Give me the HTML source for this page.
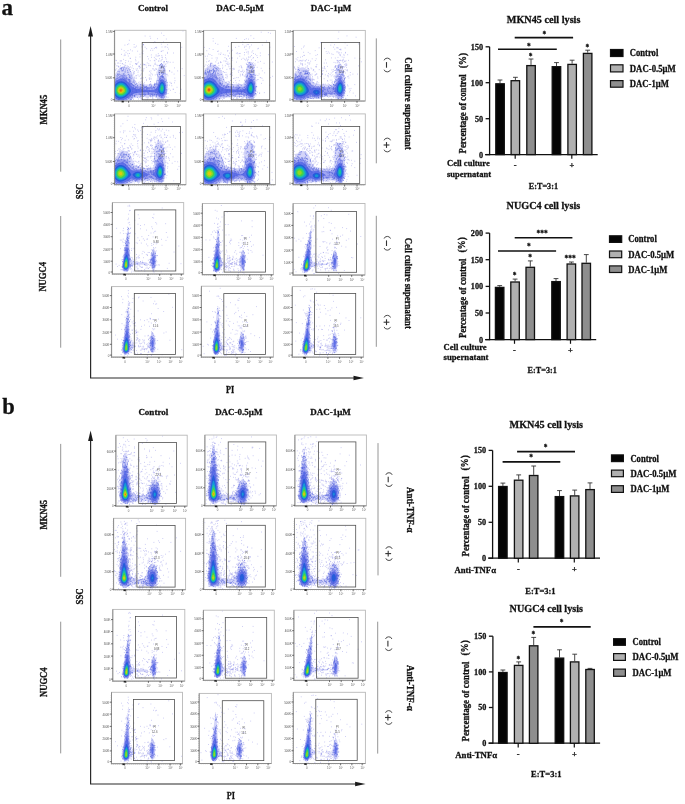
<!DOCTYPE html>
<html><head><meta charset="utf-8"><style>
html,body{margin:0;padding:0;background:#fff;width:685px;height:804px;overflow:hidden}
svg{display:block;font-family:"Liberation Serif",serif;font-weight:bold;will-change:transform;filter:blur(.35px)}
</style></head><body>
<svg width="685" height="804" viewBox="0 0 685 804" fill="#111">
<defs><filter id="bl" x="-5%" y="-5%" width="110%" height="110%"><feGaussianBlur stdDeviation=".55"/></filter><g id="a0" filter="url(#bl)"><path fill="#d4d5f9" d="M47.2 -37.3L46.2 -37.1L45.2 -36.2L43.9 -33.2L43 -29.2L42.1 -21.2L41.2 -18.3L40.2 -17.2L38.2 -16.6L33.8 -16.5L27.8 -16.7L24.3 -17.2L22.2 -18L21.1 -18.8L20.2 -19.8L17.4 -28.2L15.9 -30.8L14.2 -32.7L12.2 -34.1L9.8 -34.8L7.8 -34.5L5.4 -33.2L3.2 -30.9L.2 -26.3L-.2 -14.2L.1 -.2L.8 -0L6.2 .1L15.1 -.2L17.8 -2.1L20.2 -3.1L23.8 -3.6L28.8 -3.9L40.2 -3.9L42.5 -3.2L45.2 -1.6L46.8 -.9L48.2 -1L49.2 -1.6L51 -3.8L52.4 -7.2L53 -11.2L53.1 -15.8L51.5 -27.8L50.6 -32.2L49.2 -35.6L48.2 -36.8L47.2 -37.3Z"/><path fill="#a0a5f2" d="M47.8 -25.8L46.8 -25.7L45.2 -23.8L42.8 -17.3L41.8 -15.5L40.2 -14.5L37.2 -14.1L26.2 -14.4L22.8 -14.7L20.6 -15.2L18.8 -16.1L17.4 -17.2L13.4 -23.2L11.2 -25.3L9.8 -26L8.2 -26.1L6.8 -25.9L4.8 -25L2.2 -23.3L.2 -21.5L-.1 -10.8L.2 -1.1L1.8 -.2L11.5 -.2L16.2 -3.7L18.2 -4.7L21.2 -5.5L25.8 -5.9L40.2 -6L42.2 -5.5L46.2 -3.1L47.2 -2.9L48.2 -3.1L49.8 -4.3L51.1 -6.8L51.9 -10.2L52.1 -13.8L51.7 -17.8L50.8 -21.1L49.2 -24.3L47.8 -25.8Z"/><path fill="#5f70e8" d="M8.2 -22.3L6.2 -22.3L4.2 -21.8L2.2 -20.7L.2 -18.9L-0 -10.8L.2 -3.1L1.8 -1.9L3.8 -.9L6.2 -.5L9.2 -1L11.8 -2.3L17.8 -6.6L19.8 -7.5L22.2 -8.1L30.8 -8.9L39.2 -8.8L41.8 -8L45.2 -5.3L47.2 -4.5L48.2 -4.8L49.2 -5.6L50.6 -8.2L51.3 -12.2L50.9 -16.8L49.6 -20.2L48.8 -21.3L47.8 -21.8L46.2 -21.4L45.3 -20.2L42.8 -14.3L41.2 -12.2L39.2 -11.3L35.2 -11.1L25.2 -11.7L22.2 -12.1L19.8 -12.9L16.8 -14.9L11.8 -20.5L10.2 -21.6L8.2 -22.3Z"/><path fill="#265cda" d="M6.8 -19.8L4.8 -19.5L2.8 -18.6L.8 -16.7L.2 -16L.2 -15.2L.2 -5.7L1.2 -4.5L2.8 -3.3L4.2 -2.6L5.8 -2.3L8.8 -2.8L11.8 -4.4L15.3 -7.8L16.3 -9.2L16.5 -10.2L16.3 -11.2L15.5 -12.8L11.8 -17.4L9.2 -19.2L6.8 -19.8ZM48.2 -19L47.8 -19.2L46.8 -19L45.6 -17.8L44.3 -14.8L43.6 -11.2L43.7 -9.8L44.4 -8.2L45.8 -6.9L47.2 -6.4L48.2 -6.7L49.2 -7.8L50 -9.8L50.3 -11.8L50.3 -14.2L49.9 -16.2L49.2 -17.8L48.2 -19Z"/><path fill="#1496d7" d="M8.2 -17.9L5.8 -18.2L3.2 -17.2L1.3 -15.2L.2 -13L.2 -8.5L.7 -7.2L2.2 -5.2L4.8 -3.8L7.2 -3.8L10.2 -5L12.9 -7.2L13.9 -8.8L14.3 -9.8L14.1 -11.8L12.6 -14.2L10.8 -16.3L8.2 -17.9ZM47.8 -17.4L46.8 -17.2L45.8 -15.9L45 -13.8L44.7 -11.8L45.3 -9.2L46.2 -8.2L47.2 -7.9L48.2 -8.3L48.8 -8.9L49.3 -10.2L49.6 -12.2L49.2 -15.4L48.8 -16.5L47.8 -17.4Z"/><path fill="#1ec3a0" d="M6.8 -16.8L4.8 -16.6L2.8 -15.3L1.5 -13.2L1 -11.2L1.3 -8.8L2.2 -6.9L3.8 -5.5L5.8 -4.9L8.2 -5.3L10.7 -6.8L12.1 -8.2L12.8 -10.2L12.4 -12.2L10.8 -14.6L8.8 -16.2L6.8 -16.8ZM47.8 -15.7L47.2 -15.7L46.6 -15.2L45.7 -12.8L45.7 -11.2L46.1 -10.2L46.8 -9.5L47.2 -9.4L48.2 -10.1L48.9 -12.2L48.7 -14.2L47.8 -15.7Z"/><path fill="#46d246" d="M6.8 -15.8L5.2 -15.7L3.6 -14.8L2.4 -13.2L1.9 -11.2L2 -9.2L2.8 -7.7L4.2 -6.3L5.8 -5.9L7.8 -6.1L9.8 -7.2L11.1 -8.8L11.6 -10.2L11.2 -12.2L10.2 -13.8L8.3 -15.2L6.8 -15.8ZM47.8 -13.4L47.2 -13.7L46.8 -12.8L46.8 -12.2L47.2 -11.3L47.8 -11.8L47.8 -13.4Z"/><path fill="#96d723" d="M7.8 -14.3L6.2 -14.7L4.8 -14.3L3.8 -13.5L3 -12.2L2.7 -10.8L3 -9.2L4 -7.8L5.2 -7L6.8 -6.9L8.2 -7.5L9.7 -8.8L10.3 -9.8L10.4 -10.8L9.9 -12.2L9.2 -13.2L7.8 -14.3Z"/><path fill="#e1c80f" d="M7.2 -13.3L6.2 -13.6L5.2 -13.4L4.4 -12.8L3.8 -11.8L3.8 -9.8L4.4 -8.8L5.2 -8.2L6.2 -8L7.2 -8.2L8.1 -8.8L8.9 -9.8L9.1 -10.8L8.8 -11.8L8.1 -12.8L7.2 -13.3Z"/><path fill="#f0870f" d="M6.8 -12.4L5.4 -12.2L4.7 -11.2L4.8 -10L5.8 -9.1L7 -9.2L7.8 -10.2L7.8 -11.4L6.8 -12.4Z"/><path fill="#e63c14" d="M6.2 -11.3L5.7 -10.8L6.2 -10.2L6.7 -10.8L6.2 -11.3Z"/><g stroke-width="1" stroke-linecap="round"><path stroke="#7070e0" stroke-opacity=".42" d="M38.2 -50.7h0M48.4 -50.4h0M41 -36.7h0M56.5 -17.9h0M48.5 -1h0M22.9 -32.2h0M24.5 -34.4h0M40.1 -59.2h0M40.8 -53.5h0M22.1 -30.6h0M10.3 -55.9h0M36.4 -22.3h0M4.4 -34h0M25.9 -25.9h0M44 -45.2h0M21.5 -22.6h0M20.1 -20.3h0M24.1 -38.9h0M23.1 -37.9h0M18.9 -32.3h0M29.4 -36.1h0M23.4 -28.7h0M14.1 -34.3h0M65.6 -7.6h0M10.3 -35.5h0M53.6 -7.5h0M49.2 -39h0M49.5 -39.3h0M39.7 -40.6h0M63.1 -30.1h0M54.3 -12h0M42 -26.9h0M33.9 -35.4h0M41.7 -53.7h0M15.6 -42.8h0M19 -1.5h0M36.1 -28.1h0M10.7 -45.8h0M30.3 -36.6h0M20.8 -41.7h0M19.1 -27.6h0M7.6 -37.3h0M15.5 -36.8h0M39.9 -17.3h0M26.6 -30.7h0M52.1 -39.6h0M11.1 -35.7h0M31 -23.5h0M47 -67.9h0M29.4 -32.5h0M24.6 -24.8h0M20.9 -37.5h0M40.3 -30.9h0M41.7 -19.7h0M19.5 -56.5h0M47.2 -45.5h0M19.6 -22h0M36.2 -3.8h0M34.9 -21.5h0M4.1 -34.2h0M27.4 -54.1h0M32.6 -38.1h0M15.8 -31.5h0M40.7 -37.9h0M14.2 -57.1h0M23.4 -26.1h0M19.5 -29.4h0M35.7 -17.1h0M53 -48.6h0M36.1 -62.7h0M67.5 -32.3h0M12.8 -56.4h0M50.5 -31.9h0M39.7 -43.6h0M49.4 -38h0M69.6 -25.4h0M43.2 -35.3h0M52.3 -26.5h0M43.1 -1.5h0M27.3 -19.8h0M53.3 -25.2h0M49.7 -39.4h0M26.3 -3.5h0M19.5 -53.9h0M26.6 -22.6h0M16 -51.2h0M38.2 -2.3h0M37.2 -52.5h0M7.1 -51.7h0M25.2 -34.8h0M18.7 -28.5h0M11 -38.3h0M11.4 -48.7h0M21.7 -25.3h0M37.2 -27.2h0M55.4 -18.7h0M42.2 -28.8h0M35.9 -16.7h0M51.6 -3.9h0M29.9 -18.2h0M8.8 -41.6h0M22.3 -36.8h0M30.5 -53.8h0M21.5 -32h0M11.2 -40.5h0M53.4 -3.7h0M25.3 -46.8h0M60.4 -20.3h0M49.9 -35.5h0M12.6 -34.1h0M9.6 -45.4h0M33.8 -3.3h0M67.2 -53.7h0M9.6 -50.3h0M41.2 -32.3h0M33 -3.3h0M19.6 -24h0M26.1 -18.8h0M21.8 -54.9h0M3.8 -38h0M38.3 -2.9h0M35.4 -16.6h0M56.7 -17.4h0M13.4 -50.4h0M19.6 -27.3h0M31.6 -3.4h0M14.7 -60.7h0M43 -2.3h0M58.7 -11.7h0M38.8 -35h0M9.3 -36.6h0M41.6 -31.8h0M7.9 -37.3h0M40.6 -26.1h0M13.5 -33.9h0M33.1 -44.5h0M26.2 -22.3h0M44.2 -2h0M21.8 -37.4h0M40 -36.9h0M35.3 -35.6h0M36.7 -46.1h0M27.3 -23.2h0M47.4 -54h0M21.2 -37h0M57.2 -15.3h0M28.5 -49.9h0M31.4 -35.8h0M41 -58.7h0M36.6 -16.8h0M35.7 -25.9h0M43 -62.3h0M39.9 -17.8h0M44.6 -35.6h0M17.7 -50.1h0M42.1 -53h0M46.7 -56.8h0M34.6 -25.9h0M51 -2h0M35.4 -64.7h0M39.6 -30.7h0M2 -40.4h0M51.5 -34.8h0M59.5 -26.9h0M21.3 -40.2h0M25.3 -17.3h0M36.3 -24.1h0M36.4 -30.1h0M45 -45.4h0M55.6 -38.7h0M13.7 -45h0M6.9 -46.6h0M1.2 -30.8h0M29 -17.1h0M20.7 -53.8h0M18.2 -30.4h0M53.1 -53.6h0M24.9 -32.9h0M55.2 -29.9h0M36.1 -35.3h0M38 -26.1h0M12.6 -35.2h0M51.6 -41.9h0M47.2 -43.8h0M21.2 -43.8h0M40.7 -42.2h0M59.9 -18.2h0M32.1 -33.7h0M46.8 -41.1h0M13.2 -47.3h0M1.2 -40.7h0M50.5 -34h0M31.4 -1h0M2.2 -32.2h0M42.2 -31.7h0M62.4 -13.7h0M20 -29.1h0M48 -41.8h0M44.2 -40.1h0M24.6 -19h0M60.2 -22.9h0M35.8 -19.4h0M23.7 -18.3h0M23.1 -49.8h0M51.2 -54.2h0M30.5 -65h0M25.9 -36.6h0M58.9 -48h0M50.9 -43.4h0M23.6 -30.2h0M54.8 -30.1h0M24.5 -34.3h0M32 -21.6h0M51.8 -4.1h0M25.4 -44.1h0M38.8 -32.1h0M50.6 -36.4h0M34.2 -37.2h0M21.5 -23.1h0M21.2 -19.4h0M35.6 -40.3h0M28.4 -47.3h0M29.1 -31h0M15.8 -34.1h0M20 -23.1h0M44.2 -39.8h0M48.9 -59h0M1 -37h0M15.7 -42.5h0M66.5 -11.7h0M51.7 -62h0M28.1 -16.9h0M23.9 -2h0M14.9 -33.3h0M36.1 -50.7h0M26.7 -27.1h0M54.7 -15.8h0M48 -43.7h0M52.1 -39.3h0M50.8 -45.8h0M52.8 -47.6h0M36.5 -21.9h0M58.5 -38.7h0M60.6 -8.5h0M51.4 -37.2h0M21.3 -25.2h0M34.6 -22.8h0M68.4 -70h0M33.9 -42.1h0M39 -58.4h0M55.8 -10.7h0M35.8 -19.3h0M53.1 -38.1h0M29.8 -36.4h0M14.9 -47.5h0M59.9 -33.1h0M32.1 -52.3h0M34.8 -23h0M41.8 -41.6h0M27.5 -48h0M20.7 -19.9h0M.7 -31.2h0M47.1 -49.7h0M24.4 -35.1h0M25.8 -33.3h0M28.5 -29.8h0M13.9 -39.8h0M53.5 -39.2h0M49.3 -65.5h0M53.8 -51.9h0M54.8 -30.3h0M26.9 -2h0M33 -1.7h0M27.5 -2.2h0M6.5 -40.1h0M4 -34.7h0M25 -3.7h0M40.4 -40.1h0M6.5 -40.1h0M32 -20.4h0M57.3 -28.8h0M5.5 -40h0M37.8 -32.2h0M35 -29.7h0M28.8 -36.8h0M1.7 -35.2h0M28.5 -23.1h0M18.7 -26.2h0M21.8 -36.5h0M43.2 -44.9h0M29.1 -56.1h0M46.3 -40h0M58.6 -11.8h0M10.2 -46.9h0M26.1 -2.1h0M42.3 -36h0M3.2 -35.1h0M52.4 -26.8h0M5.8 -35.2h0M41.5 -46.1h0M53.1 -56.3h0M41.5 -44.9h0M28.7 -56.6h0M44.8 -42.3h0M36.9 -43.7h0M43.7 -47.3h0M16.4 -39.2h0M39.7 -52.6h0M17.9 -35.2h0M50.3 -54h0M27.7 -18.7h0M51.1 -30.2h0M17.3 -33.1h0M46.5 -49.7h0M3 -37.9h0M28.8 -56.4h0M5.5 -37.7h0"/><path stroke="#5060dc" stroke-opacity=".6" d="M12 -22h0M31.3 -6.2h0M28.3 -13.6h0M19.5 -18.9h0M7.9 -23.1h0M38.5 -14.2h0M38.7 -13.4h0M1.6 -20h0M44.1 -5.6h0M21.9 -17.7h0M20.7 -8.6h0M18 -11.7h0M6.6 -32h0M42.4 -12.1h0M14.8 -21h0M15.3 -23.4h0M31.8 -12.2h0M33.5 -6.9h0M35.4 -5.4h0M14.4 -26.3h0M2.2 -2.1h0M16.6 -3.1h0M48 -26.6h0M2.3 -25.3h0M41.6 -11.3h0M5.9 -22.3h0M10.4 -22.2h0M39.7 -6.3h0M50.1 -3.9h0M16 -20.9h0M22.6 -12.2h0M8.7 -27.2h0M46.7 -37.5h0M25.7 -9h0M48 -6.2h0M6.9 -21.3h0M17.7 -18.8h0M46.3 -24.7h0M27.8 -10.9h0M6.8 -33.3h0M51.8 -8.7h0M17.6 -3.2h0M41.9 -6.6h0M34.9 -16.2h0M39.5 -13.7h0M10.5 -29h0M43.2 -7h0M19.3 -11.9h0M13.8 -18.5h0M46.7 -4.6h0M7.4 -26.8h0M15.7 -16.6h0M50.5 -27.1h0M11.3 -19.1h0M4.5 -27h0M36.7 -14.6h0M30.8 -8.1h0M20.9 -10.8h0M32.1 -11.4h0M17.6 -3.9h0M34.7 -11.1h0M49.2 -29.2h0M30.2 -5.7h0M39.7 -16.1h0M13.2 -18.9h0M49.4 -27.6h0M10 -20.2h0M36.8 -15.7h0M51.1 -15.6h0M17.7 -5.2h0M20.5 -8.7h0M20.8 -12.8h0M33.3 -13.5h0M31 -13.7h0M48.4 -24.2h0M49 -33.3h0M47.3 -34.3h0M5.7 -32.7h0M11.8 -25.2h0M4.9 -29.2h0M18.2 -9.3h0M41.3 -5.9h0M50.5 -21.9h0M22.5 -13.2h0M8.3 -33.5h0M11.7 -22.7h0M42.3 -6.4h0M16.9 -17.7h0M23.4 -13.2h0M20.1 -5.6h0M37.3 -7.8h0M19.8 -17.2h0M52.1 -9.8h0M13.4 -17.3h0M1.5 -22.8h0M22.1 -13.8h0M51.1 -8.1h0M19 -15.7h0M48.8 -26.8h0M16.5 -16.7h0M17.8 -16.8h0M44.6 -22h0M25.7 -12.6h0M11.2 -19.6h0M38.4 -8.9h0M39.8 -13.2h0M17.8 -11.8h0M28.2 -15.6h0M11.6 -32.7h0M21.5 -16.3h0M46 -20.7h0M27.9 -6h0M18 -9.5h0M47.8 -24h0M44 -16.7h0M49.9 -34.4h0M10.7 -31h0M42.8 -25.2h0M32.1 -12.9h0M47.4 -34h0M52.2 -10.8h0M12.1 -23.3h0M45.7 -33.1h0M16.5 -25.8h0M16.3 -1.6h0M34.3 -8h0M45 -28.5h0M14.8 -24.4h0M29.7 -6.9h0M21.5 -6.6h0M8.2 -22.4h0M30.9 -6.4h0M45.1 -30.3h0M29.7 -12.1h0M44.9 -5.5h0M34.6 -7.1h0M16.9 -8.1h0M4.5 -23.2h0M49.4 -19.6h0M12.2 -1.4h0M41.8 -5.1h0M20.2 -15.6h0M49.5 -4h0M42.9 -11.3h0M24.8 -11.8h0M35 -12.8h0M19.7 -4.8h0M6.7 -32h0M3.4 -25.6h0M17 -1.6h0M25.4 -6.7h0M3.8 -1.1h0M29.1 -9.4h0M45.6 -20.4h0M38.9 -14h0M8.8 -1.2h0M15.1 -3.3h0M47.6 -4h0M25.6 -14.7h0M39.8 -5.8h0M40.7 -17h0M29.1 -14.6h0M52.7 -18.3h0M10.5 -26.1h0M37.7 -5.3h0M26.6 -5.1h0M45.4 -4.4h0M3.3 -26.9h0M47.9 -25.7h0M11.3 -1.8h0M13.4 -28.4h0M16 -29.5h0M40.1 -6.7h0M15.8 -1.2h0M8.9 -27h0M22.7 -15.2h0M50.3 -6.7h0M32.4 -12.1h0M2.5 -23.9h0M14.8 -21.6h0M46.1 -24.2h0M15.9 -20h0M45 -23.8h0M6 -26.2h0M41.4 -10.6h0M16.5 -24.8h0M15.5 -2.7h0M51.2 -8.7h0M16.6 -6.1h0M40.1 -15.7h0M48.6 -2.8h0M44.9 -26.6h0M46.6 -3.4h0M46.7 -3.8h0M47.9 -24.2h0M33.2 -11.9h0M18.9 -13h0M25.9 -5.8h0M44.7 -35.4h0M41.3 -7.1h0M32.4 -8.2h0M21.8 -10.6h0M1.3 -21.8h0M2.7 -22.5h0M51.8 -20.8h0M15 -23.4h0M19.3 -9h0M34.1 -12.4h0M39.8 -13h0M34.2 -7.2h0M14.7 -21h0M39.8 -16.3h0M13.4 -26h0M13.5 -21.5h0M14 -2.8h0M47.2 -27.7h0M33.6 -6.9h0M3.5 -19.9h0M50.8 -19.4h0M5 -26.7h0M17.4 -16.8h0M47.5 -28.4h0M22 -8.8h0M35.3 -15.1h0M45.3 -19h0M15.4 -6h0M10.5 -29.1h0M34 -8.4h0M46.8 -20.6h0M41.8 -10.9h0M28.8 -4.6h0M45.2 -20.7h0M42.9 -26.7h0M27.3 -16.9h0M32.1 -13.2h0M1.4 -20.8h0M20.3 -12.4h0M29 -12.7h0M10 -27.1h0M37.4 -12.1h0M7 -30.2h0M30.3 -9.4h0M20.3 -14.2h0M17.4 -23.1h0M16 -17.6h0M27.6 -15.5h0M24.4 -7.1h0M44.6 -4.3h0M41 -8.7h0M1.8 -2.9h0M13.2 -29h0M52.1 -19h0M42.1 -18.1h0M48.7 -29.8h0M21.2 -13.8h0M17 -22.2h0M51.3 -11.3h0M17 -17.5h0M49.5 -22.8h0M28.5 -6.6h0M29.2 -12.2h0M11.8 -18.6h0M19.3 -20.8h0M48.6 -24h0M33.8 -8h0M41.9 -4.7h0M14.8 -6.4h0M14.4 -24h0M38.3 -5.9h0M16 -23.8h0M19.3 -18.5h0M43 -9.1h0M51.4 -7h0M27.3 -6.7h0M49.9 -32.2h0M29.8 -13.6h0M23 -15.7h0M9.2 -23.9h0M37.1 -6.6h0M32.8 -12.7h0M23.9 -11.6h0M13 -30.6h0M52.2 -11.5h0M19.6 -4.6h0M40.2 -16.1h0M11.7 -20.3h0M26.4 -11.5h0M3.5 -1h0M35.6 -13h0M4.7 -1.4h0M43.2 -6.6h0M26.4 -13.8h0M45.9 -22.6h0M29.4 -15.9h0M32.8 -8.8h0M47.5 -24h0M9.8 -33.9h0M48.5 -5.8h0M46.9 -28.1h0M14.7 -18.6h0M17.4 -7.1h0M16 -4.4h0M30.4 -14h0M27.2 -11h0M17.1 -15.8h0M26.1 -4.4h0M17.7 -16.1h0M31.1 -14h0M43.5 -30.1h0M9.3 -23.1h0M14.9 -31.1h0M50.3 -17.6h0M13.8 -21.1h0M14.7 -20.7h0M17.2 -6.2h0M14.8 -25.5h0M14.4 -22h0M47.5 -28.8h0M37.1 -14.2h0M4.1 -25.8h0M48.8 -31h0M35.7 -5.8h0M30.3 -14.2h0M14.3 -2.2h0M47.5 -28h0M44.1 -24.1h0M27.8 -9.7h0M39.3 -7.1h0M33.4 -13.1h0M14 -26.6h0M43.8 -15.4h0M22.1 -9.5h0M36.1 -7.4h0M12 -3.5h0M23 -3.6h0M48.4 -3.1h0M38.1 -4h0M45.2 -22h0M30.1 -5.9h0M10.1 -22.7h0M9 -21.5h0M29.6 -8.8h0M25.8 -16.6h0M45.3 -21.9h0M18 -10.3h0M11.3 -21.3h0M18.9 -15.8h0M52.7 -15.9h0M3.2 -26.6h0M9.1 -31.5h0M14.3 -17.3h0M10.5 -22h0M52.2 -7.4h0M45.8 -36.4h0M23.3 -14.9h0M3.5 -29.5h0M35.4 -9.5h0M28.9 -15.2h0M30.2 -10.3h0M28.9 -9.5h0M38.2 -6.9h0M19 -15h0M12.4 -4.3h0M48.7 -24h0M46.9 -24.9h0M46.8 -1.9h0M36.2 -4.6h0M7.2 -22.5h0M15.1 -19.1h0M9 -32.7h0M29.3 -6.7h0M40.7 -8.2h0M26.1 -12.7h0M10.3 -25.5h0M36.5 -9.3h0M16.6 -19.9h0M5.4 -24.8h0M45.5 -36h0M32.4 -9.4h0M10.5 -21.8h0M20.3 -4.5h0M15.8 -22.2h0M46.6 -34h0M42.6 -20.5h0M26.2 -13.1h0M2.6 -24.6h0M20.9 -16.4h0M38.6 -5.5h0M8.6 -22.9h0M47 -34.9h0M51.2 -15.6h0M20.2 -5.4h0M47.7 -35.5h0M24.4 -10.4h0M8 -30.2h0M50 -8.5h0M3.3 -26.9h0M37.5 -7h0M48.2 -36.3h0M22.2 -10.8h0M21.2 -13.5h0M25.9 -16h0M36.7 -13h0M41.8 -6h0M9.5 -21.4h0M14.6 -15.6h0M47.4 -25h0M45.1 -26.8h0M14.9 -19.4h0M47.1 -37.1h0M2.9 -19.5h0M37.5 -12.2h0M44.6 -27.1h0M25.3 -12.8h0M34.7 -9.7h0M36.3 -6.2h0M15.5 -19.1h0M20.9 -12h0M40.6 -14.8h0M15.4 -4.4h0M35.8 -13.9h0M15.1 -14.5h0M43.6 -13.7h0M43.3 -13.7h0M49.8 -31h0M14.7 -16.1h0M27.5 -13.1h0M42.3 -16.7h0M17.6 -7.1h0M15.3 -17.3h0M8.8 -30.3h0M41.5 -3.9h0M17.8 -6.2h0M6.6 -32.4h0M29.6 -7.9h0M52.4 -14h0M32 -14.6h0M19.7 -5.2h0M18.7 -19.7h0M17.8 -5.1h0M8.2 -24.8h0M13.8 -3.5h0M9.1 -26.2h0M14.3 -32.3h0M26.2 -6.4h0M7.3 -25.3h0M22.3 -8.4h0M8 -30.3h0M49 -27.7h0M31.1 -10.2h0M15.1 -17.5h0M46.8 -19.6h0M13 -3.6h0M25.4 -7h0M37.6 -6.2h0M28.1 -11.7h0M15.3 -1h0M32 -14.3h0M48.4 -34h0M41.5 -16.9h0M18.8 -13.7h0M18.3 -15.1h0M50.1 -7.9h0M43.8 -20.4h0M24.3 -11.7h0M42.2 -17.1h0M43 -8.9h0M16.1 -5.5h0M44.3 -28.4h0M17.1 -3.4h0"/></g></g><g id="a1" filter="url(#bl)"><path fill="#d4d5f9" d="M46.8 -39.3L45.8 -39.1L44.8 -38.1L43.8 -36.3L43.1 -34.2L42.3 -29.8L41.7 -21.8L41.1 -18.8L39.9 -17.2L37.8 -16.6L29.2 -16.9L25.8 -17.4L23.2 -18.2L21.9 -19.2L21.2 -20.2L19.6 -26.2L18.1 -29.8L16.4 -32.2L14.5 -34.2L11.8 -36L9.2 -36.6L6.8 -36.2L4.2 -34.7L2.2 -32.6L.2 -29.5L-.2 -15.2L0 -.2L.2 -0L5.8 .1L14.6 -.2L17.2 -1.9L19.8 -2.9L23.8 -3.5L30.2 -3.9L37.8 -3.9L40.8 -3.7L42.2 -3.3L45.2 -1.4L46.8 -.9L48.2 -1.1L49.2 -1.7L50.8 -3.8L52.2 -7.2L52.9 -11.8L52.9 -16.2L51.4 -29.2L50.5 -33.8L49.8 -36.1L48.8 -38L47.8 -39L46.8 -39.3Z"/><path fill="#a0a5f2" d="M9.2 -27.8L7.2 -27.8L5.2 -27L2.8 -25.3L.2 -23.2L-.1 -16.2L-.1 -6.2L.2 -.7L.8 -.4L4.2 -.1L10.3 -.2L16.8 -4.2L19.2 -5.1L22.2 -5.5L31.2 -6L40.2 -5.9L42.2 -5.4L45.8 -3.2L47.2 -2.9L48.8 -3.5L50.2 -5.4L51.1 -7.2L51.7 -9.8L51.9 -12.8L51.7 -16.2L51.2 -19.2L50.2 -22.2L48.8 -25.3L47.8 -26.5L46.8 -26.7L45.8 -25.7L44.2 -22.5L42.2 -16.7L41.2 -15.2L40.2 -14.6L38.8 -14.3L31.8 -14.2L23.2 -14.9L20.8 -15.4L18.9 -16.2L16.8 -18.2L12.8 -25.3L11.2 -26.8L9.2 -27.8Z"/><path fill="#5f70e8" d="M8.8 -22.9L6.8 -23.2L4.8 -23L2.2 -21.9L.2 -20.4L-.1 -11.2L.2 -2.7L2.8 -1.2L5.2 -.8L8.2 -1.2L10.8 -2.4L17.2 -6.6L19.8 -7.5L22.8 -8L32.8 -8.8L39.2 -8.7L41.2 -8.1L45.2 -5.1L46.8 -4.5L47.8 -4.7L48.8 -5.3L50.3 -7.8L51.1 -11.8L50.8 -16.2L49.7 -19.8L48.8 -21.2L47.8 -22L46.8 -22L46.2 -21.7L45.2 -20.6L42.2 -13.8L40.8 -12L38.8 -11.4L34.2 -11.3L24.2 -12L21.2 -12.6L18.8 -13.4L17.2 -14.3L15.8 -15.6L11.2 -21.3L8.8 -22.9Z"/><path fill="#265cda" d="M7.2 -20.3L5.8 -20.4L3.8 -20.1L1.8 -19L.2 -17.6L0 -11.2L.2 -5L2.2 -3.4L4.2 -2.7L7.2 -2.9L10.2 -4.2L14.1 -7.2L15.4 -8.8L15.9 -9.8L16 -10.8L15.6 -11.8L12.1 -16.8L9.8 -19.1L7.2 -20.3ZM47.2 -19.3L46.2 -18.9L45.1 -17.2L44 -14.2L43.3 -11.2L43.5 -9.8L44.2 -8.2L45.2 -7.1L46.8 -6.4L47.8 -6.5L49 -7.8L49.8 -9.8L50.2 -12.2L50.1 -14.8L49.4 -17.2L48.2 -18.9L47.2 -19.3Z"/><path fill="#1496d7" d="M5.8 -18.8L3.8 -18.4L1.7 -17.2L.2 -15.5L.2 -13.8L.2 -7L2.2 -4.9L3.8 -4.2L5.2 -4L7.8 -4.5L10.8 -6.2L12.8 -8.2L13.6 -10.2L13.6 -11.2L13 -12.8L10.5 -16.2L8.2 -18.1L5.8 -18.8ZM47.8 -17.4L46.8 -17.4L45.8 -16.4L44.9 -14.2L44.5 -12.2L44.6 -10.8L45.1 -9.2L45.8 -8.4L46.8 -7.9L47.8 -8.1L48.4 -8.8L49.1 -10.2L49.4 -11.8L49.1 -15.2L48.4 -16.8L47.8 -17.4Z"/><path fill="#1ec3a0" d="M6.2 -17.3L4.2 -17.2L2.4 -16.2L1.1 -14.8L.2 -12.6L.2 -9.8L1 -7.8L2.8 -6L4.8 -5.2L6.8 -5.4L9.2 -6.7L11.1 -8.2L12 -10.2L11.7 -12.2L10.2 -14.8L8.2 -16.5L6.2 -17.3ZM47.2 -15.8L46.2 -15.1L45.5 -12.8L45.8 -10.5L46.8 -9.4L47.8 -9.7L48.2 -10.2L48.7 -12.2L48.3 -14.8L47.8 -15.6L47.2 -15.8Z"/><path fill="#46d246" d="M5.8 -16.3L3.8 -16L2.2 -14.8L1.3 -13.2L.9 -11.2L1.3 -9.2L2.1 -7.8L3.8 -6.5L5.2 -6.2L7.2 -6.6L9 -7.8L10.3 -9.2L10.7 -10.8L10.4 -12.2L9.2 -14.2L7.5 -15.8L5.8 -16.3ZM47.2 -13.8L46.8 -13.5L46.5 -12.2L46.8 -11.5L47.2 -11.3L47.8 -12.8L47.2 -13.8Z"/><path fill="#96d723" d="M6.8 -14.9L5.2 -15.2L4.2 -15L3.1 -14.2L2.1 -12.8L1.9 -10.8L2.2 -9.3L3.2 -8L4.2 -7.4L5.8 -7.2L7.2 -7.7L8.4 -8.8L9.3 -10.2L9.4 -11.2L8.9 -12.8L7.8 -14.2L6.8 -14.9Z"/><path fill="#e1c80f" d="M6.2 -14L5.2 -14.1L4.1 -13.8L3.2 -12.9L2.8 -11.8L2.8 -10.8L3.2 -9.4L4.8 -8.3L5.8 -8.3L6.8 -8.7L8 -10.2L8.1 -11.2L7.9 -12.2L7.2 -13.3L6.2 -14Z"/><path fill="#f0870f" d="M6.2 -12.9L4.8 -13L3.8 -11.9L3.8 -10.2L4.8 -9.3L5.8 -9.3L6.9 -10.2L7.1 -11.8L6.2 -12.9Z"/><path fill="#e63c14" d="M5.8 -12.1L5.2 -12.2L4.8 -11.9L4.5 -11.2L4.8 -10.4L5.2 -10.2L5.8 -10.3L6.2 -10.8L6.2 -11.3L5.8 -12.1Z"/><g stroke-width="1" stroke-linecap="round"><path stroke="#7070e0" stroke-opacity=".42" d="M7.2 -36.8h0M22.1 -26.2h0M30.8 -31.8h0M39.1 -2.9h0M35.3 -54.7h0M22.9 -42.5h0M25.3 -34.3h0M5 -47h0M3.3 -42.1h0M3.1 -39.2h0M25.2 -18.8h0M22.1 -23.4h0M6 -40.2h0M26.9 -20.5h0M39.5 -42.7h0M26.6 -26.5h0M8.4 -37.6h0M57.2 -23.3h0M45.3 -43.5h0M60.5 -37.7h0M14.3 -56.7h0M19.2 -33.8h0M30 -18.5h0M42.7 -37.6h0M27.6 -20.9h0M31.3 -22.8h0M56.7 -48h0M36.7 -25.2h0M66.4 -53.8h0M51.8 -46.7h0M28.1 -34.9h0M51.3 -37.1h0M9.6 -59.9h0M40.5 -17.9h0M23.3 -26.6h0M24.8 -44.9h0M40.8 -53.4h0M53.6 -33.7h0M29.4 -3.1h0M56 -7.8h0M54 -43.5h0M51.9 -40.5h0M37.4 -35.3h0M20.6 -2.8h0M12 -57.6h0M36.7 -26.7h0M51.7 -35.8h0M22.7 -37.3h0M21.7 -35.3h0M43.6 -56.5h0M41.2 -54.7h0M27.2 -2.3h0M44.7 -41.7h0M27.6 -24.7h0M52.2 -5h0M45.2 -44.3h0M42.8 -36.5h0M42.6 -54.9h0M13.9 -49.6h0M34.7 -30.1h0M39 -25.8h0M27.4 -27.4h0M26 -42.6h0M54.8 -52.7h0M29.2 -32.3h0M39.2 -56.4h0M28.5 -28.2h0M9.5 -51.5h0M34.7 -23.4h0M24.5 -45.3h0M16.7 -32.5h0M40.9 -41.8h0M40 -3.2h0M8.2 -37.8h0M1 -53.6h0M4 -35.4h0M23.3 -31.6h0M1.7 -44.7h0M35.6 -3.8h0M28.4 -42.8h0M38.9 -26.7h0M47.8 -56.1h0M1.5 -32.1h0M42.8 -42.8h0M5.7 -52.4h0M50.2 -62.6h0M31.8 -53.6h0M42.7 -62.3h0M38.5 -3.2h0M33.1 -2.4h0M36.4 -47.6h0M66.2 -15.8h0M48.3 -48.9h0M14.5 -37.4h0M26 -32.2h0M61.1 -28.2h0M15 -38.1h0M44.1 -38.9h0M35.7 -20.3h0M49.4 -42.8h0M44.5 -49.6h0M53.2 -20.3h0M5.2 -36.6h0M38.8 -29.8h0M34.6 -17h0M29.9 -31.8h0M53.3 -45.4h0M47.9 -45.5h0M54.6 -21.5h0M23.7 -24.3h0M42.4 -51.3h0M35.6 -34.2h0M7 -36.5h0M21.5 -46h0M24.1 -36.6h0M12.2 -39.1h0M22.4 -28.6h0M8.4 -42.8h0M28.5 -40.8h0M.7 -34.7h0M20.1 -2.9h0M56.1 -7.9h0M13.2 -41h0M50.5 -35.5h0M30.3 -32.7h0M23.3 -41.5h0M6.4 -46.5h0M28.5 -43.2h0M46.2 -54.4h0M17.5 -38.6h0M23.3 -23h0M32.7 -62.6h0M47 -44.2h0M41.4 -24.4h0M28.9 -50.8h0M22.3 -40.1h0M56.7 -45.3h0M66.9 -23.3h0M18.9 -32.4h0M56.6 -23.5h0M64.7 -68.4h0M20.5 -2.9h0M36.8 -1.3h0M38 -41.7h0M32.1 -20.4h0M52.6 -6.2h0M64.9 -46.3h0M7.1 -37.8h0M18.8 -1.3h0M37.2 -29.4h0M57.6 -32.7h0M49.1 -37.4h0M24.3 -37.4h0M41 -20.8h0M16.8 -39.3h0M57.6 -68.8h0M28.4 -30.8h0M25.1 -36.2h0M33.2 -23.4h0M17.1 -38.4h0M40 -28.6h0M40.5 -25.2h0M37.6 -2.4h0M15.3 -35.3h0M34 -42.8h0M14 -43h0M40.8 -46.2h0M25.9 -18.6h0M32.7 -47.7h0M16.8 -46.5h0M37.7 -33.8h0M15 -49.9h0M29.9 -2.4h0M35.6 -30.8h0M58.7 -55.9h0M19.9 -29.2h0M19.7 -46.6h0M33 -3.7h0M59.4 -20.7h0M36.2 -44.8h0M23.4 -25.3h0M26.3 -37.2h0M44.1 -40.4h0M49.5 -38.4h0M21.4 -43.4h0M38 -34.2h0M25 -54.7h0M22.3 -39.4h0M28.8 -25.8h0M34 -48.2h0M2.3 -36.1h0M43 -48.8h0M52.7 -7.3h0M3.2 -50.3h0M45 -56.4h0M38.1 -29.3h0M40.8 -48.5h0M50.8 -33.6h0M20.4 -40.1h0M53.6 -21.4h0M8.3 -45.5h0M28 -42.9h0M54 -8.8h0M34.4 -47.2h0M27.5 -28.9h0M38.4 -33.1h0M27.7 -34.2h0M68.7 -39h0M41.8 -26.1h0M6.9 -37.4h0M49.2 -50.2h0M49.9 -47.5h0M17.4 -48h0M34.2 -2.5h0M19.4 -29.4h0M24.3 -50.4h0M54.4 -38.8h0M24.3 -38.9h0M56.9 -39.6h0M50 -43.5h0M32.6 -18.1h0M3.9 -44.9h0M39.2 -59h0M54.3 -25.5h0M30 -22.5h0M53.2 -14.4h0M9.5 -62.5h0M20.8 -28.5h0M12.5 -43.1h0M35.1 -28.7h0M25.8 -47.8h0M33 -38.9h0M55.5 -27.1h0M58 -17.6h0M42.7 -2.6h0M45.7 -53h0M41.1 -61.5h0M4.9 -39.7h0M26.8 -26.8h0M7.6 -37.7h0M25.2 -19.4h0M52.4 -25.9h0M47.3 -65.3h0M62.8 -60h0M69.1 -24.7h0M44.9 -61.9h0M47.9 -41.2h0M58.4 -22.7h0M44.6 -47.1h0M44.6 -48.7h0M15.3 -47h0M43.5 -41.2h0M58.7 -30.2h0M40.7 -29.7h0M60.7 -8.4h0M39.2 -26.8h0M27.8 -49.9h0M23.8 -49.9h0M35.2 -17h0M36.2 -47.5h0M23.4 -19.2h0M41.2 -20.6h0M42.1 -41h0M17.6 -30.5h0M54.2 -52.2h0M27.1 -32.3h0M67 -67.7h0M66 -32.5h0M19 -35.8h0M35.9 -16.7h0M39.3 -30.9h0"/><path stroke="#5060dc" stroke-opacity=".6" d="M16.3 -12.3h0M27.6 -13.7h0M49.4 -4.4h0M25.1 -8.1h0M27.9 -12.8h0M5.2 -28.6h0M46.4 -24.6h0M18.4 -6.7h0M5.6 -29.2h0M11.2 -19.8h0M5.4 -27.8h0M12.5 -29.6h0M51.3 -17.9h0M23.2 -8.2h0M22.7 -15.5h0M4.2 -23.4h0M52.4 -14.3h0M4.9 -22h0M11.4 -30.2h0M16.5 -5.3h0M49 -4.6h0M38.1 -8.8h0M2.1 -29.7h0M2 -28.5h0M2.3 -26.2h0M6.2 -22.9h0M7.7 -30.2h0M37.7 -15.4h0M22.4 -10h0M36.6 -4.6h0M4.7 -2.4h0M2.2 -30.6h0M.8 -21.2h0M16.9 -17.8h0M51.6 -25.6h0M19.9 -8.5h0M39.7 -7.2h0M36.1 -7.7h0M47 -26.4h0M31.9 -5.2h0M7.3 -1.2h0M31.9 -4.9h0M17.4 -22.3h0M4.4 -27.1h0M46.3 -32.6h0M48.2 -26.5h0M45.6 -22.5h0M25.6 -10.4h0M48.7 -29.6h0M10.2 -24.9h0M15.5 -2.1h0M22.6 -13.7h0M23.6 -13.8h0M24.6 -5.1h0M48.7 -2.8h0M9.2 -21h0M52.9 -14.4h0M8.2 -2.9h0M19 -16.8h0M1.1 -23.5h0M50.8 -6h0M32.2 -9.4h0M43.6 -20.3h0M36.5 -13.6h0M28.1 -13.1h0M10.9 -3.3h0M29.7 -9.3h0M48.3 -24.7h0M1.5 -21.3h0M3.9 -29.3h0M27.4 -4.3h0M25.4 -11.6h0M5.3 -27.3h0M18.5 -17.8h0M11.5 -20.9h0M43 -24.5h0M22.4 -18.5h0M50.6 -26.2h0M6.1 -31h0M40.7 -8.4h0M47.6 -24.3h0M35.7 -13.5h0M10.3 -29h0M17 -9.2h0M34.7 -11.8h0M43.1 -21.1h0M47.4 -5.4h0M22.7 -11h0M43.8 -27.9h0M37.3 -16.3h0M30.6 -4.1h0M1.6 -21.6h0M8.3 -30.4h0M42.7 -10.7h0M26.3 -6.8h0M43.3 -17.8h0M8.6 -25.1h0M47.8 -30.8h0M35.6 -12.3h0M40 -11.5h0M10.3 -19.6h0M20.6 -13.8h0M26.9 -6.6h0M48.2 -29.1h0M45.6 -22.4h0M29.4 -5.5h0M18 -8.9h0M51.6 -12.1h0M9.6 -31.4h0M30.3 -10.6h0M10.1 -32.6h0M15.9 -2.4h0M47.4 -30.1h0M22.8 -13.3h0M14.5 -22.5h0M18.7 -11.3h0M50.7 -21.4h0M17.6 -16.2h0M33.4 -8.1h0M13.3 -21.9h0M37.9 -7.9h0M10.7 -35.6h0M21.9 -13.4h0M20.9 -15.7h0M11.4 -29.2h0M27.9 -12.5h0M36.4 -7.4h0M26.6 -6.8h0M.8 -20.5h0M12.4 -26h0M25.9 -11.4h0M16.4 -26.4h0M15.8 -20.5h0M41 -10.5h0M33.3 -7.2h0M29.1 -16.3h0M35.9 -4h0M20.2 -6.7h0M10.7 -27h0M44.8 -22.1h0M19.2 -11.1h0M9.1 -23.5h0M15.5 -19.7h0M9.7 -28.7h0M4.2 -28.3h0M31.4 -10h0M49.5 -26.5h0M37.9 -6.6h0M32.5 -12h0M38.8 -6.6h0M29.9 -7.6h0M16 -14.2h0M2.7 -21.2h0M34.9 -12.5h0M43.6 -19.2h0M34.5 -12.5h0M4.3 -32.1h0M1 -3.3h0M35.6 -13.1h0M25 -14.5h0M37.4 -7.7h0M33.5 -7.9h0M32.3 -13.6h0M45.7 -2.9h0M13.6 -33.1h0M12.7 -16.7h0M25.9 -10h0M12.3 -1.2h0M23 -14.7h0M50.5 -34h0M33.5 -15.8h0M12.8 -2.7h0M51.4 -23.5h0M33.6 -11.5h0M39.7 -9.7h0M36 -13.7h0M21 -5.1h0M45.5 -19.5h0M44.1 -31h0M20.2 -15.6h0M44.5 -22.4h0M12.6 -3.8h0M26.4 -14.1h0M9.4 -31.6h0M12.6 -5.1h0M19.8 -21.5h0M27.8 -10.8h0M23 -7.5h0M18.1 -5.6h0M51.1 -17.7h0M47.3 -26.5h0M10 -28.5h0M25 -14.3h0M46.4 -20.8h0M48.4 -31.4h0M4.3 -24.6h0M2.9 -27.8h0M13.2 -22.4h0M42.8 -5.5h0M15.5 -15.5h0M25.3 -16.9h0M18.2 -11.3h0M43.2 -2.7h0M8.2 -21.8h0M45.5 -33.7h0M45.6 -38.6h0M9.9 -28.8h0M52.3 -9.7h0M45.5 -35.7h0M23.6 -16.8h0M34.8 -14.9h0M49.1 -4.3h0M43.1 -31.6h0M17.9 -5h0M18.8 -24h0M46.1 -29.2h0M39.9 -5.6h0M6.8 -26.7h0M35.8 -6.3h0M40.5 -13.6h0M16.6 -17h0M1.7 -27.3h0M41.1 -5.6h0M6.8 -34.8h0M13.9 -31.2h0M48.1 -20.9h0M18.4 -13.4h0M6.9 -30.2h0M49.7 -21.5h0M27.9 -14.3h0M38 -8.6h0M49.7 -26.8h0M7 -28.1h0M9.9 -29.7h0M27.5 -12h0M18 -7.5h0M50.2 -8.6h0M40.5 -9.6h0M17.1 -17.4h0M12.7 -32.2h0M46 -27.4h0M16.1 -8.8h0M27.4 -10.7h0M37.5 -7.3h0M8.9 -25.8h0M41.6 -8.6h0M24 -11.3h0M42.1 -18.3h0M30 -14.8h0M16.9 -14.3h0M2.7 -27h0M48 -29.9h0M47.4 -4.5h0M48 -24.6h0M21.7 -8.5h0M51.4 -14.7h0M11.9 -32.7h0M2.1 -2.8h0M3.6 -28.9h0M14.8 -27.2h0M33.2 -11.6h0M19.9 -12.9h0M16.1 -22h0M31.6 -9.9h0M47.3 -20.5h0M12 -28.3h0M15.1 -4.9h0M42.1 -8.5h0M50.7 -16.9h0M42.1 -11.7h0M12.3 -25.1h0M45.4 -38.3h0M35.4 -7.3h0M15.2 -32.8h0M49.5 -20.1h0M49.9 -2.1h0M1.4 -28.3h0M45.7 -1.1h0M26.1 -4.4h0M43.3 -18.9h0M17 -5.5h0M51.7 -7.3h0M7 -35.9h0M12.2 -19.6h0M49.3 -31.9h0M50.5 -12.6h0M42 -16.6h0M34.3 -8.9h0M18 -26.5h0M16.9 -4.2h0M17.8 -15.9h0M12.9 -30.7h0M4.6 -29h0M9.8 -2.3h0M21.1 -7.7h0M43.1 -23.4h0M4.7 -21.6h0M24.3 -15.1h0M11.9 -26.7h0M8.8 -27.5h0M16.1 -23.4h0M16.1 -21.6h0M15.3 -25.4h0M27.6 -6.3h0M44.4 -33.8h0M12.5 -24.2h0M19.4 -4.7h0M46.8 -36.4h0M20 -14.6h0M33.4 -13.3h0M7.5 -30.2h0M20.4 -4.7h0M16.8 -20.1h0M33.9 -12.8h0M44.2 -26h0M29.1 -6.5h0M36.1 -6.4h0M30.9 -5.4h0M22.3 -6.8h0M38.5 -9.4h0M46.7 -19.5h0M41.6 -19.3h0M40.2 -6.2h0M44.6 -21.7h0M10 -1.9h0M4.9 -21.4h0M27.7 -16.6h0M6.1 -30.4h0M48.3 -23.1h0M44.5 -7h0M11 -29.7h0M49.3 -25.8h0M33.4 -14.4h0M37.8 -9.6h0M12 -35.8h0M48.1 -36.1h0M9.5 -27.6h0M10.1 -34.7h0M10.1 -22h0M14.9 -30.2h0M51.7 -10.6h0M41.4 -8.6h0M41.1 -6.1h0M34.5 -10h0M46.5 -37.8h0M6.1 -23.5h0M47.5 -2.5h0M37.4 -9.4h0M34.4 -11.5h0M11.2 -33.5h0M24.4 -16.7h0M33.1 -6.3h0M14.2 -23.2h0M44.7 -3.5h0M45.1 -20.5h0M42.3 -6.1h0M10.2 -30.4h0M23 -4.7h0M50.1 -33h0M4.1 -31.1h0M46.8 -36.4h0M24.5 -5.4h0M50 -30.1h0M48.6 -32.6h0M37.2 -9.5h0M27.9 -5.1h0M23.7 -5.1h0M43.6 -25.8h0M34.7 -7.6h0M19 -13h0M6 -29h0M23.8 -15.6h0M.9 -22.6h0M37.1 -11.1h0M4.9 -26.1h0M22.2 -8.2h0M17.5 -20.8h0M6.2 -28.9h0M29.9 -5.4h0M1.6 -27.2h0M46.9 -23.8h0M48.2 -33.6h0M40.5 -4.6h0M44.4 -34.8h0M41 -13.5h0M51.1 -22.4h0M46.4 -34.8h0M8.3 -26.7h0M16.9 -18.3h0M22 -14.2h0M3.1 -26.2h0M1.8 -28.3h0M40.9 -16.2h0M12 -23.2h0M48.4 -29.1h0M7.1 -24.4h0M34.6 -8.1h0M1.2 -27.1h0M44 -7h0M34.5 -15.5h0M34.1 -10.8h0M9.5 -24h0M5.9 -30h0M49.1 -7h0M42.9 -6.2h0M10.8 -25.2h0M12.8 -23.8h0M23.2 -14h0M16.1 -17.2h0M39.4 -11.8h0M41.8 -19.6h0M35.5 -4.7h0M27.1 -10.1h0M22.9 -6.9h0M47.1 -27.1h0M8.1 -24.9h0M44 -24.1h0M45.1 -27.3h0M23.1 -9.7h0M17.9 -8h0M51.5 -10.9h0M10 -31h0M23.9 -5.8h0M.9 -18.6h0M22.3 -4.3h0M41 -11.2h0M43.1 -4.9h0M43.8 -24.3h0M49.4 -24h0M33.8 -9.5h0M27.9 -12h0M44.3 -18.1h0M37.8 -4.6h0M43.7 -6.5h0M15.3 -13.9h0M27.4 -8.9h0M46.2 -26.7h0M25 -13.9h0M13.6 -4.7h0M20 -5.5h0M45.5 -27.7h0M43.1 -19.4h0M47.6 -33.9h0M39 -10h0M36.2 -9.4h0M23.3 -10.5h0M18.3 -11h0M42.8 -11.1h0M29.8 -14h0M13.6 -26h0M12.5 -23.5h0M50.4 -3.4h0M51.1 -19.1h0M16.1 -14.8h0M31.4 -6.6h0M51.6 -13.4h0M48.8 -5.5h0M37.2 -11.6h0M42.7 -20.5h0M50.1 -24h0M50.8 -30.2h0M11.1 -30.4h0M12.9 -32.2h0M48.1 -25.7h0M49.6 -5.7h0M4.4 -29.2h0M51.4 -6.9h0M14 -27.8h0M18.5 -17.6h0M43.6 -36.4h0M35 -12.7h0M48.2 -28.9h0M25.3 -5.3h0M38.7 -12.6h0M13.1 -16.3h0M35.4 -14h0M46.6 -4.4h0M24.2 -10.7h0M23.8 -10.1h0M11.9 -27.6h0M18.7 -19.3h0M22.7 -9.4h0M45.1 -34.7h0M43.1 -3.6h0M43.8 -25.6h0M48.7 -24.4h0M43.3 -15.5h0M47.5 -23.1h0M15.9 -18.2h0M31.7 -7h0M23.4 -6.6h0M49.8 -35.9h0M19.3 -5.7h0M48.4 -21h0M50 -6h0M22 -11.8h0M45.9 -22.2h0M47.6 -5.9h0M51.9 -7.5h0M11.2 -23.9h0M34.1 -4.1h0M6 -29.7h0M41.6 -14.5h0M6.6 -25.3h0M47.8 -4.5h0M50.5 -16.3h0M50.3 -28.1h0"/></g></g><g id="a2" filter="url(#bl)"><path fill="#d4d5f9" d="M47.2 -37.5L46.2 -37.7L45.2 -37.2L44.2 -35.8L43.6 -34.2L42.7 -30.2L41.8 -20.9L41 -18.2L39.8 -16.6L37.8 -16.1L34.2 -16L29.8 -16.3L23.7 -17.2L21.2 -18.1L20.2 -18.8L19.2 -20.2L16.5 -27.8L15.2 -29.9L13.7 -31.8L11.8 -33.1L9.8 -33.7L7.8 -33.4L5.8 -32.2L3.8 -30.2L.2 -25.9L-.2 -12.2L-.1 -4.8L.2 -.7L.9 -.2L3.2 -.1L13 -.2L15.9 -1.8L17.8 -2.3L24.2 -2.1L30.8 -3.9L36.2 -4.4L39.2 -4.3L41.2 -4L45.2 -1.6L46.2 -1.3L47.8 -1.3L48.8 -1.9L50.3 -3.8L51.6 -6.8L52.4 -10.8L52.5 -14.8L52.1 -19.2L50.1 -31.8L48.8 -35.7L47.2 -37.5Z"/><path fill="#a0a5f2" d="M9.2 -25.8L7.2 -25.9L4.8 -25.1L2.2 -23.6L.2 -21.9L-.1 -12.2L.2 -3.2L2.8 -1.5L5.2 -.8L8.2 -.8L10.8 -1.6L16.8 -4.4L18.2 -4.4L22.2 -3.5L24.2 -3.5L26.2 -4.1L30.8 -6L35.8 -6.7L40.8 -6.4L42.2 -5.7L45.2 -3.6L46.8 -3.2L48.4 -3.8L50 -5.8L50.9 -8.2L51.4 -10.8L51.5 -13.8L51.2 -16.8L50.5 -19.8L49.5 -22.2L48.2 -24.2L47.2 -24.9L46.2 -24.8L44.8 -23.1L42.2 -16.7L41.2 -14.8L40.2 -14L39.2 -13.7L35.8 -13.5L30.2 -13.9L20.8 -15.2L19.1 -15.8L17.2 -17.2L14.2 -21.8L12.8 -23.7L11.2 -25L9.2 -25.8Z"/><path fill="#5f70e8" d="M7.8 -22.8L5.8 -22.7L3.8 -22.1L1.8 -20.7L.2 -19.2L0 -12.2L.2 -5.5L2.8 -3.4L5.2 -2.5L8.2 -2.6L10.8 -3.4L15.8 -6L17.2 -6.4L18.2 -6.3L21.8 -4.8L24.2 -4.6L26.8 -5.8L30.5 -9.2L30.7 -10.2L30.3 -10.8L26.8 -12.6L23.8 -13.2L19.2 -13.3L17.8 -13.8L16.1 -15.2L11.8 -20.9L9.8 -22.3L7.8 -22.8ZM47.2 -21.4L45.8 -20.9L44.5 -19.2L41.1 -10.2L41.8 -8.8L44 -6.2L45.2 -5.3L46.8 -4.8L48.2 -5.4L49.3 -6.8L50.3 -9.2L50.7 -12.2L50.5 -15.2L49.8 -18.2L48.8 -20.3L47.2 -21.4Z"/><path fill="#265cda" d="M7.2 -20.3L5.2 -20.2L3.2 -19.3L1.5 -17.8L.2 -15.6L.2 -9.8L.5 -8.2L1.5 -6.8L2.8 -5.6L4.2 -4.8L5.8 -4.4L8.2 -4.6L11.8 -6L14.6 -8.2L15.4 -9.2L15.7 -10.2L15.6 -11.2L15 -12.8L11.8 -17.6L9.8 -19.4L7.2 -20.3ZM23.8 -11.3L22.2 -11.3L20.9 -10.8L20.2 -10.2L19.8 -9.2L20 -8.2L20.7 -7.2L21.8 -6.4L22.8 -6.1L24.8 -6.4L25.9 -7.2L26.4 -8.2L26.5 -9.2L26 -10.2L25.2 -10.8L23.8 -11.3ZM47.2 -18.8L46.2 -18.6L45.1 -17.2L44.1 -14.8L43.5 -11.8L43.7 -9.8L44.4 -8.2L45.8 -7L46.8 -6.7L47.8 -7.1L48.8 -8.3L49.5 -10.2L49.7 -12.2L49.6 -14.8L49 -16.8L48.2 -18.1L47.2 -18.8Z"/><path fill="#1496d7" d="M8.2 -18.3L5.8 -18.6L3.8 -17.8L2.1 -16.2L1 -13.8L.9 -11.2L1.7 -8.8L3.2 -7L5.2 -6L7.8 -6L10.8 -7.1L12.7 -8.8L13.4 -10.2L13.2 -12.2L12.1 -14.8L10.2 -17L8.2 -18.3ZM23.2 -9.3L22.5 -8.8L22.6 -8.2L23.2 -7.9L24 -8.2L24.1 -8.8L23.8 -9.2L23.2 -9.3ZM47.2 -16.9L46.2 -16.7L45.5 -15.8L44.9 -14.2L44.6 -12.2L44.7 -10.8L45.2 -9.3L45.8 -8.7L46.8 -8.3L47.7 -8.8L48.2 -9.4L48.9 -12.2L48.5 -15.2L48 -16.2L47.2 -16.9Z"/><path fill="#1ec3a0" d="M7.8 -16.9L5.8 -17.1L4.2 -16.5L3 -15.2L2.2 -13.2L2.1 -11.2L2.9 -9.2L4.2 -7.9L5.8 -7.3L7.8 -7.4L9.8 -8.2L11 -9.2L11.7 -10.8L11.6 -12.2L10.7 -14.2L9.2 -16L7.8 -16.9ZM47.2 -14.9L46.8 -15L46.2 -14.6L45.6 -12.8L45.8 -11.1L46.2 -10.3L46.8 -10.1L47.6 -10.8L48 -12.2L47.9 -13.8L47.2 -14.9Z"/><path fill="#46d246" d="M6.8 -15.8L5.2 -15.6L4.2 -14.9L3.5 -13.8L3.2 -12.2L3.4 -10.8L3.9 -9.8L5.2 -8.8L6.2 -8.5L7.8 -8.7L8.8 -9.2L9.9 -10.2L10.2 -11.2L10.1 -12.8L9.2 -14.2L8.2 -15.2L6.8 -15.8Z"/><path fill="#96d723" d="M7.2 -13.9L5.8 -14L4.8 -13L4.7 -11.2L5.8 -10.2L7.2 -10.3L8.3 -11.2L8.3 -12.8L7.2 -13.9Z"/><g stroke-width="1" stroke-linecap="round"><path stroke="#7070e0" stroke-opacity=".42" d="M23.3 -34.7h0M40.4 -3.5h0M4.3 -31.1h0M47.8 -51.1h0M29.2 -26.9h0M54 -55.7h0M50.2 -41.8h0M35.2 -24.2h0M1.3 -33h0M51.5 -29.3h0M35.2 -27.5h0M46.9 -46.5h0M26 -31.4h0M20 -30.4h0M16 -36.8h0M38 -28h0M53.5 -35.6h0M25.6 -18.1h0M15.2 -32.4h0M15.4 -40.6h0M16.6 -38h0M61.6 -16.4h0M52 -39.6h0M32.3 -16.8h0M41.5 -25.1h0M2.7 -31.8h0M40.1 -31.5h0M47.3 -45.3h0M33.2 -38h0M43.7 -53.2h0M21.8 -25.8h0M11 -55.1h0M42.4 -33.6h0M.9 -34.2h0M46.2 -38.5h0M14.4 -38.2h0M10.2 -53.9h0M2.6 -29.7h0M54.2 -24.3h0M19.4 -23h0M6 -33h0M54.4 -16.1h0M30.9 -22.3h0M20.6 -31.1h0M48.9 -44h0M35.6 -3.7h0M50.9 -45.4h0M3.4 -49.5h0M7.3 -37.9h0M65.5 -35.1h0M53.6 -36h0M36 -16.4h0M19.7 -21.9h0M50.7 -46.6h0M54.3 -5.5h0M36.1 -47.8h0M32.2 -41.2h0M47.4 -40.8h0M17.8 -33h0M45.2 -48h0M52.7 -37.6h0M39.4 -29.1h0M54.8 -15h0M5.2 -32.6h0M12.6 -33.7h0M12 -40.4h0M51.9 -53h0M30.9 -32.5h0M52.4 -28h0M52.1 -23h0M50.8 -40.3h0M55.7 -23h0M31.1 -33.7h0M54.8 -1h0M40.8 -38.6h0M42.6 -3h0M5.7 -39.9h0M49.2 -40h0M45 -53h0M23 -42.2h0M23.3 -27h0M38.7 -20.9h0M29.4 -27.2h0M43.7 -35.2h0M49.6 -41.2h0M41.5 -22.9h0M51.3 -25.4h0M4.7 -43.4h0M4 -41.1h0M34.9 -25.7h0M2.9 -42.1h0M29.5 -30h0M41 -19.4h0M10.8 -45.6h0M44.1 -38.2h0M45 -62.3h0M19.3 -20.7h0M9.8 -40.8h0M14.1 -35.2h0M34.3 -34.6h0M9.4 -44.4h0M19.5 -21.5h0M52.3 -23.4h0M24.2 -46.4h0M44.8 -43.6h0M41.7 -34.5h0M8.5 -52.2h0M12 -36.8h0M2.5 -31.9h0M60 -7.9h0M17.5 -39.8h0M29.5 -33h0M28.2 -26.1h0M42.1 -30.6h0M53.8 -65.1h0M43.8 -40.7h0M38 -2.1h0M29.8 -16.9h0M34.6 -19.8h0M15 -48.6h0M52.4 -48.6h0M20 -2.4h0M52.3 -48h0M54.2 -30.2h0M5.9 -35.1h0M8.8 -37.2h0M52.1 -9.5h0M30.9 -2.2h0M38.3 -43.1h0M15.2 -30.6h0M42.5 -34.9h0M47.6 -51.9h0M18.6 -32.1h0M31.9 -32.2h0M31.4 -52.6h0M41.6 -51.8h0M42.1 -43h0M52 -36h0M13.4 -41.3h0M22.3 -34.3h0M35 -49.1h0M4.3 -33.9h0M12 -39.9h0M65.2 -57.1h0M29.9 -30.6h0M38.7 -31.1h0M56 -12.2h0M53.5 -36.8h0M40.4 -29.8h0M41.3 -56.3h0M19 -42.2h0M9.5 -35.7h0M50.1 -3h0M1.2 -33.8h0M39.1 -19.3h0M19.7 -2.4h0M44.9 -38.7h0M39.2 -17.8h0M20.2 -31.4h0M21.8 -29.2h0M61.7 -42.9h0M22 -50.4h0M42.5 -34.6h0M38 -25.1h0M23.1 -33.9h0M51.4 -34h0M20.5 -2.4h0M51.1 -24.1h0M43.8 -1.6h0M57.1 -10.7h0M39.9 -46.5h0M50.8 -43.6h0M29.5 -26.9h0M20.3 -21.3h0M45.8 -40.4h0M68.1 -39.2h0M50.3 -34h0M38.7 -58.4h0M48.1 -48.2h0M36 -16.3h0M33.8 -16.2h0M31.6 -16.6h0M41.5 -30.5h0M33.9 -47.5h0M51.9 -58.2h0M8.6 -40.3h0M5.3 -33.5h0M45.1 -39.4h0M62.2 -5.1h0M52.5 -34.9h0M57 -26h0M53.4 -33.6h0M40.3 -53.8h0M54.5 -46.3h0M66.7 -42.4h0M42.7 -30.9h0M52.2 -2.7h0M31 -37.9h0M4.2 -31.9h0M14 -34h0M37.6 -55.9h0M50 -38.4h0M9.3 -36.3h0M38.7 -18.2h0M28.5 -18.7h0M17.3 -26.6h0M57.8 -12.6h0M49 -34.5h0M46.1 -40.4h0M51.6 -36.5h0M44.5 -40.5h0M34.2 -20.5h0M57.1 -28.5h0M51.9 -31.4h0M51.5 -5.1h0M46.2 -51.5h0M59.7 -26.9h0M21.1 -21.2h0M44.7 -1.1h0M62.9 -63.8h0M53.7 -30.5h0M64.4 -26.9h0M42.6 -38.2h0M15.7 -38.1h0M27.6 -24.5h0M23.6 -18h0M24.7 -22.8h0M35 -17.1h0M33.2 -29.8h0M37 -20.9h0M54 -31.5h0M48.9 -40.4h0M44.7 -49.1h0M19.4 -24.6h0M42.5 -35.5h0M7.6 -36.8h0M7.3 -43.8h0M45.6 -69h0M2.2 -39.3h0M52.9 -2h0M6.9 -40.6h0M38.6 -1.7h0M11 -45.6h0M24 -19.3h0M33 -49.4h0M23.7 -36.5h0M8.8 -39.9h0M27.3 -58.4h0M1.2 -54.5h0M9 -37.3h0M46.3 -48.1h0M36.9 -26.5h0M44 -53.3h0M46.7 -45.9h0M55.4 -24.8h0M22.1 -40.5h0M16.6 -28.3h0M32.1 -26.2h0M18.9 -27h0M42 -24.6h0M34.2 -25.1h0M44.1 -39.9h0M22.3 -26.3h0M10.5 -48.7h0M28.3 -30.2h0M16.8 -47.3h0M24.5 -24.1h0M15.8 -31.1h0M43.6 -49.1h0M15 -32.5h0M52.8 -40.2h0M14.6 -32.7h0M31.4 -34.4h0M50.3 -34.4h0M47.4 -51.4h0M41.1 -33.2h0M7 -40.3h0M38.6 -47.1h0M47.6 -40.4h0M56.5 -9.1h0M51.2 -39.4h0M15.6 -31h0M42.4 -34h0M48.9 -1h0M55.2 -40.6h0M23.6 -27h0M17.9 -25.9h0M25.9 -53.2h0M30.2 -16.7h0M22.7 -45.6h0M40.7 -24.3h0M23.9 -19h0M39.7 -26.1h0"/><path stroke="#5060dc" stroke-opacity=".6" d="M13.1 -3.9h0M42.8 -9.5h0M13.7 -24.3h0M51.1 -18.4h0M45.9 -5.8h0M44.8 -30.6h0M48.4 -4.3h0M42 -16.2h0M46.8 -22h0M41.4 -18.5h0M44.8 -24.3h0M22.5 -12.3h0M49.7 -28.9h0M42.2 -12.4h0M27.3 -12.8h0M31.5 -13.1h0M17.3 -20.3h0M7.8 -1.5h0M18.7 -15.7h0M25.4 -3.6h0M36.3 -8h0M2.3 -26.4h0M26.3 -12.5h0M38.6 -8.1h0M13.1 -27.5h0M15.2 -4.1h0M2.2 -20.6h0M49.7 -5.5h0M5.2 -29h0M40.2 -12.2h0M27.9 -11.6h0M1 -23.6h0M38.5 -7.2h0M29.2 -6.9h0M12.5 -23.6h0M33.7 -7.7h0M33.7 -6.1h0M8.5 -25.2h0M7.1 -2.9h0M41 -15h0M11.4 -3.5h0M31.9 -7h0M19.1 -8.3h0M39.9 -4.7h0M22.3 -12.7h0M2 -21.2h0M18.7 -8.1h0M47.1 -22.9h0M47.7 -29.1h0M1 -2.6h0M14 -28h0M37.1 -15.5h0M16.2 -27.8h0M14.2 -27.5h0M9.7 -22.4h0M41.1 -7.3h0M9.5 -21.4h0M34.2 -4.7h0M5.5 -20.6h0M7.2 -23h0M7.1 -1.3h0M32.9 -7.6h0M29.7 -16.2h0M40.3 -16h0M51.4 -16h0M18.7 -14.9h0M16.8 -14.7h0M5.4 -20.6h0M51.5 -22.5h0M3.1 -23.9h0M44.8 -31.1h0M45 -31.5h0M51.6 -10.3h0M10.2 -20.6h0M35.4 -14.4h0M50.8 -10.9h0M43 -23.7h0M40.2 -13.3h0M5.7 -25.6h0M14.6 -24.3h0M20 -4.1h0M48.3 -18.7h0M50.5 -29.4h0M19 -3.8h0M33.3 -6.5h0M12.9 -17.3h0M2 -27.8h0M51.3 -13.6h0M39.3 -7h0M39.6 -9.9h0M40.5 -11.6h0M27.7 -14.5h0M32 -8.9h0M7.7 -22.6h0M36.8 -4.6h0M13.8 -17.9h0M11.4 -27.7h0M42.8 -5.1h0M10.3 -22.9h0M4 -2.5h0M48.2 -24.3h0M46 -6.2h0M12.7 -22.5h0M48.2 -2.8h0M15.5 -17.8h0M42.3 -9.4h0M14.4 -27.8h0M14.9 -17.3h0M28.3 -11.5h0M17.4 -13.2h0M9.4 -21.5h0M45.1 -21.9h0M46.2 -5.9h0M51.6 -18.8h0M7.8 -23.6h0M29.1 -14h0M49.9 -27.1h0M42.6 -28.2h0M2.4 -23.8h0M6.1 -28h0M23.8 -13.9h0M15.8 -27.9h0M47.8 -25.5h0M3.9 -20.6h0M9.3 -23h0M48.2 -26.5h0M6.4 -26.9h0M40.7 -16.4h0M38.5 -14.5h0M6.2 -30.5h0M19.2 -5h0M1.4 -4.6h0M40.1 -16.6h0M50.1 -11.1h0M50.9 -15.7h0M50.7 -5.8h0M12.6 -30.3h0M14.9 -19h0M2.2 -23.8h0M41.6 -12h0M51.6 -7.8h0M31.2 -6.1h0M17.5 -5.3h0M50.2 -7.1h0M12.9 -17.6h0M5.5 -31.4h0M44.7 -26.1h0M13.9 -27.9h0M27.5 -14.6h0M49.2 -26.8h0M4.3 -24h0M16.3 -21.7h0M21.1 -14.3h0M48.4 -6.9h0M12.9 -5.9h0M41.5 -9.5h0M30.6 -11.4h0M41.8 -7.4h0M43.6 -24.7h0M40.9 -7.6h0M45.9 -19.6h0M15 -25.2h0M17.5 -7.4h0M42.6 -21.4h0M11.3 -1.3h0M48.8 -27.1h0M30.4 -13.7h0M20.1 -5h0M29.4 -5h0M2 -22.2h0M13.7 -16.3h0M11.7 -21.5h0M47.9 -2.5h0M3.2 -21.3h0M13.7 -27.2h0M48.4 -22.9h0M50.3 -8.8h0M44.5 -7h0M15.2 -28.8h0M18.8 -9.4h0M37.7 -13.6h0M19.8 -18.3h0M17.7 -5h0M51.8 -13.9h0M15.7 -19.3h0M7.3 -28.5h0M50 -25.8h0M28.6 -5.8h0M40.6 -16.5h0M44.8 -25.3h0M4 -1.6h0M16.4 -17.9h0M16.6 -8.7h0M46 -26.5h0M41.2 -9.7h0M38.9 -12.5h0M34.3 -10.7h0M13.9 -30.8h0M6.3 -24.7h0M14.5 -29.2h0M15.7 -12.5h0M24.9 -13.6h0M27.5 -4.7h0M35.5 -9.6h0M2.6 -25.3h0M19.8 -12.9h0M39.7 -14.4h0M10.7 -3.8h0M15 -3.4h0M10.8 -21h0M13 -18.2h0M12 -26.5h0M12 -3.3h0M17.3 -17.9h0M13.1 -20.3h0M17.6 -11.5h0M46.3 -24.2h0M32.4 -7.7h0M2.5 -22.6h0M1.2 -21.9h0M26.2 -6.6h0M27.3 -4.9h0M16.2 -8.1h0M10.9 -30h0M34.6 -13h0M16.8 -4.8h0M15.5 -3.9h0M7.5 -1.4h0M12.5 -2.5h0M44 -15.1h0M29.8 -7.3h0M45.2 -33.8h0M12.5 -27.5h0M45.6 -22.3h0M15.4 -22.2h0M7.4 -22.2h0M8.5 -3.8h0M25.7 -3h0M13 -24.7h0M49.2 -25.8h0M51.1 -15.2h0M28.6 -11.1h0M14.5 -15.6h0M32.3 -11.3h0M1.6 -6h0M37.4 -7.8h0M23.6 -17h0M31.3 -14.5h0M39 -8.5h0M33.6 -5.7h0M48.9 -23.6h0M52.3 -14.1h0M3.9 -24.6h0M8.3 -28.3h0M34.7 -9.6h0M11 -26.5h0M18.2 -2.5h0M10.9 -2.9h0M10.5 -4.9h0M50.5 -15.3h0M2.4 -21.2h0M35.5 -7.7h0M32.3 -6.6h0M25.1 -14.4h0M25.7 -11.4h0M14.8 -16.2h0M1.7 -21.5h0M17.4 -16.7h0M47.1 -24h0M8.3 -24.5h0M4.4 -24.5h0M37.9 -15.9h0M3.4 -2.5h0M19.9 -15.7h0M12.1 -28.1h0M13.5 -23.6h0M14.8 -3.6h0M45.7 -35h0M36 -12.7h0M.9 -2.5h0M48.4 -6.5h0M11.4 -5.5h0M43 -21.3h0M10.2 -29.7h0M26.3 -11.6h0M49 -29.1h0M17.6 -14.7h0M33.1 -7h0M45.3 -2.4h0M13.6 -23.4h0M12.8 -29.4h0M50.7 -12h0M17.9 -4.6h0M17.5 -11.4h0M43.7 -32.1h0M22.4 -15.7h0M41.4 -15.3h0M14.6 -22.3h0M.8 -6.3h0M29.6 -4.5h0M10.8 -30h0M25.8 -3h0M46.8 -24.6h0M48.4 -4.3h0M14.4 -27.7h0M46 -31.7h0M47 -29h0M45.1 -33.7h0M2.2 -4.8h0M26.3 -13.5h0M10.4 -2.5h0M37.4 -9.4h0M8 -3.3h0M42.9 -16.8h0M51.3 -21.2h0M19.7 -14.7h0M49 -5.4h0M47.6 -22h0M29.1 -6.7h0M47 -22.1h0M42.4 -10.4h0M27.1 -15.1h0M31.2 -6.6h0M51.4 -10.8h0M2.6 -3.1h0M37.5 -6.7h0M4.9 -20.9h0M27.2 -3h0M1.7 -2.3h0M46.7 -21.5h0M6 -1.9h0M7.1 -26.8h0M51.8 -12.6h0M44.9 -22.2h0M47.6 -26.1h0M43.4 -20.4h0M44.9 -24.4h0M1.5 -21.5h0M13 -27h0M36.6 -7.3h0M34.7 -8h0M24.9 -4.4h0M49.8 -29.1h0M2.9 -25.2h0M17.1 -2.5h0M21.6 -4.8h0M12.1 -29.6h0M46.3 -22.2h0M51 -8.7h0M14.5 -3.5h0M39.8 -11.6h0M26.5 -12.2h0M20.5 -6.1h0M16.3 -17.7h0M45.5 -2.8h0M50.6 -14h0M20.6 -18.2h0M44.2 -7.3h0M23.2 -5h0M17.5 -17.7h0M46.9 -36.4h0M41.9 -19.6h0M45.6 -35.2h0M42.3 -13.6h0M47 -5.9h0M9 -2h0M13.1 -20.3h0M15.6 -6.3h0M50.6 -20.1h0M31.2 -6.9h0M43.4 -17.5h0M31.4 -5h0M17 -21.3h0M30.3 -13h0M1.1 -3.6h0M7.4 -27.9h0M36.3 -12.7h0M49.4 -33.8h0M31.3 -8.4h0M20.7 -12.3h0M5.5 -25h0M15.4 -23.9h0M23.1 -3.2h0M30.7 -12.3h0M48.6 -5.6h0M42.7 -28.3h0M40.1 -12.6h0M19.2 -5.4h0M3.1 -1.5h0M16.5 -16h0M12.1 -27.7h0M8.1 -21.6h0M21.8 -5h0M19.9 -13.7h0M14.3 -4.3h0M15.9 -5.6h0M38.1 -6.8h0M36.4 -13.6h0M21.4 -5.9h0M15.6 -18.9h0M33.2 -8h0M32.6 -6.6h0M19.1 -11.7h0M5.2 -31.4h0M16.8 -22h0M31.4 -6.7h0M18.9 -10.7h0M6.9 -21.7h0M5 -21.8h0M40.4 -13.8h0M41.3 -12.7h0M21.7 -3.8h0M44.5 -21.1h0M12.2 -17.6h0M50.3 -13.1h0M11.5 -4.6h0M50.2 -20.1h0M11.9 -22.3h0M23.8 -3.1h0M42.2 -15.3h0M17 -4.1h0M24.8 -5.5h0M14.4 -1.8h0M10.9 -21.3h0M51.2 -22.1h0M50.2 -24.9h0M25.2 -3.4h0M49.4 -3.9h0M7.7 -26.9h0M50.9 -7.8h0M14.3 -17.6h0M40.6 -9.6h0M34.2 -11.4h0M32.6 -5.5h0M46.1 -27.2h0M8.9 -30h0M1.5 -5.3h0M51.3 -11.4h0M14.5 -6h0M20.3 -12.9h0M31.4 -11.4h0M8.9 -26.9h0M29.2 -13.5h0M35.2 -14h0M14.6 -27h0M13.7 -4.5h0M15.5 -26.5h0M17.8 -16.1h0M15.8 -3.4h0M15.5 -15.3h0M43.5 -16.1h0M41.9 -19.9h0M16.3 -14.3h0M49.9 -3.7h0M51.7 -13h0M21.1 -13.1h0M12.3 -28h0M10 -2.8h0M17 -6.4h0M40.7 -11.8h0M3.1 -26.1h0M44.2 -3.1h0M13.5 -29.6h0M21.1 -4.1h0M32.5 -5.5h0M2.7 -19.5h0M50.6 -10.5h0M17.7 -7.3h0M43.3 -32.2h0M27.8 -12.3h0M4.6 -24.1h0M46.7 -26.6h0M24.6 -12.8h0M45.8 -30.1h0M16.9 -3.3h0M29.6 -12.8h0M29.2 -6.2h0M9.9 -21h0M42.1 -15.6h0"/></g></g><g id="a3" filter="url(#bl)"><path fill="#d4d5f9" d="M45.2 -43.3L43.8 -43.2L42.8 -42.4L41.6 -40.8L40.7 -38.2L40 -35.2L39.6 -31.8L39.6 -20.2L38.8 -17.8L37.2 -16.8L34.8 -16.4L30.8 -16.7L25.1 -17.8L21.4 -18.8L20.2 -19.5L19.4 -20.8L16.6 -28.2L15 -30.8L13.2 -32.6L11.2 -33.8L8.8 -34.2L6.8 -33.6L4.8 -32.1L.2 -26.1L-.2 -13.8L.1 -.2L6.2 .1L14.3 -.2L16.6 -1.8L18.2 -2.4L24.2 -2.6L30.2 -3.8L34.2 -4.1L37.8 -4.1L39.8 -3.7L44.8 -1L46.2 -1L47.8 -1.9L49.4 -4.2L50.6 -7.8L51.2 -11.8L51.2 -17.2L50.2 -31.2L49.4 -36.2L47.8 -41L46.8 -42.4L45.2 -43.3Z"/><path fill="#a0a5f2" d="M45.8 -29.5L45.2 -29.7L44.8 -29.5L44.2 -28.8L40.2 -16.1L39.1 -14.8L37.2 -14.1L31.8 -14.2L25.2 -15.6L18.8 -16.4L16.7 -17.8L12.2 -23.8L9.8 -25.5L8.2 -25.8L6.8 -25.6L3.2 -24.1L.2 -21.7L-.1 -11.2L.2 -1.6L2.4 -.2L10 -.2L15.8 -3.7L17.2 -4.3L18.8 -4.4L22.2 -3.9L24.2 -4L30.2 -5.7L34.8 -6.2L39.2 -6L40.8 -5.4L44.2 -3.2L45.8 -3L46.8 -3.3L48.2 -4.9L49.4 -7.2L50.1 -10.2L50.2 -14.2L49.9 -17.2L49 -21.2L46.8 -27.7L45.8 -29.5Z"/><path fill="#5f70e8" d="M7.8 -22.3L5.8 -22.3L3.8 -21.7L1.8 -20.5L.2 -19.1L-0 -11.2L.2 -3.6L2.8 -1.8L5.2 -1.2L8.2 -1.4L10.8 -2.5L15.8 -5.7L17.2 -6.2L18.8 -6L22.2 -5L24.8 -5.1L26.8 -5.9L31.2 -8.5L34.5 -9.8L34.7 -10.2L25.8 -14.1L23.2 -14.5L18.8 -14.1L17.2 -14.5L15.6 -15.8L11.2 -20.7L9.8 -21.7L7.8 -22.3ZM45.8 -22.3L44.8 -22.1L43.8 -21.1L42.8 -19.3L40.2 -13L39.2 -11.7L37.5 -10.2L37.7 -9.8L39.8 -8.5L43.2 -5.4L45.2 -4.5L46.8 -5L48.1 -6.8L49 -9.2L49.4 -12.2L49.2 -15.8L48.5 -18.8L47.2 -21.2L45.8 -22.3Z"/><path fill="#265cda" d="M6.8 -19.8L4.8 -19.6L2.8 -18.7L1.1 -17.2L.2 -15.8L.2 -6.3L1.2 -5.1L2.8 -3.9L4.2 -3.3L5.8 -3L8.2 -3.4L11.2 -4.9L14.8 -7.8L16.2 -9.2L16.7 -10.2L15.5 -12.2L11.2 -17.5L9.2 -19L6.8 -19.8ZM24.8 -12.8L22.8 -13L20.8 -12.5L18.8 -11.2L18 -10.2L18 -9.8L19.6 -7.8L21.2 -6.7L23.2 -6.2L25.2 -6.6L27.2 -8.2L27.7 -9.8L27.4 -10.8L26.8 -11.7L24.8 -12.8ZM45.8 -19.4L45.2 -19.4L44.3 -18.8L43.3 -17.2L42.1 -13.8L41.7 -11.2L41.9 -9.8L42.6 -8.2L43.8 -7L45.2 -6.4L46.2 -6.6L47.3 -7.8L48.1 -9.8L48.5 -12.2L48.4 -14.8L47.8 -17.2L46.8 -18.8L45.8 -19.4Z"/><path fill="#1496d7" d="M7.8 -17.9L5.2 -18.1L3.2 -17.3L1.2 -15.3L.2 -13L.2 -9.4L.8 -7.8L2.4 -5.8L4.8 -4.5L7.2 -4.6L10.1 -5.8L12.6 -7.8L13.7 -9.8L13.6 -11.8L12.2 -14.2L9.8 -16.8L7.8 -17.9ZM24.2 -11.8L22.2 -11.8L20.8 -10.8L20.5 -9.2L21.6 -7.8L22.8 -7.3L23.8 -7.2L25.1 -7.8L25.8 -8.5L26.1 -9.2L26 -10.2L25.3 -11.2L24.2 -11.8ZM46.2 -17.3L45.2 -17.6L44.2 -16.7L43.3 -14.8L42.9 -12.8L42.8 -11.2L43.2 -9.6L44.2 -8.2L45.2 -7.8L46.2 -8.2L46.8 -8.8L47.5 -10.2L47.7 -11.8L47.5 -15.2L46.8 -16.8L46.2 -17.3Z"/><path fill="#1ec3a0" d="M6.2 -16.8L4.2 -16.4L2.8 -15.3L1.5 -13.2L1.1 -11.2L1.4 -9.2L2.6 -7.2L4.2 -6L5.8 -5.7L7.8 -6L10.2 -7.4L11.8 -9.2L12.1 -10.8L11.5 -12.8L10.1 -14.8L8.2 -16.2L6.2 -16.8ZM24.2 -10.3L23.8 -10.5L22.8 -10.5L22.2 -10L22.2 -9.2L22.8 -8.6L23.8 -8.5L24.5 -9.2L24.2 -10.3ZM45.8 -15.8L45.2 -15.8L44.6 -15.2L43.8 -12.8L43.8 -11.2L44.2 -10.2L45.2 -9.4L46.2 -9.9L46.8 -10.8L47 -12.2L46.8 -14.5L46.2 -15.5L45.8 -15.8Z"/><path fill="#46d246" d="M7.2 -15.4L5.8 -15.6L4.2 -15.2L2.8 -13.8L2.2 -12.2L2.2 -10.2L2.7 -8.8L3.8 -7.5L5.2 -6.8L6.8 -6.8L8.8 -7.7L9.9 -8.8L10.7 -10.2L10.6 -11.8L9.9 -13.2L8.8 -14.5L7.2 -15.4ZM45.8 -13.8L45.2 -13.9L44.8 -12.8L44.9 -11.8L45.2 -11.2L45.8 -11.3L46.1 -12.2L45.8 -13.8Z"/><path fill="#96d723" d="M6.8 -14.3L5.8 -14.4L4.8 -14.1L3.8 -13.2L3.2 -12.1L3.1 -10.8L3.4 -9.8L4.2 -8.6L5.2 -8.1L6.2 -8L7.3 -8.2L8.6 -9.2L9.1 -10.2L9.3 -11.2L8.7 -12.8L7.8 -13.8L6.8 -14.3Z"/><path fill="#e1c80f" d="M6.2 -12.9L5.2 -12.7L4.8 -12.2L4.4 -11.2L4.8 -10.1L5.8 -9.4L6.9 -9.8L7.6 -10.8L7.2 -12.2L6.2 -12.9Z"/><g stroke-width="1" stroke-linecap="round"><path stroke="#7070e0" stroke-opacity=".42" d="M27.3 -50.3h0M40.9 -57.8h0M64.4 -18.3h0M31.8 -36.7h0M41.1 -41.9h0M31.4 -24.5h0M37.2 -44.9h0M50.8 -22.4h0M26.7 -20.9h0M39.5 -60.5h0M20.9 -55.7h0M59 -47.7h0M24.8 -27.5h0M51.2 -31.2h0M18.9 -50.1h0M29.7 -23.5h0M18.9 -53.5h0M58.7 -49.3h0M18.2 -48h0M63.1 -22.9h0M31.8 -18h0M54.2 -54h0M48.6 -42.8h0M31.4 -18.9h0M21 -33h0M32.5 -46.4h0M53.2 -18.1h0M19.8 -57h0M19.8 -21h0M24.1 -23.1h0M5.6 -52.8h0M43.8 -44.8h0M5.8 -37.1h0M25.1 -19.4h0M34 -42.4h0M61 -46.3h0M33.1 -27.8h0M60.4 -23.3h0M36.3 -3.2h0M29.4 -31.3h0M50.1 -31.4h0M26.6 -28.5h0M21.4 -23.2h0M37.4 -28.2h0M39.7 -3.2h0M38.8 -19h0M27.6 -29.7h0M31.2 -23h0M36.2 -26.8h0M44.8 -48.9h0M3.1 -34.2h0M20.4 -33.1h0M40.1 -45h0M60.3 -37.8h0M43.8 -44.3h0M33.4 -16.5h0M14.1 -33.6h0M19.2 -22.7h0M27.8 -44h0M43 -55.8h0M35.9 -28.2h0M51.3 -35.8h0M39.4 -3.9h0M21.1 -49.9h0M26 -54.1h0M55 -24.3h0M23.2 -38.6h0M43.6 -62.1h0M22.2 -19.4h0M39.3 -33.5h0M20.7 -48.4h0M4.4 -35.3h0M17 -35.7h0M51.7 -47.4h0M17.4 -35.8h0M22.9 -43.5h0M24.5 -18h0M14.4 -34h0M6.2 -42h0M23.2 -28.4h0M34.7 -35.8h0M48 -55.5h0M37.8 -3.8h0M19 -30.3h0M43.4 -69.6h0M12 -48.6h0M23.1 -54.7h0M37.9 -39.1h0M33.9 -19.2h0M40.1 -1.5h0M4.7 -33.7h0M23.6 -44.1h0M51.3 -43h0M37.9 -37h0M32.7 -38.1h0M19.3 -45.7h0M39.2 -46.2h0M16.2 -31.1h0M8.8 -52h0M29.7 -41.9h0M53.2 -37.7h0M27.4 -18.5h0M4.1 -43.4h0M32.9 -50.2h0M47.1 -65.9h0M36.8 -24.2h0M35.5 -49.7h0M46.6 -47h0M53.1 -12.8h0M55.8 -31h0M15.2 -39h0M27.5 -47.5h0M17.4 -1.7h0M15.8 -37.9h0M31.7 -67.1h0M28.1 -20.4h0M38.6 -24.6h0M36.1 -44.3h0M29.4 -1.7h0M22.3 -18.8h0M2.9 -30.9h0M26.1 -34.8h0M40.1 -47.6h0M53.2 -43.8h0M43.6 -44.4h0M64.9 -52.1h0M36.2 -42.9h0M36.1 -39.3h0M13.5 -34.3h0M26 -34.3h0M36.3 -39.5h0M7 -45h0M20.1 -32.8h0M51.8 -47.2h0M4.4 -36.2h0M28.7 -34.4h0M67.8 -52.4h0M38.3 -31.4h0M49.7 -51.9h0M40.3 -3.3h0M1.7 -43.5h0M28.9 -61.3h0M22.5 -22.3h0M25.8 -20.7h0M33 -58.7h0M39 -35.2h0M46.5 -47.7h0M41.3 -40.3h0M20 -32.3h0M29.7 -26.8h0M23.2 -33.3h0M38.2 -23.2h0M22.3 -30.3h0M37.1 -46.2h0M22.1 -46.9h0M36.5 -52.4h0M28.6 -27.2h0M19.3 -29.8h0M14.9 -33.5h0M8 -46.3h0M5.4 -33.1h0M36.5 -31h0M36.4 -43.6h0M19.6 -1.5h0M54.2 -66.5h0M45.6 -43.6h0M31.8 -25.3h0M20 -49.8h0M38.6 -28.3h0M48.3 -45.8h0M51.3 -27.6h0M19.8 -46.2h0M38.9 -23.3h0M34.5 -45h0M31.1 -3.1h0M23.1 -41h0M10.1 -40.9h0M13.5 -36.3h0M18.8 -26h0M.8 -33.3h0M37.3 -32.8h0M18.5 -28.7h0M23.9 -1.5h0M50.2 -47.2h0M46.1 -49.7h0M34.1 -2.5h0M31 -26.3h0M17.9 -57.4h0M34.2 -16.8h0M20.3 -31.7h0M55.6 -37.3h0M32.7 -18.4h0M9 -53.7h0M58.4 -27.8h0M51.7 -54.5h0M23.6 -36.7h0M42.4 -46.4h0M55.6 -47.5h0M54.4 -26.1h0M48.2 -40.5h0M38.3 -36h0M10.2 -41.1h0M36.7 -28.7h0M24.3 -21.6h0M14.1 -44.9h0M46.3 -43.6h0M37.4 -44.7h0M27.8 -18h0M37.5 -21.6h0M43.4 -44.3h0M15.3 -31.2h0M13.4 -68.4h0M51.5 -6.9h0M32.5 -37.9h0M33.4 -24.1h0M53.9 -27.3h0M40.6 -46.9h0M41.7 -47.7h0M32.9 -32.1h0M41 -52.5h0M53.1 -43.7h0M33.6 -37.3h0M30.1 -26.2h0M38.6 -35.4h0M63.1 -15.4h0M29.5 -2.8h0M31.7 -22.6h0M37.7 -2.5h0M42.9 -48.9h0M25.5 -19.1h0M8.7 -36.1h0M36 -3.6h0M25.6 -34.3h0M6.2 -47.2h0M57.9 -62.7h0M59.2 -3.9h0M28.7 -24.3h0M31.1 -33.9h0M53.3 -21.1h0M7.5 -39.1h0M16.6 -40.8h0M32.4 -1.5h0M12.7 -37.1h0M8.5 -35.2h0M35.9 -44.7h0M49.7 -40.5h0M27.1 -57h0M21.7 -30.5h0M52.4 -22.1h0M21.4 -19.2h0M42.7 -43h0M36.5 -67h0M57.9 -35.4h0M36.4 -16.8h0M12.6 -64.3h0M6 -34.8h0M20.3 -60.2h0M15.3 -53.4h0M29.6 -1.6h0M39.5 -25.9h0M34.8 -33.4h0M30.7 -21.9h0M36.8 -36h0M67 -31.3h0M27.1 -18h0M52.3 -33.5h0M1.4 -40.9h0M50.9 -42.2h0M51.8 -28h0M49.3 -3.9h0M34.7 -33.5h0M53 -16.5h0M39.9 -33.8h0M33.7 -34.8h0M24.3 -29.7h0M57.6 -21.5h0M51.5 -28.4h0M7.3 -34.2h0M51.4 -37.4h0M28.9 -57h0M25.3 -19.1h0M49.8 -49.9h0M27.6 -21.7h0M43.9 -1.2h0M18.2 -39.2h0M18.2 -31.9h0M36.6 -44.3h0M29.5 -31.8h0M52.7 -49.1h0M27.5 -40.1h0M36.5 -39.8h0M1 -31.1h0M16.2 -37.3h0M39.4 -23.3h0M10.4 -53.8h0M30 -1.6h0M50.4 -49.8h0M24 -53.4h0M35.6 -17.6h0M24.4 -23.5h0M34.2 -27.9h0M44.8 -55.7h0M36.7 -38.5h0M46.6 -53.7h0M51.6 -26.4h0M41.3 -54.2h0M10.5 -44.4h0M40.3 -42.5h0M31.4 -27h0M48.1 -43.6h0M18.9 -23.4h0M52.3 -9.1h0M31.1 -64.9h0M7.9 -37.8h0M28.2 -52.7h0M13.9 -36.9h0M37.1 -65.7h0M20.4 -23.6h0M29.6 -29.3h0M10.2 -36.1h0M51.3 -23.8h0M34.3 -41.6h0M8.3 -61h0M6.3 -58.6h0M38.6 -32.7h0M43.9 -43.2h0M36.2 -3.3h0M44.2 -54.7h0M39.3 -47.5h0M54.6 -39.8h0M48 -63.1h0"/><path stroke="#5060dc" stroke-opacity=".6" d="M11.4 -23.7h0M22.5 -3.8h0M15 -27.2h0M35.8 -7.5h0M48.7 -35.7h0M19.1 -18.4h0M48 -7.1h0M14.4 -29.8h0M17.5 -5.9h0M14.9 -23.3h0M4.4 -23.4h0M23.9 -17.4h0M27.8 -11.4h0M3.1 -24.3h0M8.5 -28.8h0M14.9 -26.2h0M26.5 -13.9h0M10.4 -30h0M47.7 -22.2h0M50.4 -10.2h0M45.2 -30.9h0M45.2 -34.8h0M37.2 -8.1h0M41.6 -21.9h0M26.8 -7.2h0M39 -10.8h0M6.8 -2.1h0M4.3 -24.7h0M47.1 -37.7h0M14.7 -14.2h0M17.5 -17.2h0M42.3 -19.1h0M33 -15.1h0M20.6 -4.6h0M37.4 -12h0M16 -4h0M44.7 -35.6h0M26.8 -12.1h0M13.5 -24.5h0M47.5 -3.7h0M21.5 -18.3h0M13.9 -16.8h0M12.6 -25.6h0M7.7 -27.6h0M.8 -3.1h0M31.6 -11.4h0M8.2 -22.9h0M34.7 -5h0M40.4 -22.7h0M49.1 -26h0M21 -4.3h0M15.2 -6.4h0M49.4 -30.9h0M48.8 -15.9h0M9.5 -23.6h0M17.2 -18.6h0M34.6 -7.8h0M38.9 -14.2h0M26.1 -14.9h0M17.7 -20.4h0M46.6 -37.1h0M13.9 -28.3h0M48.9 -14.5h0M41.8 -23.1h0M41.3 -17.5h0M2.1 -25.2h0M48.5 -39.7h0M15.7 -26.9h0M10.1 -24.3h0M9.2 -28.2h0M37 -4.9h0M41.4 -38.5h0M41.1 -17.4h0M45.3 -34.6h0M47.1 -2.7h0M38.9 -12.5h0M33.5 -11.6h0M47.3 -38.9h0M43.4 -19h0M16.4 -18.8h0M15 -3.1h0M47 -30.6h0M20.9 -16.4h0M42.1 -28.8h0M5 -28.3h0M18.1 -20h0M34.9 -15.8h0M30.8 -14.1h0M2.8 -23h0M45.7 -29.5h0M47.8 -28h0M2.1 -1h0M43.8 -22.6h0M1.8 -1.2h0M49.4 -6.6h0M49.7 -14.6h0M14.5 -5.7h0M44.2 -33.6h0M27.2 -5.1h0M39.9 -27.6h0M30.6 -13.4h0M19.9 -5.9h0M46.3 -26.2h0M7.2 -24.7h0M45.8 -29.6h0M7.1 -31.5h0M27.6 -11.4h0M46.7 -23.3h0M47.2 -32.9h0M17.1 -4.6h0M27 -14.7h0M28.1 -11.3h0M12.3 -22.3h0M33.6 -5.8h0M49.5 -36.9h0M27.9 -14.5h0M39.6 -22.5h0M43 -36.2h0M9.8 -23.7h0M47.5 -34.9h0M43.1 -31.6h0M14.8 -15.5h0M38.5 -12.9h0M26.2 -13.5h0M47.7 -27.7h0M30 -8.6h0M33.7 -15.7h0M28.8 -12.8h0M35.7 -16.4h0M30.9 -6.7h0M18.3 -7.4h0M39.3 -12.5h0M13.3 -28.6h0M12.4 -22.2h0M2.2 -21.6h0M12.5 -32.8h0M33.3 -4.3h0M30.3 -12.4h0M49.5 -16.1h0M43.4 -33.2h0M16.6 -20h0M42.5 -20.5h0M40.5 -5.6h0M46.5 -32.6h0M9.4 -25.7h0M18.4 -16.4h0M10.7 -27.7h0M11.8 -30.4h0M35.7 -12.7h0M17.6 -16.5h0M32.3 -9h0M46.4 -24.3h0M43.6 -41.2h0M44.7 -25.3h0M8.6 -21.4h0M38.4 -12.1h0M7.4 -22.5h0M4.3 -24.1h0M28.6 -9.8h0M1.9 -21.5h0M44.4 -3.4h0M45.4 -20.8h0M44.2 -30.9h0M42.1 -5.7h0M6.2 -23.6h0M16 -17.9h0M41.4 -14.4h0M41.7 -32.8h0M11 -24.7h0M13.5 -16.2h0M30.4 -6h0M29.6 -16.3h0M40.3 -35.5h0M21.6 -4.4h0M29.3 -7.3h0M31.8 -13.2h0M36.3 -7h0M1.3 -21.2h0M40.4 -20.7h0M1 -24h0M43.2 -23.7h0M44.7 -3.6h0M34.4 -12.5h0M49 -5.9h0M45.7 -37.9h0M31.2 -6.2h0M48 -3.8h0M9.2 -29.4h0M48.5 -20.5h0M44.1 -23.2h0M40.9 -15.1h0M4.1 -31.3h0M44 -26.6h0M9.1 -22.4h0M24.5 -2.6h0M35.7 -14.1h0M14.7 -25.9h0M21.9 -15.8h0M30 -12.2h0M32.8 -6.6h0M35.3 -11.6h0M37.3 -11.5h0M15.2 -4.9h0M46 -26.7h0M12.8 -23.5h0M41.6 -2.9h0M48.1 -24h0M45.9 -5.2h0M12.4 -2.1h0M36.2 -13.3h0M49.8 -33.4h0M21.6 -14.5h0M36.9 -12.8h0M49.3 -36.3h0M2.4 -24.2h0M.9 -19h0M41.2 -15.5h0M19.2 -17.6h0M40.8 -8.6h0M5.8 -29.4h0M44.8 -5.7h0M50.6 -18.9h0M16.4 -2.1h0M31.6 -9.7h0M46.4 -34.1h0M47.4 -19.1h0M35.7 -13h0M37.3 -13.4h0M40.6 -37.9h0M45.5 -27.8h0M18.5 -7h0M18.9 -15.6h0M13.1 -21.5h0M12.5 -2.2h0M36.7 -12h0M14.6 -21.8h0M33.1 -12.6h0M42.5 -15h0M26.7 -13.7h0M3.7 -26.2h0M40.5 -24h0M7.2 -21.9h0M10.9 -30h0M28.2 -4.1h0M9.1 -30.3h0M28.3 -9.3h0M34.4 -7.8h0M41 -17.6h0M44.4 -26.9h0M46.3 -26.1h0M8.6 -30.4h0M15.5 -23.3h0M20 -4.6h0M40 -28.5h0M43.4 -33.7h0M3.6 -25.2h0M39.6 -16.6h0M14.5 -3.7h0M7.4 -28.2h0M32.6 -16h0M1.1 -18.3h0M48.2 -21.9h0M36.8 -10.3h0M28.6 -8.8h0M25.7 -15.6h0M37.7 -6.5h0M43 -25.3h0M41.2 -8.7h0M1.8 -18.6h0M27.1 -4.7h0M40.4 -5.1h0M42.7 -23.6h0M49.1 -19.3h0M32 -8.4h0M11.9 -30h0M13.7 -4.2h0M17.9 -20.1h0M13 -4.5h0M36 -8.6h0M41.5 -23.9h0M48.4 -35.5h0M38.5 -10.7h0M14.2 -30.2h0M13 -19h0M18 -4h0M47.1 -5.5h0M7.5 -29.5h0M7.4 -27.8h0M8.4 -33h0M10.1 -27.3h0M15.8 -21h0M45.7 -1.1h0M2.9 -24.6h0M40.1 -26.1h0M10 -29.9h0M11.7 -22h0M40.3 -14.6h0M33.8 -12.8h0M38.1 -6.6h0M26 -15.4h0M14.3 -19.8h0M43.2 -37.2h0M45.5 -35.1h0M38.6 -13.5h0M22.1 -4.9h0M48.7 -19.4h0M37.1 -10.8h0M48.6 -35.4h0M14.9 -4.7h0M45.3 -29.5h0M22.3 -5.1h0M50.1 -10.1h0M32.5 -4.5h0M41 -23.6h0M37.3 -14.1h0M43.7 -28.3h0M47.9 -6.2h0M39.4 -14.1h0M40.5 -37.3h0M40.9 -8.7h0M8.3 -31.8h0M4.5 -24.9h0M44.8 -28.2h0M11.1 -22.6h0M5.7 -30.4h0M43.7 -38.9h0M46.4 -3.3h0M28.6 -16.8h0M48.7 -8.6h0M6.8 -27.2h0M41.5 -19.8h0M31.8 -6.5h0M27.9 -5.7h0M13.9 -4.4h0M4.6 -27.2h0M6.4 -30.8h0M22.8 -17.6h0M44.6 -26.1h0M1.1 -2.2h0M48.7 -16.9h0M23.2 -2.7h0M6.7 -29.6h0M48 -24.7h0M44.3 -5.6h0M19.7 -15h0M9.5 -30.9h0M48.2 -31.2h0M43.6 -4.1h0M30.5 -5.5h0M47.9 -32.1h0M27.6 -3.6h0M8.8 -23.7h0M3.9 -21h0M46.4 -37.6h0M42.2 -30.3h0M32.5 -6.6h0M15.9 -28h0M44 -30.7h0M46.8 -27.3h0M42.6 -23.9h0M44.4 -29.6h0M18.6 -5.3h0M20.9 -6.2h0M12.9 -22.4h0M43.1 -4.5h0M50.5 -10.4h0M47.2 -32h0M14 -22.9h0M48.7 -30.1h0M15.2 -19.2h0M48.2 -22.3h0M48.6 -20.4h0M12.6 -3.4h0M14.8 -16.4h0M33.7 -11.3h0M24.2 -17.9h0M42.4 -6.9h0M46.2 -39.1h0M41.8 -7.5h0M49.1 -16.6h0M29.9 -10.5h0M12.5 -25.4h0M24 -17.7h0M7.4 -32.1h0M8.8 -26.9h0M14 -15.3h0M6.2 -25.4h0M39 -6.1h0M7.9 -22.1h0M18.4 -5.3h0M37.1 -7.6h0M42 -5.8h0M28 -15.4h0M11 -19.4h0M12.8 -24.6h0M13.7 -28.1h0M48 -20.8h0M21 -3.2h0M40 -25.6h0M35.2 -8.5h0M12.3 -23.7h0M4.7 -21.3h0M39.1 -5.7h0M35 -10.2h0M48.6 -3.6h0M43.3 -27.6h0M19.2 -17.5h0M49 -33.6h0M37 -7.7h0M6.9 -25.5h0M15.3 -5.8h0M35.9 -12.5h0M50.4 -11.2h0M42.9 -20.7h0M42.2 -17.5h0M4.6 -27h0M41.7 -4.4h0M47.4 -23.2h0M39.2 -13.8h0M19.1 -5.8h0M42.1 -38.3h0M2.7 -19.8h0M41.5 -5.8h0M48.2 -27h0M40 -31.2h0M46.7 -30.8h0M50 -10.2h0M48.3 -35.9h0M12 -29.5h0M18.4 -17.5h0M44.3 -20.5h0M11 -20h0M46.7 -6.4h0M46.6 -37.4h0M48.1 -19.9h0M40.9 -12.8h0M42.5 -24.2h0M26.9 -7.2h0M32.5 -8.7h0M30 -5.3h0M26.3 -17h0M1 -23.7h0M27 -5.1h0M48.3 -25.8h0M45 -33.4h0M42.2 -33.1h0M41.4 -15.8h0M29.4 -16.2h0M30.8 -6.7h0M36.2 -14.7h0M24.7 -5.3h0"/></g></g><g id="a4" filter="url(#bl)"><path fill="#d4d5f9" d="M46.2 -43.3L44.8 -43.2L43.8 -42.5L42.8 -41.2L41.7 -38.8L40.9 -35.8L40.5 -32.2L40.6 -22.2L40.4 -19.8L39.6 -17.8L38.8 -17.1L37.8 -16.7L34.8 -16.5L31.2 -16.8L25.8 -17.8L22.7 -18.8L21.4 -19.8L20.8 -20.8L19 -26.8L17.6 -29.8L15.9 -32.2L14.2 -33.9L11.8 -35.4L9.2 -35.9L6.8 -35.4L4.2 -33.8L2.2 -31.4L.2 -28.2L-.2 -14.2L.1 -.2L5.8 .1L14.7 -.2L16.8 -1.5L18.8 -2.1L24.8 -2.1L31.2 -3.6L35.8 -4L38.8 -4L40.8 -3.7L45.8 -1L47.2 -1.1L48.8 -2.1L50.5 -4.8L51.5 -7.8L52.1 -11.8L52.1 -16.8L51.1 -30.8L50.4 -35.8L49.8 -38.3L48.8 -40.8L47.8 -42.3L46.2 -43.3Z"/><path fill="#a0a5f2" d="M46.2 -29.8L45.8 -29.7L45.3 -29.2L44.8 -28L41.2 -16.3L39.8 -14.6L37.8 -14.1L32.2 -14.2L19.5 -16.2L17.2 -17.8L13.2 -24.1L10.8 -26.5L9.2 -27L7.8 -27.1L6.2 -26.7L4.2 -25.6L.2 -22.4L-.1 -11.2L.2 -1.2L1.9 -.2L10.3 -.2L15.2 -3.3L17.2 -4.1L18.8 -4.2L22.8 -3.5L24.8 -3.5L26.8 -4L31.2 -5.7L35.8 -6.2L38.8 -6.2L40.8 -5.8L44.8 -3.4L45.8 -3L46.8 -3L47.8 -3.4L49.2 -5.1L50.4 -7.8L51 -11.2L51.1 -14.8L50.5 -18.8L49.6 -22.2L47.2 -28.8L46.2 -29.8Z"/><path fill="#5f70e8" d="M7.8 -22.8L5.8 -22.8L3.8 -22.2L1.8 -21L.2 -19.7L-.1 -11.2L.2 -3.3L1.8 -2.1L3.2 -1.4L5.8 -1L8.8 -1.5L11.2 -2.7L15.2 -5.3L17.2 -6.1L18.8 -6L22.8 -4.6L25.2 -4.7L27.2 -5.5L31.8 -8.3L37.2 -10L39.8 -9L44.2 -5.3L45.8 -4.6L46.8 -4.6L47.8 -5.1L48.8 -6.3L49.5 -7.8L50.3 -11.8L50 -16.2L48.8 -20.2L47.8 -21.6L46.8 -22.2L45.8 -22.1L44.2 -20.5L41.8 -14.2L40.8 -12.4L39.2 -11L37.2 -10.3L33.8 -11L25.8 -13.8L23.8 -14L19.2 -13.9L17.8 -14.3L15.8 -15.8L11.2 -21.1L9.8 -22.1L7.8 -22.8Z"/><path fill="#265cda" d="M7.8 -19.9L5.8 -20.1L3.8 -19.6L1.8 -18.4L.2 -16.7L.2 -5.8L2.2 -3.9L4.8 -3L7.8 -3.2L10.8 -4.5L14.8 -7.8L16.1 -9.2L16.5 -10.2L15.5 -12.2L11.8 -17.2L9.8 -18.9L7.8 -19.9ZM24.8 -12.3L23.2 -12.3L21.8 -12L20.3 -11.2L19.3 -10.2L19.2 -9.2L19.7 -8.2L20.8 -7.1L22.2 -6.1L23.8 -5.8L25.2 -6L26.8 -6.9L27.8 -8.2L28 -9.8L27.5 -10.8L26.3 -11.8L24.8 -12.3ZM46.8 -19.3L45.8 -19.1L45.2 -18.8L44.3 -17.2L43.1 -13.8L42.7 -11.2L42.8 -9.8L43.6 -8.2L44.8 -7L46.2 -6.4L47.2 -6.8L48.2 -7.9L49 -9.8L49.4 -12.2L49.2 -14.8L48.8 -16.8L47.8 -18.6L46.8 -19.3Z"/><path fill="#1496d7" d="M7.2 -18.3L5.2 -18.4L3.2 -17.7L1.6 -16.2L.2 -14L.2 -8.4L.5 -7.8L2.2 -5.6L4.8 -4.4L7.2 -4.5L10.1 -5.8L12.5 -7.8L13.7 -9.8L13.6 -11.8L11.8 -14.8L9.8 -16.9L7.2 -18.3ZM24.8 -10.9L22.8 -10.8L21.6 -9.8L21.7 -8.2L22.7 -7.2L23.8 -6.9L24.8 -7.1L26.1 -8.2L26.2 -9.8L25.8 -10.3L24.8 -10.9ZM46.8 -17.5L45.8 -17.3L44.9 -16.2L44.1 -14.2L43.8 -12.2L43.8 -10.8L44.4 -9.2L45.2 -8.3L46.2 -7.9L47.2 -8.3L47.8 -9L48.3 -10.2L48.6 -12.2L48.2 -15.4L47.8 -16.6L46.8 -17.5Z"/><path fill="#1ec3a0" d="M7.2 -16.8L5.2 -17L3.4 -16.2L1.9 -14.8L1 -12.8L.9 -10.2L1.5 -8.2L2.8 -6.7L4.8 -5.7L6.8 -5.6L8.8 -6.4L10.8 -7.9L11.9 -9.8L11.9 -11.8L10.9 -13.8L9.2 -15.6L7.2 -16.8ZM46.8 -15.7L46.2 -15.7L45.6 -15.2L44.7 -12.8L44.8 -11.2L45.2 -10.2L46.2 -9.5L47.2 -10.1L47.8 -12.2L47.7 -14.2L46.8 -15.7Z"/><path fill="#46d246" d="M6.2 -15.8L4.8 -15.7L3.2 -14.8L2.2 -13.4L1.8 -11.8L1.9 -9.8L2.6 -8.2L3.8 -7.2L5.2 -6.6L6.8 -6.8L8.8 -7.8L10.3 -9.2L10.7 -10.8L10.4 -12.2L9.2 -14.1L7.8 -15.3L6.2 -15.8ZM46.8 -13.3L46.2 -13.6L45.9 -12.8L46.2 -11.5L46.8 -11.9L46.8 -13.3Z"/><path fill="#96d723" d="M7.2 -14.3L5.8 -14.7L4.8 -14.4L3.8 -13.8L3.1 -12.8L2.7 -11.2L3 -9.8L3.8 -8.6L4.8 -7.9L5.8 -7.7L7.2 -8.1L8.6 -9.2L9.1 -10.2L9.3 -11.2L9 -12.2L8.2 -13.4L7.2 -14.3Z"/><path fill="#e1c80f" d="M5.8 -13.3L4.5 -12.8L3.9 -11.2L4.4 -9.8L5.8 -9.1L7.3 -9.8L7.8 -11.2L7.1 -12.8L5.8 -13.3Z"/><g stroke-width="1" stroke-linecap="round"><path stroke="#7070e0" stroke-opacity=".42" d="M58 -36.7h0M19 -37.3h0M31.9 -20.4h0M29.5 -21.4h0M46.9 -56.6h0M23.4 -44.3h0M12.2 -39.6h0M51 -42.1h0M14.9 -41.7h0M49.8 -43.7h0M41.6 -41.5h0M40.3 -31.8h0M27.5 -23.7h0M7.1 -37.1h0M30.4 -21.7h0M12.9 -36.7h0M59.1 -15.7h0M19 -36.9h0M50.2 -48h0M18.3 -39.7h0M45.6 -51.3h0M48.6 -48.8h0M51.2 -33.1h0M39.6 -30.4h0M25.7 -30.8h0M38.8 -18.9h0M10.3 -36.6h0M52.1 -9h0M60.6 -19.1h0M6.8 -36.7h0M19.7 -27.9h0M20.7 -49.7h0M50 -64.2h0M29.7 -37.1h0M52.6 -19.5h0M45.8 -52.8h0M57.7 -28.5h0M32.2 -48.8h0M20.4 -47.4h0M41.8 -62.8h0M16.9 -38.1h0M18 -40.6h0M3 -38.9h0M19 -41h0M35.9 -48h0M55.9 -29.6h0M28.4 -40.7h0M35.6 -16.8h0M32.8 -33.2h0M66.8 -1.5h0M53.2 -11h0M28.9 -27.1h0M3.8 -43.4h0M36 -18.5h0M19.1 -49.8h0M31.5 -18.9h0M35 -31.7h0M25.5 -38h0M28.2 -41.5h0M50.8 -2.3h0M40 -23.4h0M53 -25.2h0M21 -30.2h0M28.7 -63.7h0M23.1 -33.8h0M34 -52.4h0M26.8 -2.4h0M56.6 -30.5h0M52.5 -12.5h0M51.4 -30.1h0M20.4 -23.2h0M53.8 -46.6h0M3 -33.1h0M39 -48.9h0M26.8 -18.4h0M35.5 -27.3h0M38.3 -59h0M50.8 -43.1h0M45.1 -46.9h0M26.4 -19.9h0M11.8 -35.8h0M25.6 -28.5h0M14.1 -38.2h0M35.7 -50.9h0M22.8 -18.6h0M50.5 -42.2h0M42.1 -2.8h0M51.4 -2.9h0M24 -1.2h0M61.8 -46.2h0M43.1 -51.2h0M34.7 -36.9h0M53.4 -47.9h0M25.9 -30.6h0M55.1 -13h0M18.6 -44h0M23.8 -51.2h0M35.8 -3.2h0M60.9 -24h0M34.5 -19.2h0M61.5 -36h0M39 -18.4h0M21.1 -50.6h0M53 -27h0M51 -36.9h0M13.4 -43.4h0M26.5 -53.1h0M21.5 -35.5h0M9.3 -42.6h0M54.9 -12.8h0M37.5 -37.7h0M36.9 -35.9h0M31.9 -52.4h0M58 -30h0M22.7 -1.6h0M30.9 -3.3h0M24.2 -39.4h0M41.3 -38.2h0M35 -48.4h0M37.3 -37.9h0M32.6 -48.2h0M22.9 -57.3h0M34.8 -18.1h0M42.1 -64.9h0M33 -3.7h0M19.7 -37.3h0M53 -29.8h0M32.4 -23.3h0M28.4 -26.8h0M47.4 -44.2h0M27.4 -26.5h0M18.8 -68.4h0M21.6 -44.1h0M12 -36.5h0M50.3 -3.5h0M30.1 -33.1h0M37.2 -62.2h0M41.2 -3.4h0M22.5 -25.6h0M23.5 -36.2h0M33.3 -53.9h0M17.9 -46.2h0M7.7 -44.2h0M15.6 -45.6h0M54.4 -10.3h0M57.9 -38h0M36.5 -53.3h0M35.2 -24.1h0M68.4 -12.3h0M28.6 -29.2h0M47.9 -50.4h0M35.1 -31.6h0M12 -38.2h0M65.7 -45.3h0M34.2 -39.1h0M38.9 -24.5h0M47.7 -49.1h0M14.7 -40.4h0M49.5 -38.6h0M48.7 -52.1h0M44.2 -43.5h0M35.2 -33.3h0M15.4 -67.2h0M6.6 -39.8h0M28.4 -35.4h0M29.2 -27h0M47.8 -62.5h0M11.5 -41.8h0M54.8 -9.4h0M25.9 -52.7h0M50.4 -38.5h0M38.5 -24.7h0M50.2 -3.5h0M47.6 -49.6h0M50.4 -2.9h0M27.7 -44h0M16.3 -39.6h0M52 -24.8h0M3.5 -36.7h0M57.4 -49.8h0M12.9 -38.2h0M58.4 -31.7h0M32.3 -20.7h0M35.6 -17.5h0M42.4 -47.8h0M34.8 -27.7h0M25.2 -30.9h0M66.3 -47.4h0M22 -22.2h0M31.4 -21.8h0M11.8 -37.5h0M53.9 -4.3h0M41 -43.2h0M29.9 -23.2h0M32.9 -23.2h0M68.6 -4.8h0M24.9 -30.5h0M15.3 -34.9h0M25.8 -23.2h0M8 -37.7h0M40.9 -36.6h0M52.4 -30.8h0M38.9 -59.5h0M34.1 -44.8h0M32 -70h0M24.8 -23.2h0M54.8 -28.8h0M10.3 -38.5h0M27.6 -25.1h0M44.5 -47.8h0M50.8 -37.7h0M14.3 -46.7h0M21.4 -26.5h0M36 -29.6h0M22 -26h0M34 -34.1h0M32.4 -25.7h0M21.7 -50.2h0M37 -22.2h0M24.5 -23.2h0M31.4 -3.2h0M38.2 -23.5h0M34.6 -50.3h0M37.3 -62.7h0M58.5 -38.7h0M5.7 -35.7h0M34 -41.1h0M49.5 -39.4h0M1.6 -44h0M51.7 -25.5h0M6.3 -44.6h0M17.9 -32.9h0M53.4 -64.9h0M64.4 -33.3h0M34.7 -35h0M54.8 -17.7h0M13.3 -39.8h0M34.9 -27.3h0M36.1 -4h0M21.3 -44.4h0M8.8 -36.6h0M23.2 -2h0M24.9 -34.3h0M43.5 -43.9h0M40.8 -37.5h0M51.3 -38.6h0M11.9 -48.1h0M3.9 -35.3h0M51 -58h0M39.2 -27.7h0M24.5 -25.6h0M47.5 -1.4h0M50.5 -47.6h0M10.1 -52.2h0M57.9 -22.8h0M52.1 -18.6h0M14.1 -41h0M52.4 -20.9h0M38.2 -32.5h0M33.3 -39.4h0M39.3 -53.9h0M52.9 -48.8h0M22.9 -19.3h0M48.1 -1.5h0M55.7 -21.8h0M19.1 -34.8h0M32.9 -31.8h0M6.2 -37.1h0M48 -56.5h0M25.6 -35.5h0M27.4 -35.9h0M35.9 -49.2h0M35.5 -52.4h0M13.6 -46.1h0M27.5 -2.8h0M25.3 -20.6h0M64 -17.4h0M51.9 -29.8h0M26.3 -24.3h0M10 -38.6h0M60.4 -45.5h0M23.3 -35.7h0M39.5 -35.8h0M40.2 -27.5h0M54.2 -18.2h0M20.9 -66.4h0M40.2 -22.6h0M2 -36.5h0M54.8 -5.5h0M58.8 -58.9h0"/><path stroke="#5060dc" stroke-opacity=".6" d="M14.2 -24.1h0M17.1 -14.9h0M13.2 -2.6h0M17.3 -19.2h0M20 -2.3h0M43.6 -2.3h0M44.5 -29.1h0M31.5 -12h0M12.1 -20h0M47.3 -23.3h0M47.2 -30.1h0M45.4 -2.8h0M6.6 -25.7h0M42.2 -13.6h0M11.3 -3.2h0M2.5 -31h0M34.1 -11.7h0M42.2 -21.4h0M38.1 -9.8h0M27.3 -16.2h0M37.1 -16h0M38.3 -6.3h0M46.3 -31.3h0M35 -12.1h0M47.4 -23.5h0M45.2 -23.8h0M37 -12.3h0M43.6 -3.8h0M42.9 -18.4h0M45.8 -19.7h0M8.4 -25.8h0M18.7 -12.6h0M42.6 -22.1h0M39.9 -11.4h0M45.1 -28.7h0M23.3 -4.6h0M9.7 -31.1h0M12.5 -28.6h0M1 -19.4h0M8 -32.5h0M8.3 -32.5h0M50.2 -6.1h0M6.9 -32.3h0M44.8 -39.5h0M48.5 -22.5h0M40.1 -15.5h0M1.3 -20.2h0M19.6 -20.7h0M37.8 -16.1h0M51.2 -8.2h0M31.6 -7h0M14.9 -20.5h0M46.4 -3.2h0M45.4 -5.5h0M7.1 -24.6h0M38.5 -13h0M43.9 -23.3h0M20 -4.8h0M30.6 -14.3h0M19.6 -21.9h0M24.3 -2.6h0M30.6 -9.2h0M14.1 -17.2h0M46.3 -43.4h0M50.8 -22.8h0M1.8 -22h0M41.2 -36.3h0M44.5 -19.7h0M1.4 -27.3h0M16.2 -23.7h0M4.5 -31.1h0M42.6 -31.5h0M38.4 -6.1h0M34.4 -10.8h0M38.3 -9.8h0M44.1 -2h0M50 -17.4h0M9.5 -20.6h0M7.2 -30.8h0M42.1 -35.6h0M13.9 -17.1h0M51.9 -12h0M42.1 -23.8h0M14.8 -32.9h0M43.6 -24.7h0M35.6 -15.6h0M50.8 -23.2h0M12.5 -2.5h0M13.4 -24.7h0M41.5 -22.7h0M42.6 -38.7h0M4.8 -1.1h0M9.9 -25.5h0M12.8 -27.2h0M45.2 -32.5h0M1.5 -24.7h0M42.7 -25.6h0M43.9 -23.1h0M41.5 -27.6h0M41.8 -12.8h0M36.5 -8.9h0M39.4 -14.5h0M8.6 -21.9h0M15.2 -13.9h0M37.6 -12.8h0M47.4 -40.6h0M50.7 -6.6h0M15.4 -3.1h0M41.4 -8.6h0M17.3 -23.5h0M42.6 -25h0M50.8 -22h0M18.8 -14.4h0M32.9 -9.6h0M19.6 -13h0M50.4 -8.8h0M23.8 -16.2h0M20.4 -4.1h0M30 -7.8h0M44 -2.8h0M37.1 -10.6h0M12.1 -21h0M25.3 -12.7h0M15.5 -27.9h0M48.1 -4.5h0M43.7 -40.3h0M20.4 -16.5h0M47.1 -23.7h0M16.7 -4.6h0M48 -34.2h0M3.9 -23.1h0M43.4 -19.4h0M14.6 -20.7h0M19.1 -18.5h0M13.7 -18h0M27.7 -14.1h0M41.4 -11.9h0M6.8 -25.2h0M4.8 -21.8h0M28.1 -6.9h0M28.2 -5.9h0M18.5 -18.8h0M43.1 -4.7h0M41.6 -20.3h0M1.8 -1.1h0M22.1 -3.5h0M49.8 -22.8h0M50.8 -12.5h0M34.1 -8.3h0M12.6 -20.3h0M50.3 -33.3h0M8.4 -32.5h0M32.6 -8.9h0M16.6 -16.8h0M48.1 -20.7h0M13.4 -30.8h0M26.9 -16.9h0M1.7 -21.6h0M20.5 -3.1h0M19 -23.7h0M10.1 -25.6h0M41.7 -13.3h0M37.9 -15.7h0M12.3 -23.8h0M42.5 -5.5h0M14.5 -22.5h0M17.4 -22.8h0M16.4 -5.8h0M11.6 -24h0M17.4 -17.2h0M42.5 -19.9h0M36.4 -9.3h0M5.1 -29.8h0M34.1 -8.8h0M18.8 -18.9h0M32.7 -7h0M17.6 -8.1h0M31.5 -12.8h0M26.6 -2.5h0M45.7 -2.6h0M31.6 -11.7h0M25.3 -13.6h0M10.6 -26.9h0M49.6 -10h0M10.8 -26.3h0M15.1 -26.4h0M38.2 -14.4h0M11.4 -33.2h0M6.2 -27.4h0M49.5 -29.2h0M15 -13.7h0M32.2 -15.2h0M14.5 -24.3h0M23.6 -3.3h0M28.6 -8.1h0M28.2 -13.3h0M30.9 -12.7h0M47.7 -31.1h0M17.9 -16.7h0M7.7 -26.5h0M12.7 -26.8h0M11.2 -31h0M45.7 -24.2h0M47.5 -24.2h0M15 -3.9h0M30.8 -10.9h0M21.7 -15.3h0M32 -13.1h0M23.2 -15.5h0M25.5 -14.5h0M34.3 -13.3h0M15.5 -6.8h0M17.3 -3.4h0M43.1 -17.4h0M1.5 -25h0M49.6 -32.8h0M5.2 -33.5h0M3.6 -22.9h0M51.4 -12.4h0M46 -42.7h0M43.4 -5.1h0M16.4 -29.7h0M7.5 -1.4h0M30.6 -8.5h0M42 -20.8h0M46.8 -25.2h0M49 -35.3h0M9.2 -25.6h0M5.7 -26.8h0M32.7 -8.5h0M37.8 -5.1h0M19.1 -17.7h0M29.6 -16h0M50.5 -21.6h0M41.6 -7.4h0M15.3 -4.1h0M40.4 -15.2h0M13.5 -23.4h0M44.2 -20.6h0M39.7 -10.7h0M44.2 -32.9h0M34.9 -11.6h0M16.7 -7h0M36.9 -6h0M47.3 -20h0M47.9 -35.9h0M10.3 -20h0M11.1 -22.5h0M20.4 -4.8h0M44.1 -1.8h0M11.9 -30.3h0M50 -8.9h0M47.3 -25.8h0M42.2 -26.3h0M16.4 -15.4h0M32.9 -11.1h0M11.4 -22.4h0M47.1 -6.1h0M35.9 -14.2h0M40.7 -18.7h0M13.7 -17.3h0M28.7 -12.4h0M19.2 -24.9h0M36.2 -7.3h0M9.8 -25.3h0M43.1 -24.4h0M5.8 -26.1h0M44 -32.9h0M50 -22.1h0M6.8 -21.6h0M47.1 -29.2h0M6.5 -2h0M46.2 -24.8h0M47.8 -28.2h0M51 -22.7h0M23.6 -2.3h0M12.7 -5h0M12.8 -30.9h0M29.3 -6.8h0M40.1 -11.2h0M12.3 -35h0M16.3 -5.4h0M42.3 -22.9h0M44 -41.4h0M25.1 -17.5h0M.9 -22.2h0M50.5 -19.6h0M1.7 -3.9h0M42.8 -16.9h0M30.3 -6.4h0M10.8 -20.2h0M15.2 -20.1h0M19.9 -12.7h0M15.9 -21h0M11 -30.7h0M45.5 -26.1h0M29.2 -12.9h0M45.5 -31.6h0M14.6 -22.4h0M50.8 -7.4h0M49.2 -38.7h0M36.1 -14.9h0M37.7 -15.1h0M39.7 -9h0M14.7 -19.1h0M15.3 -24h0M42.9 -19.7h0M12.8 -1.3h0M18.3 -21.9h0M23.2 -14.5h0M49.8 -21.9h0M27.2 -4.1h0M51.8 -17.3h0M10.4 -23.3h0M50.7 -17.6h0M42.7 -6.4h0M43.4 -32.9h0M45.8 -20.7h0M48.2 -30.4h0M14.1 -22.4h0M5.1 -21.3h0M4.2 -22.1h0M24.4 -16.9h0M20.7 -18.4h0M47.7 -37.9h0M41.5 -16.8h0M46.6 -25.6h0M44 -3.1h0M11.2 -25.7h0M45.1 -27.3h0M40.1 -13.2h0M17.2 -17.3h0M1.8 -3.5h0M10.1 -35h0M28.5 -12.1h0M45.2 -4.3h0M40.6 -12.3h0M48.1 -39.8h0M9.6 -1.7h0M15.5 -5.5h0M43.8 -37.4h0M31.7 -13.3h0M41.7 -16.6h0M46.8 -1.7h0M43.2 -5.2h0M12.3 -28h0M19.6 -6.4h0M44 -38.6h0M16.1 -23.3h0M17.8 -27.1h0M51.5 -9.8h0M47.7 -36.9h0M44.8 -20h0M7.3 -24h0M41.6 -5.1h0M31.2 -13.1h0M3.3 -22.4h0M10.6 -32.6h0M10.4 -22.1h0M3 -20.1h0M46.2 -1.6h0M49.6 -29.1h0M13.8 -4.8h0M10.3 -24.4h0M21.2 -3.5h0M40.5 -16.8h0M34.6 -8h0M38.6 -10.7h0M49.4 -17h0M49.3 -24.1h0M34.8 -6.4h0M22.9 -5.1h0M10.2 -33.3h0M22.1 -2.3h0M23 -15h0M20 -5.6h0M8.5 -28.2h0M31.1 -15.7h0M28.7 -11.2h0M45.2 -19.5h0M10.9 -27.4h0M14.5 -23.3h0M21.2 -16.9h0M30.1 -4.8h0M21.5 -12.6h0M30.2 -6.9h0M15.5 -20.1h0M25.6 -4.9h0M43.4 -7h0M6.3 -23.3h0M31 -15h0M44.8 -25h0M49 -27.2h0M30.9 -16.7h0M11.1 -34.1h0M20.6 -17.8h0M5.2 -22.5h0M15 -5.6h0M41.1 -13h0M4.5 -2.3h0M21.1 -2.8h0M13.9 -26.9h0M30.8 -8h0M14.9 -18h0M4.7 -26.7h0M48.5 -40.4h0M4.2 -25.1h0M40.3 -5.1h0M15.9 -2.3h0M29.3 -6.2h0M8 -2.1h0M7 -31.9h0M15.8 -23h0M41.7 -22.9h0M32.3 -11.4h0M50.9 -13.7h0M25.9 -13.8h0M43.7 -26.3h0M18.9 -24.4h0M10.7 -26.1h0M33.2 -4.7h0M28.7 -4.5h0M8.9 -31.9h0M32.8 -12h0M30.8 -6.8h0M10.3 -27h0M18.2 -17.4h0M14.6 -26.7h0M49.4 -21.7h0M38.6 -15.5h0M15.5 -15.5h0M42.9 -22.9h0M14.2 -2.1h0M19.6 -4.7h0M43.3 -36.2h0M8.5 -30.9h0M16.1 -21.6h0M1 -23.6h0M17.8 -19.9h0M49 -4.1h0M6.4 -30.1h0M3.3 -1.9h0M14.7 -24.2h0M49.4 -18.1h0M48.9 -37.6h0M18.1 -17h0M21.6 -2.6h0M35.6 -10.8h0M50 -20.5h0M47.1 -20.5h0M41.8 -22.1h0M12 -1.2h0M50.5 -32.3h0M15.9 -29h0M38.8 -5.9h0M1.8 -28h0M17.8 -16.5h0M12.1 -29h0M24.2 -4.2h0M22.5 -14.7h0M17.7 -26.2h0M50.7 -11.5h0M6.6 -28.4h0M49.9 -32.5h0M44.9 -30.3h0M34.4 -5.9h0M31.6 -4h0M20.7 -16h0M9.9 -26.3h0M1.1 -19.9h0M40.9 -6.8h0"/></g></g><g id="a5" filter="url(#bl)"><path fill="#d4d5f9" d="M47.2 -41.8L45.8 -42.2L44.8 -41.8L43.4 -40.2L42.5 -38.2L41.7 -35.2L41.3 -32.2L41.2 -22.8L40.9 -19.8L40.2 -17.7L39.2 -16.8L38.2 -16.4L35.2 -16.1L31.2 -16.3L25 -17.2L21.3 -18.2L20.2 -19L19.4 -20.2L16.4 -28.2L14.8 -30.8L13.2 -32.4L11.2 -33.6L9.2 -34L7.2 -33.5L5.2 -32.1L.2 -26.1L-.2 -12.2L-.1 -4.8L.2 -.6L.7 -.2L4.2 -.1L13.1 -.2L15.8 -1.8L17.8 -2.4L24.2 -2.4L30.2 -3.8L35.2 -4.3L38.8 -4.3L40.8 -4L42.2 -3.4L44.8 -1.7L46.2 -1.2L47.8 -1.4L48.8 -2L50.4 -4.2L51.6 -7.2L52.2 -10.8L52.3 -15.2L50.6 -34.2L49.2 -38.9L48.2 -40.8L47.2 -41.8Z"/><path fill="#a0a5f2" d="M46.8 -27.3L46.2 -27.3L45.8 -26.9L44.8 -25L41.2 -15.4L39.8 -14.1L37.2 -13.6L31.8 -13.9L19.5 -15.8L18.2 -16.4L17.2 -17.2L13.8 -22.6L11.2 -25.1L9.8 -25.8L8.2 -26.1L6.2 -25.9L4.2 -25.1L2.2 -23.8L.2 -22.1L-.1 -12.2L.2 -3L1.8 -1.9L3.8 -1L7.2 -.6L10.8 -1.5L16.8 -4.4L18.2 -4.5L22.2 -3.7L24.2 -3.7L26.2 -4.2L30.8 -6L36.8 -6.6L40.8 -6.2L45.2 -3.5L46.8 -3.2L47.8 -3.4L49.2 -4.8L50.4 -7.2L51.1 -10.2L51.3 -14.2L50.9 -17.8L50 -21.2L48.2 -25.4L46.8 -27.3Z"/><path fill="#5f70e8" d="M8.2 -22.9L6.2 -22.9L4.2 -22.4L2.2 -21.3L.2 -19.4L-0 -12.2L.2 -5.2L2.2 -3.5L5.2 -2.4L8.2 -2.5L10.8 -3.3L15.2 -5.8L17.2 -6.4L18.2 -6.3L22.2 -4.8L24.8 -4.9L27.5 -6.2L31.5 -9.8L31.5 -10.2L30.3 -11.2L26.2 -13.2L23.8 -13.7L19.2 -13.5L17.8 -14L15.8 -15.7L11.8 -21L10.2 -22.1L8.2 -22.9ZM46.8 -21.8L45.8 -21.5L44.4 -19.8L40.5 -10.2L40.9 -9.2L43.8 -6.2L45.2 -5.1L46.8 -4.8L48.2 -5.5L49.4 -7.2L50.2 -9.8L50.5 -12.8L50.3 -15.8L49.5 -18.8L48.2 -21L46.8 -21.8Z"/><path fill="#265cda" d="M7.8 -20.3L5.2 -20.3L3.2 -19.5L1.7 -18.2L.2 -16L.2 -8.3L2.2 -5.8L3.8 -4.8L5.2 -4.4L8.2 -4.5L11.4 -5.8L14.7 -8.2L15.5 -9.2L15.8 -10.2L15.7 -11.2L15 -12.8L12.1 -17.2L10.1 -19.2L7.8 -20.3ZM24.8 -11.8L22.2 -11.9L20 -10.8L19.6 -10.2L19.4 -9.2L19.8 -8.2L20.6 -7.2L21.8 -6.5L23.2 -6.1L24.8 -6.3L26.2 -7.2L26.8 -8.2L27 -9.8L26.2 -10.9L24.8 -11.8ZM47.2 -18.9L46.2 -18.9L45.8 -18.6L44.8 -17.2L43.8 -14.8L43.2 -11.8L43.3 -10.2L43.8 -8.8L45.1 -7.2L46.2 -6.7L47.2 -6.9L48.3 -7.8L49 -9.2L49.5 -11.8L49.5 -14.2L49.1 -16.2L48.2 -18L47.2 -18.9Z"/><path fill="#1496d7" d="M6.8 -18.8L4.8 -18.5L2.7 -17.2L1.2 -15.1L.6 -12.2L1 -9.8L2.2 -7.7L4.2 -6.2L6.2 -5.7L8.8 -6.2L11.2 -7.4L12.8 -8.8L13.5 -10.8L12.9 -13.2L11 -16.2L8.8 -18.2L6.8 -18.8ZM24.2 -10.3L22.8 -10.4L21.8 -9.8L21.6 -8.8L22.2 -7.8L23.8 -7.4L25 -8.2L25.2 -9.2L24.2 -10.3ZM47.2 -17L46.2 -17L45.5 -16.2L44.8 -14.8L44.3 -12.8L44.3 -11.2L44.7 -9.8L45.2 -8.9L46.2 -8.3L47.2 -8.5L47.8 -8.9L48.4 -10.2L48.7 -11.8L48.5 -14.8L47.9 -16.2L47.2 -17Z"/><path fill="#1ec3a0" d="M6.8 -17.3L4.8 -17L3.2 -15.9L2.2 -14.2L1.8 -12.2L2.1 -10.2L3 -8.8L4.2 -7.6L6.2 -7.1L8.2 -7.4L10.2 -8.5L11.4 -9.8L11.8 -11.2L11.3 -13.2L10.1 -15.2L8.3 -16.8L6.8 -17.3ZM47.2 -14.9L46.8 -15.2L46.2 -15L45.4 -13.2L45.5 -11.2L46.2 -10.1L46.8 -10L47.2 -10.4L47.8 -11.8L47.8 -13.8L47.2 -14.9Z"/><path fill="#46d246" d="M7.2 -15.9L5.8 -16L4.2 -15.3L3.4 -14.2L2.9 -12.8L3 -11.2L3.6 -9.8L4.7 -8.8L5.8 -8.3L7.2 -8.4L8.8 -9L10 -10.2L10.4 -11.2L10.3 -12.2L9.7 -13.8L8.8 -14.9L7.2 -15.9Z"/><path fill="#96d723" d="M7.2 -14.3L6.2 -14.5L5.3 -14.2L4.2 -12.9L4.3 -11.2L4.8 -10.5L5.8 -9.8L7.2 -9.9L8.5 -11.2L8.5 -12.8L7.2 -14.3Z"/><g stroke-width="1" stroke-linecap="round"><path stroke="#7070e0" stroke-opacity=".42" d="M20.2 -23.8h0M34.3 -16.7h0M43.4 -61.8h0M42.6 -39.1h0M19.1 -58.3h0M11.8 -37.8h0M40.6 -39.1h0M23.3 -19.7h0M24.9 -22h0M37.9 -24h0M11.7 -40.9h0M53.8 -5.2h0M54.1 -25.1h0M52.7 -42.3h0M31 -23.7h0M49.3 -55.2h0M38.3 -43h0M49.6 -41.6h0M17.1 -40.8h0M18.7 -37.8h0M37 -43.3h0M42.7 -2.9h0M1.8 -30.2h0M45.7 -56.5h0M15.6 -38.6h0M42.7 -40.7h0M26.7 -27.5h0M23.7 -28.3h0M46.3 -61.7h0M43.2 -44.8h0M22.8 -27.4h0M53.2 -17.7h0M21.6 -34.7h0M16.2 -38h0M33.2 -65.6h0M20.7 -38.2h0M39.6 -2.9h0M14.8 -41.2h0M54.3 -21.4h0M61.6 -23.5h0M18.7 -52.1h0M22.9 -61.7h0M32.7 -52.5h0M54.2 -31.5h0M50.7 -51.2h0M13.9 -34h0M61.2 -54.2h0M45.6 -53h0M48.4 -67h0M9 -41.1h0M25.2 -30.9h0M13.1 -41.2h0M42.8 -42.3h0M37.6 -36.4h0M37.4 -24.4h0M35.4 -50.1h0M11.3 -35.8h0M48.9 -43.3h0M16.5 -39.2h0M32.2 -44.1h0M21.7 -33.7h0M32.2 -33.3h0M36.7 -17.1h0M52.1 -10.5h0M49.4 -45.5h0M40.8 -29h0M16.9 -34.3h0M2 -46.6h0M23.9 -30.4h0M49.9 -43.2h0M40.3 -26.8h0M51.7 -43.5h0M42.3 -48.9h0M1.3 -48.6h0M12.2 -33.2h0M2.5 -41.3h0M53.2 -11.5h0M54.5 -10.7h0M36.3 -38.8h0M52 -17.6h0M40.4 -25.3h0M36 -16.7h0M24.5 -27.8h0M36.9 -51.2h0M21.8 -32.4h0M52.2 -24.9h0M24.7 -40.1h0M18.3 -36.3h0M22.4 -26.5h0M25.5 -61.5h0M2.6 -50.1h0M21.1 -25.8h0M40.6 -32.8h0M26.8 -2.6h0M25.6 -34.5h0M33.5 -16.6h0M44 -51.3h0M53.8 -39.3h0M2.5 -29h0M30.7 -3.6h0M60.2 -49.5h0M54.2 -36.6h0M38.4 -35.5h0M38.5 -38.1h0M1.8 -39.1h0M21.1 -46.3h0M16.9 -31.6h0M38.2 -37.9h0M32.4 -46.1h0M50.9 -40.4h0M17.6 -2.4h0M8.5 -44.6h0M52.3 -34.6h0M55 -38.5h0M16.7 -34h0M61.6 -17.1h0M28.3 -24.4h0M52.3 -19h0M38.8 -34.8h0M67.9 -30.1h0M37.5 -2h0M21.4 -28.7h0M55.2 -37h0M22.1 -44.3h0M34.4 -48.2h0M21.3 -33.9h0M52.1 -38.2h0M30.7 -22.2h0M4.6 -43h0M30.7 -22.2h0M47.4 -59.2h0M57.4 -64.6h0M19.1 -29.8h0M39.3 -17.6h0M33.9 -36.1h0M14.2 -36.1h0M9.4 -35.7h0M42.2 -2.3h0M35.3 -46.5h0M53.4 -3.4h0M48.9 -41h0M26.3 -38.9h0M67.5 -26.1h0M35 -3.7h0M42.5 -40.5h0M63.3 -42.3h0M24.7 -47.6h0M35.8 -18.7h0M53.6 -22.3h0M15.2 -33.2h0M34 -3.5h0M7.8 -40.6h0M25.3 -41.8h0M44.9 -52.8h0M15.4 -40.2h0M37.2 -18.1h0M58.2 -24.4h0M20.4 -49.5h0M18.2 -2.1h0M52.2 -42.1h0M25.8 -31.4h0M35.2 -60.7h0M14.6 -49.2h0M34.1 -31.3h0M35 -29.4h0M66.9 -21.3h0M11 -35.7h0M51.8 -30.4h0M23.5 -34.9h0M13.4 -35.4h0M56.3 -69.2h0M45.7 -45.4h0M6.3 -33.7h0M52.7 -14.4h0M59.5 -33.8h0M54.6 -28.5h0M20.4 -20.2h0M16.1 -38.2h0M48.1 -46.4h0M39.7 -49.3h0M52.9 -32.9h0M42.8 -55.1h0M22.1 -24.8h0M28.2 -25.7h0M31.9 -64h0M12.2 -36.9h0M51.8 -48.3h0M3 -30.6h0M29.7 -25.7h0M4.6 -39.1h0M26.2 -45.9h0M52.3 -27.8h0M34.3 -47.9h0M14.6 -47h0M19.4 -23.7h0M63.8 -9.4h0M43.3 -42.3h0M23.3 -23.5h0M51.3 -49.3h0M26.3 -39.6h0M52.5 -64.9h0M19.4 -46.6h0M10.6 -37h0M3.9 -49.7h0M34.3 -32h0M28.5 -45.6h0M6 -40.1h0M38.4 -20.9h0M19.5 -32.3h0M40.8 -40.1h0M18.5 -32.7h0M44.1 -41.6h0M18.2 -58.6h0M42.8 -49.3h0M58.9 -21h0M50.3 -42.5h0M36.8 -22.6h0M24.5 -46h0M39.2 -27.8h0M52.9 -15.2h0M22.6 -1.7h0M55.4 -25.3h0M48.8 -41.4h0M13.7 -34.8h0M50.6 -38.1h0M19.5 -29.1h0M2.8 -30h0M58.8 -33.6h0M47.1 -46.8h0M39.7 -44.8h0M41.1 -53h0M20.2 -19.2h0M55 -8.1h0M24.4 -20.4h0M33.5 -18.1h0M55.9 -47.7h0M40.7 -51.5h0M53.1 -53.3h0M51.4 -34.6h0M51.4 -45.7h0M52.1 -27.6h0M27.1 -64.7h0M21 -38.8h0M36.3 -27.4h0M1.2 -33.3h0M42.8 -55.1h0M38 -43.6h0M32.2 -43.3h0M6.8 -42.9h0M30.9 -1.2h0M8 -38.2h0M35.9 -2.9h0M41.2 -39.9h0M16.4 -31.7h0M47.9 -47.9h0M33.5 -47.7h0M32.3 -24h0M41.5 -66.6h0M3.6 -38.1h0M31.6 -29.2h0M5.2 -46.7h0M43.3 -44.7h0M30.4 -2.8h0M40.6 -19.7h0M33.2 -36.7h0M19.7 -22.9h0M9.7 -39.6h0M6.7 -49.6h0M3.2 -44.1h0M58.3 -19h0M53.6 -35.3h0M51.5 -30.5h0M37 -23.7h0M49.8 -40.9h0M16 -35.9h0M40.9 -44.7h0M39.7 -22.9h0M55.9 -24.5h0M29.1 -28h0M39.3 -43.7h0M53.7 -27h0M17.9 -26.4h0M52.9 -37.4h0M28.3 -26h0M27.8 -21.2h0M46.9 -48.1h0M7.8 -41.1h0M36.1 -65.3h0M49.3 -45.2h0M28.8 -36.7h0M1.1 -42.2h0M40.9 -1.4h0M29.8 -44.4h0M27.5 -29.6h0M32.5 -3.3h0M20.8 -20.9h0M21.9 -23h0M35.7 -35.3h0M21.9 -21.9h0"/><path stroke="#5060dc" stroke-opacity=".6" d="M36.5 -15.4h0M14.2 -16.8h0M41 -27.5h0M13.2 -29.4h0M32.5 -14.7h0M47.8 -29.1h0M47.2 -4.8h0M7.3 -2.9h0M48.6 -34.7h0M47.3 -2.4h0M40.5 -8.3h0M8.1 -27.1h0M45.3 -4.5h0M35.8 -7.3h0M49.9 -33.1h0M45.3 -4.3h0M2.1 -20h0M38.1 -14h0M1.6 -19.4h0M13.8 -20.6h0M25 -12.9h0M23.3 -16.4h0M20.2 -14.1h0M9.4 -3.1h0M17.7 -10.8h0M43.1 -34.1h0M48.1 -19.6h0M42.3 -35.9h0M41.6 -5.7h0M41.2 -11.5h0M47.6 -3.6h0M19.3 -12.5h0M3.2 -20.8h0M11.5 -19.5h0M47.5 -23.8h0M13.9 -25.9h0M27.8 -9h0M51.1 -20.1h0M46.9 -33.8h0M7 -23.5h0M44 -40.7h0M41.9 -23.1h0M39.4 -7.5h0M50.7 -24.8h0M24.6 -14.5h0M7.8 -31.8h0M44.6 -36.1h0M4.6 -22h0M.8 -6.5h0M18.1 -12h0M43.2 -8.2h0M22.2 -3.7h0M46.8 -37h0M42 -7.6h0M15.7 -18.4h0M34.9 -7.1h0M24 -13.9h0M16.9 -4.5h0M16 -13.4h0M5 -30.4h0M48.3 -20.8h0M32.5 -7.5h0M30.3 -4.8h0M7.4 -25.1h0M33.5 -6.8h0M10.4 -24.4h0M48.4 -20.3h0M39.4 -11.6h0M44.6 -34.9h0M11.9 -2.2h0M30.2 -9h0M5 -3.9h0M9 -25.9h0M33.7 -15.6h0M47.3 -29.6h0M15.6 -8.4h0M42.3 -37h0M11.3 -20.1h0M17.1 -15.7h0M19.6 -3.6h0M49.7 -24.3h0M36.4 -9.7h0M34.8 -11.5h0M42.2 -31.7h0M8.9 -2.5h0M39 -11.9h0M28.8 -13.9h0M26.3 -5h0M41.1 -15.3h0M17.2 -23.7h0M47.5 -36.3h0M11.6 -26.4h0M39.4 -11.1h0M14.4 -23.1h0M48.3 -2.9h0M43 -23.4h0M16 -20h0M41.8 -9.6h0M34.9 -6.5h0M17.5 -5.7h0M48.6 -29h0M20.6 -6.2h0M40.9 -7.7h0M25 -13.9h0M4.6 -27.7h0M27.3 -5h0M1.1 -22.9h0M28.2 -4.7h0M46.6 -20.1h0M14.3 -3.1h0M22.5 -14.9h0M47.3 -41.2h0M11.7 -18.7h0M36.5 -5.7h0M6.7 -29.9h0M28.6 -11.5h0M45.2 -28.4h0M1.1 -4.2h0M52.4 -13.6h0M16.9 -19.8h0M15.9 -15.7h0M3.1 -21.6h0M51.9 -8.4h0M8.7 -26.6h0M48.5 -35.3h0M35.8 -8.6h0M17.4 -13.3h0M16.7 -6.4h0M46.7 -20.9h0M25.2 -16h0M17.9 -17.3h0M8.9 -23.6h0M39.9 -10h0M41 -6.1h0M45.1 -6.3h0M13.3 -19.2h0M34.7 -14.6h0M5 -24.1h0M39.9 -11.6h0M5.1 -29.9h0M7.2 -25.5h0M36.2 -11.9h0M2.8 -4.1h0M17 -8.1h0M29.8 -7h0M11.9 -21.9h0M43.2 -3h0M2.8 -26.8h0M42.6 -31.5h0M4.9 -2.7h0M14.5 -2.4h0M2.7 -23.2h0M47.4 -28.1h0M47.5 -30.9h0M42.3 -29.2h0M46.7 -41h0M51.7 -18.2h0M29.9 -6.6h0M21.6 -4.5h0M50.9 -15.9h0M8.5 -24.1h0M46.7 -37.5h0M19.5 -3h0M26.7 -7.2h0M2.7 -2.7h0M42.8 -17.8h0M12.3 -30.8h0M36.6 -12.1h0M19.4 -19.8h0M43 -4.8h0M12.4 -27.7h0M28 -14.5h0M48.8 -2.5h0M13.6 -29h0M48.6 -20.6h0M12 -21.4h0M47.9 -29.3h0M50.2 -4.2h0M22.8 -3.6h0M49.5 -4.1h0M44.8 -28h0M13.8 -23.3h0M29.9 -3.8h0M46.7 -3.8h0M3.4 -26.1h0M39.7 -5.5h0M25.2 -13.5h0M45.2 -39.1h0M44.1 -27h0M45.2 -38h0M13.3 -26.2h0M18.6 -12.8h0M8.9 -21.8h0M3.9 -2.7h0M17.5 -8.7h0M20.3 -16.6h0M5.3 -27.7h0M29.5 -13.2h0M44.9 -36.3h0M1.1 -19.3h0M42.6 -11.1h0M41.3 -10.2h0M31.6 -9.7h0M49.4 -23.7h0M7 -24.8h0M37.7 -9.6h0M.8 -21.6h0M43.4 -5.9h0M29.8 -13.2h0M48.7 -31.7h0M37.3 -12.4h0M1.3 -24.6h0M43.8 -35.4h0M2 -26.3h0M48.9 -36.4h0M11.9 -27.3h0M46.3 -35.8h0M29.6 -10.2h0M15.8 -17.6h0M33.2 -4h0M44.8 -40.6h0M44.6 -21.9h0M39.9 -7h0M14.6 -5.7h0M17.1 -14.6h0M45.7 -25h0M9.3 -26.9h0M19.9 -16h0M2.8 -1.5h0M46.2 -2.6h0M10.9 -3.7h0M1.8 -20.9h0M3.1 -1.7h0M46.7 -3h0M21.1 -17.2h0M47.2 -27.7h0M48.2 -24.1h0M45.2 -4.2h0M50.5 -16h0M10.7 -26.4h0M45.5 -2.7h0M3 -25.5h0M18.6 -4h0M43 -19h0M46.8 -4h0M41.4 -6h0M6.1 -26.4h0M12.7 -20h0M9.1 -26h0M24 -15.2h0M48.9 -32h0M50.7 -28.7h0M2.5 -20.3h0M45.4 -6.3h0M7.7 -33.1h0M16.1 -17.9h0M46.6 -34h0M47 -3.9h0M.9 -3.1h0M33.6 -7.2h0M21.6 -13.5h0M14.5 -15.6h0M12.3 -20.7h0M12.6 -24.7h0M21.5 -6.1h0M14 -25.6h0M44.8 -29.3h0M11.3 -22.4h0M29.4 -11.3h0M41.5 -7h0M13.5 -16.8h0M15.9 -20.5h0M40.1 -9.3h0M46.4 -40.4h0M1.8 -20.1h0M44 -41h0M36.4 -9.9h0M12.2 -1.6h0M3.8 -26.6h0M6.7 -32.2h0M42.2 -18h0M39.8 -14.4h0M14.9 -15.9h0M14.1 -15.9h0M44.3 -23.7h0M5.6 -24.7h0M35.9 -12.7h0M36.3 -12.1h0M12.6 -30.1h0M38.4 -11.9h0M46.2 -26.3h0M25.4 -14.6h0M5.4 -26.9h0M4.2 -2.8h0M49.5 -22.8h0M1.8 -24.2h0M46.6 -29.1h0M17.3 -25.2h0M1.7 -23.8h0M30.4 -6.5h0M47.3 -22.4h0M51.9 -17.8h0M49.9 -32.8h0M50.6 -15.9h0M6.6 -30.5h0M23.3 -14.8h0M44.1 -7.3h0M51.2 -24.1h0M41.3 -7h0M40.1 -5.5h0M38.2 -14.3h0M49.5 -16.5h0M13.6 -16.9h0M28.1 -14.9h0M4.9 -24.3h0M1.1 -18.7h0M34.6 -5.6h0M49 -5.6h0M1.7 -24.3h0M42.3 -21.7h0M50.6 -10.6h0M48.8 -35.7h0M46.4 -38.2h0M1.4 -5.7h0M23.4 -15.9h0M31.3 -9.9h0M17.6 -7.8h0M17 -24h0M45.3 -5.4h0M38.1 -11.9h0M14.5 -25.1h0M4.3 -28.4h0M4 -3.9h0M12 -24.1h0M12 -26.1h0M20.5 -3.6h0M50.4 -6.9h0M38.1 -9.3h0M14.5 -1.9h0M45.5 -36.5h0M48.2 -4.1h0M30.3 -10.5h0M11.8 -19.2h0M24.6 -13.6h0M41.6 -16h0M35.7 -14.5h0M18.4 -16.6h0M33.1 -6.6h0M47.4 -24.6h0M6.4 -1.4h0M39.4 -7.8h0M51.5 -27.1h0M25.7 -4.4h0M41.7 -8.7h0M45.1 -20.2h0M5.4 -24.5h0M8.8 -25.3h0M4 -2.4h0M1.9 -22.2h0M42.1 -34h0M47.8 -28h0M30.4 -7.3h0M19.7 -15.7h0M16.9 -19.8h0M11.8 -31.8h0M34.3 -7h0M49.1 -33.9h0M21.2 -16.1h0M1.1 -27h0M46.8 -28.5h0M6.9 -30.4h0M42.5 -22.7h0M44.8 -5.8h0M5.4 -22.8h0M47.3 -31h0M48.9 -39.6h0M20.4 -15.7h0M48.7 -5.7h0M18.9 -16.2h0M19.4 -5.4h0M49 -20.9h0M18.5 -17.5h0M6.4 -21h0M47.7 -6.8h0M44.4 -7.4h0M35.8 -11.7h0M14.6 -6h0M51.2 -26.3h0M43.2 -25.3h0M15.3 -6.1h0M4.6 -26.2h0M2.4 -24h0M44.1 -3.7h0M1.3 -22.3h0M1.2 -24.3h0M43.6 -4.5h0M45.6 -31.9h0M10.8 -2.4h0M27.7 -4.6h0M40.1 -13.9h0M17.3 -23.6h0M19.3 -4.2h0M5.1 -23.4h0M28.9 -8.3h0M35.8 -12.9h0M47 -30.6h0M16.9 -17.7h0M21.9 -12.1h0M17.8 -13.5h0M42.2 -15.2h0M14.2 -17.5h0M40.2 -6.1h0M10.6 -20.2h0M8.2 -33.1h0M30.7 -6.4h0M6.4 -3.9h0M30.8 -15.6h0M22.8 -14.6h0M15 -14.5h0M51 -6.5h0M19.2 -7.6h0M40.9 -16.1h0M50.8 -17.8h0M23.1 -3.2h0M39.4 -15.8h0M14.9 -14.3h0M14.7 -4.7h0M50.5 -7.3h0M38 -15.9h0M50 -18.4h0M48.2 -28.2h0M16.5 -4.1h0M1.3 -22.3h0M.8 -25h0M50.4 -15.1h0M19.6 -15.4h0M46.3 -34.4h0M41.2 -15.4h0M46 -25h0M45.1 -19.2h0M48.1 -18.6h0M31.8 -9.4h0M33.4 -12.8h0M11.1 -23.1h0M9.8 -24.2h0M31.9 -9.2h0M39.6 -11.1h0M47.1 -4.6h0M50.1 -12.9h0M41.9 -13.9h0M51.4 -6.3h0M29.4 -5.2h0M5 -21.5h0M34.4 -12.5h0M33.6 -7.6h0M34.8 -9h0M31.8 -13.3h0M25.2 -15.7h0M6.4 -3.6h0M43.7 -35.1h0M17.8 -7.1h0M31 -15.1h0M30.4 -8.8h0M43.5 -16h0M14.3 -3.2h0M50.4 -18.3h0M46.3 -31.4h0M21.8 -16h0M40.7 -14.5h0M48.6 -7.1h0M43.9 -39.5h0M13.6 -26.2h0M47.5 -31.2h0M6.3 -26.9h0M19.2 -18.5h0M12.9 -22.4h0M43.4 -26.1h0M19.8 -14.5h0M27.9 -15.9h0M47.9 -3h0M38.8 -5.1h0"/></g></g><g id="b0" filter="url(#bl)"><path fill="#d4d5f9" d="M15.8 -46.6L14.2 -39.2L9.5 -8.2L9.6 -6.2L10.6 -3.8L11.8 -2.5L13.2 -2L14.8 -2.5L15.8 -3.3L19.2 -7.9L20.2 -8.5L23.8 -9.2L33.2 -9.5L34.8 -10L35.2 -10.2L35.3 -10.8L34.8 -11.3L32.8 -11.7L24.8 -11.9L21.2 -12.4L19.8 -12.8L18.8 -13.9L17.8 -17.6L17.5 -19.8L16.6 -42.2L16.2 -46L15.8 -46.6ZM41.2 -25.3L40.2 -24.6L39.5 -22.8L36.9 -10.8L39.6 -4.8L40.2 -3.9L41.2 -3.5L42.2 -4.3L43.2 -6.8L43.7 -9.8L43.9 -13.8L43.7 -18.2L43.1 -21.8L42.2 -24.3L41.2 -25.3Z"/><path fill="#a0a5f2" d="M15.2 -35.2L14.8 -34.4L13.8 -29.9L10.6 -12.8L10.1 -8.2L10.2 -6.8L10.8 -4.8L11.8 -3.6L13.2 -3L14.8 -3.5L16.1 -4.8L16.9 -6.2L17.5 -8.2L17.5 -12.2L16.7 -19.8L16 -31.2L15.8 -33.7L15.2 -35.2ZM41.8 -20.9L41.2 -21.2L40.8 -21L40 -19.8L39.4 -17.2L39 -13.2L39 -10.8L39.6 -8.2L40.2 -6.7L40.8 -6.2L41.2 -6.1L41.9 -6.8L42.5 -8.2L43.1 -12.8L42.8 -17.8L42.3 -19.8L41.8 -20.9Z"/><path fill="#5f70e8" d="M14.8 -26.7L14.2 -26L13.8 -24.3L11.5 -14.8L10.6 -8.2L10.7 -6.8L11.2 -5.2L12.2 -4.1L13.2 -3.7L14.2 -4L15.7 -5.2L16.5 -6.8L16.8 -8.2L16.6 -14.2L15.2 -25.5L14.8 -26.7ZM41.2 -17.8L40.8 -17.5L40.2 -16.2L39.9 -13.2L40.2 -10.2L40.8 -9.2L41.2 -9L42 -10.2L42.3 -13.2L42 -16.2L41.8 -17.2L41.2 -17.8Z"/><path fill="#265cda" d="M14.2 -19.5L13.2 -17.9L12.2 -14.8L11.5 -11.8L11.1 -8.2L11.3 -6.8L11.7 -5.8L12.2 -5L13.2 -4.6L14.2 -4.8L15.2 -5.8L16 -7.2L16.1 -8.2L16.2 -11.8L15.8 -14.8L15 -18.2L14.8 -19.1L14.2 -19.5Z"/><path fill="#1496d7" d="M14.2 -16.8L13.8 -16.6L12.8 -14.8L12.1 -12.2L11.6 -9.2L11.8 -6.8L12.3 -5.8L13.2 -5.2L14.2 -5.5L14.8 -5.9L15.5 -7.2L15.7 -8.2L15.5 -13.8L14.8 -16.2L14.2 -16.8Z"/><path fill="#1ec3a0" d="M14.2 -15L13.8 -15L13 -13.8L12.1 -9.8L12 -7.2L12.6 -6.2L13.2 -5.8L14.2 -6.1L14.8 -6.6L15.3 -8.2L15.2 -12.2L14.8 -14.2L14.2 -15Z"/><path fill="#46d246" d="M13.8 -13.8L12.8 -11.8L12.3 -8.8L12.4 -7.2L13.2 -6.3L14.3 -6.8L14.9 -8.2L14.8 -12.5L14.2 -13.7L13.8 -13.8Z"/><path fill="#96d723" d="M13.8 -12.5L13.2 -11.8L12.7 -9.2L12.7 -7.8L13.2 -6.9L13.8 -6.9L14.2 -7.2L14.5 -8.2L14.5 -11.2L14.2 -12.1L13.8 -12.5Z"/><path fill="#e1c80f" d="M13.8 -10.9L13.2 -9.9L13.1 -8.2L13.2 -7.7L13.8 -7.6L14.1 -9.2L13.8 -10.9Z"/><g stroke-width="1" stroke-linecap="round"><path stroke="#7070e0" stroke-opacity=".42" d="M10.7 -43.3h0M10.3 -32.1h0M17.2 -40.4h0M30.9 -35.2h0M7.9 -33.9h0M10.9 -17.2h0M26.9 -16.4h0M38.6 -20.1h0M17.4 -67.7h0M19 -23.5h0M17.8 -63.6h0M3.7 -9.9h0M30.6 -22.6h0M26.5 -3.3h0M38.5 -18.6h0M17.9 -45.6h0M34.9 -18.7h0M19 -2h0M37.7 -8.8h0M41.2 -26.5h0M35.9 -13.7h0M27.6 -7.8h0M7.9 -41.1h0M34 -29.9h0M17.7 -6h0M11.3 -40.5h0M32.3 -4.5h0M44.5 -12.2h0M49.2 -34.7h0M25.8 -59.2h0M32 -21.7h0M43.3 -22.1h0M11.6 -24h0M19.4 -7.8h0M36.9 -14.6h0M35.9 -5.6h0M26.8 -55.6h0M45.9 -9.2h0M21.7 -25.9h0M22.9 -40.2h0M19.3 -25.3h0M40.7 -37.1h0M53.3 -50.3h0M34.2 -43.9h0M37.7 -8.5h0M39.4 -47.2h0M29.8 -20.3h0M6.7 -8.6h0M41.4 -41.2h0M9.4 -14.1h0M40.5 -3.5h0M13.7 -40.6h0M10.4 -17.1h0M43.8 -30.1h0M20.8 -2.8h0M29.1 -6.5h0M16.1 -55.8h0M20.2 -15.9h0M35.7 -21.5h0M43.3 -26.3h0M43.9 -18.6h0M23.7 -31.2h0M19.9 -7.5h0M28.2 -48.5h0M10.9 -34.9h0M24.7 -7h0M35.1 -35h0M41.7 -1.9h0M26.7 -18.7h0M39.4 -28.5h0M34.7 -9.6h0M19.3 -13.6h0M20.7 -13.1h0M15.9 -51.1h0M43.4 -51.5h0M24.2 -16.4h0M41.5 -59.8h0M42.3 -42.6h0M41.2 -29.6h0M17.7 -40.9h0M15.3 -46.8h0M22.1 -4.5h0M26.5 -15.9h0M45.1 -18.5h0M17.2 -51.6h0M68.6 -10.3h0M35.4 -28.2h0M40.1 -56.5h0M30.1 -12.9h0M24.2 -15h0M8.7 -4.4h0M4.3 -45.7h0M55.3 -36.8h0M61.6 -21.9h0M15.6 -54.4h0M34.5 -34.8h0M32 -33.7h0M11.1 -45.6h0M28.9 -3.6h0M40.8 -2.4h0M26.9 -8.8h0M43.5 -3.4h0M36.9 -21.5h0M48.8 -2.2h0M17.4 -49.3h0M24.1 -19.5h0M34.7 -8.6h0M10.4 -3.8h0M27 -33.7h0M22.5 -53.8h0M17.3 -38.1h0M8.8 -4.3h0M43.8 -23.2h0M12.7 -33.7h0M28.3 -12.4h0M9.4 -33.9h0M41.7 -31.4h0M17.9 -41.2h0M44.4 -8.8h0M33.6 -5.8h0M53.6 -33.6h0M32.4 -2.9h0M43.6 -9.1h0M44.3 -50.1h0M8.1 -25.3h0M54.9 -5.6h0M20.6 -14.3h0M21.6 -25.1h0M33.9 -19.6h0M47 -9h0M23.9 -12.6h0M19.3 -16.6h0M25.7 -5.3h0M36.9 -11.6h0M9.3 -7.2h0M5.2 -7.5h0M24.9 -5.1h0M16.8 -44.4h0M56.7 -10.7h0M25.5 -36.2h0M25.6 -8.9h0M38.6 -41h0M44.2 -13.6h0M66.4 -28h0M35.7 -5.5h0M49.6 -28.7h0M41.6 -25.6h0M25.2 -30.8h0M33.6 -8.7h0M17.1 -30.4h0M43.3 -42.8h0M37.3 -6.6h0M38.9 -24.2h0M16.9 -68.7h0M32 -49.3h0M44.7 -31h0M28.9 -30.9h0M25.6 -16.2h0M29.5 -37.4h0M22.5 -14.1h0M15.5 -46.2h0M27.8 -7.2h0M11.7 -31.5h0M49.8 -66h0M18.3 -46h0M30.1 -6.7h0M18.8 -5.5h0M17.2 -63.3h0M31.1 -16.3h0M39.3 -30.4h0M33.4 -9h0M28.2 -45.2h0M17.8 -4.7h0M25.8 -17.5h0M28.1 -12.4h0M25.4 -12.3h0M11.5 -28.6h0M19.6 -4.1h0M15.6 -67.9h0M53.9 -41.5h0M36.1 -9.6h0M34.7 -6.8h0M29.6 -6.9h0M36.3 -38.5h0M35 -19h0M13 -33h0M17.4 -40.4h0M23.7 -7.1h0M16.3 -59.8h0M25.6 -49.8h0M41.1 -56h0M32.5 -9.1h0M44.6 -18.2h0M40.2 -45.3h0"/><path stroke="#5060dc" stroke-opacity=".6" d="M40.5 -23.2h0M32 -9.5h0M37.6 -11.7h0M41.9 -11.9h0M30.4 -11.5h0M19.3 -10.7h0M41.7 -18.1h0M15.6 -33.3h0M40.5 -7.7h0M15.8 -4h0M43.3 -17h0M13.6 -23.5h0M16.4 -18.5h0M40.3 -10h0M17.8 -9.3h0M14.8 -36.4h0M42.8 -11h0M15.5 -18.9h0M14.9 -37.7h0M13.5 -24.4h0M39.7 -19.6h0M11.4 -18.7h0M16.9 -14h0M15 -22.2h0M38.8 -14.2h0M18 -7.9h0M18.3 -14.2h0M12.6 -26.4h0M12.1 -16.3h0M24.7 -10.4h0M38.3 -11.7h0M10.3 -7.1h0M42.9 -20.6h0M42.2 -7.3h0M16.2 -24.3h0M42.9 -20.8h0M16.7 -15.4h0M24.9 -10h0M13.3 -20.1h0M42.8 -12.5h0M40.3 -14h0M11.7 -3.5h0M12.1 -25.3h0M17 -19.2h0M15.7 -40.2h0M17.2 -13h0M40.5 -13h0M15.1 -44.5h0M13 -30.6h0M39.2 -15.1h0M12.9 -23.8h0M15.9 -33h0M10.2 -9h0M42.6 -8.3h0M13.9 -21.5h0M42.5 -12.7h0M17.4 -11.2h0M39.3 -18.8h0M12.1 -19.3h0M41.3 -21.3h0M16.6 -16h0M17.8 -15.3h0M15 -34.4h0M12.7 -26.4h0M14.4 -23.6h0M22.4 -9.1h0M41.5 -9.2h0M39.9 -6h0M41.4 -22.2h0M42.2 -17.1h0M13.7 -25.3h0M10.7 -12.4h0M42.7 -16.7h0M12.3 -23.6h0M40.6 -24h0M18.6 -8.8h0M41.1 -4h0M17.6 -15h0M16.5 -31.5h0M14.6 -29h0M40.6 -6.3h0M16.2 -45.3h0M16.2 -41h0M16.1 -19.5h0M11.6 -3.2h0M11.2 -10.8h0M41.2 -10.4h0M39.6 -20.6h0M17.3 -8.3h0M14 -26.1h0M21.3 -12.5h0M14.5 -34.7h0M12.9 -25.3h0M16.6 -22.5h0M15 -21h0M41.3 -12.6h0M37.8 -12.5h0M40.5 -6.5h0M15 -39.1h0M42.3 -6.6h0M14.2 -21.5h0M12.5 -24h0M15.1 -22.9h0M16.2 -25.2h0M17.2 -23.7h0M14.5 -35.5h0M18.4 -12.8h0M15.3 -28.5h0M14.9 -39.8h0M41.5 -8h0M15.1 -24.9h0M17.4 -21h0M17.6 -14.4h0M11.1 -10.9h0M17.5 -16.8h0M17.9 -7.1h0M15.3 -36.1h0M10.5 -14.4h0M39.3 -14h0M39.6 -10.1h0M13.3 -30.7h0M39.2 -21.2h0M15.1 -5.3h0M15.9 -31.1h0M17.4 -7.2h0M10 -12.4h0M14.9 -23.3h0M39.9 -15.8h0M13.7 -32.5h0M16.5 -35.5h0M38.1 -13.6h0M10.6 -4.5h0M43 -18.7h0M40.9 -10.6h0M16 -19.9h0M19.5 -8.8h0M15.6 -33.8h0M13.7 -28.9h0M16.8 -37.1h0M14.4 -32.3h0M16.9 -14.9h0M15.5 -24.4h0M19.8 -8.6h0M14 -28.7h0M16.4 -14.4h0M39.7 -15.1h0M14.7 -3.3h0M41.2 -19.8h0M38.5 -14.4h0M13.7 -20.2h0M14.6 -28.7h0M15.3 -36.5h0M38.8 -14.3h0M10.4 -7.5h0M13.8 -28.5h0M15.9 -35.8h0M10.1 -6.6h0M39.8 -8.2h0M15.9 -21.2h0M17.1 -9.8h0M13.7 -31.5h0M14.3 -3.1h0M12.1 -16.9h0M16 -45.6h0M39 -10.4h0M11.7 -14.7h0M15 -3.1h0M40 -18.3h0M39.7 -8.4h0M16.9 -17.8h0M18.2 -9h0M15.6 -25.7h0M40.2 -10.9h0M38.9 -11.4h0M40.1 -18.8h0M12.9 -23.9h0M16.2 -19.9h0M17.4 -14.9h0M42.6 -8.1h0M40.8 -6.2h0M41.1 -10h0M16.6 -18.4h0"/></g></g><g id="b1" filter="url(#bl)"><path fill="#d4d5f9" d="M15.8 -45.5L14.4 -38.8L10.3 -8.2L10.5 -6.2L11.6 -3.8L12.8 -2.6L14.2 -2.1L15.8 -2.7L17 -3.8L20.2 -8.9L22.2 -10.2L22.4 -10.8L20.2 -12L19.8 -12.6L18.8 -15.3L18.2 -17.6L17.8 -22.3L16.7 -40.8L16.2 -44.9L15.8 -45.5ZM40.8 -24.8L40.2 -24.9L39.8 -24.6L38.7 -22.2L36.7 -11.2L37 -9.2L38.4 -5.8L39.2 -4.4L40.2 -3.7L41.2 -4.3L42.2 -6.2L42.8 -9.8L43.1 -12.8L43 -16.8L42.4 -20.8L41.8 -23.2L40.8 -24.8Z"/><path fill="#a0a5f2" d="M15.2 -34L14.2 -29.9L11.5 -13.8L10.9 -8.2L11 -6.8L11.8 -4.8L12.8 -3.6L14.2 -3.1L15.8 -3.6L16.8 -4.8L17.9 -6.8L18.2 -8.2L18.1 -12.8L17.2 -19.2L16.2 -30.7L15.8 -33.7L15.2 -34ZM40.2 -20.8L39.7 -20.2L38.9 -18.2L38.3 -12.8L38.4 -10.2L38.9 -8.2L39.7 -6.8L40.2 -6.4L40.8 -6.6L41.2 -7.2L41.8 -8.7L42.3 -13.8L41.7 -18.8L41.1 -20.2L40.8 -20.7L40.2 -20.8Z"/><path fill="#5f70e8" d="M15.2 -25.6L14.8 -25.2L14.2 -23.6L12.5 -15.8L11.4 -8.2L11.6 -6.8L12.2 -5.2L13.2 -4.1L14.2 -3.8L15.2 -4.1L16.5 -5.2L17.2 -6.8L17.5 -8.2L17.2 -14.8L15.8 -23.9L15.2 -25.6ZM40.8 -16.9L40.2 -17.1L39.8 -16.4L39.3 -13.8L39.6 -10.8L40.2 -9.5L40.8 -9.8L41.3 -12.2L41.3 -15.2L40.8 -16.9Z"/><path fill="#265cda" d="M14.8 -18.8L13.8 -17.2L13 -14.8L12.4 -11.8L12 -8.2L12.2 -6.8L12.7 -5.8L13.2 -5.1L14.2 -4.7L15.2 -5L16 -5.8L16.5 -6.8L16.8 -8.2L16.8 -11.8L16.4 -14.8L15.8 -17.4L15.2 -18.5L14.8 -18.8Z"/><path fill="#1496d7" d="M14.8 -16.3L14.2 -16L13.2 -13.7L12.5 -8.2L13 -6.2L13.8 -5.5L14.2 -5.4L15.2 -5.8L15.7 -6.2L16.4 -8.2L16 -13.8L15.2 -16L14.8 -16.3Z"/><path fill="#1ec3a0" d="M14.8 -14.6L14.2 -14.4L13.7 -13.2L12.9 -8.8L13.2 -6.8L14.2 -6L14.8 -6.1L15.5 -6.8L15.9 -8.2L15.8 -12.4L15.2 -14.1L14.8 -14.6Z"/><path fill="#46d246" d="M14.8 -13.2L14.2 -13L13.8 -12L13.3 -9.2L13.3 -7.8L13.8 -6.8L14.2 -6.6L15.2 -7.2L15.6 -8.2L15.4 -11.8L14.8 -13.2Z"/><path fill="#96d723" d="M14.8 -11.5L14.2 -11.5L13.8 -9.6L13.7 -7.8L14.2 -7.2L14.8 -7.4L15.1 -8.2L15.1 -10.2L14.8 -11.5Z"/><g stroke-width="1" stroke-linecap="round"><path stroke="#7070e0" stroke-opacity=".42" d="M26.9 -12.6h0M24.8 -62.6h0M19.5 -16h0M28.2 -6.4h0M33.9 -10.5h0M29.8 -10.6h0M25.1 -8.6h0M19.7 -15.7h0M27.5 -10.5h0M46.1 -24.5h0M20 -44.6h0M23 -7.8h0M8.4 -14h0M10.5 -11.8h0M17 -2.1h0M27.9 -14.6h0M23.9 -14.8h0M11 -23.4h0M32.7 -9.9h0M22.2 -7.4h0M32 -12.9h0M35.6 -5.9h0M40 -28.5h0M40.3 -39.2h0M18.2 -52.8h0M45 -28.2h0M14.7 -63.5h0M21.2 -6.5h0M30.3 -12.1h0M32.3 -11.1h0M25.3 -18.8h0M34.3 -20.7h0M12.6 -27.8h0M34.6 -10.2h0M19.2 -22.8h0M24 -7h0M28.8 -10.8h0M10 -15.1h0M31.4 -4.8h0M32.3 -22.4h0M11.5 -19.8h0M24.7 -7.7h0M24.1 -8.8h0M30.6 -8.3h0M16 -55.8h0M30.3 -12.1h0M20.6 -12.2h0M18.5 -32.3h0M19.6 -57.7h0M28.7 -10.8h0M10.9 -16.5h0M13.6 -42.3h0M27 -9.2h0M34 -16.3h0M18.2 -23.6h0M12 -51.3h0M24.2 -24.5h0M33.7 -11.8h0M15.4 -47.4h0M32.1 -8.5h0M36.2 -1.9h0M12.8 -64.4h0M12.3 -24.3h0M21.1 -5.9h0M26 -8.7h0M13.7 -35.2h0M22.7 -10.7h0M8.8 -40.1h0M22.7 -8h0M19.1 -5.1h0M40.4 -2.3h0M49.7 -48h0M18.6 -29.7h0M32.8 -15.6h0M39.8 -31.6h0M38.3 -3h0M15.6 -51h0M34.5 -14.1h0M42.5 -35h0M34.7 -13.8h0M25.7 -50.2h0M7.5 -34.7h0M22 -59.5h0M34.2 -11.4h0M48.5 -24.2h0M30.4 -15.9h0M26.5 -7.6h0M20 -12.4h0M24.4 -7.6h0M23.2 -9.8h0M14.7 -44.4h0M11.3 -26.9h0M31.3 -5.6h0M27.2 -7.2h0M9.4 -9.2h0M49 -39.5h0M22.9 -20.3h0M13.1 -42.5h0M12.9 -29.4h0M26.6 -10.7h0M29.1 -8.2h0M44.8 -15.5h0M27.6 -33.5h0M23.3 -50.2h0M26.8 -18.9h0M16.7 -40.8h0M30.6 -18.4h0M14.2 -56.7h0M24.9 -16.7h0M10.2 -8.2h0M16.7 -45.3h0M38.3 -4.4h0M26.7 -4.4h0M20.2 -2.4h0M42.1 -28.3h0M36 -4.2h0M31.7 -4h0M22.8 -8.2h0M37.7 -26.7h0M29.3 -34.5h0M39.1 -53.8h0M26.6 -39.8h0M26.6 -11.3h0M49.2 -28.3h0M11.1 -3.7h0M33.3 -24h0M36.4 -29.2h0M40.3 -29.1h0M11.8 -43.9h0M23.3 -5.3h0M29.1 -11.7h0M10.1 -42.7h0M47.2 -37.3h0M11 -16.9h0M48.2 -33.1h0M26.4 -6.2h0M29.8 -15h0M41.6 -1.6h0M35.7 -9.2h0M34.2 -9.9h0M41.6 -4.2h0M49.7 -53.9h0M11.8 -20.7h0M15.2 -50.3h0M21.4 -13.4h0M25.4 -12.3h0M23.6 -39.7h0M39.3 -39.1h0M17.5 -48.3h0M36.4 -32h0M41.8 -36.8h0M30.8 -17.3h0M18.9 -69.2h0M26.8 -13.5h0M11.7 -36.6h0M20.5 -12.1h0M28.3 -11.2h0M23 -11.8h0M30.4 -15.1h0M41.7 -36.8h0M27.9 -30.9h0M38.6 -27.4h0M24.4 -22.7h0M13.1 -35.2h0M33.1 -11.4h0M27.8 -13.9h0M23.6 -4.6h0M27.4 -16.5h0M50.9 -29.8h0M43.1 -19.3h0M37.7 -22.6h0M15.7 -47h0M11.2 -37.8h0M34.5 -12.5h0M28.6 -35.6h0M37.9 -35.1h0M32.1 -10.9h0M36.5 -12.8h0M18.2 -32.2h0M25.9 -4.7h0M45.5 -25.2h0M21.8 -9h0M37.6 -22.3h0M25 -15.7h0M28 -34.1h0M27.2 -32.2h0M25.7 -11.8h0M24.1 -9.3h0M41.4 -4.3h0M25.8 -16.2h0M29.9 -15.7h0M29 -10.5h0M60.6 -19.5h0M43.4 -17.5h0M20.4 -23.8h0M45.9 -21.5h0M26.6 -13.8h0M31.8 -12.7h0M26.8 -15.9h0M42.8 -32.7h0M27.7 -17.1h0M3.6 -34.8h0M23.8 -29h0M6.5 -17.3h0M24 -11.2h0M20.2 -33.8h0M37.9 -4.4h0M29.9 -10.5h0M28.3 -10.7h0M28.2 -3.5h0M40.9 -26.3h0M40.4 -34.5h0M41.9 -31.4h0M49.7 -22.6h0M38.9 -27.2h0M37.2 -15.3h0M26.9 -17.3h0M25.4 -13.6h0M35.6 -15.3h0"/><path stroke="#5060dc" stroke-opacity=".6" d="M42.8 -12.4h0M16.7 -32.8h0M16.9 -39.6h0M18.4 -15h0M12.2 -14.4h0M16.3 -17.6h0M41.9 -8.8h0M15.1 -35h0M39.4 -21.8h0M41.9 -22.2h0M18.7 -8.9h0M17.8 -16.6h0M13.9 -22.7h0M37.6 -13.8h0M40.7 -16.7h0M13.3 -4.4h0M18.7 -14.1h0M41.5 -18.4h0M14 -30.3h0M12.8 -16.7h0M11.8 -16.6h0M15.8 -23.9h0M17.4 -5.5h0M39.8 -16.5h0M15.7 -4.5h0M11.9 -14.4h0M42.1 -17.6h0M16 -28.1h0M42.7 -12.3h0M41.3 -11.2h0M15.8 -42.4h0M14 -25.3h0M18.8 -9.9h0M18.5 -13.4h0M12.5 -17.8h0M15 -29.6h0M40.7 -22.8h0M12.4 -16.9h0M39.7 -7.8h0M14.3 -24h0M37.7 -16.4h0M41 -5.6h0M15.9 -36.4h0M17.6 -17h0M41.1 -18.8h0M13.7 -28.4h0M13 -20.8h0M42.5 -14.2h0M14.8 -28.2h0M16.1 -34.4h0M17.1 -22.5h0M15.8 -27.1h0M13.9 -26.9h0M14.3 -20.9h0M42.2 -13.9h0M14 -2.8h0M12.7 -16.3h0M14.8 -26.1h0M15.8 -28.6h0M17.2 -30.6h0M16.3 -4.6h0M41.8 -8.9h0M14.8 -24.7h0M16.9 -14h0M16.2 -35h0M41.9 -18.7h0M37.3 -12.6h0M13.7 -27.7h0M10.5 -10.8h0M38.2 -12.7h0M40.2 -18.5h0M17.1 -6.7h0M14.1 -33.4h0M12.7 -18.5h0M11.1 -11.3h0M13.3 -27.1h0M16.7 -5h0M15.7 -31.6h0M15.2 -41.7h0M41.9 -5.3h0M14.1 -19.3h0M17.4 -18.8h0M41.8 -21.4h0M15 -36.4h0M15.3 -27.5h0M15.8 -36.8h0M42.7 -13.2h0M16.5 -24.9h0M39.2 -17.4h0M40.8 -10.6h0M14.6 -30.1h0M17.9 -16.1h0M17.8 -17.5h0M14.5 -30.2h0M16 -29.8h0M17.6 -21.9h0M16.3 -37h0M37.8 -15.7h0M13.2 -22h0M12.8 -20.4h0M17.1 -16.4h0M14.4 -30.5h0M10.7 -8.7h0M13.1 -3.3h0M12.9 -24.7h0M41.6 -12.7h0M18.5 -9.2h0M15.9 -43.2h0M11 -4.5h0M16.7 -33.5h0M42 -16.6h0M37.1 -9.9h0M13.4 -3.4h0M16.4 -19.5h0M11 -7.8h0M14.2 -26.8h0M16.4 -19.6h0M11.7 -4h0M12 -14.8h0M12.1 -19.4h0M40.4 -6.4h0M11.6 -15.3h0M38.3 -17.9h0M13 -19.7h0M11.3 -8.3h0M13.6 -26.5h0M14.1 -22.4h0M38.7 -13.7h0M41.7 -13.4h0M37.9 -9.2h0M17 -16.2h0M15.4 -29.3h0M14.4 -29.8h0M16.7 -30.9h0M16.3 -27.1h0M12.5 -23.2h0M19 -9.8h0M16.3 -29.7h0M16.3 -32.8h0M17 -8.2h0M42.2 -10.6h0M15.3 -43.6h0M18.9 -12.6h0M41.3 -6.4h0M41.1 -7.7h0M10.6 -11.5h0M17.1 -29.4h0M41.5 -14.8h0M40.4 -6.7h0M16 -42.2h0M42.7 -12.5h0M17.8 -21.2h0M41.2 -5.1h0M16.7 -18.1h0M39.7 -15.5h0M42.9 -18.7h0M15.8 -28.2h0M41.3 -23.7h0M14.3 -20.4h0"/></g></g><g id="b2" filter="url(#bl)"><path fill="#d4d5f9" d="M18.2 -46.2L17.8 -46.2L16.8 -42.9L9.4 -8.8L9.3 -6.2L9.9 -4.2L10.8 -3L12.2 -2.1L13.8 -2.3L15.2 -3.4L18.8 -7.7L19.8 -8.6L23.8 -9.6L32.8 -9.9L34.3 -10.2L34.5 -10.8L32.8 -11.3L25.2 -11.5L22.2 -12L19.8 -12.8L18.8 -14.3L18.2 -16.5L18 -20.8L18.4 -39.8L18.2 -46.2ZM42.2 -25L41.8 -25.1L41.2 -24.8L40.2 -22.8L37.9 -11.2L38.1 -9.8L40.1 -5.2L40.8 -4.2L41.8 -3.5L42.8 -4.1L43.7 -6.2L44.4 -9.8L44.6 -12.8L44.5 -16.8L44 -20.8L43.2 -23.5L42.2 -25Z"/><path fill="#a0a5f2" d="M16.8 -34.9L16.2 -34.5L15.2 -31.3L10.9 -13.8L10 -8.8L9.9 -6.8L10.2 -5.2L11.1 -3.8L12.2 -3.1L13.8 -3.2L15.2 -4.4L16.6 -6.2L17.2 -8.2L17.5 -12.8L17.1 -19.8L17.1 -31.8L16.8 -34.9ZM42.2 -20.9L41.8 -21.1L41.2 -20.7L40.6 -19.2L40 -16.2L39.7 -13.2L40.2 -8.8L40.8 -7.2L41.8 -6.2L42.6 -6.8L43.2 -8.2L43.8 -12.8L43.5 -17.8L43 -19.8L42.2 -20.9Z"/><path fill="#5f70e8" d="M15.8 -26.4L15.2 -26L14.2 -23.2L11.4 -13.8L10.5 -8.8L10.4 -6.8L10.8 -5.2L11.8 -4.1L12.8 -3.8L13.8 -4L15.2 -5.2L16.2 -6.8L16.6 -8.2L16.8 -13.8L16.2 -23.8L15.8 -26.4ZM42.2 -17.3L41.8 -17.6L41.2 -16.9L40.7 -14.2L40.8 -11.2L41.2 -9.6L41.8 -9.1L42.4 -9.8L42.9 -12.2L42.9 -15.2L42.2 -17.3Z"/><path fill="#265cda" d="M14.8 -19.3L13.8 -18.1L12.6 -15.2L11.5 -11.8L11 -8.8L10.9 -7.2L11.2 -6L11.8 -5.2L12.8 -4.6L13.8 -4.8L14.8 -5.6L15.5 -6.8L15.9 -8.2L16.1 -11.8L16 -14.8L15.4 -18.2L14.8 -19.3Z"/><path fill="#1496d7" d="M14.8 -16.5L14.2 -16.7L13.2 -15.4L12.2 -12.8L11.7 -10.2L11.3 -7.8L11.5 -6.8L12 -5.8L12.8 -5.3L13.8 -5.5L14.2 -5.8L15.4 -7.8L15.6 -13.2L15.2 -15.4L14.8 -16.5Z"/><path fill="#1ec3a0" d="M14.2 -14.9L13.8 -14.7L12.9 -13.2L12 -9.8L11.8 -7.2L12.2 -6.3L12.8 -5.9L13.8 -6.1L14.2 -6.5L15 -8.2L15.1 -12.8L14.8 -14.4L14.2 -14.9Z"/><path fill="#46d246" d="M14.2 -13.6L13.8 -13.6L13.2 -12.9L12.2 -9.2L12.2 -7.2L12.8 -6.5L13.2 -6.4L14.2 -7.1L14.7 -8.2L14.8 -11.8L14.2 -13.6Z"/><path fill="#96d723" d="M13.8 -12.3L13 -10.8L12.5 -8.2L12.7 -7.2L13.2 -7L14.1 -7.8L14.3 -8.8L14.4 -11.2L14.2 -11.9L13.8 -12.3Z"/><path fill="#e1c80f" d="M13.8 -10.4L13.2 -9.8L13.1 -8.2L13.2 -7.7L13.8 -8.2L13.8 -10.4Z"/><g stroke-width="1" stroke-linecap="round"><path stroke="#7070e0" stroke-opacity=".42" d="M37.1 -32h0M20.7 -45.2h0M18.8 -46h0M32.7 -2.6h0M37.3 -15.7h0M5.8 -17.7h0M39.4 -35.8h0M55.7 -60.7h0M33.7 -32.2h0M22.2 -12.5h0M42.4 -27.4h0M25.9 -11.8h0M4.7 -63.3h0M22.7 -62.2h0M15.9 -41.3h0M37.5 -44.6h0M53.6 -46.4h0M26.7 -13.9h0M33 -22.2h0M29.4 -17.5h0M44.3 -32.6h0M43.4 -4.1h0M38.1 -6.7h0M25.5 -54.2h0M21.3 -48h0M41 -30.6h0M34.4 -12.1h0M26.5 -8.7h0M35 -21.8h0M37.7 -10.8h0M21.1 -8.4h0M3.1 -34h0M52.8 -28h0M43.3 -4.6h0M20.8 -1.4h0M30.1 -22.6h0M26.9 -28.5h0M45.6 -1.5h0M36.2 -6.6h0M19.9 -44h0M22.3 -32.7h0M30.4 -22.4h0M26.1 -20.3h0M21.3 -20.9h0M34.9 -25.3h0M38.1 -14.9h0M58.4 -17.5h0M13.7 -30.3h0M9.3 -3.8h0M18.5 -42.7h0M11.1 -18.3h0M48.6 -28.8h0M19.6 -18.9h0M9.9 -2.5h0M45.8 -9.5h0M22.9 -21.2h0M24.9 -18.8h0M20.6 -20.7h0M11.8 -28.1h0M20.7 -67h0M25.7 -17.6h0M17.2 -59h0M34.3 -6.8h0M38.2 -51.6h0M15.2 -37.6h0M23.6 -13.7h0M39 -24.4h0M8.3 -10.3h0M64.2 -31h0M28.9 -7.6h0M18.8 -17.3h0M23.8 -3.5h0M11.8 -20.9h0M23.4 -12h0M36 -9.2h0M12.7 -26.7h0M27.2 -13.8h0M27.5 -16h0M29 -43.2h0M29.8 -14.6h0M21.3 -7.3h0M35.3 -15.2h0M30.2 -13.9h0M33.7 -6.6h0M37.9 -15h0M16.4 -50.9h0M49.6 -39.9h0M22.2 -12.8h0M41.4 -27.1h0M30.6 -47.8h0M38.9 -41.2h0M33.9 -11.5h0M43.5 -32.6h0M39.4 -6.2h0M57.3 -43.9h0M30.2 -13.4h0M29.8 -33.3h0M37.1 -44.7h0M44.5 -18.3h0M31.8 -14.3h0M21.6 -49.7h0M67.7 -38.5h0M28.2 -59.2h0M22.4 -15.4h0M36.5 -31.1h0M33.3 -27h0M23.8 -15.3h0M13.2 -49.1h0M31.2 -60.5h0M18.6 -37.6h0M53.2 -34.7h0M36.5 -10.9h0M29.3 -8.1h0M9.4 -5.3h0M20.3 -58.3h0M18.1 -28.1h0M14.4 -31.9h0M31.7 -18.9h0M30.5 -33h0M20 -56.3h0M43.2 -26.5h0M36.1 -14.9h0M22.1 -8.2h0M43.6 -33.8h0M19.9 -5.1h0M12.9 -30.5h0M44.7 -11.6h0M25.4 -12.1h0M8.7 -7.4h0M31.8 -33.4h0M32.1 -16.6h0M24 -13.9h0M38.1 -64.7h0M10 -36.9h0M55.7 -36.1h0M42.9 -30.6h0M22.6 -16.3h0M23.9 -35.9h0M19.7 -13.1h0M41.7 -47.1h0M17.6 -48h0M16.3 -42.2h0M35.6 -15.7h0M35.5 -67.3h0M35.2 -11.8h0M18.6 -48h0M25.1 -6.6h0M38.7 -5.4h0M34.5 -24.8h0M24.2 -8.7h0M21.1 -1.2h0M9 -6.2h0M17.7 -53.1h0M19.1 -4.1h0M28.7 -18.3h0M33.9 -11.1h0M44.6 -39.2h0M25.5 -12.9h0M32.1 -6.4h0M37.2 -17.4h0M34.6 -11.8h0M12.7 -30.4h0M38.5 -20.4h0M30.7 -43.4h0M22.8 -2.5h0M8 -5.2h0M1.1 -5.6h0M36 -52.4h0M7.8 -33.9h0M33.8 -60.1h0M35.7 -4.2h0M29.1 -14h0M27.1 -13h0M37.7 -7.2h0M10.6 -18.8h0M39.3 -6.4h0M12.8 -30.7h0M59.7 -17.2h0M21.2 -18h0M34.2 -27.9h0M20.9 -29.1h0M47.4 -38.7h0M41.7 -27.9h0M2.9 -3.2h0M44.9 -13.3h0M5.8 -35.7h0M18.2 -26.9h0M20.4 -59.3h0M36.4 -9.1h0M18.3 -16.9h0M36.9 -12.6h0M13.4 -41.5h0M27.7 -7.6h0M38.2 -7.3h0M32.3 -4.9h0M1.3 -36.8h0M11.4 -52.9h0M27.7 -21.6h0M51.2 -4.5h0M18 -29.7h0M27.6 -5.1h0M30.7 -56.5h0M39.1 -6.8h0M22.5 -69.3h0M14.7 -34.4h0M7.8 -6.4h0M44.3 -8.2h0M18.7 -49.2h0M49.4 -47.4h0M22.5 -19.9h0M18.2 -20.8h0M32.1 -6h0M8.3 -11h0"/><path stroke="#5060dc" stroke-opacity=".6" d="M17.1 -39.6h0M38.9 -11.4h0M16.7 -22.2h0M13.7 -28.2h0M17.3 -38.7h0M11.7 -4.8h0M14.5 -29.6h0M23.5 -11.2h0M17.1 -32.4h0M14.6 -27.7h0M16.9 -20.1h0M11 -6h0M39.6 -8.5h0M10.7 -7.1h0M28.2 -10h0M41.5 -13.6h0M14.7 -23.5h0M16.8 -32.1h0M16.3 -5.3h0M40.7 -21.7h0M16.4 -31.5h0M14.4 -25.9h0M16 -9.8h0M42.1 -8.1h0M16.9 -32.1h0M15.5 -19.8h0M17.5 -22h0M16.6 -23.5h0M38.6 -12.3h0M41.9 -13.6h0M14.5 -4.1h0M15.8 -22.4h0M40.6 -20.6h0M15.6 -33.5h0M14.1 -23.3h0M43.6 -18.2h0M40.7 -12.8h0M15.7 -24.8h0M17.3 -26.9h0M16.9 -32.3h0M17.9 -12.9h0M14.1 -29.3h0M17.5 -37.2h0M42.3 -6.9h0M16.3 -36.9h0M10.8 -12.2h0M10.1 -9.6h0M16.5 -31.3h0M40.2 -8.5h0M40.7 -20.1h0M39.6 -12.8h0M40.2 -14.2h0M13.4 -18.4h0M13.9 -20.7h0M14.4 -30.3h0M16.1 -18.1h0M43.2 -17.5h0M42.6 -22.4h0M16.6 -35.4h0M16.4 -20.3h0M16.1 -7.1h0M40.6 -10.6h0M17.9 -34.3h0M42.8 -9h0M40.6 -4.4h0M41.7 -7.3h0M17.1 -20.9h0M15.4 -24.9h0M42.7 -14.8h0M10.5 -13.6h0M18.4 -14.8h0M12.7 -19.6h0M39.4 -12.1h0M16.1 -24.1h0M40.2 -7.2h0M33.4 -10.7h0M10.5 -10.8h0M10.9 -6.7h0M42.2 -21.9h0M17.9 -12.1h0M17.4 -17.6h0M22 -9.8h0M12.9 -20.6h0M41.5 -16.1h0M15.9 -33.8h0M21.6 -11.9h0M29.4 -11h0M18 -8.5h0M15.8 -25.7h0M11.5 -4.2h0M9.9 -7.6h0M40.6 -19.4h0M38.9 -12.3h0M16.5 -28.6h0M44.3 -18.2h0M17.3 -25.9h0M40.6 -18.1h0M16.8 -23.3h0M16.6 -16.3h0M16.4 -10.2h0M14.2 -26h0M41.4 -6.5h0M11.5 -2.6h0M40.8 -11h0M40.7 -11.8h0M16.1 -32.2h0M40.7 -19.1h0M15.6 -19.8h0M17.8 -43.4h0M23 -10.1h0M16.5 -24.1h0M41.1 -9.9h0M14 -29.2h0M39.9 -16.5h0M43.6 -16.6h0M40.8 -8.6h0M14.4 -20h0M17.2 -6.4h0M17.9 -34h0M13.8 -25h0M44.4 -16.2h0M40.5 -18.6h0M39.2 -8.7h0M43.2 -21.1h0M41.4 -14.6h0M41.3 -16.5h0M39.9 -16.4h0M39.6 -17.5h0M12.7 -22.8h0M41 -23.1h0M39.7 -18.2h0M43.4 -18.9h0M17 -40.3h0M17.1 -41.6h0M41.6 -8.6h0M17 -27.4h0M13.7 -23.2h0M15.7 -5.8h0M17.7 -30.9h0M44.3 -10h0M11.4 -14.5h0M21.4 -9.5h0M42.8 -20.1h0M40.4 -8.5h0M17.9 -15.1h0M10.2 -6.2h0M17.8 -42.4h0M16.9 -37.6h0M17.7 -9.6h0M40.6 -8h0M18.1 -11.4h0M19.7 -8.6h0M40.2 -19.2h0M40.2 -18.2h0M14.4 -30.7h0M17.9 -12.6h0M17.4 -10.4h0M15.5 -27.3h0M17.1 -23.4h0M44.3 -16.6h0M15.6 -34.1h0M17.4 -36.6h0M28.9 -11.3h0M40.3 -6.1h0M17.1 -30.7h0"/></g></g><g id="b3" filter="url(#bl)"><path fill="#d4d5f9" d="M16.8 -50.3L16.2 -49.2L15.2 -43.2L10.5 -8.2L10.7 -6.2L11.4 -4.2L12.8 -2.7L14.2 -2.1L15.8 -2.5L16.7 -3.2L20.8 -8.4L23.9 -10.2L24.1 -10.8L20.2 -13L19.2 -15.1L18.8 -17.2L18.2 -22.1L17.3 -46.2L16.8 -50.3ZM41.2 -24.9L40.8 -24.9L40.2 -24.5L39.2 -22.2L37.3 -11.2L37.4 -9.8L39 -5.8L39.8 -4.5L40.8 -3.7L41.8 -4.1L42.8 -6.2L43.4 -9.2L43.7 -12.8L43.6 -16.8L43.1 -20.8L42.2 -23.5L41.2 -24.9Z"/><path fill="#a0a5f2" d="M16.2 -37.5L15.8 -37.1L14.8 -32.3L11.6 -12.8L11.1 -8.2L11.3 -6.2L11.9 -4.8L13.2 -3.4L14.2 -3.1L15.8 -3.5L17 -4.8L17.9 -6.2L18.5 -8.2L18.5 -12.2L17.5 -20.2L16.8 -34.4L16.2 -37.5ZM41.2 -20.8L40.8 -20.8L40.2 -20.3L39.8 -19.1L39.1 -16.2L38.9 -13.2L38.9 -10.8L39.3 -8.8L39.9 -7.2L40.8 -6.4L41.2 -6.5L41.8 -7L42.2 -8.2L42.9 -12.8L42.5 -17.8L42 -19.8L41.2 -20.8Z"/><path fill="#5f70e8" d="M15.8 -28.1L15.2 -27.6L14.8 -25.9L12.1 -12.8L11.6 -8.2L11.7 -6.8L12.3 -5.2L13.2 -4.2L14.2 -3.8L15.2 -4L16.7 -5.2L17.5 -6.8L17.7 -8.2L17.6 -13.8L16.2 -25.9L15.8 -28.1ZM41.2 -17.1L40.8 -17.2L40.2 -16.2L39.9 -13.8L40.1 -10.8L40.8 -9.5L41.2 -9.6L41.5 -10.2L41.9 -12.2L41.9 -15.2L41.2 -17.1Z"/><path fill="#265cda" d="M15.2 -19.8L14.8 -19.4L14.2 -18.3L13.1 -14.8L12.5 -11.8L12.2 -8.2L12.4 -6.8L12.8 -5.8L13.2 -5.2L14.2 -4.7L15.2 -4.9L16.2 -5.8L16.9 -7.2L17.1 -8.2L16.8 -14.2L15.8 -19.1L15.2 -19.8Z"/><path fill="#1496d7" d="M15.2 -16.8L14.8 -16.7L13.8 -14.8L12.7 -9.8L12.6 -7.8L12.9 -6.8L13.5 -5.8L14.2 -5.4L15.2 -5.6L15.8 -6L16.4 -7.2L16.6 -8.2L16.4 -13.2L15.8 -15.8L15.2 -16.8Z"/><path fill="#1ec3a0" d="M15.2 -14.8L14.8 -14.9L14.2 -14.3L13.7 -12.8L13.2 -10.2L13.2 -7.2L13.7 -6.2L14.2 -6L15.2 -6.2L15.7 -6.8L16.2 -8.2L16.1 -12.2L15.8 -13.9L15.2 -14.8Z"/><path fill="#46d246" d="M15.2 -13.3L14.8 -13.6L14.2 -13L13.6 -10.8L13.4 -7.8L13.8 -6.9L14.2 -6.5L15.2 -6.8L15.8 -7.8L15.8 -11.2L15.2 -13.3Z"/><path fill="#96d723" d="M14.8 -12.1L14.2 -11.2L13.8 -8.2L14.2 -7.2L14.8 -7.1L15.3 -7.8L15.4 -9.8L15.2 -11.5L14.8 -12.1Z"/><g stroke-width="1" stroke-linecap="round"><path stroke="#7070e0" stroke-opacity=".42" d="M11.1 -54.4h0M18.8 -37.5h0M33.2 -8h0M29.3 -27.7h0M46.9 -38h0M17.8 -54.1h0M13.9 -37.2h0M33 -13.4h0M4 -22h0M22.7 -31.5h0M16.2 -49.8h0M22.4 -7.9h0M24.1 -31.2h0M14.5 -45.6h0M13.5 -39.9h0M37.1 -12.1h0M11.3 -57.8h0M35.2 -12.7h0M22.8 -11.9h0M21.9 -13.3h0M28.4 -10.7h0M33 -7.9h0M26.9 -10.7h0M23.4 -14.7h0M21.6 -33.4h0M36.2 -13.3h0M31.3 -7.6h0M28.4 -17.1h0M26.4 -25h0M20.5 -6.8h0M30.5 -10.2h0M17 -63.8h0M27.8 -17.3h0M37.8 -30.8h0M46.1 -16.6h0M36.2 -11.5h0M36.5 -4.6h0M22.2 -36.2h0M10.2 -42.5h0M20.8 -13.2h0M10.9 -11.9h0M31.2 -17.4h0M12.9 -27.2h0M6 -17.9h0M25.2 -19.4h0M43.9 -8.4h0M18.7 -4.9h0M24.8 -24.7h0M30.1 -13.7h0M43.3 -5.9h0M39.7 -34h0M28.9 -3.6h0M28.7 -10.9h0M20.4 -16.3h0M23.8 -34.4h0M39.8 -1.6h0M50.6 -2.4h0M27.5 -10h0M32.9 -16.9h0M21.5 -14.8h0M41.4 -37.6h0M44.2 -16.3h0M20.5 -35.1h0M36.8 -10.7h0M31.4 -8.7h0M32.1 -10.1h0M16.9 -55.7h0M27 -11.7h0M25.2 -17.5h0M18.2 -23.6h0M26.9 -59.3h0M45.1 -53.3h0M27.6 -15.5h0M26.9 -16.3h0M10.4 -6.6h0M42 -37.5h0M18.2 -43.2h0M13.3 -30h0M18.1 -39.7h0M27.5 -60.1h0M20.6 -54.6h0M33.6 -8.5h0M17.8 -52h0M11.5 -19.6h0M52.1 -45.6h0M22.4 -40.7h0M39.6 -2.7h0M12.7 -2.1h0M10.4 -33.5h0M35.6 -8.6h0M22.1 -6.8h0M37.2 -14.3h0M28.8 -6.9h0M41.7 -27.4h0M9.5 -2.6h0M17.5 -39.6h0M33 -14.8h0M19.6 -18.2h0M43.2 -55.9h0M37.8 -18.5h0M38.4 -38.8h0M23 -5.1h0M22.7 -6.4h0M21.4 -58.7h0M20.3 -27h0M9.9 -60.5h0M36.7 -9.8h0M43.3 -20.8h0M36.4 -10.7h0M20.8 -26.9h0M19.8 -16.4h0M21.2 -14.2h0M16.6 -52h0M18.9 -22.5h0M10.4 -7.1h0M23.4 -13.5h0M23 -33.6h0M32.1 -16.2h0M16.2 -61.2h0M23.2 -33.9h0M25.5 -21.9h0M35.1 -7.5h0M36.1 -10h0M10.7 -13.4h0M17.6 -45.1h0M34.7 -8.5h0M28.9 -37.3h0M38.6 -20.5h0M46.2 -7.8h0M19.1 -20.2h0M32.9 -6h0M32.5 -7.6h0M10.2 -7.7h0M16.7 -53.9h0M17.3 -51.7h0M20.2 -15.1h0M40 -43.4h0M17.5 -49.1h0M25.3 -14.2h0M18.8 -31.2h0M18.2 -54h0M43.7 -13.2h0M70.2 -7.4h0M26 -19.2h0M42 -53.4h0M25.3 -25.2h0M57.3 -62.9h0M12.6 -31.9h0M40 -25.4h0M20 -4.6h0M24.3 -23.6h0M10.7 -11.7h0M26 -3.9h0M29.8 -7.2h0M31.5 -56.1h0M24.8 -16.8h0M30.4 -8.4h0M43.9 -34.4h0M10.2 -17.5h0M58.3 -16.9h0M16.7 -66.5h0M23 -5.1h0M42 -31.4h0M15.8 -1.2h0M43.1 -28.2h0M26.3 -18.5h0M37.3 -5h0M22.4 -28.1h0M36.8 -17.4h0M32.8 -36.5h0M54.5 -25.1h0M15.1 -46h0M36.4 -21.2h0M32.8 -32h0M30 -3.5h0M46.5 -48.6h0M36.9 -5.8h0M24.5 -24.9h0M31.4 -14.9h0M39.4 -59.7h0M41.2 -28.5h0M35.5 -37.4h0M21 -23.8h0M17.3 -2.7h0M26.2 -18h0M14.5 -44.7h0M33.4 -21.1h0M31.6 -10.9h0M24 -3.5h0M17.2 -52.8h0M37 -17.9h0M16.8 -60.1h0M28.7 -13.3h0M10.1 -27.7h0M26.5 -46.2h0M38.7 -37.9h0M19.2 -47.8h0M24.8 -27h0M37.2 -35.3h0M35.7 -1.9h0M52.3 -24.1h0M28.1 -13.9h0M38.8 -38.5h0M10.9 -4.5h0M44.1 -52.9h0M61 -49.8h0M15.5 -47.6h0M36.7 -21.7h0M25 -24.7h0M22.6 -33.5h0M25 -6.5h0M30 -30.7h0M24 -26.2h0"/><path stroke="#5060dc" stroke-opacity=".6" d="M10.6 -9.9h0M40.8 -19.2h0M39.1 -7.2h0M17.1 -16.2h0M16.4 -37.4h0M42.6 -7.4h0M17.9 -10.4h0M13.5 -19.6h0M40.5 -23.3h0M17.4 -27.4h0M41.6 -7.9h0M16.8 -41.3h0M15.3 -23.5h0M18.5 -11.3h0M40.2 -7.5h0M15.1 -26h0M15.3 -38.1h0M11.8 -16.7h0M41.7 -21.6h0M39.1 -14.4h0M16.6 -32.7h0M15.9 -35.8h0M15 -38.7h0M16.8 -34.6h0M15.1 -22.4h0M16 -40.6h0M11.6 -16.4h0M16.7 -37.7h0M38.9 -13.4h0M17.6 -19.7h0M40.3 -20.8h0M18.9 -9h0M13.1 -27.9h0M39.4 -19.9h0M39.5 -12.7h0M21.3 -12h0M14.2 -25.9h0M17.2 -11.7h0M39.3 -8.8h0M43.4 -18.2h0M14.5 -29.1h0M40.5 -24.4h0M17.5 -20.2h0M41 -14.6h0M16 -44.5h0M19.8 -7.5h0M18 -35.7h0M38.2 -13.5h0M41.1 -10.8h0M12.5 -4.3h0M16.2 -20.5h0M38.9 -14.3h0M42 -14h0M14.5 -31.1h0M17.4 -16.6h0M42.5 -16.3h0M14.7 -34.4h0M18.9 -11.6h0M43.2 -18h0M17.3 -41.1h0M40.3 -14.5h0M40.1 -6h0M39.9 -17.8h0M38.7 -11.4h0M20.7 -9.2h0M43.2 -9.3h0M15.9 -45.6h0M16.6 -38.6h0M39.1 -7.3h0M13.7 -22.5h0M19 -15h0M18.6 -12h0M19 -15.9h0M17.5 -14.1h0M41.1 -18.8h0M18.1 -17.5h0M18 -12.6h0M16.7 -26.9h0M18.9 -14.1h0M40.7 -6.1h0M17 -7.8h0M39.8 -20.4h0M40.1 -13.6h0M39.7 -6.1h0M20.2 -9.6h0M15 -35.9h0M14 -29.3h0M17.1 -12.2h0M43.5 -14.2h0M39.2 -18.1h0M12.7 -18.3h0M13.6 -19.6h0M40.8 -8.3h0M40.7 -8.7h0M14.8 -24.8h0M15.5 -28.1h0M39.8 -19.2h0M20.2 -11.2h0M13.6 -3h0M12.3 -13.1h0M11.3 -5.2h0M23.4 -11.1h0M41.4 -6h0M14.8 -31.9h0M17.6 -10.6h0M13.2 -23.9h0M17.3 -42.6h0M41.6 -18h0M16.2 -22.9h0M16.8 -30.6h0M17.1 -5.6h0M17.6 -10.2h0M14.8 -29.8h0M15.6 -38.2h0M11.5 -14.1h0M13.7 -25.5h0M39.3 -15.5h0M12.6 -16.6h0M42.4 -16.7h0M39.1 -16.4h0M11 -8.3h0M16.3 -20.5h0M11.7 -5.7h0M18.5 -8h0M13.2 -20.7h0M41 -18.6h0M16.4 -29h0M15.4 -38.8h0M16.9 -48.6h0M14.4 -27.2h0M16.3 -27.6h0M13.8 -21.9h0M16.9 -19.4h0M16.8 -25.1h0M18.3 -12.7h0M40.9 -18.6h0M38.5 -19.4h0M39 -11.5h0M15.4 -23.8h0M16.8 -3.5h0M16 -31h0M17.7 -20.8h0M13 -16.4h0M42 -8.8h0M18.5 -14.5h0M16.5 -34.2h0M11 -14.5h0M13.2 -3.6h0M17.5 -21.5h0M42.5 -15.8h0M15.3 -34h0M40.7 -5.5h0M15.7 -21.8h0M17.8 -36h0M40.4 -15.9h0M43.2 -9.7h0M42 -18h0M14 -21.5h0M37.7 -9.7h0M17.5 -22h0M23.1 -10.4h0M16.4 -37.2h0M16.2 -23.1h0M40 -7.7h0M16.9 -24.5h0M38.6 -16.5h0"/></g></g><g id="b4" filter="url(#bl)"><path fill="#d4d5f9" d="M16.8 -50L16.2 -49L15.2 -42.6L10.9 -8.2L11.1 -6.2L11.9 -4.2L13.2 -2.7L14.8 -2.1L16.2 -2.6L17.2 -3.4L20.8 -8.2L23.3 -10.2L23.4 -10.8L20.8 -12.6L20.2 -13.3L19.2 -16.2L18.9 -18.2L17.4 -45.2L16.8 -50ZM40.8 -24.8L40.2 -24.7L39.8 -24.2L38.8 -21.8L36.9 -11.2L37.1 -9.8L38.4 -6.2L39.2 -4.7L40.2 -3.8L41.2 -4.1L42.2 -6L43 -9.2L43.2 -12.8L43.1 -17.2L42.6 -20.8L41.8 -23.6L40.8 -24.8Z"/><path fill="#a0a5f2" d="M16.2 -37.3L15.8 -36.5L15.2 -34.2L12 -13.2L11.5 -8.2L11.6 -6.8L12.4 -4.8L13.2 -3.7L14.8 -3.1L16.2 -3.6L17.5 -4.8L18.5 -6.8L18.9 -8.8L18.8 -11.8L17.8 -20.7L16.9 -33.8L16.2 -37.3ZM41.2 -20.3L40.8 -20.7L40.2 -20.6L39.8 -20L39 -17.8L38.5 -14.2L38.5 -11.8L38.8 -9.2L39.6 -7.2L40.2 -6.5L40.8 -6.5L41.6 -7.8L42.4 -11.8L42.2 -16.8L41.2 -20.3Z"/><path fill="#5f70e8" d="M15.8 -27.8L14.8 -24.5L12.6 -13.8L12 -8.2L12.2 -6.8L12.8 -5.2L13.8 -4.2L14.8 -3.9L15.8 -4.1L17.1 -5.2L17.9 -6.8L18.1 -8.2L17.9 -13.8L16.2 -26.8L15.8 -27.8ZM40.8 -17L40.2 -16.9L39.8 -15.8L39.5 -13.2L39.8 -10.8L40.2 -9.7L40.8 -9.7L41.3 -10.8L41.5 -13.2L41.3 -15.8L40.8 -17Z"/><path fill="#265cda" d="M15.8 -19.4L15.2 -19.5L14.8 -18.6L13.9 -16.2L13.1 -12.8L12.7 -9.2L12.6 -7.8L13 -6.2L13.8 -5.2L14.8 -4.7L15.8 -5L16.6 -5.8L17.1 -6.8L17.5 -8.2L17.1 -14.2L16.2 -18.2L15.8 -19.4Z"/><path fill="#1496d7" d="M15.8 -16.4L15.2 -16.7L14.2 -15.2L13.2 -10.2L13.2 -6.9L13.8 -6L14.8 -5.4L15.8 -5.7L16.2 -6.2L17 -8.2L16.8 -13.2L15.8 -16.4Z"/><path fill="#1ec3a0" d="M15.2 -14.8L14.8 -14.4L14.2 -13.4L13.5 -9.2L13.6 -7.2L14.2 -6.2L14.8 -6L15.2 -6.1L16.1 -6.8L16.6 -8.2L16.3 -12.8L15.8 -14.5L15.2 -14.8Z"/><path fill="#46d246" d="M15.2 -13.4L14.8 -13.1L14.2 -11.8L13.9 -9.2L13.9 -7.8L14.2 -6.9L14.8 -6.6L15.8 -7L16.2 -8.2L16 -11.8L15.8 -12.9L15.2 -13.4Z"/><path fill="#96d723" d="M15.2 -11.8L14.8 -11.5L14.4 -9.8L14.3 -8.2L14.8 -7.2L15.2 -7.3L15.7 -8.2L15.8 -10.3L15.2 -11.8Z"/><g stroke-width="1" stroke-linecap="round"><path stroke="#7070e0" stroke-opacity=".42" d="M22.5 -7.1h0M43.6 -18.7h0M22.6 -23h0M32.9 -7.8h0M18.1 -48.9h0M25.4 -7.4h0M33.9 -52.3h0M21.3 -24.3h0M41.4 -26.1h0M34.7 -26.8h0M58.1 -19.5h0M24.9 -36.1h0M43.8 -20.8h0M16.8 -61.3h0M43.8 -9.3h0M33.7 -22.8h0M45.4 -40.7h0M22.7 -7.1h0M30.2 -17.8h0M42.2 -5.1h0M31.7 -7.8h0M12.8 -27h0M34.4 -44.7h0M25.3 -3h0M11.3 -45.6h0M40.5 -28.3h0M23.8 -2.2h0M21.7 -8.2h0M18.8 -68.8h0M43.3 -17.3h0M25.2 -4.1h0M31.8 -3h0M26.7 -38.6h0M6.2 -12.8h0M30.7 -12.7h0M25.1 -5.7h0M29.5 -2.8h0M26.4 -17.8h0M44.5 -30.8h0M28.1 -9.1h0M42.9 -2.8h0M41.4 -35.2h0M38.3 -5.7h0M34.1 -2.1h0M28.7 -18.9h0M12 -39.9h0M25.9 -12.8h0M17.4 -60.5h0M55 -50.5h0M23.6 -12.9h0M40.7 -31.4h0M31.1 -4.5h0M45 -15.3h0M18.7 -38.6h0M36.4 -26.2h0M37 -7.7h0M21.6 -7.7h0M14.3 -44.5h0M39.7 -3.3h0M29 -8.4h0M22.5 -7.7h0M43.3 -13.9h0M18.5 -41.5h0M11.1 -25.2h0M22 -8.4h0M30.3 -5.5h0M31.9 -10h0M24.7 -7h0M18.5 -21.5h0M43.5 -12.6h0M39.5 -25h0M36.3 -13.6h0M27.9 -7.5h0M26 -12.9h0M24.7 -15.2h0M37 -46.4h0M26.2 -7h0M53.3 -21.4h0M21.3 -55.6h0M27.5 -4.6h0M13.8 -35.8h0M22.3 -7.8h0M20 -17.6h0M35.9 -35.1h0M19.7 -32.3h0M33.4 -11.4h0M18.7 -34.4h0M31.8 -10.9h0M37 -11.6h0M49.5 -23.4h0M35.6 -23.2h0M1.8 -10.8h0M29.5 -24h0M43.3 -13.7h0M44.7 -34.9h0M12.3 -27.1h0M24.1 -19.7h0M15.6 -60.8h0M49.1 -5.6h0M43.2 -12.8h0M44.5 -20.9h0M47.1 -7.5h0M5.5 -35.2h0M32.2 -33.7h0M43 -44.5h0M9.9 -32.4h0M27.1 -12.2h0M42.6 -25.5h0M40 -41.9h0M9.5 -28.1h0M20.8 -31.2h0M20.9 -33.7h0M38.6 -29h0M18.3 -35.1h0M51.5 -42.4h0M25.5 -41.8h0M31.9 -5.8h0M36.5 -17.1h0M40.4 -39.3h0M12.9 -24.3h0M44.8 -18.9h0M37.7 -7h0M44.5 -19.4h0M38.6 -40.1h0M44.7 -8h0M24.7 -1.6h0M31.9 -4.7h0M43.1 -17.3h0M37.7 -58.7h0M30.3 -3.6h0M8 -65.9h0M46.6 -15.6h0M39.6 -29.2h0M38.2 -40.5h0M28 -30.9h0M20.1 -57.6h0M33.6 -5h0M20.4 -14.5h0M43.6 -4.7h0M19 -4.4h0M44.7 -30.8h0M34.6 -3.6h0M22.3 -17.2h0M17.8 -42h0M17.8 -46.7h0M28 -14.2h0M36.6 -49h0M38.3 -31.3h0M29 -14.2h0M43.3 -26.3h0M21.3 -46.8h0M31.2 -6.9h0M13.6 -45.3h0M18 -41.2h0M36.4 -57h0M12.9 -27h0M43.6 -14.5h0M7.1 -12.1h0M21.3 -29.7h0M43.9 -12.7h0M37.4 -56.6h0M36.6 -8.1h0M9.3 -19h0M21.6 -8.2h0M24.8 -50.2h0M26.2 -13.5h0M37.2 -15.1h0M20.1 -3.3h0M28 -19.6h0M18.4 -46.4h0M16.4 -50.4h0M13.1 -35.1h0M31.7 -15.4h0M45.9 -34.6h0M25.4 -10.9h0M27.4 -17.7h0M25 -14.3h0M28.8 -8h0M23.1 -1.8h0M38.9 -23h0M20.6 -20h0M19.4 -40.6h0M33.6 -2.2h0M2.7 -3.4h0M30.4 -5h0M20.3 -7h0M29.4 -14.3h0M31 -12.5h0M29.1 -54.4h0M33.2 -9.9h0M33 -43.4h0M36.8 -31.3h0M22.4 -51.2h0M15.7 -47.3h0M20.9 -7.3h0M15.6 -2.5h0M34.8 -9.1h0M32.4 -15.9h0M31.3 -27.5h0M25.6 -16.6h0M26.9 -32.1h0M23.2 -27.5h0M30.7 -10.7h0M39.6 -29.9h0M18.1 -37.1h0M10.8 -11.6h0M27.8 -10.9h0M28.5 -35.6h0M18.5 -58.7h0M28.7 -9.8h0M12.5 -22.7h0M44.1 -12.3h0M22.7 -15h0M32.4 -6.4h0M44.1 -14.6h0M34.9 -2.9h0"/><path stroke="#5060dc" stroke-opacity=".6" d="M13.8 -3.2h0M40.7 -4.5h0M38.1 -14h0M42.6 -19.4h0M11.9 -11.8h0M42.4 -7.3h0M16.4 -34.5h0M16.7 -21.3h0M39.7 -18.3h0M38.3 -13.7h0M38.9 -10h0M17 -35.2h0M19 -11.8h0M16.9 -44.1h0M40.5 -16h0M40.4 -9.1h0M37.6 -9.7h0M38.8 -9.5h0M19.6 -13.6h0M38.4 -17.8h0M40.6 -13.2h0M13.8 -28.3h0M16.4 -22.7h0M11.6 -8.5h0M17.2 -38.1h0M19.3 -7.3h0M14 -4.7h0M15.9 -23.5h0M16.8 -44h0M17.7 -9.3h0M12 -12.3h0M16.8 -30h0M38.1 -9.7h0M12.5 -11.3h0M42.1 -13.1h0M18.1 -16.7h0M15.1 -3.7h0M23.5 -10.7h0M15.3 -31.3h0M39.2 -20.7h0M14.9 -28.1h0M16.2 -33.8h0M16.3 -48.6h0M39.7 -16.6h0M14.2 -34.3h0M17.2 -32.4h0M12.4 -14.4h0M21.9 -10.6h0M12.9 -4.8h0M41.6 -18.6h0M18.3 -24h0M13.6 -3.7h0M13.1 -25.3h0M17.6 -5.6h0M16.8 -45.7h0M14.8 -28.5h0M15 -27.5h0M13.3 -4.4h0M16.4 -35.1h0M16.6 -29.6h0M41.9 -7.3h0M12.4 -15.3h0M41.8 -18.7h0M16.2 -30.6h0M42.1 -11.7h0M39.2 -15.7h0M16.2 -21.3h0M11.4 -11.2h0M13.6 -3.4h0M13.4 -25.3h0M41.9 -13h0M16 -31.7h0M38.5 -14.7h0M41.4 -7.9h0M40.6 -21.4h0M12.7 -17.1h0M16.7 -22h0M16.3 -4.9h0M18 -21.2h0M16 -36.3h0M39.9 -19h0M41.4 -6.4h0M40.8 -14.3h0M16.3 -24.3h0M38.5 -16.3h0M41.6 -7.2h0M37.7 -15.7h0M16 -20.4h0M42.1 -20.2h0M38.5 -6.9h0M18.1 -9.8h0M17 -20.9h0M39.1 -11.8h0M42.1 -10.8h0M16.3 -32.9h0M18.2 -16.7h0M12.1 -15.9h0M20.2 -8.4h0M38.9 -19.5h0M40.5 -9.5h0M39.7 -14.5h0M16.8 -23.8h0M14 -3.4h0M16.1 -43.3h0M17.3 -15.6h0M42 -7.7h0M14.3 -22.1h0M17.9 -5.7h0M17.1 -35.7h0M12.7 -17.3h0M41.4 -22.6h0M37.7 -8.6h0M14.4 -28.2h0M14.5 -19.4h0M16.6 -17.1h0M13.3 -18.9h0M39.7 -8.3h0M41.9 -22.9h0M19.2 -7.2h0M13.1 -15.1h0M41.9 -22.1h0M17.2 -44.6h0M17.6 -18.2h0M42.3 -19.9h0M38.5 -15.3h0M17.2 -3.9h0M14.1 -3.4h0M15.7 -29.6h0M18.1 -16.5h0M16.7 -26.3h0M40 -15.5h0M14.1 -34.2h0M15.7 -23h0M20.2 -10.1h0M12.3 -14.6h0M38.2 -13.2h0M14.4 -21.5h0M16.8 -43.1h0M39.5 -8.8h0M17.8 -22.3h0M38.1 -14.8h0M41.9 -14.8h0M15.4 -4.3h0M17.1 -21.1h0M40.2 -24.2h0M15.4 -31.6h0M40.4 -13.6h0M14.3 -26.1h0M38.6 -16.9h0M17 -36.7h0M13 -20h0M41.3 -4.8h0M12.8 -4.3h0M14.1 -28h0M12 -16h0M18.6 -12.1h0M16.3 -3.1h0M14.4 -2.9h0M41.2 -6.5h0M40.5 -12.4h0M12.1 -10.4h0"/></g></g><g id="b5" filter="url(#bl)"><path fill="#d4d5f9" d="M17.2 -50.2L15.8 -43.7L9.5 -8.2L9.6 -6.2L10.3 -4.2L11.2 -2.9L12.8 -2.1L14.2 -2.4L15.2 -3.1L19.8 -8.4L22.9 -10.2L23.1 -10.8L20.2 -12.5L19.2 -13.4L18.2 -16.5L17.8 -22.2L17.8 -46.8L17.8 -48.9L17.2 -50.2ZM42.8 -24.8L42.2 -24.9L41.8 -24.6L40.7 -22.2L38.6 -11.2L39 -9.2L40.4 -5.8L41.2 -4.3L42.2 -3.7L43.2 -4.3L44.2 -6.2L44.8 -9.8L45.1 -12.8L45 -16.8L44.4 -20.8L43.8 -23.2L42.8 -24.8Z"/><path fill="#a0a5f2" d="M16.2 -37.6L15.8 -36.7L14.8 -32.5L10.9 -13.8L10.1 -8.2L10.1 -6.8L10.8 -4.8L11.8 -3.6L12.8 -3.1L14.2 -3.3L15.4 -4.2L16.8 -6.2L17.5 -8.2L17.6 -12.2L17 -20.2L16.8 -34.2L16.2 -37.6ZM42.2 -20.8L41.7 -20.2L40.9 -18.2L40.3 -12.8L40.4 -10.2L40.9 -8.2L41.7 -6.8L42.2 -6.4L42.8 -6.5L43.2 -7.2L43.8 -8.6L44.3 -13.8L43.7 -18.8L43.1 -20.2L42.8 -20.7L42.2 -20.8Z"/><path fill="#5f70e8" d="M15.2 -28L14.2 -25L11.5 -13.8L10.6 -8.2L10.7 -6.8L11.2 -5.2L12.2 -4.1L13.2 -3.8L14.2 -4.1L15.5 -5.2L16.4 -6.8L16.7 -8.2L16.9 -12.8L16 -25.2L15.8 -27.5L15.2 -28ZM42.8 -17L42.2 -17.2L41.8 -16.5L41.3 -13.8L41.5 -10.8L42.2 -9.5L42.8 -9.8L43.3 -12.2L43.3 -15.2L42.8 -17Z"/><path fill="#265cda" d="M14.8 -19.8L14.2 -19.5L13.8 -18.5L12.6 -15.2L11.7 -11.8L11.2 -8.2L11.3 -6.8L11.7 -5.8L12.2 -5.1L13.2 -4.7L14.2 -5L15.1 -5.8L15.7 -6.8L16.1 -8.2L16 -14.8L15.2 -18.9L14.8 -19.8Z"/><path fill="#1496d7" d="M14.2 -16.8L13.2 -15.4L12.6 -13.8L11.6 -8.2L12 -6.2L12.8 -5.5L13.2 -5.4L14.2 -5.7L14.8 -6.1L15.6 -8.2L15.7 -11.8L15.5 -14.2L14.8 -16.6L14.2 -16.8Z"/><path fill="#1ec3a0" d="M14.2 -15L13.8 -14.7L13 -13.2L12.1 -9.2L12.1 -7.2L12.7 -6.2L13.2 -6L13.8 -6L14.6 -6.8L15.2 -8.2L15.2 -12.8L14.8 -14.5L14.2 -15Z"/><path fill="#46d246" d="M14.2 -13.5L13.8 -13.4L13.2 -12.6L12.5 -9.8L12.4 -7.8L12.8 -6.8L13.2 -6.5L14.2 -6.9L14.8 -8.2L14.9 -11.8L14.2 -13.5Z"/><path fill="#96d723" d="M14.2 -11.8L13.8 -12L13.2 -10.8L12.8 -8.2L13.2 -7.2L13.8 -7.2L14.3 -7.8L14.5 -10.2L14.2 -11.8Z"/><g stroke-width="1" stroke-linecap="round"><path stroke="#7070e0" stroke-opacity=".42" d="M26.2 -51.9h0M39.6 -26.4h0M47.1 -43.8h0M33.6 -6.4h0M33.6 -10.6h0M28.6 -16.6h0M35.3 -17h0M33.3 -48.5h0M35.8 -10.7h0M36.1 -8.9h0M39.9 -26.3h0M23.3 -52h0M15 -42.1h0M44.3 -49.7h0M21.6 -15h0M28.3 -9.7h0M40.3 -26h0M27.4 -9.4h0M29 -7.3h0M6.6 -2.9h0M16.7 -51.8h0M30.7 -7.5h0M11 -15.7h0M20.1 -12.9h0M35 -8.1h0M18.5 -33.1h0M35.7 -46.4h0M40.6 -29.6h0M21.8 -28.6h0M34.7 -9.7h0M32 -51.6h0M17.3 -51.5h0M24.2 -30.9h0M27.9 -52h0M37.7 -5.1h0M10 -18.7h0M26.2 -27.4h0M7.2 -24h0M26.1 -11.9h0M11 -47.1h0M19.2 -6.4h0M37.7 -41.7h0M21.3 -55.1h0M35.6 -10.3h0M33.6 -43.1h0M20.9 -28h0M30.8 -4.5h0M38.2 -8.7h0M20 -5.1h0M36.1 -27.2h0M29.4 -12.2h0M37.8 -5h0M14.6 -41.3h0M30.2 -27.6h0M41.9 -33.4h0M11.3 -23h0M35.3 -6.8h0M39.5 -6.1h0M41.9 -27.8h0M14.3 -43.3h0M8.8 -17h0M20.4 -34.3h0M26.6 -39.9h0M48.3 -32.7h0M30.3 -11.6h0M27.6 -7.7h0M21.6 -1h0M27.6 -31.1h0M28.3 -44.8h0M34.1 -4.3h0M41.1 -29.4h0M19.3 -27.8h0M43.8 -31.4h0M36.1 -3.4h0M39.6 -49.2h0M23.6 -5.8h0M27.5 -4.1h0M12.9 -1.6h0M38 -47.2h0M29.1 -27.7h0M14.7 -1.1h0M56.7 -36.6h0M18.6 -39.3h0M18.3 -18.6h0M23.8 -5.4h0M48.6 -33.9h0M35.5 -9.9h0M27.6 -7.6h0M25.7 -15.4h0M34.6 -11.4h0M20 -68.3h0M8 -6h0M33.6 -11.7h0M3.5 -16h0M38 -12.3h0M20.9 -3.9h0M25.7 -10.5h0M18 -21.6h0M22 -13.4h0M10.3 -3.8h0M42.1 -25.1h0M28.4 -9.8h0M36.5 -11.9h0M21.9 -11.7h0M37.1 -63.4h0M21.8 -17.9h0M12.6 -61.3h0M34.1 -4.4h0M28.4 -9h0M27.3 -1.1h0M28.3 -9.5h0M37.9 -22.8h0M32.5 -10.9h0M25.5 -52.9h0M37.5 -6.7h0M40.2 -25.5h0M7.9 -66.7h0M38.7 -8.7h0M18.4 -32h0M21.6 -9.4h0M37.4 -10.7h0M18 -50.1h0M23 -17.5h0M12.5 -44.2h0M18.6 -68h0M20.9 -27h0M19.7 -44.6h0M43.2 -34.7h0M8.5 -7.4h0M42 -26.6h0M40.1 -3.1h0M35.6 -12h0M18.2 -42.3h0M16 -44.5h0M33.5 -13.2h0M34.2 -17h0M38.4 -18.2h0M37.7 -9.9h0M14 -40.9h0M18 -5.1h0M26.9 -15.9h0M35.1 -1.8h0M37 -8.5h0M22 -20.2h0M17.4 -4.3h0M35.9 -7.2h0M24.1 -56.7h0M30.8 -7.2h0M44.6 -26.8h0M40.6 -4.7h0M13.4 -42.2h0M52.3 -27h0M31.6 -17.6h0M4 -34.5h0M27.7 -10.5h0M40.8 -61.8h0M37.2 -15.2h0M16.1 -49.5h0M42 -29.4h0M14.4 -35.2h0M13.5 -37.5h0M22.5 -68h0M38.3 -36.7h0M40 -3.9h0M24.4 -64.9h0M44.4 -5.4h0M41.2 -29.5h0M26.5 -14.6h0M39.9 -23.6h0M13.1 -29.1h0M25.8 -20.2h0M15.3 -43.3h0M13.5 -43.6h0M18.3 -45.8h0M36.3 -3.7h0M31.4 -21.5h0M45.4 -7.2h0M18 -56.8h0M32.1 -31.3h0M14.8 -45.2h0M21.4 -12.6h0M46.5 -21.7h0M24.5 -47.7h0M18.6 -49.5h0M21.2 -15.1h0M11.1 -60.3h0M45.6 -11.7h0M28.2 -13.3h0M19.4 -42.5h0M8.5 -7.3h0M10 -33.5h0M34.1 -4.3h0M18.5 -36h0M43.8 -29.5h0M9.9 -14.9h0M32.6 -6.4h0M24.8 -12.2h0M36.1 -18.5h0M41.3 -55.7h0M28.4 -4.1h0M45.9 -23.5h0M37.8 -7.1h0M18.6 -55.9h0M28.8 -11.1h0M22.9 -6.3h0M27.5 -48h0M3 -51.9h0M37.2 -31.3h0M18.1 -6.3h0M29.1 -13.9h0M53.7 -39.2h0M33.2 -12h0M36.5 -6.4h0M68.5 -39.3h0M36.5 -22h0M34.1 -6.8h0M25.1 -18.3h0M16.8 -49.3h0M37.1 -19.1h0"/><path stroke="#5060dc" stroke-opacity=".6" d="M18.8 -11h0M39.9 -8.6h0M17.2 -8.8h0M40.5 -13.3h0M10.6 -10h0M17.3 -6.6h0M17.2 -39.5h0M16.9 -20.2h0M44.1 -15.1h0M17 -47.7h0M15.5 -4.6h0M16.6 -25.1h0M15.8 -41.3h0M16.4 -34.3h0M16.2 -33.2h0M16.1 -32.3h0M17.2 -22.9h0M17.2 -23h0M43.2 -19.7h0M41.6 -20.6h0M18 -45.4h0M43.6 -11.3h0M12.6 -17.8h0M17.9 -34.8h0M17.4 -44.4h0M12.2 -16.9h0M17.6 -16.5h0M16 -36.4h0M12 -15.2h0M15.7 -32.4h0M44.1 -9.2h0M15 -27.5h0M41.9 -17h0M43.8 -8.6h0M17 -7.8h0M41.4 -19.5h0M42.7 -19.9h0M39.2 -8.8h0M42.4 -4.6h0M15 -33.1h0M44.9 -18.5h0M44.5 -17.7h0M42.9 -10.1h0M43.5 -8.6h0M17.9 -9.4h0M41.5 -6.5h0M12.1 -15.3h0M43.2 -17.7h0M10.9 -5.3h0M41 -10.7h0M16.7 -34.3h0M39.7 -17.4h0M16.8 -42h0M16 -16.4h0M14.6 -32.9h0M17.2 -15.4h0M17.1 -42.7h0M41.9 -20.3h0M15.2 -21.1h0M10 -6h0M14.8 -27.5h0M11.5 -15.6h0M14.2 -3.9h0M43.4 -14.9h0M15.6 -38.4h0M14.4 -27.5h0M17.7 -8.9h0M16.9 -21.3h0M44 -14h0M17.8 -7.1h0M41.9 -10h0M16.5 -23.1h0M13.4 -18.3h0M14.8 -21.9h0M43.2 -14h0M16.5 -37.9h0M16.5 -35.3h0M39.9 -12.9h0M16.3 -16.5h0M16.5 -41.1h0M16.5 -39.5h0M14.2 -3h0M17.2 -44.4h0M17.2 -42.6h0M13.8 -25.2h0M40.6 -13.4h0M45 -11.4h0M16.4 -35.4h0M15.6 -23.6h0M16.8 -32.6h0M43.4 -6.9h0M17.3 -33.5h0M15.2 -33.5h0M15.3 -30.7h0M17.4 -46.5h0M21.4 -11.4h0M17.7 -6.4h0M16.1 -36.8h0M41.7 -20.6h0M15.2 -31h0M17 -36.6h0M11.4 -11.5h0M43.3 -17.9h0M13.9 -31.5h0M13.9 -27.2h0M14.4 -34h0M16.7 -37.1h0M16.8 -32.3h0M15.1 -28.6h0M44.4 -18.3h0M10.4 -12.4h0M12.8 -20h0M17.6 -8.4h0M41 -22.1h0M16.8 -10.8h0M17.1 -19.3h0M44.2 -15.5h0M45 -14.8h0M14.2 -3.4h0M40.7 -17.3h0M14.8 -26.2h0M18.8 -13.8h0M12 -3.2h0M42.7 -15.2h0M41.6 -23h0M16.9 -44.5h0M16.8 -6.4h0M15.2 -39.1h0M16.2 -38.3h0M14.3 -21.3h0M17.3 -12.4h0M17.2 -14.9h0M40.3 -11.4h0M16.7 -19h0M41.9 -19.3h0M41.4 -17.3h0M17.2 -41.5h0M17.2 -9.7h0M16.4 -40.3h0M10.9 -13.7h0M43.2 -17.8h0M17.1 -48.4h0M38.8 -10.8h0M17.9 -29.7h0M15.2 -25.3h0M16.3 -33.4h0M15.3 -32.5h0M17 -14.8h0M16.9 -9.7h0M16.8 -22.4h0M40.8 -10.9h0M16.5 -34.5h0M19.3 -11h0M41.1 -8.8h0M16 -24.8h0M14.1 -32.9h0"/></g></g><g id="c0" filter="url(#bl)"><path fill="#d4d5f9" d="M9.8 -53.3L9.2 -53.6L8.8 -53.1L7.7 -49.2L6.5 -41.8L5 -28.8L3.4 -11.8L3.8 -7.8L4.9 -5.2L6.8 -3.2L7.8 -2.6L9.2 -2.2L11.2 -2.4L15.2 -4L19.2 -5.1L22.2 -5.6L25.2 -5.7L28.8 -5.4L31.2 -4.8L37.2 -1.5L39.2 -1.4L40.8 -2L42.4 -3.8L43.8 -6.8L44.6 -10.2L44.7 -13.8L44.1 -18.2L43 -21.8L41.2 -25L39.8 -26.4L38.8 -26.6L37.8 -26.4L36.1 -24.8L34.4 -21.2L32.2 -14.2L31.2 -12.5L29.8 -11.4L28.2 -10.9L25.8 -10.6L21.2 -10.9L18.2 -12.1L17.2 -12.8L16.2 -14.1L15.2 -17.3L11.6 -46.2L10.8 -50.4L9.8 -53.3Z"/><path fill="#a0a5f2" d="M9.8 -42.8L9.2 -43.1L8.8 -42.6L7.2 -36.6L5.9 -27.2L4.3 -11.8L4.6 -8.8L5.5 -6.2L7.2 -4.2L9.2 -3.4L11.2 -3.8L13.5 -5.2L15.1 -7.2L15.4 -8.8L14.2 -15.8L11.6 -35.8L10.8 -40L9.8 -42.8ZM38.8 -21.3L37.2 -20.7L35.5 -18.2L34.1 -14.2L33.4 -9.8L33.8 -7.2L35.1 -5.2L36.8 -3.8L38.8 -3.3L39.8 -3.5L40.8 -4.2L42 -5.8L43.1 -8.8L43.5 -12.2L43.1 -15.8L42 -18.8L40.2 -20.8L38.8 -21.3Z"/><path fill="#5f70e8" d="M9.2 -35.4L8.8 -34.9L8.2 -33.6L7.2 -29.1L5 -11.8L5.4 -8.8L6.2 -6.8L7.8 -5L9.2 -4.5L11.2 -5L12.8 -6.3L13.6 -7.8L14 -10.8L11.2 -30L10.2 -34.1L9.8 -35.1L9.2 -35.4ZM38.8 -18.8L37.2 -18L36.1 -16.2L35.1 -13.2L34.9 -10.8L35.1 -8.8L35.9 -6.8L37.2 -5.5L38.8 -5L40.2 -5.6L41.2 -6.8L42.1 -8.8L42.5 -11.8L42.1 -14.8L41.4 -16.8L40.2 -18.2L38.8 -18.8Z"/><path fill="#265cda" d="M9.2 -27.9L8.5 -26.8L7.7 -24.2L5.8 -11.8L6 -9.8L6.8 -7.7L7.8 -6.4L9.2 -5.8L10.8 -6.1L11.9 -7.2L12.6 -8.8L13 -11.2L10.9 -24.2L10.2 -26.6L9.8 -27.6L9.2 -27.9ZM39.8 -15.8L38.8 -16.1L37.8 -15.6L36.9 -14.2L36.4 -12.2L36.4 -10.2L36.9 -8.8L37.8 -7.6L38.8 -7.3L39.8 -7.7L40.2 -8.2L41.2 -10.8L41 -13.8L40.3 -15.2L39.8 -15.8Z"/><path fill="#1496d7" d="M9.2 -23.3L8.5 -22.2L7.8 -19.9L6.4 -11.8L6.6 -9.8L7.2 -8.2L8.2 -7.1L9.2 -6.7L10.8 -7.2L11.6 -8.2L12.2 -9.8L12.4 -11.8L10.8 -20.5L9.8 -23L9.2 -23.3ZM39.2 -13.5L38.8 -13.7L38.2 -13.3L37.8 -12.1L37.8 -10.8L38.2 -9.9L38.8 -9.6L39.6 -10.2L39.9 -11.2L39.8 -12.8L39.2 -13.5Z"/><path fill="#1ec3a0" d="M9.2 -19.8L8.8 -19.4L8.2 -18.2L6.9 -11.8L7.1 -10.2L7.7 -8.8L8.2 -8L9.2 -7.6L10.2 -7.8L11.1 -8.8L11.7 -10.2L11.9 -11.8L10.5 -17.8L9.8 -19.6L9.2 -19.8Z"/><path fill="#46d246" d="M9.2 -17.4L8.8 -17L8.2 -15.9L7.3 -11.8L7.8 -9.6L8.2 -8.9L9.2 -8.3L10.2 -8.6L10.8 -9.2L11.2 -10.2L11.4 -11.8L10.2 -16.3L9.8 -17.2L9.2 -17.4Z"/><path fill="#96d723" d="M9.2 -15.4L8.8 -15L8.2 -13.9L7.7 -11.8L8.2 -9.8L9.2 -9.1L9.8 -9.1L10.4 -9.8L11 -11.8L10.2 -14.3L9.8 -15.2L9.2 -15.4Z"/><path fill="#e1c80f" d="M9.2 -13.8L8.8 -13.4L8.2 -11.8L8.7 -10.2L9.2 -9.9L9.8 -10L10.2 -10.6L10.5 -11.8L9.8 -13.6L9.2 -13.8Z"/><path fill="#f0870f" d="M9.2 -12.8L8.8 -12.4L8.6 -11.8L8.8 -11.1L9.2 -10.6L9.8 -10.8L10.1 -11.8L9.8 -12.6L9.2 -12.8Z"/><path fill="#e63c14" d="M9.2 -12.1L9.1 -11.8L9.2 -11.4L9.6 -11.8L9.2 -12.1Z"/><g stroke-width="1" stroke-linecap="round"><path stroke="#7070e0" stroke-opacity=".42" d="M34 -44h0M5.1 -43.4h0M18 -39.1h0M33.7 -54.5h0M12.9 -64.6h0M43.7 -4.3h0M17.9 -39.8h0M2.3 -17h0M29.9 -36.7h0M26.4 -62.7h0M30 -67.6h0M5.8 -2.5h0M14.5 -26.4h0M4.5 -59.7h0M13.5 -33.1h0M15.3 -23.7h0M42.4 -3h0M24.4 -34h0M22.3 -4.4h0M28.6 -57.1h0M38.7 -33.6h0M4 -26.7h0M26 -34.8h0M13.6 -51.6h0M12.8 -54.7h0M38.8 -44.7h0M53.9 -22.5h0M27 -29.4h0M6.8 -58.9h0M14.9 -51.7h0M23.2 -48.5h0M20.5 -26.4h0M37.3 -37.9h0M50.4 -29.8h0M33.3 -18h0M31.4 -14.8h0M15.1 -40.6h0M16.8 -23.6h0M31.2 -65.9h0M7.7 -50.2h0M33.8 -41.5h0M27.6 -11.7h0M40.4 -35.8h0M33.8 -20.5h0M26.2 -22.7h0M46.2 -19.1h0M46.6 -7.2h0M30.8 -63.9h0M42.8 -28.7h0M26.7 -22.5h0M27.4 -11h0M42.6 -32.3h0M18.5 -57.9h0M38.1 -32h0M34.9 -36.4h0M27.1 -12.7h0M2.2 -47.3h0M14.7 -22.7h0M21.2 -28.2h0M22 -13.7h0M33.6 -55.9h0M33.8 -25.5h0M3.5 -62.6h0M31.9 -3.8h0M35.4 -48.8h0M13.6 -36.9h0M46.3 -17h0M12.8 -51.6h0M7 -47.8h0M25.8 -4.6h0M10.7 -52.9h0M38.3 -28h0M43 -31.4h0M15 -52.4h0M46.6 -70h0M31.2 -28.2h0M44.1 -5.3h0M23.2 -12.6h0M42 -27.7h0M32.2 -15h0M2.6 -43.2h0M1.7 -26.4h0M26.9 -14.8h0M12.4 -55.4h0M17.5 -13.5h0M15.5 -30.6h0M25.8 -34.4h0M29.9 -39.7h0M44.5 -12.6h0M43 -26.8h0M38.1 -39.5h0M10.4 -54.6h0M5.1 -47.6h0M18.4 -13h0M35.5 -25.8h0M7.4 -68.4h0M27.1 -3.3h0M50.6 -28.1h0M3.3 -21.2h0M3 -23.3h0M32.7 -20.8h0M29.2 -32.2h0M4 -22.4h0M16.9 -34.3h0M4.2 -43.9h0M6.2 -2.2h0M22.3 -4.7h0M18.2 -53.5h0M22.6 -21h0M46.4 -29.8h0M27.5 -16h0M5.8 -36h0M14.5 -32.9h0M2.3 -58.7h0M28.4 -39.8h0M24.6 -18.2h0M15.4 -18.1h0M27.1 -5.1h0M25.4 -4.6h0M4.2 -21.5h0M46.9 -8.4h0M20 -14.6h0M45.3 -22.2h0M20.5 -39.9h0M6.3 -44.3h0M35.9 -24.2h0M28.5 -27.9h0M25.2 -25.6h0M14.9 -23.5h0M13.5 -1.4h0M3.3 -19.7h0M16.1 -28.4h0M33.3 -31.4h0M21.4 -22.8h0M2.6 -17.9h0M3.1 -5.1h0M8.4 -51.9h0M20.4 -29.8h0M23.7 -45.1h0M11.3 -48.4h0M12.3 -45.2h0M44 -40.1h0M39.5 -55.7h0M37.4 -58.5h0M11.7 -54.4h0M26.8 -11.3h0M43.1 -39.1h0M28.6 -43.7h0M6.9 -57h0M36.9 -37.3h0M37.3 -33.7h0M42.1 -2.8h0M14.9 -4h0M17.7 -19.7h0M17.2 -2.9h0M9.8 -64.7h0M45.9 -20.5h0M45.9 -22.5h0M14.6 -28.1h0M7.5 -50.1h0M26.8 -2.1h0M14 -47.3h0M1.7 -19.8h0M23.8 -31.8h0M18.8 -53.7h0M5.5 -35.7h0M41.3 -36.5h0M18.4 -12.6h0M35.7 -27.4h0M9.4 -61h0M43.3 -37.7h0M19.5 -4.5h0M9.3 -54.7h0M22.3 -11.3h0M23.4 -19.6h0M18.7 -59.2h0M23.6 -13h0M30.7 -48.4h0M7.6 -50h0M30.1 -20.2h0M45.8 -17.3h0M31.9 -41.5h0M12.7 -46.1h0M16.2 -30.5h0M17.9 -25.2h0M47.2 -43.8h0M20.7 -13.1h0M23.8 -30.3h0M2.1 -3.1h0M8.1 -61.9h0M5.8 -45h0M24.1 -4h0M26.7 -36.8h0M40 -26.7h0M17.2 -24.5h0M60.6 -7.4h0M.8 -33.3h0M42.2 -24.4h0M15.5 -25.5h0M54.9 -24.9h0M14.6 -27.7h0M27.4 -11h0M3.4 -11.5h0M27.1 -17.9h0M51.1 -16.5h0M37.5 -35.1h0M38.7 -27.3h0M38 -33.5h0M46 -40.6h0M2.8 -24.4h0M23.2 -27.1h0M35.8 -31h0M21.7 -24h0M53.6 -47.9h0M29.3 -1.7h0M3.1 -14.6h0M32.5 -24.9h0M19.9 -4.7h0M2.8 -35.9h0M31.2 -48.8h0M47.9 -14.5h0M25.3 -23.3h0M42.2 -28.3h0M7.9 -54.6h0M2.7 -13.8h0M2.4 -27.9h0M14.1 -28h0M31.9 -20.6h0M16.4 -31.1h0M15.3 -3.9h0M6.4 -43.2h0M23.3 -22.7h0M14.7 -42h0M18.3 -4.8h0M64.7 -42.8h0M37.4 -27.6h0M26.1 -11.5h0M56.1 -39.3h0M43.1 -24.9h0M50 -2h0M24.6 -4.4h0M30.2 -27.1h0M14.1 -38h0M47.4 -40h0M41.7 -28.9h0M53.6 -42.3h0M16.5 -30.1h0M21.9 -40h0M12.4 -44.5h0M41.4 -27.1h0M59.9 -13.7h0M32 -16.1h0M42.5 -31.6h0M13.5 -35.5h0M26.1 -2.9h0M16.5 -3.4h0M22.1 -46.9h0M21.2 -37.4h0M3.1 -5.2h0M21.9 -32.7h0M50.5 -19.8h0M23.3 -46.4h0M44.2 -20.9h0M45.7 -9.8h0M12.5 -44.8h0M4.9 -52.5h0M6.4 -55.8h0M16.5 -17.1h0M45.1 -29.6h0M11.3 -51.2h0M17.6 -17.3h0M20.5 -23h0M58.6 -31.1h0M4.5 -32.7h0M30.8 -22h0M24.9 -42.5h0M7.9 -61.2h0M45.4 -30.6h0M30.7 -50.5h0M16 -21.8h0M17.3 -21.7h0M44.6 -32.9h0M49.7 -12.9h0M28.3 -4.8h0M5.8 -52.4h0M30.9 -33.4h0M3.6 -30.3h0M21 -12.4h0M3.5 -29.4h0M20 -29.2h0M44.2 -24.8h0M32.4 -3.8h0M10.2 -55h0M51.8 -30.2h0M3.6 -25.6h0M13.2 -60.6h0M24.1 -26.9h0M24.3 -12.8h0M16.5 -25.1h0M16.6 -19.9h0M40.7 -32.8h0M18.3 -67.1h0M18.5 -50.3h0M36.6 -25.8h0M14.3 -30.1h0M13.8 -2.2h0M28.2 -22.8h0M16 -45.8h0M33.4 -24.4h0M30.8 -17.4h0M26.5 -1.9h0M2.3 -19.2h0M36.6 -29.1h0M.8 -35.3h0M1.5 -49.9h0M4.2 -26.5h0M17.2 -50.3h0M40 -35.2h0M17.6 -13.1h0M39.4 -30.5h0M17.1 -16.4h0M4.7 -2.7h0M4.6 -33.2h0M30.1 -3h0M23.4 -28h0M4.8 -32.5h0M6.1 -46.3h0M15.7 -53.3h0M22 -21.9h0M17 -2.8h0M31.6 -29.5h0M20.5 -21.3h0M19.8 -26.7h0M37.2 -28.8h0M42.3 -34.3h0M45.1 -50.5h0M10 -59.1h0M45.3 -9.8h0M11.5 -66.2h0M57.9 -55.1h0M22.3 -24.8h0M32.3 -4.2h0M19 -11.5h0M22.9 -16h0M33.2 -18.6h0M54.2 -21.8h0M32.2 -25.6h0M23.5 -5.1h0M4.2 -25.4h0M31.2 -13.7h0M38.9 -29h0M41.9 -29.7h0M3.5 -17.7h0M15.2 -40.9h0"/><path stroke="#5060dc" stroke-opacity=".6" d="M33.3 -10.1h0M35 -4.5h0M5.4 -27.1h0M9.3 -49.2h0M33.9 -11.3h0M6.8 -39.9h0M36.5 -18.5h0M40.1 -21.9h0M4.8 -5.8h0M7.2 -39.6h0M42.8 -20.7h0M33.2 -9.5h0M42.4 -22.9h0M11.4 -34.1h0M5.9 -5.8h0M42.1 -8.9h0M5.8 -23.9h0M41.9 -23.1h0M34.9 -12.7h0M8.3 -29.5h0M12.4 -19.3h0M5.7 -20.2h0M25.4 -5.6h0M10.2 -35h0M12.9 -23.9h0M34 -15.2h0M15.4 -10.8h0M34.2 -6.9h0M5.7 -24h0M38.4 -18.5h0M43.2 -17.3h0M14.5 -16.7h0M9 -3.9h0M20.6 -7.8h0M35.6 -6.7h0M34.6 -13h0M37 -19.2h0M14.3 -12.2h0M37 -2.8h0M6.9 -40.8h0M40 -4h0M43.3 -14.4h0M13.2 -16.6h0M10 -39.4h0M40 -21h0M40.5 -21.1h0M44.1 -15.4h0M11.8 -37.3h0M11.6 -33.6h0M11.5 -34.1h0M12.3 -19.1h0M6.1 -31.2h0M43.8 -15h0M11.3 -35.3h0M33.8 -16.4h0M9.9 -37.7h0M14.2 -16.5h0M11.1 -25.2h0M4.3 -12.7h0M14.3 -14.7h0M12.8 -20.4h0M5.2 -19.8h0M32.9 -7.5h0M28.5 -10.3h0M34.1 -18.1h0M40.8 -25.4h0M33.2 -17.1h0M11.6 -3.2h0M9.3 -34.6h0M44 -10.2h0M41.3 -7.2h0M8.3 -35.2h0M30.8 -11.3h0M40.2 -20.5h0M7.9 -5.7h0M22.8 -10.1h0M10.2 -2.6h0M13.9 -11.5h0M5.1 -22.6h0M33 -10.6h0M40 -5.4h0M39.4 -2.9h0M36 -5.1h0M11.9 -35h0M37.4 -4.6h0M11.6 -29.1h0M37.3 -22.3h0M43.2 -18h0M7.1 -44.7h0M5.1 -17.9h0M11.4 -26.8h0M42.7 -7.9h0M12.4 -27.2h0M41.7 -20h0M11 -39.7h0M20.4 -6.8h0M23.8 -10.3h0M14 -17.9h0M37.5 -6.5h0M7.8 -40h0M13.8 -22.6h0M12.6 -34.2h0M13 -25.4h0M21.9 -10.8h0M12.9 -5.8h0M43.2 -11.5h0M8.7 -38.6h0M8.6 -34.9h0M11 -5.8h0M9.7 -40.9h0M41.3 -22.8h0M24 -9.6h0M35.9 -10.4h0M4.9 -16.4h0M37.7 -20.4h0M26.6 -6.6h0M41.8 -18.4h0M15 -4.6h0M5.7 -16.4h0M5.5 -24.7h0M6.1 -22h0M42.9 -7h0M31.4 -8.9h0M4.1 -10.9h0M13.6 -21.4h0M23.2 -8.3h0M35.9 -18h0M22.5 -8.2h0M30.1 -8.9h0M13.7 -9.8h0M10.1 -34.5h0M9.7 -44.2h0M14.1 -13.7h0M42.5 -21.6h0M5.8 -33.8h0M12.2 -24.1h0M10.9 -31.8h0M40 -5.6h0M37 -21.6h0M35 -16.5h0M42 -18.7h0M11.8 -36.4h0M37 -3.4h0M41 -20.3h0M13.8 -17.2h0M13.4 -6.7h0M8.9 -47.1h0M36.8 -6h0M17 -12.1h0M8.9 -38.9h0M17.9 -7.3h0M35.6 -10h0M12.9 -16.1h0M6.8 -41.7h0M11.9 -5.8h0M34 -20.7h0M33.5 -16.2h0M17.2 -6.5h0M43.2 -11.2h0M11.6 -5.5h0M9.3 -45.8h0M26.7 -10.2h0M12.5 -36.7h0M38 -5.9h0M4.4 -8.5h0M9 -31.6h0M36.1 -2.5h0M42.4 -15.9h0M7 -20h0M5 -17.6h0M13.4 -5.1h0M11.9 -31.6h0M14 -10.5h0M39 -19.3h0M4.6 -11.1h0M40.8 -4.2h0M35.8 -7.1h0M35.8 -13.8h0M5.7 -32.4h0M32.6 -9.3h0M43.7 -10.2h0M34.8 -9.8h0M8.3 -36.6h0M20.2 -5.6h0M41.5 -18.6h0M43.1 -11.7h0M42.4 -7.2h0M13.3 -28h0M41.7 -18h0M17.9 -10.3h0M11.8 -5.5h0M43.7 -10.7h0M38.8 -20.3h0M37.9 -16.3h0M19.9 -10h0M38.7 -20.5h0M12.3 -28h0M37 -4.5h0M6.3 -6.5h0M43.2 -11.7h0M39 -3.8h0M8.8 -29.4h0M38.8 -16.7h0M25.8 -9.9h0M10 -28.7h0M22.6 -8.9h0M33.9 -7.7h0M31.3 -7.7h0M41.4 -8.9h0M19.4 -8.6h0M13.7 -22.3h0M5.7 -16.5h0M34.4 -7.5h0M23.9 -9.8h0M11.4 -3.9h0M16.6 -5.3h0M36.1 -18h0M40.9 -23h0M8.2 -43.4h0M35.2 -20.2h0M6.8 -30h0M4.7 -13.9h0M18.7 -6.2h0M42.1 -19.1h0M11.1 -33.8h0M10.6 -29.6h0M41.7 -4.9h0M10.5 -48.9h0M10.9 -48.8h0M36.6 -2.7h0M6.4 -28.5h0M11.3 -28.5h0M35.8 -16.4h0M36.6 -3.5h0M10.4 -34.1h0M13.3 -15.3h0M9.4 -2.6h0M7.2 -38.6h0M36 -20.4h0M14.3 -16.2h0M13.5 -7.6h0M11.5 -2.5h0M10.1 -38.4h0M14.4 -10.2h0M6 -35.3h0M23.6 -9.9h0M40.8 -18h0M4.8 -16h0M34 -8.1h0M12.2 -4.5h0M12.1 -22.2h0M6.1 -29.5h0M35.2 -23.5h0M14 -18.4h0M36.8 -21.9h0M32.9 -11.1h0M11.5 -42.3h0M35.3 -13.7h0M5.5 -5.1h0M8.9 -43.5h0M36.7 -5h0M41 -2.3h0M32 -12.5h0M19 -6.8h0M35.8 -8.6h0M6.5 -22.9h0M41.8 -16.1h0M32.6 -5.2h0M38.4 -23.9h0M44.2 -12.2h0M19.4 -11.2h0M15.7 -10.1h0M11 -36h0M15.3 -12.8h0M38.1 -2.4h0M37.7 -19.1h0M7.6 -43.9h0M14.6 -17.5h0M5.6 -6.7h0M14.5 -7.9h0M36 -5.8h0M43.1 -13.3h0M7.4 -33.9h0M7.3 -45.4h0M21.4 -8.7h0M43.4 -10.6h0M34 -10.4h0M11.2 -36.7h0M12.2 -5.8h0M12.8 -29.6h0M9.1 -34.2h0M12.9 -4.1h0M37.8 -6h0M16.2 -8.2h0M11.4 -41.5h0M41.8 -12.6h0M10.9 -37.1h0M22.3 -6.4h0M40.4 -4h0M30.3 -8.9h0M7.7 -3.8h0M43.5 -14h0M11.1 -46.7h0M6.4 -28.4h0M32.2 -7.3h0M25.8 -6.2h0M40.3 -19.7h0M10.9 -38.6h0M33.2 -13.1h0M15.6 -6.9h0M31.7 -8.2h0M14.5 -9.5h0M41.1 -14h0M13.3 -26.7h0M17.3 -7.2h0M13.9 -29.4h0M42.2 -18.5h0M8.4 -38.1h0M12.9 -33.3h0M38.3 -3.7h0M43.1 -10.6h0M11.9 -35.8h0M12.3 -28.3h0M33.9 -6.4h0M34.3 -13.5h0M33.5 -9.8h0M42.3 -17h0M10.7 -34.6h0M5.4 -22.8h0M11.8 -37.3h0M39.2 -1.8h0M11.3 -43.3h0M38.4 -25.3h0M11 -30.9h0M38.6 -16.6h0M5.8 -28.3h0M37.2 -23.3h0M5.3 -23.8h0M4.6 -20.7h0M34.3 -14h0M34.8 -6.5h0M4.5 -10.1h0M7.2 -30.5h0M5.3 -20.1h0M17.8 -5.1h0M10.5 -39.5h0M13.4 -30.9h0M33.2 -7.2h0M5.5 -16.6h0M4.6 -12.7h0M5.1 -23.3h0M41.5 -21.9h0M4.1 -10h0M41.6 -20.7h0M43 -16.2h0M13.3 -15.7h0M30.9 -10.8h0M38.6 -20.9h0M34.9 -19.9h0M5.6 -28h0M40.6 -18.6h0M42.4 -22h0M6.9 -34.7h0M13.9 -10.9h0M39 -21.3h0M9.1 -5.3h0M12.7 -15.9h0M8 -38.6h0M25.2 -7.5h0M40.9 -23.5h0M34.8 -13.6h0M8.2 -4.9h0M22 -10.4h0M32.3 -13.1h0M36.6 -7h0M42.4 -9.8h0M39 -6.1h0M10.7 -39.5h0M10.4 -35.1h0M9.1 -4.6h0M3.9 -10.3h0M8.1 -47h0M34.5 -7.5h0M35.9 -17h0M33 -13.2h0M15.6 -10.2h0M6.9 -32.8h0M5.2 -13.4h0M10.5 -33.4h0M29.6 -5.6h0M6.8 -33.9h0M28.5 -7.8h0M36.6 -20.7h0M16.2 -11.5h0M37.2 -21.7h0M32.8 -12.9h0M19.6 -5.5h0M14.3 -14.8h0M10.5 -31.1h0M35.2 -17.8h0M39.2 -2.1h0M7 -42.9h0M35.9 -18.8h0M36.1 -16.6h0M9 -39.1h0M9.7 -46.1h0M34.5 -3.2h0M41.4 -3.7h0M36.2 -4.6h0M35.8 -18.6h0M31.4 -8.2h0M11.6 -25h0M34.4 -9.3h0M43.6 -14.6h0M22.3 -8.8h0M4.7 -7h0M6.4 -18.9h0M9.9 -38.6h0M35.2 -17.6h0M13.2 -20.2h0M16.7 -10.1h0M15.5 -7.3h0M9.8 -31.7h0M17.3 -5.2h0M5.1 -21h0M6.8 -5.7h0M8.4 -43.3h0M30.3 -8.3h0"/></g></g><g id="c1" filter="url(#bl)"><path fill="#d4d5f9" d="M8.8 -60.6L8.2 -60.4L7.8 -59L6.8 -53.4L4 -27.2L2.8 -11.8L3.1 -8.2L3.9 -5.8L5.8 -3.4L7.2 -2.5L8.2 -2.3L10.2 -2.4L15.2 -4.3L19.2 -5.4L24.2 -5.9L27.8 -5.6L30.2 -5L36.2 -1.6L37.8 -1.4L39.2 -1.8L41 -3.2L42.4 -5.8L43.4 -9.2L43.6 -13.2L43.1 -17.8L42.1 -21.2L40.7 -24.2L39.8 -25.4L38.8 -26.2L37.8 -26.4L36.8 -26.2L34.9 -24.2L33.5 -21.2L31.2 -14L30.2 -12.3L29.2 -11.5L27.8 -10.8L25.8 -10.5L21.2 -10.6L17.8 -11.8L16.8 -12.4L15.7 -13.8L14.8 -16.2L14.2 -19.5L12 -41.2L10.5 -53.8L9.8 -57.9L9.2 -59.8L8.8 -60.6Z"/><path fill="#a0a5f2" d="M8.8 -48.5L8.2 -48.2L7.8 -47L6.5 -40.2L5 -27.2L3.7 -11.8L4.1 -8.2L5.1 -5.8L6.8 -4.1L8.8 -3.5L10.8 -4L12.7 -5.2L14 -6.8L14.6 -8.8L13.2 -17.6L10.6 -41.2L9.8 -46L9.2 -47.7L8.8 -48.5ZM38.8 -21L37.8 -21.2L36.8 -20.9L35.8 -20.1L34.8 -18.8L33.4 -15.2L32.5 -10.2L32.6 -8.2L33.8 -5.8L35.2 -4.2L37.2 -3.4L38.2 -3.5L39.2 -3.9L40.6 -5.2L41.8 -7.8L42.4 -10.8L42.3 -13.8L41.6 -17.2L40.2 -19.7L38.8 -21Z"/><path fill="#5f70e8" d="M8.8 -39.4L8.2 -39.2L7.8 -38L6.8 -33.1L4.4 -11.8L4.6 -9.2L5.5 -6.8L6.8 -5.2L8.8 -4.6L10.8 -5.2L12.3 -6.8L13 -8.2L13.3 -10.8L10.6 -32.8L9.8 -37.1L9.2 -38.7L8.8 -39.4ZM38.8 -18.4L37.2 -18.5L35.8 -17.3L34.7 -15.2L34 -12.2L34 -9.8L34.5 -7.8L35.8 -5.9L37.2 -5.2L38.8 -5.4L39.8 -6.2L40.8 -8.2L41.4 -10.8L41.3 -13.2L40.9 -15.2L40 -17.2L38.8 -18.4Z"/><path fill="#265cda" d="M8.8 -30.6L8.2 -30.3L7.8 -29.2L7.1 -26.8L5.1 -11.8L5.5 -9.2L6.2 -7.4L7.2 -6.3L8.8 -5.8L10.2 -6.3L11.5 -7.8L12.1 -9.8L12.3 -11.8L10.2 -26L9.5 -29.2L8.8 -30.6ZM38.2 -15.9L37.2 -15.8L36.2 -14.8L35.7 -13.2L35.4 -11.8L35.5 -10.2L36 -8.8L36.8 -7.8L37.8 -7.4L38.7 -7.8L39.2 -8.4L39.9 -9.8L40.1 -11.2L39.7 -14.2L39.1 -15.2L38.2 -15.9Z"/><path fill="#1496d7" d="M8.8 -25.1L8.2 -24.9L7.2 -21.9L5.7 -11.8L6 -9.8L6.6 -8.2L7.8 -7L8.8 -6.8L9.8 -7.1L10.8 -8.2L11.4 -9.8L11.6 -11.8L10.1 -21.2L9.2 -24.4L8.8 -25.1ZM37.8 -13.3L37.2 -12.9L36.9 -11.8L37.2 -10.2L37.8 -9.9L38.3 -10.2L38.8 -11.8L38.2 -13.2L37.8 -13.3Z"/><path fill="#1ec3a0" d="M8.8 -20.9L8.2 -20.7L7.5 -18.8L6.2 -11.8L6.4 -10.2L7.1 -8.8L7.8 -8L8.8 -7.7L9.8 -8.1L10.3 -8.8L10.9 -10.2L11.1 -11.8L9.8 -18.8L8.8 -20.9Z"/><path fill="#46d246" d="M8.8 -18.1L8.2 -17.9L7.8 -16.9L6.6 -11.8L7.2 -9.4L7.8 -8.8L8.8 -8.4L9.8 -9L10.2 -9.8L10.7 -11.8L9.8 -16.1L8.8 -18.1Z"/><path fill="#96d723" d="M8.8 -15.7L8.2 -15.5L7.8 -14.5L7.1 -11.8L7.7 -9.8L8.8 -9.2L9.8 -10L10.2 -11.8L9.8 -13.7L8.8 -15.7Z"/><path fill="#e1c80f" d="M8.8 -13.7L8.2 -13.5L7.6 -11.8L7.8 -10.8L8.2 -10.2L8.8 -10.1L9.2 -10.4L9.7 -11.8L9.2 -13.2L8.8 -13.7Z"/><path fill="#f0870f" d="M8.8 -12.5L8.2 -12.3L8.1 -11.8L8.2 -11.2L8.8 -11L9.2 -11.8L8.8 -12.5Z"/><g stroke-width="1" stroke-linecap="round"><path stroke="#7070e0" stroke-opacity=".42" d="M4.7 -43.8h0M36.8 -33.7h0M14.9 -35h0M29.7 -20.3h0M33.2 -25.7h0M28.9 -36.9h0M43 -3.9h0M36.8 -30.4h0M14.1 -22h0M10.6 -62.4h0M1.1 -20h0M14.6 -49.2h0M14.5 -18.1h0M13.5 -31.9h0M15.2 -53.8h0M18.9 -37.2h0M15.5 -63.5h0M19.2 -37.8h0M12.8 -53.5h0M2 -14.6h0M50.5 -37.4h0M33.1 -42.7h0M32.7 -36h0M4.7 -42.8h0M3.9 -31.7h0M1.6 -11.8h0M35.2 -30.6h0M28.3 -32.7h0M12 -69.6h0M35.6 -40.4h0M54.8 -57.3h0M46 -13h0M14.8 -20h0M32.9 -26.1h0M42.7 -49.7h0M43.6 -6.3h0M43.4 -31.7h0M11.8 -54.3h0M7.4 -63.4h0M34.4 -25.2h0M32 -25.8h0M3.8 -38.7h0M17.4 -2.3h0M37.4 -39.9h0M28.9 -14.6h0M23.8 -11.9h0M3.5 -30h0M16.5 -67.2h0M2.8 -17.1h0M43.8 -25.4h0M19.5 -32.6h0M21.3 -57.2h0M20.9 -1.7h0M43.8 -13.8h0M28.8 -4.4h0M44.8 -22.3h0M4.9 -38.9h0M31.1 -26.2h0M44.3 -25.2h0M51.1 -27.8h0M16.3 -17.3h0M8.9 -69.8h0M15.9 -52.6h0M39.9 -1h0M17.4 -14.7h0M12.7 -40h0M26.1 -39.5h0M9 -67.8h0M1 -29.5h0M46.1 -7.9h0M28.3 -37.6h0M12.1 -56.6h0M13.4 -35.4h0M54.2 -10.9h0M13.2 -41.6h0M22.1 -43.3h0M4.8 -66.4h0M42.6 -28.8h0M12.5 -40h0M44 -9.6h0M42.9 -48h0M23.3 -34.5h0M5.4 -1.8h0M33.1 -42.1h0M17.8 -32h0M11 -53.7h0M17 -15.9h0M27 -18h0M56.6 -39.6h0M45.8 -18.9h0M12.2 -51.6h0M19.1 -2.1h0M22.3 -23.3h0M43.1 -31.7h0M19.7 -20.3h0M33.4 -27.5h0M33.4 -21.1h0M58 -44.7h0M44.2 -24.6h0M25.8 -4.2h0M40.9 -29.8h0M5.1 -50.8h0M32.1 -17.5h0M44.2 -46.6h0M14.3 -40.6h0M14.2 -38.9h0M43.4 -2.3h0M20.7 -1.5h0M16.9 -44.9h0M43.9 -24.9h0M44.1 -19.6h0M15.5 -34.2h0M18.8 -39.9h0M23.1 -11.9h0M13.3 -46.3h0M1.3 -10.3h0M8.5 -63.6h0M4.3 -46.8h0M5.8 -57.2h0M14.5 -31.6h0M37.4 -28.1h0M34.3 -23.9h0M15.7 -37.5h0M36.6 -30.8h0M5.4 -54.5h0M13.4 -35.8h0M32.4 -44.9h0M33.8 -27h0M30.9 -15.3h0M15.5 -55.5h0M35.5 -31.5h0M15.2 -30.3h0M43 -20.9h0M9.6 -62.8h0M4.5 -31.1h0M2.1 -9.8h0M31.6 -39.9h0M34.4 -40.2h0M21 -13.6h0M41.2 -32.7h0M27.2 -55.4h0M55.7 -12.1h0M24 -4.5h0M29.7 -2.5h0M29 -20.4h0M47.5 -10.1h0M41.3 -3.3h0M13.9 -28.4h0M45.3 -14.6h0M2 -14.4h0M22.8 -10.9h0M4.7 -43.1h0M18.5 -27.9h0M4.8 -50.5h0M2 -27.5h0M18.8 -12.1h0M1.8 -10.2h0M16 -15.7h0M10 -1.5h0M11.3 -48.3h0M29 -61.3h0M2.9 -23.6h0M27.7 -37.9h0M41.6 -22.3h0M20.4 -36h0M35.1 -51.4h0M2.4 -43.5h0M45.6 -18.1h0M30.6 -28h0M41.6 -38.7h0M2.8 -10.5h0M48.8 -20.8h0M44.4 -5.9h0M3.5 -54.3h0M42.9 -24.6h0M32.8 -34h0M20.9 -26.2h0M18.8 -39.7h0M44.4 -13.6h0M43.6 -13.8h0M28.7 -28.5h0M47.2 -37.9h0M29.1 -14.1h0M18.3 -32.6h0M23.7 -4.8h0M3 -13.3h0M25 -43.9h0M35.5 -36.7h0M48.2 -50.1h0M4.3 -30h0M9.3 -60.3h0M43.9 -29.1h0M48 -58.5h0M44.9 -9.6h0M44.3 -9.2h0M27.3 -42h0M1.2 -2.2h0M40.6 -2.6h0M28.8 -20.5h0M31.6 -33.5h0M6 -49.7h0M27.6 -36.8h0M2.5 -15.6h0M40.3 -47.5h0M39.1 -30.5h0M43.5 -32.1h0M50.2 -14.6h0M27.7 -11.8h0M3.1 -46h0M20.8 -10.8h0M30.4 -31.4h0M1.4 -5.9h0M6.2 -60h0M20.5 -18.1h0M37.5 -58.1h0M41.8 -40.5h0M11.5 -53.7h0M34.5 -40h0M9.7 -58.9h0M33.9 -24.6h0M29.3 -31.4h0M24.4 -49.6h0M12.8 -35.1h0M27.2 -50.7h0M5.9 -51.9h0M33.8 -26h0M37.4 -31.5h0M7.1 -66.8h0M18.6 -2.9h0M39.5 -1.1h0M32.9 -59.6h0M24.6 -26.3h0M20.9 -57.4h0M34.1 -23.6h0M2.9 -43h0M20.4 -38.8h0M43.6 -25.8h0M30.1 -13.3h0M32.6 -55.8h0M51.8 -33.3h0M7.5 -61.4h0M43.6 -10.4h0M7.5 -59.8h0M36.4 -36.8h0M27.4 -4.6h0M50.7 -12.7h0M27.6 -12.9h0M7.3 -57.3h0M43.9 -7.7h0M47.7 -14.1h0M17.6 -19.7h0M34.5 -49h0M42.8 -42.8h0M32.8 -23.7h0M22.6 -11.4h0M29.6 -40.9h0M6.3 -52.3h0M23.8 -38.5h0M38.5 -29.8h0M35.6 -30.6h0M31.4 -14.7h0M5.5 -48.2h0M34.9 -46.6h0M36.6 -35.2h0M24 -45.9h0M14.9 -18.2h0M16.3 -2.8h0M3.4 -25.2h0M11.3 -68.3h0M47.3 -57.7h0M18.3 -4.2h0M25.5 -29.5h0M53.5 -45.7h0M2.6 -53.9h0M2.9 -45h0M13.8 -60.9h0M36.8 -36.7h0M47.3 -58.6h0M2.9 -50.7h0M24.5 -38.7h0M1.9 -12.2h0M31 -3.1h0M15.9 -45.2h0M26.6 -4h0M13.3 -51h0M21.6 -12.3h0M40.6 -29.7h0M30.3 -50.6h0M11.7 -48h0M16 -13.7h0M26.3 -1.2h0M13.9 -31.5h0M12.9 -45.4h0M4.7 -55.2h0M2.5 -34.2h0M28 -11.9h0M41.3 -23.4h0M19 -51.2h0M4.9 -48.8h0M27.5 -13.8h0M26.3 -10.8h0M2.2 -59h0M18.8 -14.9h0M46.5 -68.9h0M3.7 -27h0M17.1 -3.2h0M3.5 -30.5h0M21.8 -3.9h0M14.1 -28.6h0M16.6 -45.5h0M9.5 -62.4h0M19.8 -5.4h0M13.8 -31.2h0M43.7 -12.7h0M15.1 -15.3h0M28.4 -18.9h0M41.4 -28.9h0M3.1 -39.3h0M43.7 -47.7h0"/><path stroke="#5060dc" stroke-opacity=".6" d="M34 -15.2h0M7.1 -46.2h0M4.9 -30.1h0M40 -24.3h0M5.7 -38.3h0M8.8 -36h0M13.1 -17.3h0M33.8 -9.4h0M6.6 -30.8h0M31.3 -12h0M6.3 -25h0M11.2 -2.9h0M29.7 -6.6h0M8.6 -47h0M39.4 -6.7h0M7.4 -2.6h0M15.4 -7.1h0M4.6 -8.1h0M27.9 -7.7h0M27.2 -7.3h0M5.5 -33.1h0M9.2 -44.9h0M3.9 -18.7h0M36 -3.1h0M33.6 -9.2h0M35.5 -4.2h0M10 -39.6h0M32.9 -9h0M6.7 -49.8h0M42.1 -8.3h0M9.9 -41.1h0M23.1 -6.6h0M10.5 -3.9h0M13.1 -6.8h0M5.7 -33.7h0M12.9 -19.6h0M8.3 -4.3h0M42 -9.5h0M3.6 -13.5h0M11.6 -21.8h0M38.9 -17h0M9.2 -35.4h0M10.1 -41.5h0M40.1 -19.7h0M36.2 -16.7h0M42.7 -15h0M13 -7.2h0M36.5 -22h0M33.8 -3.3h0M34.4 -9.5h0M38.1 -4.4h0M28.7 -6.8h0M3.8 -10.9h0M35.7 -4.3h0M5.4 -29.8h0M16.8 -5.7h0M12.7 -23.2h0M15.3 -8.2h0M33.6 -17.6h0M11.6 -5.2h0M8.4 -58.5h0M11.8 -21.7h0M38.6 -4.1h0M6.9 -32.9h0M8 -44.1h0M33.6 -19.3h0M36.9 -4.5h0M9.2 -37.5h0M7.9 -39h0M13 -10.1h0M8.9 -51.4h0M40.7 -6.7h0M39.1 -5h0M36.1 -22.7h0M43.3 -15.5h0M9.7 -52.3h0M32.6 -9.8h0M7 -29h0M39.7 -2.2h0M37.2 -3.1h0M22.8 -6.6h0M11.7 -19.5h0M4.4 -15.7h0M30.9 -12.4h0M7.6 -46.6h0M15.1 -14.3h0M7 -47.1h0M16.4 -8.4h0M26.6 -8.7h0M40.9 -22.4h0M12.7 -6.1h0M32.2 -14.4h0M5.9 -42.3h0M7.6 -44h0M4.2 -13.1h0M10.1 -31.5h0M7.4 -38.2h0M36.5 -17h0M9.6 -5.7h0M6.1 -36h0M13.3 -25.4h0M13.8 -9.3h0M11.1 -46.8h0M38.7 -20.2h0M10.8 -39.9h0M37.8 -19.9h0M6.8 -4.9h0M13.1 -29.4h0M33.1 -13.8h0M30.5 -6.2h0M16.2 -10h0M3.5 -13.1h0M38.7 -1.7h0M21.7 -7.5h0M30.2 -10.8h0M39.1 -5.2h0M8.8 -39.8h0M39.7 -17.9h0M5.3 -32.7h0M10.7 -5h0M6.4 -30.4h0M7.2 -41.5h0M4.8 -25.8h0M35.4 -4.6h0M5.2 -26.6h0M28.7 -7.7h0M39.8 -3.2h0M27 -10.1h0M12.1 -36.2h0M33.9 -10.3h0M8.6 -35.7h0M6.6 -43h0M5.8 -5.7h0M10.3 -37.9h0M10.2 -37.4h0M32.1 -8h0M41.4 -19.1h0M11 -38.6h0M14.9 -9.2h0M42.9 -15.7h0M3.5 -16h0M5.4 -25.3h0M11.7 -29.5h0M12.8 -21.1h0M11.7 -23h0M29.1 -5.7h0M38.3 -24.8h0M5.2 -25.9h0M40.9 -19.4h0M17.2 -10.2h0M41.4 -22.2h0M40.8 -17.8h0M41.8 -10.2h0M11.9 -29.9h0M6.5 -33.7h0M24.4 -7.7h0M9.6 -52.4h0M10.1 -34.9h0M14 -8.7h0M40.2 -4h0M28.1 -6.7h0M36.1 -3.6h0M9 -35.1h0M5.3 -32.5h0M11.4 -31h0M5 -19.6h0M6.3 -35.9h0M42.1 -15.4h0M11.1 -35.8h0M13.6 -7.7h0M12.7 -23.2h0M33 -14.7h0M21.8 -7.3h0M4.8 -5.6h0M12.1 -23.1h0M4.9 -17.4h0M11.2 -32.2h0M4.4 -17.4h0M6.7 -29.2h0M8.9 -48.2h0M8.6 -52.6h0M35.6 -16.8h0M4.8 -28.1h0M15.8 -6.2h0M13 -8.4h0M29.2 -7.7h0M13.6 -6.5h0M13.8 -6.4h0M40.1 -17.3h0M13.4 -26h0M10.3 -43.6h0M34.1 -19.8h0M13.3 -25.8h0M13.7 -12.9h0M10.4 -54.3h0M5.8 -40h0M13.8 -9.6h0M35.7 -24h0M6 -23.4h0M5.9 -22.7h0M10.7 -25.5h0M25.3 -8.7h0M38.1 -19.9h0M9.5 -43.3h0M22.5 -6.9h0M41.2 -20.7h0M33.7 -15h0M39.5 -16.4h0M33.9 -17.5h0M11.3 -29.8h0M15.2 -12.6h0M39.4 -21.2h0M8.5 -4.7h0M6.9 -43.1h0M35.5 -13.2h0M31.1 -13.2h0M3.8 -15h0M6.4 -38.1h0M11 -47.4h0M38.6 -23.1h0M11.2 -37.6h0M15 -8.8h0M18.1 -6.2h0M5.1 -18.7h0M36.4 -2.1h0M33 -6h0M13 -29.1h0M36.4 -16.7h0M39.2 -22.3h0M13 -24.9h0M9 -54.7h0M14.5 -9.9h0M37.9 -18.7h0M4.5 -34.2h0M29.6 -7.8h0M41 -11.1h0M4.6 -21.8h0M38.2 -16.6h0M9.1 -56h0M33.4 -11.1h0M11.7 -25.7h0M37.9 -16.9h0M15.1 -8h0M33.2 -4.2h0M4.3 -7.7h0M5.8 -37.4h0M38.9 -18.1h0M32 -7.6h0M6.6 -50h0M40.9 -16.5h0M13.5 -7.5h0M37.4 -18.3h0M5.6 -6.5h0M37.4 -20.8h0M7.2 -32h0M15.3 -7.4h0M8.5 -33.7h0M19.8 -6.5h0M10.2 -46.1h0M12.1 -7.3h0M40.6 -21.2h0M31.3 -8.7h0M15.7 -12.3h0M25.1 -8h0M8.8 -2.7h0M39 -16.7h0M40.1 -8.4h0M6.6 -44h0M38.3 -26.4h0M35.5 -4.1h0M9.5 -34.4h0M31.8 -10h0M4 -7h0M8.7 -51.4h0M12.3 -13.9h0M7.7 -37.9h0M31.1 -4.6h0M4.2 -13.5h0M7.7 -37.8h0M13.7 -8.8h0M36.5 -2.9h0M11.5 -30.4h0M9.2 -47.4h0M35 -6.7h0M13.6 -11.5h0M10.7 -41h0M5.6 -21.4h0M12.1 -18.8h0M7.2 -44.9h0M10.5 -33h0M13.7 -14.9h0M9.7 -34.9h0M38.4 -3.1h0M9.3 -51.5h0M6.3 -36.8h0M11.3 -35.3h0M31.8 -10.9h0M10.4 -5.9h0M4.2 -10.7h0M5.6 -35.2h0M5.7 -36.6h0M43.1 -16.4h0M8.3 -43.7h0M9.3 -48.1h0M42.2 -16.2h0M6.6 -44.2h0M33.7 -4.1h0M4.4 -7.9h0M7.5 -38h0M42.1 -16.6h0M13.3 -15.2h0M38.4 -22h0M37 -22.9h0M33.2 -3.6h0M34.8 -15.6h0M8 -36.6h0M41.6 -15.8h0M10.7 -36.1h0M5 -9.3h0M9.5 -48.3h0M32 -11.6h0M11.8 -27.8h0M35.9 -3.2h0M40.5 -17.9h0M13.7 -12.9h0M9.2 -36.5h0M14.3 -7.6h0M39.8 -20.5h0M7.9 -56.1h0M7 -33.4h0M36.7 -19h0M8.6 -5.2h0M32.9 -12.6h0M40.2 -5.3h0M17 -7.9h0M8 -54.1h0M6.4 -33.8h0M4.7 -23.1h0M40.8 -16.9h0M28.6 -8.4h0M5.8 -25.1h0M4.2 -19.1h0M4.5 -8.3h0M8.5 -46.2h0M30 -10.3h0M34.7 -2.3h0M5 -22.1h0M39.8 -4.7h0M9.9 -37.7h0M8.5 -46.6h0M43.2 -11.1h0M12 -36.1h0M14 -11.1h0M41.3 -13.3h0M36.5 -6.5h0M33.8 -18.8h0M35.1 -5.5h0M9.2 -39.8h0M7.5 -36.2h0M7.7 -53.1h0M33.5 -5.7h0M14.9 -7.1h0M12.7 -30.5h0M4.9 -16h0M10 -47.1h0M9.6 -40.4h0M12.8 -26.1h0M5.8 -35h0M9.9 -49.8h0M8.6 -35.6h0M16.2 -9.7h0M39.6 -21.4h0M6.8 -50.8h0M7.4 -30.7h0M34.3 -22.8h0M12.7 -32.3h0M3.7 -22.3h0M10.1 -32.7h0M34.8 -20.8h0M8.7 -40.3h0M8.9 -46.9h0M9.1 -46h0M10.7 -49.3h0M6.2 -44.6h0M9.9 -52.9h0M38.9 -22.2h0M29 -7.9h0M10.1 -28.2h0M15 -6.4h0M33.1 -11.1h0M12.6 -5.9h0M4.6 -14.9h0M8.3 -49.9h0M13 -16.3h0M9.7 -46.3h0M41.9 -11h0M41.9 -14.8h0M10.4 -30.4h0M11.1 -38h0M39.5 -19.2h0M39.3 -18.8h0M10.8 -34.4h0M35.6 -4.6h0M9.1 -40.3h0M5.4 -29.2h0M8.9 -43.6h0M12.9 -22.2h0M34.7 -21.3h0M4.4 -19.5h0M32.7 -17.6h0M12.6 -18.7h0M34.8 -13.6h0M11.3 -38.2h0M38.3 -16.6h0M12.2 -4h0M39 -16.1h0M4.6 -6.4h0M5.8 -33.8h0M7 -37.2h0M8.2 -47.9h0M34.1 -13.3h0M40 -6.5h0M19.4 -10.7h0M6.9 -43.9h0M7.4 -33.7h0M9.1 -31.6h0M36.7 -19.9h0M39.1 -16.7h0M12.4 -6h0M41 -5.6h0M14.6 -14.9h0M7.5 -54.1h0M36.9 -2h0M37.1 -22.2h0M9.4 -38.7h0M35.3 -15h0M8.7 -53.3h0M31.6 -11.5h0M33 -14h0M36.6 -2h0M12.7 -27.5h0M5.6 -6.8h0M25.6 -8.1h0M36.8 -3.6h0M11.2 -26.6h0M9.9 -44.3h0M8.9 -48h0M15 -11.5h0M41.1 -17.1h0M18.5 -6h0M33.8 -13.9h0M31.8 -11.2h0M13.9 -7.5h0M12.4 -6.9h0M7.4 -50.1h0M41.5 -5h0M6.4 -34.6h0M11.4 -40.4h0M34.4 -10.6h0M13.8 -7.6h0M14.8 -11.6h0M8.4 -2.6h0M11 -41.1h0M34.3 -19.7h0M19.7 -6.1h0"/></g></g><g id="c2" filter="url(#bl)"><path fill="#d4d5f9" d="M9.2 -53.1L8.8 -52.7L8.2 -51.5L7 -45.2L5.5 -33.8L4 -19.2L3.4 -10.8L3.9 -7.2L4.8 -5.2L6 -3.8L7.2 -2.8L8.2 -2.4L9.8 -2.3L20.2 -5.5L23.2 -5.9L27.2 -5.9L29.8 -5.5L31.8 -4.9L37.2 -1.6L39.2 -1.4L40.8 -2L42.5 -3.8L43.9 -6.8L44.6 -10.2L44.7 -13.8L44.1 -18.2L42.9 -21.8L41.2 -24.8L39.8 -26L38.8 -26.2L37.8 -25.9L36.1 -24.2L34.5 -20.8L32.2 -13.6L31.2 -12.1L30.2 -11.3L28.8 -10.7L26.8 -10.4L21.8 -10.5L18.2 -11.8L17.2 -12.5L16.2 -13.7L15.3 -16.2L14.9 -18.8L13 -34.8L11.4 -46.2L10.2 -51.4L9.8 -52.6L9.2 -53.1Z"/><path fill="#a0a5f2" d="M9.2 -42.5L8.8 -42.2L8.2 -41L7 -35.2L5.6 -24.2L4.3 -11.8L4.6 -8.8L5.5 -6.2L7.2 -4.2L9.2 -3.5L11.2 -3.9L13.8 -5.8L14.9 -7.2L15.2 -9.2L13.8 -17.7L11.2 -36.5L10.2 -40.9L9.8 -42.1L9.2 -42.5ZM39.8 -20.9L38.8 -21.1L37.8 -20.7L36 -18.8L34.6 -15.2L33.6 -10.2L33.8 -8.2L34.6 -6.2L36.2 -4.4L38.2 -3.5L39.2 -3.5L40.2 -3.9L41.7 -5.2L42.9 -7.8L43.4 -10.8L43.4 -14.2L42.6 -17.2L41.2 -19.8L39.8 -20.9Z"/><path fill="#5f70e8" d="M9.2 -34.8L8.8 -34.5L8.2 -33.4L7.2 -29.1L5 -11.8L5.4 -8.8L6.1 -6.8L7.8 -5L9.2 -4.6L11.2 -5.2L12.9 -6.8L13.5 -8.2L13.8 -10.8L11.2 -28.9L10.2 -33.2L9.8 -34.4L9.2 -34.8ZM39.8 -18.4L38.2 -18.4L36.8 -17.1L35.7 -14.8L35.1 -11.8L35.2 -9.2L35.9 -7.2L37.2 -5.7L38.8 -5.2L40.2 -5.7L41.2 -6.8L42.1 -8.8L42.4 -10.8L42.4 -13.2L41.8 -15.8L40.8 -17.7L39.8 -18.4Z"/><path fill="#265cda" d="M9.2 -27.3L8.8 -27L8.2 -26L7.6 -23.8L5.8 -11.8L6 -9.8L6.8 -7.6L7.8 -6.4L9.2 -5.9L10.8 -6.3L12 -7.8L12.7 -9.8L12.9 -11.8L10.8 -24L9.8 -26.8L9.2 -27.3ZM39.2 -15.9L38.2 -15.7L37.4 -14.8L36.8 -13.2L36.6 -11.8L36.6 -10.2L37.1 -8.8L37.8 -7.9L38.8 -7.5L39.6 -7.8L40.2 -8.3L40.9 -9.8L41.2 -11.2L40.8 -14.3L40.2 -15.2L39.2 -15.9Z"/><path fill="#1496d7" d="M9.8 -22.3L9.2 -22.7L8.8 -22.4L8.2 -21.4L7.2 -17.5L6.3 -11.8L6.6 -9.8L7.2 -8.2L8.2 -7.1L9.2 -6.8L10.2 -7.1L11.2 -8L12 -9.8L12.2 -11.2L10.9 -18.8L9.8 -22.3ZM39.2 -13L38.8 -13.1L38.2 -12.2L38.2 -10.8L38.8 -10.1L39.2 -10.2L39.7 -11.2L39.7 -12.2L39.2 -13Z"/><path fill="#1ec3a0" d="M9.2 -19.3L8.8 -19L8.2 -18L6.9 -11.8L7.1 -10.2L7.7 -8.8L8.2 -8.1L9.2 -7.7L10.2 -8.1L10.9 -8.8L11.5 -10.2L11.7 -11.8L10.2 -17.8L9.8 -18.9L9.2 -19.3Z"/><path fill="#46d246" d="M9.2 -16.9L8.8 -16.6L8.2 -15.7L7.3 -11.8L7.8 -9.7L8.2 -9L9.2 -8.5L10.2 -8.9L10.8 -9.7L11.2 -11.8L10.2 -15.5L9.8 -16.5L9.2 -16.9Z"/><path fill="#96d723" d="M9.2 -14.9L8.8 -14.6L8.2 -13.7L7.7 -11.8L8.2 -10L9.2 -9.3L10.2 -10L10.7 -11.8L10.2 -13.5L9.8 -14.5L9.2 -14.9Z"/><path fill="#e1c80f" d="M9.2 -13.3L8.8 -13L8.2 -11.8L8.5 -10.8L9.2 -10.2L10 -10.8L10.2 -11.8L9.8 -12.9L9.2 -13.3Z"/><path fill="#f0870f" d="M9.2 -12.2L8.9 -11.8L9.2 -11.2L9.6 -11.8L9.2 -12.2Z"/><g stroke-width="1" stroke-linecap="round"><path stroke="#7070e0" stroke-opacity=".42" d="M34.9 -39.3h0M23.3 -3.3h0M17.4 -32.6h0M3.5 -19.3h0M11.1 -61.9h0M39.7 -36.7h0M14.4 -53.6h0M34.4 -1.9h0M22.3 -54.5h0M31.4 -13.3h0M44.5 -19.1h0M17.9 -59.3h0M21.2 -14.7h0M43.3 -25.1h0M5.7 -3.3h0M2.6 -19.7h0M2.6 -47.6h0M21.4 -4.8h0M41.4 -27.3h0M33 -2.2h0M23.4 -36.2h0M47.8 -17.4h0M15.8 -61.5h0M44.1 -36.2h0M6.7 -44.1h0M21.6 -24.2h0M17.6 -13.6h0M13.1 -44.1h0M13.3 -49.4h0M16.2 -15.7h0M16.6 -4.2h0M13.6 -31.4h0M17.8 -3.6h0M24.5 -16.6h0M20.4 -12.4h0M21.8 -11.1h0M17.9 -28.4h0M35.5 -42.7h0M20.7 -2.3h0M4.2 -27.1h0M44.1 -29.2h0M15.9 -69.1h0M39.3 -40.4h0M27.6 -25.4h0M12.3 -40.6h0M35.1 -23.9h0M28.8 -20.8h0M37.7 -34.3h0M14.4 -43.7h0M38.7 -34.4h0M26.3 -25.7h0M17.2 -27.4h0M6.6 -50.3h0M4.7 -27.5h0M31.4 -24.4h0M22.6 -1.6h0M40 -29.5h0M35.1 -28.1h0M13.2 -68.1h0M36.5 -36.6h0M15.2 -20.7h0M33.6 -24.1h0M28.6 -2.2h0M9.4 -53.4h0M14.4 -56.7h0M17 -47.7h0M23.1 -30.6h0M2.4 -55h0M27.1 -39.2h0M4.1 -39.2h0M29.3 -41.1h0M41 -33.4h0M32.4 -15.2h0M19 -51.5h0M17 -57.9h0M45.3 -12.6h0M36 -23.9h0M17.3 -43h0M3.6 -65.9h0M13.2 -57.5h0M45.5 -19.5h0M26.6 -37h0M20.7 -45h0M3.3 -21.2h0M8.1 -61.1h0M39.3 -26.2h0M38.4 -27.5h0M48 -22.4h0M27.8 -13.1h0M7.8 -55.6h0M3.3 -45.4h0M19.7 -54.6h0M46.6 -27.2h0M11.8 -51.8h0M27.1 -21.8h0M37.3 -27.2h0M35.7 -23.9h0M28.6 -40h0M40.2 -31.8h0M30.4 -43.4h0M6.5 -61.7h0M28.9 -20h0M29.2 -34.9h0M6.4 -66.5h0M31.9 -15.6h0M15.6 -53.8h0M5.9 -38.1h0M50 -40h0M40.1 -1.1h0M24.4 -26h0M20.7 -27.5h0M36.8 -33.9h0M23.3 -31.4h0M42.6 -26.6h0M16.7 -16.7h0M8.7 -56.3h0M29.8 -2.3h0M24.2 -53.4h0M46.9 -15.9h0M23.9 -11.8h0M22 -64.3h0M7 -49.6h0M34.9 -27.5h0M16.4 -1.4h0M13.6 -54h0M2.9 -10.3h0M42.6 -25.8h0M45.2 -51.9h0M31.2 -41.2h0M43.8 -26.8h0M12 -1.8h0M15.8 -22.9h0M9.7 -53h0M25.8 -5.1h0M26.6 -5.6h0M25.8 -12.6h0M23.1 -16.4h0M36.9 -26.6h0M10.4 -58.5h0M45.1 -10.2h0M42.2 -1.5h0M12.1 -47.2h0M15 -40.7h0M46.2 -25.7h0M32.1 -18.4h0M20.3 -2.9h0M36.5 -27.7h0M28.5 -16h0M45.4 -10.9h0M45.3 -8.7h0M41.6 -2.6h0M46.9 -27.4h0M26.4 -44h0M3.9 -24.8h0M16.2 -26.6h0M38.2 -26.6h0M30.4 -24.3h0M14.5 -28.5h0M15.5 -32.8h0M4.7 -35.1h0M11.4 -56h0M32.9 -16.9h0M4.8 -52.7h0M23.2 -36.8h0M14.5 -19.9h0M9.9 -69.6h0M25.4 -17.6h0M30.5 -25.6h0M23 -17.4h0M43.9 -5.5h0M41.8 -27.6h0M20.4 -26.5h0M35.3 -34.6h0M41.1 -25.6h0M47.2 -19.8h0M28.8 -13.9h0M43.8 -31.1h0M43.1 -25.4h0M28 -39.2h0M45.7 -17.6h0M28.5 -25h0M31.7 -32.7h0M45.3 -36.3h0M9.2 -56.6h0M19.9 -38.7h0M17.1 -18.9h0M5.4 -3.8h0M36.6 -26.3h0M4.8 -40.5h0M20.6 -59.8h0M40.4 -44.9h0M6.8 -48.7h0M44.9 -5.4h0M3.6 -7.3h0M17.1 -43.1h0M29.8 -4.1h0M19 -20h0M46.2 -58.2h0M17.5 -30.2h0M3.1 -3.3h0M13.4 -37.1h0M45 -20.8h0M14 -47.9h0M17.7 -40.5h0M36.7 -34.7h0M13.1 -38h0M38.9 -36h0M44.2 -23.5h0M36.1 -27.7h0M54.4 -50.6h0M11.3 -50.3h0M42.7 -26.1h0M22.5 -14.5h0M15.7 -25.9h0M3.9 -34.9h0M31 -47.8h0M16.2 -23.5h0M10.7 -58.1h0M21.3 -3.6h0M26.2 -11.1h0M18 -62.1h0M24.5 -47.6h0M51.8 -44.2h0M27.7 -11.1h0M30.4 -19.2h0M24.8 -19.7h0M26.7 -17.3h0M19.9 -18.3h0M26.4 -25.5h0M41.6 -31.5h0M29.8 -31.1h0M45.4 -33.6h0M17.1 -17.4h0M40.3 -36.6h0M25.4 -13.5h0M4.5 -34.9h0M50.7 -11.3h0M21.2 -68.7h0M18.8 -17.2h0M42.2 -30.5h0M29.2 -48h0M11.3 -53.2h0M32.4 -51.2h0M16 -14h0M15.9 -47.4h0M43.3 -21.1h0M20.1 -39.2h0M13.1 -3.5h0M27.4 -20.7h0M9.2 -67.9h0M26.5 -44.8h0M19.8 -17.1h0M3.4 -11.3h0M36.9 -1.1h0M9.6 -54.8h0M17.6 -13.8h0M23.1 -4.8h0M18 -3.8h0M10.3 -56.7h0M1.6 -24.9h0M39.7 -34h0M36.6 -28.5h0M14 -42.4h0M14.6 -19.7h0M32.9 -31.5h0M25.5 -3.3h0M25.1 -36.1h0M21.3 -26.6h0M31.2 -22.6h0M24.8 -13h0M15 -30.8h0M18.4 -61.9h0M7 -62.9h0M65.5 -40.8h0M15.6 -20.5h0M40.9 -30.3h0M28.7 -2.8h0M21 -25.3h0M39 -30.2h0M33.7 -20.2h0M16.3 -30.9h0M24.8 -11.4h0M8.2 -53.9h0M31 -2h0M31.9 -36.3h0M42.8 -34.1h0M40.4 -45.4h0M23 -19.6h0M39.3 -29.8h0M5.2 -3.4h0M42.9 -28.9h0M46.9 -32.7h0M14.7 -36.2h0M25.3 -23.6h0M21.2 -1.7h0M17.3 -61.2h0M27.9 -50.4h0M20.1 -4.6h0M14.3 -51.6h0M19.9 -5.4h0M3.6 -50.2h0M39.1 -38.9h0M17.6 -12.2h0M18.9 -3h0M25.4 -4.1h0M7.4 -54.2h0M37.9 -26.3h0M37.7 -1.2h0M27 -1.9h0M24.3 -23.7h0M20.6 -28.3h0M34.5 -30.7h0M20.7 -46.4h0M37 -29.7h0M31.8 -23.8h0M26.3 -32.3h0M42.6 -28.5h0M9.5 -55.9h0M38.7 -26.1h0M27 -53.5h0M33 -17.9h0M13.6 -33.6h0M7.1 -67.2h0M34.8 -22.7h0M51.8 -22.6h0M3.9 -25.5h0M46.2 -3.5h0M19.1 -32.4h0M22 -3.5h0M22.9 -25.4h0M43.8 -24.2h0M16.3 -48.8h0M15.9 -16.9h0M36.8 -34.8h0M11 -48.8h0M8.3 -55.7h0"/><path stroke="#5060dc" stroke-opacity=".6" d="M12.6 -31.5h0M41.7 -13.8h0M5.2 -24.8h0M39.1 -6.3h0M43.6 -13.7h0M9.9 -41.8h0M13.4 -23.5h0M11 -46.2h0M4.5 -16.4h0M23.6 -9.3h0M6.5 -22.6h0M9.2 -48.9h0M11.8 -35.6h0M7.1 -37.2h0M32.5 -9.8h0M11.9 -38.4h0M23.2 -10.4h0M7.8 -30.1h0M33.1 -4.3h0M28.3 -10h0M4.8 -14.6h0M21.8 -7.1h0M29.3 -10.4h0M19.1 -8.1h0M34 -13.8h0M35.8 -17.4h0M13.8 -14.1h0M9.4 -42.6h0M13.5 -17.4h0M35.5 -14.2h0M11.1 -33.1h0M11.2 -39h0M4.8 -19.3h0M16.8 -8.4h0M22.4 -10.4h0M39.9 -19.3h0M43.8 -8.2h0M41.8 -16.8h0M31.6 -10.3h0M20.1 -8.3h0M30.6 -10.2h0M4 -19.1h0M40 -19.1h0M37.7 -19.6h0M29.4 -8.3h0M9.2 -52.7h0M8.7 -30.3h0M10.6 -43.5h0M39.8 -20.8h0M18.8 -11.2h0M42.1 -8.3h0M8.8 -30.1h0M6.7 -33.9h0M42.1 -10.2h0M41.1 -6.7h0M6.7 -25.5h0M13.3 -19.4h0M10.5 -33h0M37.6 -1.5h0M43.6 -8.1h0M7.1 -30h0M6.5 -37.9h0M43.6 -12.9h0M32 -11.4h0M6.8 -27.5h0M8.2 -45.2h0M38.9 -21.6h0M14.1 -13.8h0M17 -12h0M7.9 -38.5h0M14.1 -18.8h0M34.7 -7.4h0M14.3 -8.4h0M43 -15.3h0M30.9 -7.3h0M39.5 -18.1h0M6.7 -32.4h0M37.3 -6.9h0M12.7 -24.8h0M38.1 -4.8h0M4.3 -10.3h0M40.7 -17.6h0M36.2 -21.7h0M38.9 -20.9h0M41.4 -18.8h0M33.6 -15.2h0M38.7 -22.7h0M33.6 -11.3h0M4.5 -9.6h0M11.8 -23.1h0M42.9 -6.3h0M35.6 -13.2h0M42.9 -7h0M8.4 -28h0M9.1 -4.3h0M36.5 -18.5h0M14 -23.4h0M37.6 -22.1h0M37.2 -23.6h0M41.3 -16.2h0M33.7 -8h0M14 -12.9h0M35 -18.6h0M34.9 -10h0M15.4 -9.4h0M7 -22.8h0M39.9 -22.1h0M13.2 -22.2h0M7.7 -37.7h0M14.3 -15.1h0M9.3 -30.1h0M6.1 -27.4h0M22.5 -8.7h0M36.5 -17.6h0M6.9 -25.8h0M11.6 -39.2h0M12.5 -19h0M7.8 -41.5h0M8.6 -48.9h0M17.3 -6.5h0M6.5 -42.6h0M6.4 -17.8h0M7.2 -44.1h0M10 -38.8h0M11.8 -30.3h0M6.5 -8.1h0M43 -14.4h0M6 -14h0M41.4 -7.5h0M7.9 -46.1h0M40.5 -20.2h0M13.8 -22.6h0M37.1 -3.9h0M35.9 -14.5h0M38.5 -19h0M8 -38h0M18.4 -5.6h0M14 -12.5h0M5.7 -6.2h0M12.9 -25.5h0M36.4 -17.7h0M11.3 -30.6h0M7.4 -33h0M43.6 -12.7h0M18 -7.9h0M14.3 -15.3h0M5.3 -18.1h0M13.7 -19h0M15 -12.5h0M14.2 -17.2h0M7.6 -34.6h0M15 -13.9h0M41.3 -9.5h0M10.9 -27.7h0M35.7 -9.8h0M27.8 -6.6h0M17.5 -11.4h0M7.9 -27.7h0M14.2 -17.7h0M36.8 -15.1h0M7.3 -29h0M37.8 -6.3h0M13.9 -11.7h0M11.2 -32.8h0M6.8 -34.7h0M35.3 -5.1h0M9.5 -35.9h0M4.4 -20.8h0M32.2 -7.4h0M9.2 -52.3h0M42.3 -18.6h0M11.4 -26h0M13 -14.3h0M9.9 -37.9h0M15.3 -10.6h0M38.5 -25.1h0M6.9 -23.6h0M15.1 -6.8h0M6.5 -38.1h0M13.2 -20.9h0M43.5 -8.3h0M36.8 -6.9h0M43.4 -7.8h0M36.8 -16.8h0M42.4 -7.3h0M6.3 -35.7h0M42.9 -7.5h0M38.6 -4.8h0M6.7 -31.9h0M13.3 -24.9h0M34.6 -8.4h0M43.3 -6.6h0M34.9 -17.5h0M5.5 -6.8h0M11.6 -28.3h0M10.5 -28.3h0M41.8 -19.5h0M41.4 -23.5h0M4.6 -7.2h0M8.8 -44.2h0M12.8 -24.3h0M7.7 -3.8h0M10.9 -27.1h0M32.1 -10.2h0M15 -5h0M10.9 -40.1h0M11.4 -5.1h0M6.3 -33h0M13.3 -5.6h0M8.9 -3.6h0M15.4 -10.4h0M8.2 -30.4h0M5.6 -25.4h0M16.7 -8.6h0M8.2 -37.5h0M8.7 -47h0M43.1 -19.2h0M5.9 -21.6h0M38.6 -24.4h0M6 -16.1h0M9.2 -3.5h0M16.3 -5.1h0M27 -10.2h0M36.2 -9.5h0M14.8 -13.4h0M10.7 -48.3h0M15.7 -10.8h0M38.8 -2.3h0M12.6 -20.8h0M11.8 -33.6h0M40.1 -23.9h0M10.2 -4.4h0M43.6 -8.1h0M4.1 -14.2h0M10 -49.3h0M34.4 -14.8h0M14.5 -10.3h0M5.6 -22.8h0M34.3 -5h0M12 -6.4h0M43.2 -14.4h0M23 -7.5h0M6.3 -5.2h0M11.6 -30.6h0M10.9 -45.2h0M8 -35.5h0M37.9 -19.9h0M18.4 -7.8h0M6.5 -26.9h0M41.6 -6.5h0M7.9 -48.7h0M6.8 -32.3h0M37 -2.4h0M21 -7.1h0M35.4 -17.3h0M4.6 -6.7h0M13.1 -30.1h0M38.9 -5.8h0M6 -28.2h0M35.8 -16.9h0M5 -22.6h0M6 -28.9h0M36 -11.7h0M13.3 -6.2h0M9.6 -31.8h0M23.3 -7.8h0M11.4 -29.1h0M6.1 -28.7h0M36.2 -18h0M24.3 -9.5h0M7.8 -28.5h0M3.8 -10.3h0M6.8 -30.1h0M7.6 -37.8h0M5.7 -34.9h0M10.7 -40.6h0M17.8 -9h0M39.9 -5.1h0M34.9 -20.1h0M6.9 -4.4h0M3.8 -9.2h0M9.3 -41.1h0M9.1 -47.2h0M11.5 -46h0M27.8 -8.9h0M18.2 -7h0M34.8 -16.8h0M5.5 -15.4h0M9.4 -30h0M9.2 -38.3h0M35.1 -3.4h0M34.1 -18.6h0M33.4 -12.8h0M38.2 -3.2h0M38 -2.9h0M16.8 -5.3h0M13.7 -9.8h0M5.7 -22.5h0M17.3 -12.4h0M8.5 -36.7h0M35.6 -2.9h0M37.6 -22.7h0M41.2 -23.7h0M10.4 -27.1h0M39.1 -22.1h0M33.4 -5h0M16.5 -4.8h0M32.6 -6.9h0M25.6 -7.4h0M5.4 -8.9h0M35.8 -10.4h0M39.1 -21h0M44.4 -15.4h0M33 -14h0M9.3 -43.8h0M15 -10h0M34.8 -6.9h0M36.4 -9.9h0M11.4 -4.5h0M7.9 -38.4h0M13.5 -26.4h0M13.8 -5.3h0M7.1 -4.9h0M15 -16.2h0M10.2 -33.9h0M12.8 -31.7h0M8.4 -4.4h0M18.8 -8.6h0M12 -25h0M12.5 -9h0M38.7 -21h0M38.3 -17h0M42.9 -18.1h0M42.5 -17.2h0M7.7 -37.4h0M7 -28.3h0M34.6 -12.3h0M39.5 -23.9h0M12.5 -17.4h0M7.4 -34.4h0M7.6 -28h0M14.5 -6.2h0M6.4 -6.1h0M7.2 -34.3h0M15.2 -10.9h0M9.5 -37.8h0M13.4 -15h0M37.2 -5.1h0M8.9 -45.6h0M41.6 -20.6h0M32.4 -5.9h0M35.3 -19.1h0M33.8 -8.9h0M10.3 -5.7h0M16.5 -8.6h0M11 -45.6h0M36.6 -18.2h0M19.5 -9.3h0M6.7 -34.5h0M7.7 -41.9h0M39.4 -5.4h0M15.5 -13.2h0M3.6 -9.6h0M8.1 -41.4h0M8.1 -38.5h0M20.2 -8.7h0M33.7 -10.3h0M33.3 -10.7h0M9.8 -32.8h0M7 -5.6h0M15.7 -10.7h0M12.2 -20.2h0M42.6 -16.1h0M43.1 -16.9h0M33.7 -5.7h0M30.8 -10.5h0M9.3 -49.2h0M35.9 -14.5h0M38.3 -18.9h0M11.5 -26h0M3.9 -8.5h0M12.5 -27.7h0M10.3 -41.7h0M20.6 -6.5h0M4.3 -14.6h0M7.1 -41h0M8.9 -33.6h0M40.9 -19.1h0M40.1 -5.6h0M11.9 -31.2h0M7.5 -29.7h0M35.5 -16.8h0M12.7 -7.8h0M6 -29.4h0M11.5 -31.4h0M6.8 -4.7h0M7.8 -48.1h0M23.4 -7.4h0M38.3 -5.9h0M7.5 -37.3h0M32.2 -10.3h0M13 -32.7h0M9.9 -3.9h0M32.1 -6.2h0M42 -9.8h0M12.2 -33.7h0M43.7 -17h0M7.3 -32.1h0M39.5 -4.4h0M33.1 -7.3h0M15.2 -7.9h0M34.9 -16h0M6.8 -4.8h0M16.2 -9.8h0M4.4 -9.9h0M31.5 -11.7h0M24.8 -6.4h0M12.8 -19.9h0M42.6 -18.8h0M36.4 -20.7h0M42 -7.8h0M14.6 -7h0M6.4 -27.9h0M9.7 -45.2h0M35.8 -20.7h0M15.7 -7.1h0M4.8 -8.2h0M42.1 -20.4h0M40.9 -4.9h0M12.3 -28.3h0M35.5 -14.7h0M12.8 -34.2h0M7.3 -3.5h0M10.3 -32h0M8.8 -49.3h0M8.3 -28.5h0M6.6 -24.7h0M36.9 -18.8h0M32.7 -11.1h0M25.5 -8.4h0M5.9 -24.3h0M35.1 -14.8h0M40.8 -19.5h0M10.8 -5.5h0M10.5 -32.2h0M13.9 -6.5h0M9 -39.9h0M28.3 -8.8h0M8.4 -3.3h0M21.4 -9.5h0M7.6 -39.8h0"/></g></g><g id="c3" filter="url(#bl)"><path fill="#d4d5f9" d="M10.8 -52.8L10.2 -52.7L9.8 -51.8L8.7 -47.2L6.1 -26.8L4.7 -11.8L5 -8.2L5.9 -5.8L7.8 -3.4L9.2 -2.5L10.2 -2.3L12.2 -2.5L16.8 -4.3L20.8 -5.5L25.8 -6.1L28.8 -5.8L31.2 -5.2L35.8 -2.3L37.2 -1.7L38.8 -1.5L40.2 -1.9L42.2 -3.7L43.6 -6.2L44.4 -9.8L44.6 -13.2L44 -17.8L43 -21.2L41.2 -24.5L39.8 -25.8L38.8 -26L37.8 -25.8L36.8 -25L35.8 -23.8L34.4 -20.8L32.2 -13.7L31.2 -12.1L30.2 -11.2L27.2 -10.3L23.2 -10.4L19.8 -11.6L17.8 -13.3L16.8 -15.5L16.2 -17.9L14 -36.8L12.5 -46.8L11.8 -50.5L10.8 -52.8Z"/><path fill="#a0a5f2" d="M10.8 -42.2L10.2 -42.2L9.8 -41.4L8.4 -35.8L7 -25.2L5.6 -11.8L6 -8.2L7.1 -5.8L8.8 -4.1L10.8 -3.5L12.8 -4.1L15 -5.8L16.1 -7.2L16.4 -9.2L15.2 -16.1L12.6 -35.8L11.8 -40L10.8 -42.2ZM39.8 -20.8L38.8 -21L37.8 -20.7L36.8 -19.9L35.9 -18.8L34.5 -15.2L33.6 -10.8L33.7 -8.2L34.5 -6.2L36.2 -4.4L38.2 -3.5L39.2 -3.6L40.2 -4L41.5 -5.2L42.7 -7.8L43.3 -10.8L43.2 -14.2L42.5 -17.2L41.2 -19.6L39.8 -20.8Z"/><path fill="#5f70e8" d="M10.8 -34.5L10.2 -34.5L9.8 -33.7L8.8 -30L7.5 -22.2L6.3 -11.8L6.6 -9.2L7.5 -6.8L8.8 -5.2L10.8 -4.6L12.6 -5.2L14.1 -6.8L14.9 -8.8L15.1 -10.8L12.5 -28.8L11.8 -32.4L10.8 -34.5ZM39.8 -18.3L38.2 -18.4L36.8 -17.1L35.6 -14.8L35.1 -12.2L35.1 -9.8L35.6 -7.8L36.8 -6.1L38.2 -5.3L39.8 -5.5L40.8 -6.4L41.8 -8.2L42.3 -10.8L42.3 -13.2L41.9 -15.2L40.9 -17.2L39.8 -18.3Z"/><path fill="#265cda" d="M10.8 -27L10.2 -27L9.8 -26.2L9 -23.8L7.1 -11.8L7.4 -9.2L8.2 -7.4L9.2 -6.3L10.8 -5.9L12.2 -6.5L13.3 -7.8L14 -9.8L14.1 -11.8L12.2 -22.9L11.5 -25.8L10.8 -27ZM38.8 -15.8L37.8 -15.2L37.2 -14.5L36.8 -13.2L36.5 -11.2L36.7 -9.8L37.2 -8.5L37.8 -8L38.8 -7.6L39.8 -8L40.3 -8.8L40.9 -10.2L41 -11.8L40.9 -13.2L40.3 -14.8L39.8 -15.5L38.8 -15.8Z"/><path fill="#1496d7" d="M10.8 -22.4L10.2 -22.4L9.2 -20.3L7.7 -11.8L8 -9.8L8.6 -8.2L9.8 -7.1L10.8 -6.9L11.8 -7.3L12.8 -8.5L13.4 -10.2L13.5 -11.8L12.1 -19.2L11.2 -21.7L10.8 -22.4ZM38.8 -12.8L38.2 -11.8L38.2 -11L38.8 -10.5L39.2 -10.7L39.4 -11.8L39.2 -12.5L38.8 -12.8Z"/><path fill="#1ec3a0" d="M10.8 -18.9L10.2 -18.9L9.2 -16.8L8.2 -11.8L8.4 -10.2L9.1 -8.8L9.8 -8L10.8 -7.8L11.7 -8.2L12.2 -9L12.7 -10.2L12.9 -11.8L11.8 -17L10.8 -18.9Z"/><path fill="#46d246" d="M10.8 -16.6L10.2 -16.6L9.8 -15.9L8.6 -11.8L9.2 -9.5L9.8 -8.9L10.8 -8.6L11.2 -8.8L12 -9.8L12.5 -11.8L11.8 -14.7L10.8 -16.6Z"/><path fill="#96d723" d="M10.8 -14.6L10.2 -14.5L9.8 -13.9L9.1 -11.8L9.8 -9.8L10.8 -9.4L11.6 -10.2L12 -11.8L11.2 -14L10.8 -14.6Z"/><path fill="#e1c80f" d="M10.8 -13L10.2 -12.9L9.7 -12.2L9.7 -11.2L10.2 -10.5L10.8 -10.4L11.3 -11.2L11.3 -12.2L10.8 -13Z"/><g stroke-width="1" stroke-linecap="round"><path stroke="#7070e0" stroke-opacity=".42" d="M43.7 -24h0M42.2 -27.4h0M10.8 -2.1h0M26.1 -3h0M67.1 -38.4h0M5.6 -31.7h0M15.6 -31h0M16.5 -57h0M13.5 -64.5h0M2.7 -16.5h0M21.1 -11h0M11 -56.6h0M21.6 -25.1h0M16.6 -30.5h0M40.8 -38.4h0M22.9 -61.5h0M3.4 -44h0M5.1 -48.2h0M9 -58.5h0M40.7 -27.1h0M29.4 -3.9h0M47.9 -27.8h0M39.1 -28.9h0M10.1 -54.9h0M18.7 -16.1h0M17.9 -4h0M23.2 -66.1h0M42.6 -33.9h0M17.5 -22h0M23.4 -35.6h0M3.7 -38.8h0M35.2 -29.7h0M49.9 -14.4h0M54.6 -12.6h0M30.9 -21.5h0M11.6 -56.9h0M27.4 -4.8h0M17.2 -35.2h0M24.2 -18.2h0M8.9 -51.4h0M42 -30.2h0M22.9 -12.2h0M7.3 -67.7h0M27 -14.3h0M15.5 -27.9h0M26.2 -3.9h0M33 -38.6h0M3.4 -42.6h0M39 -29.7h0M8.2 -65.6h0M34.7 -21.9h0M21.8 -14.1h0M31.4 -12.2h0M24.1 -11.4h0M41.2 -27.1h0M46.3 -19.6h0M17 -27.5h0M11.9 -65.5h0M35.7 -26.1h0M14.5 -39.8h0M28.5 -13.4h0M18.8 -15h0M45.6 -21.8h0M4.3 -52.6h0M30.5 -3.5h0M4.1 -28h0M.8 -19.1h0M48.5 -32.2h0M9.4 -53.7h0M29.3 -2.2h0M12.2 -66.3h0M38.6 -33.3h0M10.4 -56h0M34.6 -21.7h0M24.6 -69.9h0M2.1 -14.6h0M5.8 -32.3h0M16.4 -24h0M35.8 -28.2h0M25.7 -4.3h0M22.7 -10.9h0M31.7 -45.3h0M15.8 -30.6h0M44.6 -6.3h0M52.7 -26.5h0M22.5 -21.9h0M34.9 -37.8h0M46.4 -19.9h0M28.2 -16.8h0M10.9 -54.5h0M9.5 -2.4h0M42.9 -4.4h0M49.4 -33.7h0M5.1 -5.5h0M15.3 -45.3h0M22 -15.7h0M45.2 -11.4h0M44.6 -28.5h0M31.6 -5h0M34.4 -28.8h0M45.2 -13.9h0M16.9 -19.3h0M33.2 -4h0M19 -26.4h0M43.4 -2.6h0M45.3 -12.9h0M48.2 -8.8h0M27.5 -4.7h0M7 -39.5h0M33.3 -19.2h0M4.8 -1.2h0M22.2 -2.8h0M45.8 -21.6h0M19.9 -37.9h0M45 -48.9h0M23.4 -55.3h0M34 -50.9h0M49.6 -29.4h0M14.1 -59.6h0M.9 -40.2h0M10.8 -55.6h0M18.2 -42h0M24.4 -16.1h0M27.7 -14h0M57.3 -47.3h0M17.8 -51.7h0M38.2 -28h0M34.1 -26.5h0M7.5 -62h0M38.1 -31.2h0M4.8 -64.2h0M43.8 -2.8h0M16.9 -18.4h0M20.4 -44.5h0M33.1 -18.6h0M14.6 -35.5h0M18.5 -23.7h0M28.6 -26.7h0M29.8 -39.3h0M32.6 -22.8h0M4.6 -8.6h0M28.7 -4.2h0M3.5 -53.4h0M17.6 -34h0M8.2 -51.7h0M5 -31.3h0M40.9 -31.7h0M40.3 -47.3h0M26.5 -2.1h0M11.5 -57h0M16.3 -23.7h0M16.4 -25.5h0M32.7 -35.5h0M19.3 -34.2h0M41.3 -37.6h0M54 -20.9h0M9.8 -55.1h0M38.1 -28.1h0M4.6 -23.7h0M27.3 -38.6h0M5.1 -23.8h0M46.6 -11.2h0M43.4 -5.2h0M4.1 -62.5h0M46.3 -23.7h0M2.2 -18.2h0M24.8 -16h0M37.7 -35.7h0M27.5 -2.8h0M15.2 -34.5h0M25.1 -31.7h0M27.1 -41.3h0M37.8 -28h0M13.5 -48.4h0M20.5 -5.2h0M9.2 -61h0M30.8 -38.4h0M1.6 -59.3h0M21.4 -51.7h0M33.1 -1.9h0M22.5 -12.5h0M16.4 -39.6h0M25.9 -12.4h0M32.9 -23.3h0M22.5 -53.8h0M11.1 -65.2h0M43.3 -37.4h0M46.9 -27.5h0M4.5 -47h0M18 -48.7h0M29 -17h0M22.8 -36.3h0M38.5 -1.2h0M47.4 -19.2h0M10.7 -68.3h0M16.1 -19.3h0M38.2 -40.9h0M39.2 -26.4h0M4 -31h0M35.3 -31.6h0M46.6 -3.7h0M12.3 -2.4h0M21.5 -24.4h0M25.3 -2.1h0M14.7 -33.8h0M13.6 -55.8h0M52 -35.5h0M39.6 -31.1h0M2.8 -6.8h0M8.8 -63.4h0M50.4 -6.5h0M28.9 -1.5h0M18.5 -19.7h0M12.7 -55h0M17.9 -68.9h0M11.9 -61.5h0M43.8 -40.8h0M9.3 -51.1h0M31.6 -34.1h0M44.1 -29.1h0M42.5 -24.5h0M20 -53.3h0M41.5 -37.4h0M18.7 -15.9h0M18.1 -3.9h0M37.4 -37.2h0M52.4 -25.5h0M19.6 -52.8h0M36.7 -1.8h0M41.6 -1.7h0M23.5 -42h0M5.1 -47.2h0M40.8 -30.8h0M47.6 -34.2h0M37.3 -29.5h0M2.6 -59.3h0M31.5 -12.8h0M16.9 -38.9h0M14 -42.2h0M4.6 -17.8h0M17.7 -19.2h0M18.8 -2.9h0M1.5 -46.1h0M2.3 -38.3h0M16.7 -34.1h0M23.2 -40.6h0M26.7 -10.1h0M5 -53.1h0M5 -45.2h0M30.2 -3.9h0M30.5 -5.3h0M31.4 -35.7h0M40.9 -29.7h0M12 -2.1h0M3.4 -25.3h0M14.6 -53.6h0M16 -18.7h0M42.4 -38.1h0M9 -52.1h0M11.6 -66.3h0M18.6 -4.7h0M4.1 -57.2h0M45.8 -8.5h0M22.5 -11.9h0M26.8 -32.5h0M23.4 -23.3h0M48.4 -25.4h0M6.2 -34.3h0M22 -3.9h0M20.4 -2.5h0M45.8 -12.7h0M28.9 -3.4h0M4.9 -29.5h0M37.4 -27.9h0M2.5 -14.1h0M55.1 -17.7h0M26.3 -1.4h0M49.2 -51.2h0M23.8 -33.1h0M3.8 -15.9h0M15.5 -2.1h0M20.8 -20.9h0M48.7 -23.9h0M21.2 -12.8h0M46.4 -8.8h0M43.5 -58.3h0M19.7 -20.5h0M13.5 -43.7h0M15.7 -51h0M5.8 -37.6h0M29.5 -31.9h0M26.1 -25.3h0M16.2 -23.4h0M15.6 -50.2h0M33.3 -4h0M15.4 -51.1h0M6 -36.7h0M18.1 -12.6h0M9 -57h0M45.8 -47.3h0M10.6 -56h0M35.7 -28.4h0M42.8 -64.5h0M16.7 -20.7h0M1.2 -18.3h0M42.8 -23.2h0M16.6 -37.8h0M32.3 -39.1h0M32.1 -3.8h0M19.2 -18h0M7.4 -41.9h0M28.8 -4.9h0M26.3 -10.5h0M5.7 -34.2h0M13.4 -66.8h0M16.5 -29.6h0M40.3 -31.8h0M22 -10.9h0M55.6 -38h0M3.5 -12h0M28.9 -10.8h0M21.9 -48.4h0M31.8 -12.7h0M5.7 -5.6h0M31.2 -24.6h0M17.3 -39.7h0M30 -27.6h0M13.8 -53.2h0M10 -58.4h0M17.2 -35.4h0M7.4 -55.2h0M16.9 -41.7h0M29.9 -30h0M9.4 -52.4h0M4 -41.7h0M34.7 -27.4h0M21.6 -13.5h0M25.6 -67.9h0M23.1 -39.4h0M12.7 -46h0M28.3 -13.4h0M18.9 -30.7h0M25.4 -41.3h0M31.8 -41.2h0M10.3 -58.4h0M14 -56.3h0M43.6 -5.2h0M30.1 -4.5h0M12.9 -45.8h0M17.5 -40.5h0M36.1 -30.7h0M13.2 -57.7h0M25.7 -41.6h0M42.5 -36h0M42.5 -41.8h0M24.1 -58.6h0M3.7 -37h0M1.8 -51.9h0M18 -39.6h0M14.7 -36.4h0M27 -12.1h0M62.8 -51.9h0M38.9 -31.2h0M43 -39h0M22.9 -13.8h0M18 -19.8h0M6 -28.6h0"/><path stroke="#5060dc" stroke-opacity=".6" d="M6.6 -18.3h0M40.3 -4.6h0M34.7 -14.3h0M11.5 -44.8h0M10.7 -42.9h0M24.7 -7.7h0M30.4 -6.8h0M12.3 -29.9h0M6.7 -7.1h0M16.4 -12.3h0M13.5 -24.3h0M5.8 -17.2h0M29.3 -6h0M7.3 -16.4h0M11.3 -36.1h0M36.9 -17.2h0M8 -30.9h0M37.6 -4.2h0M8.6 -33.6h0M14.5 -6.9h0M43.3 -15.2h0M12.4 -31.9h0M6.6 -30.1h0M40.4 -6.4h0M29.6 -8.2h0M17.7 -8.4h0M37.5 -19.2h0M6.9 -27.5h0M12.4 -36.4h0M42 -7h0M6.5 -15h0M11.5 -29.3h0M37 -4.3h0M34 -6.2h0M9.7 -45.3h0M32.5 -5.6h0M31.8 -9.4h0M6.9 -4.5h0M42.4 -22.8h0M40.8 -24.6h0M12.2 -4.6h0M13.6 -32.6h0M6.3 -25.7h0M5.4 -13.2h0M41.5 -22.8h0M6.1 -9.2h0M10.8 -38.1h0M11 -34.7h0M42.1 -12.5h0M36.5 -18.2h0M32.3 -13.3h0M14.5 -29.7h0M41.6 -19.7h0M37.7 -16.7h0M8.2 -31.7h0M33.8 -13.4h0M12.6 -42h0M16 -15h0M36.4 -13.3h0M35 -18.3h0M38.9 -20.8h0M42.2 -3.9h0M14.1 -4h0M36.4 -18h0M7.3 -29.4h0M33.6 -11.2h0M10.5 -49.7h0M12.5 -33.5h0M42.3 -19h0M28 -7h0M30.6 -6.9h0M35 -15.1h0M7.5 -7.8h0M27.9 -6.5h0M19.8 -11.1h0M33.4 -7.4h0M35.1 -18.6h0M6.3 -11.1h0M10.6 -39.8h0M13.4 -39.8h0M15.1 -21.3h0M11.4 -44.9h0M41.3 -10.4h0M16.1 -9.8h0M38.6 -6.1h0M15.5 -4.7h0M30 -7.9h0M13 -23.8h0M33.7 -6.3h0M40.6 -16.9h0M32.8 -5.4h0M36.7 -4.5h0M15.5 -21.2h0M22.8 -8.2h0M7.3 -27.1h0M24.4 -9.2h0M42 -7.7h0M12.9 -5.1h0M25.1 -6h0M8.4 -4.3h0M34.4 -4.4h0M40.4 -18h0M38.2 -3.5h0M41.8 -20.8h0M27.4 -10h0M35.9 -5.9h0M31 -10.4h0M9.4 -47.3h0M42.9 -21.1h0M13.7 -26.6h0M43.1 -9.7h0M41.3 -10.3h0M31.1 -7.9h0M5.7 -15h0M14.5 -20.1h0M37.9 -19.2h0M8.2 -43.7h0M44 -17.7h0M35.6 -7.8h0M13.7 -23.2h0M39.5 -3.8h0M15.4 -4.8h0M42.2 -12.4h0M43.2 -12.1h0M30.1 -5.9h0M39.8 -22.6h0M6.9 -22.8h0M34.2 -16.5h0M14.3 -21.8h0M34.4 -13h0M36.1 -20.3h0M41 -17.4h0M8.7 -24.5h0M13 -30.9h0M40.3 -16.6h0M14.4 -22.2h0M34.7 -13.9h0M9 -39.2h0M14.7 -28h0M13.5 -30h0M16.7 -11.2h0M35 -16.7h0M10.3 -39.1h0M12.8 -31.2h0M9.4 -42.7h0M9.3 -46.9h0M7.9 -24.4h0M9.5 -43.7h0M9 -40.3h0M14.1 -20.3h0M12.1 -41.8h0M11.4 -3.6h0M5.8 -11.4h0M41 -17.1h0M35.1 -21.5h0M11.2 -51.8h0M14.2 -10.1h0M13.3 -33.7h0M29.7 -8.7h0M8 -5.6h0M9.8 -35.6h0M12.9 -37.7h0M33.4 -5.6h0M10.5 -29.9h0M31.9 -7.4h0M28.2 -8.1h0M10.7 -38.6h0M8.9 -37.1h0M20.3 -10.1h0M5.6 -10.8h0M11.4 -43.4h0M10.3 -42.2h0M36.5 -23.2h0M9 -40.8h0M30.3 -8h0M43.3 -17.9h0M43.4 -8.5h0M12.7 -2.6h0M43 -10.2h0M6.6 -28.5h0M41.7 -6.7h0M11.3 -32.9h0M41.9 -14.7h0M7.5 -20.3h0M42.8 -19.1h0M16.8 -9.8h0M37.5 -22.2h0M11.6 -39.3h0M32.3 -6.1h0M16.9 -8.3h0M37.5 -2.8h0M10.3 -45.8h0M10.5 -32.7h0M10.3 -41.4h0M13.5 -41.2h0M8.2 -26.5h0M12.6 -30.1h0M9.5 -41.3h0M21.6 -5.6h0M15.8 -5.6h0M16.8 -6h0M7.4 -26.9h0M10.7 -40.3h0M41.8 -6.2h0M11.7 -44.7h0M22.1 -7.2h0M6.5 -17.2h0M12.2 -40.2h0M34 -14.7h0M6.9 -20.3h0M30.7 -10.5h0M24.6 -7.2h0M10.6 -48.6h0M9.4 -46.9h0M40.7 -18.7h0M41.6 -6.6h0M12.4 -30.6h0M10.4 -37.4h0M27.4 -10h0M7.1 -30.1h0M43.3 -17.5h0M9.3 -39.8h0M8.6 -33.4h0M33.7 -4.3h0M13.3 -40.9h0M36 -18.4h0M10.3 -5.3h0M10.1 -36.3h0M43.5 -11.3h0M39 -18.8h0M41.5 -14.4h0M13.8 -31.9h0M38 -6.4h0M43.2 -11.1h0M41.3 -5.8h0M14.4 -9.9h0M34.4 -17h0M16.8 -5.4h0M10.7 -31.8h0M35.8 -23.1h0M15 -14.7h0M13.4 -22.1h0M9.6 -35.4h0M8.6 -38.5h0M39 -5h0M7.1 -24h0M37.3 -24.3h0M9.6 -29.2h0M6.8 -21h0M34.9 -16.8h0M8 -27.6h0M42.8 -21.7h0M34.8 -18.5h0M35.6 -19.8h0M35.3 -11.8h0M4.5 -10.7h0M7 -5h0M9.7 -48.1h0M32.8 -9.3h0M14.6 -11.5h0M12.7 -27.6h0M37.5 -25.3h0M7.8 -25.6h0M8.3 -21.8h0M10.7 -36.2h0M5.4 -9.4h0M14.7 -10.1h0M39.7 -17h0M13.3 -21.8h0M19.5 -9.1h0M37.9 -3.7h0M43.9 -11.1h0M28.3 -10.3h0M7.1 -21.8h0M34.9 -11.2h0M37.5 -17.2h0M12.8 -29.4h0M39 -22h0M12.8 -22.9h0M18.1 -11.8h0M10.1 -28.8h0M41.7 -20.5h0M9.1 -41.9h0M13.1 -4.9h0M9.4 -39.1h0M21.2 -8.9h0M12.8 -31.4h0M9.5 -30.2h0M25.6 -9.2h0M35.6 -4.2h0M38.4 -19.7h0M42.7 -11.4h0M13.2 -27.7h0M10.7 -32.9h0M37.3 -6.8h0M16.9 -10.4h0M42.5 -16.7h0M6.4 -13.2h0M32.8 -6.8h0M42.3 -7.4h0M32.1 -8.8h0M42.8 -14.1h0M34.4 -11.7h0M34.7 -12.4h0M8 -30.6h0M38.3 -17.6h0M8.9 -34.1h0M41 -15.6h0M35.5 -19.3h0M32.2 -6.1h0M39.2 -17.3h0M10.5 -47.9h0M12.9 -6.4h0M7.4 -25h0M40.4 -22.4h0M15 -6.9h0M15.7 -16.6h0M8.4 -26.4h0M38.6 -22.3h0M13.4 -28.3h0M21.5 -7h0M22.6 -6.4h0M42 -16.4h0M14.9 -14.8h0M10.1 -39.9h0M36.9 -2.1h0M40.4 -23.6h0M9.7 -29.9h0M41.2 -8.4h0M13.6 -3.7h0M40.2 -23.6h0M13.2 -36.3h0M10.1 -33.3h0M14.2 -8.6h0M24.8 -6.1h0M43.8 -17.1h0M14 -7.4h0M33.1 -7.1h0M15.8 -17.6h0M34.9 -16.9h0M35 -5.9h0M6.8 -22.7h0M13.2 -27.9h0M41.1 -15.6h0M17.5 -11.5h0M9.7 -47.9h0M12.8 -26.8h0M10 -2.6h0M12.2 -33.7h0M13.6 -37h0M14.4 -30.7h0M10.7 -52.6h0M14.8 -11.2h0M39.4 -16.9h0M37.2 -20.7h0M9.2 -3.9h0M36.4 -16.3h0M8.5 -4.4h0M14.7 -21.4h0M8.2 -30.6h0M10.2 -38.8h0M33.7 -8.8h0M12.9 -5.1h0M15 -4.4h0M15 -27.3h0M15.8 -11.3h0M39.3 -19.8h0M18.4 -12.4h0M10.7 -47.1h0M6.4 -22.2h0M11.7 -42.6h0M35.8 -14.6h0M7.8 -31.7h0M36.2 -6.1h0M42.2 -18.7h0M9.9 -38.6h0M36.9 -4.6h0M10.9 -46.6h0M14.4 -3.4h0M39.4 -3.5h0M7.9 -24.4h0M8.1 -37.4h0M41.8 -18.8h0M9.1 -47.4h0M7.1 -30.6h0M38.9 -3.7h0M6 -7h0M35.6 -21.6h0M37.1 -19.1h0M13.3 -40.4h0M14.5 -4.5h0M12 -26.9h0M31.9 -8.2h0M14.9 -19.6h0M35.8 -5.9h0M29.3 -10.7h0M8.4 -29.1h0M42.6 -11.1h0M9 -6.5h0M13.7 -22.7h0M25.4 -9.7h0M8.9 -35.7h0M14.1 -25.6h0M6.3 -21.3h0M9.6 -33.6h0M35.2 -5.8h0M11.9 -41.1h0M14.1 -24.4h0M21.2 -6.2h0M35.2 -18.3h0M35.3 -15.8h0M14.6 -29.2h0M13.5 -21h0M12.7 -5.9h0M8.7 -28.1h0M7.7 -7.4h0M42.3 -9.4h0M15.1 -4.2h0M8.8 -32.6h0M39.5 -21.7h0M8.1 -37.3h0M38.9 -6.8h0M18.9 -7h0M17.3 -8.6h0"/></g></g><g id="c4" filter="url(#bl)"><path fill="#d4d5f9" d="M9.8 -59.7L9.2 -59.6L8.8 -58.5L7.8 -53.3L5 -27.8L3.7 -11.8L4 -8.2L4.9 -5.8L6.8 -3.5L8.2 -2.6L9.2 -2.3L11.2 -2.5L15.8 -4.3L19.8 -5.6L22.2 -6.1L24.8 -6.3L27.8 -6.1L30.2 -5.4L31.8 -4.7L35.2 -2.3L36.8 -1.7L38.2 -1.5L39.8 -2L41.7 -3.8L42.9 -6.2L43.7 -9.2L44 -13.2L43.5 -17.2L42.5 -20.8L41 -23.8L39.2 -25.6L38.2 -25.8L37.2 -25.6L36.2 -24.9L35.4 -23.8L33.9 -20.8L31.7 -13.8L30.8 -12L29.2 -10.8L25.8 -10L23.2 -10L21.2 -10.4L18.2 -11.7L17.2 -12.5L16.2 -14L15.2 -17.9L11.5 -52.2L10.8 -56.6L9.8 -59.7Z"/><path fill="#a0a5f2" d="M9.8 -47.5L9.2 -47.5L8.8 -46.4L7.5 -40.2L6 -27.2L4.6 -11.8L5.1 -8.2L6.1 -5.8L7.8 -4.1L9.8 -3.6L11.8 -4.1L13.9 -5.8L15 -7.2L15.3 -9.2L14.2 -16.2L11.5 -40.2L10.8 -44.7L9.8 -47.5ZM38.8 -20.8L37.8 -20.8L36.8 -20.3L35.1 -18.2L33.8 -14.8L33 -10.2L33.3 -7.8L34.4 -5.8L35.9 -4.2L37.8 -3.6L38.8 -3.6L39.8 -4.1L41.2 -5.8L42.2 -8.2L42.7 -11.2L42.5 -14.8L41.6 -17.8L40.2 -19.9L38.8 -20.8Z"/><path fill="#5f70e8" d="M9.8 -38.5L9.2 -38.4L8.8 -37.5L7.8 -32.9L5.3 -11.8L5.6 -9.2L6.5 -6.8L7.9 -5.2L9.8 -4.7L11.5 -5.2L13 -6.8L13.7 -8.2L14.1 -10.8L11.5 -31.8L10.8 -35.8L9.8 -38.5ZM38.8 -18.3L37.2 -18.1L36 -16.8L35.1 -14.8L34.5 -11.8L34.6 -9.2L35.2 -7.4L36.2 -6.1L37.8 -5.4L39.2 -5.7L40.2 -6.6L41.1 -8.2L41.7 -10.8L41.6 -13.2L41 -15.8L40.2 -17.2L38.8 -18.3Z"/><path fill="#265cda" d="M9.8 -29.6L9.2 -29.6L8.8 -28.6L8.1 -26.2L6.1 -11.8L6.5 -9.2L7.2 -7.5L8.2 -6.4L9.8 -6L11.2 -6.6L12.2 -7.8L12.9 -9.8L13.1 -11.8L11.2 -24.6L10.4 -28.2L9.8 -29.6ZM38.8 -15.6L37.8 -15.5L36.9 -14.8L36.2 -13.3L36 -11.8L36.1 -10.2L36.6 -8.8L37.2 -8L38.2 -7.7L39.2 -8.2L39.8 -8.9L40.4 -11.2L40.1 -13.8L39.6 -14.8L38.8 -15.6Z"/><path fill="#1496d7" d="M9.8 -24.1L9.2 -24.1L8.2 -21.5L6.7 -11.8L7 -9.8L7.6 -8.2L8.8 -7.2L9.8 -7L10.8 -7.4L11.8 -8.6L12.3 -10.2L12.4 -11.8L10.8 -21.2L10.2 -23.3L9.8 -24.1ZM38.2 -12.3L38 -11.8L38.2 -11L38.5 -11.8L38.2 -12.3Z"/><path fill="#1ec3a0" d="M9.8 -20L9.2 -19.9L8.5 -18.2L7.2 -11.8L7.5 -10.2L8.1 -8.8L8.8 -8.1L9.8 -7.9L10.8 -8.4L11.2 -9.1L11.9 -11.8L10.8 -17.6L9.8 -20Z"/><path fill="#46d246" d="M9.8 -17.1L9.2 -17.1L8.8 -16.3L7.7 -11.8L8.2 -9.6L8.8 -9L9.8 -8.7L10.9 -9.8L11.4 -11.8L10.8 -14.9L9.8 -17.1Z"/><path fill="#96d723" d="M9.8 -14.7L9.2 -14.7L8.8 -13.9L8.2 -11.8L8.8 -10L9.8 -9.6L10.5 -10.2L10.9 -11.8L10.2 -14L9.8 -14.7Z"/><path fill="#e1c80f" d="M9.8 -12.8L9.2 -12.8L8.8 -11.8L9.2 -10.7L9.8 -10.7L10.2 -11.6L9.8 -12.8Z"/><g stroke-width="1" stroke-linecap="round"><path stroke="#7070e0" stroke-opacity=".42" d="M19.7 -44h0M17.7 -15.5h0M44.2 -16.3h0M38.6 -35.9h0M17.1 -1.7h0M19.2 -4.9h0M43.1 -2.6h0M40.7 -25.2h0M39.3 -27.6h0M19.7 -41.7h0M16.5 -17.2h0M20.8 -15.4h0M37.9 -45.9h0M27.3 -14.9h0M37.8 -67.9h0M34.7 -25h0M44.8 -30.5h0M44 -22.2h0M1.7 -12h0M18.7 -20.7h0M44.2 -24h0M33.2 -1.7h0M40.3 -28.1h0M43.1 -24.1h0M16.1 -21.1h0M20 -14.6h0M33.9 -24.2h0M15.4 -2.2h0M18.6 -4.6h0M26.1 -10h0M21 -29.5h0M29.3 -22.6h0M43.9 -19.4h0M41.5 -26.8h0M54.2 -33.2h0M4.1 -35.9h0M50 -18.7h0M33.3 -1.1h0M24.3 -12.2h0M28.9 -15.2h0M26.2 -1.4h0M23.7 -10.7h0M5.2 -46.1h0M38.6 -29h0M6.1 -50.8h0M43.8 -7h0M36.9 -34.4h0M6.1 -55.5h0M13.5 -39.3h0M11.9 -53.3h0M4.6 -32.5h0M17 -22.8h0M24.1 -22.8h0M3.3 -11.3h0M31.8 -17.1h0M19 -1h0M29.9 -3.5h0M5.5 -47.6h0M26.5 -16.8h0M3.4 -46.9h0M14.3 -43.1h0M36.4 -25.5h0M22.2 -57.8h0M35.3 -29.8h0M37.4 -39.7h0M27.7 -15.5h0M38.3 -26.4h0M26.3 -28.8h0M23.2 -23.8h0M21.8 -10.8h0M14.3 -59.1h0M5.5 -48.1h0M40.1 -44.4h0M34.7 -31.9h0M20.2 -54.4h0M41 -27.1h0M1.3 -9.5h0M30.7 -3.1h0M31.6 -17.7h0M16.6 -28.8h0M45.3 -13.5h0M2.9 -36.1h0M15.2 -49.8h0M14.9 -69h0M20.4 -4.5h0M17.7 -19h0M8.5 -63h0M8.3 -60.6h0M51.6 -13.7h0M8.8 -60.5h0M18.6 -27.8h0M57.6 -39.9h0M34.6 -24h0M50 -22.1h0M19.4 -42.7h0M34.5 -2.2h0M27.9 -11.5h0M17.5 -38.5h0M35.7 -26.2h0M3.2 -16.1h0M17.9 -16.9h0M45.4 -8.5h0M14.6 -32.6h0M15.5 -23.1h0M32.2 -22.6h0M26.3 -16h0M20.9 -11.2h0M2.9 -18.8h0M21.3 -16.6h0M32.7 -25.3h0M11.9 -55.4h0M38.1 -31.7h0M25.9 -18.4h0M20 -55.4h0M13.5 -38.8h0M17.6 -13.8h0M45.6 -32.8h0M32.1 -15.7h0M40.8 -26.7h0M38.5 -29.4h0M24.8 -37.2h0M39.9 -37.1h0M45.2 -13.7h0M10.5 -58h0M50.6 -20.1h0M24.1 -42.3h0M6.4 -46.7h0M46.3 -28.6h0M33.4 -1.3h0M34.9 -22.7h0M1.1 -66.9h0M40.3 -30.9h0M4.6 -53.5h0M41 -29.1h0M16.6 -16.1h0M16.2 -31.8h0M21.8 -47.2h0M34.4 -26.1h0M16 -40.2h0M29.7 -12.7h0M25 -13.4h0M39.5 -27.3h0M22.3 -10.9h0M38 -49h0M4.6 -3.3h0M34.6 -33.4h0M38 -32.8h0M4.7 -25.7h0M24.1 -4.6h0M32.3 -18.7h0M14.5 -35.1h0M42.8 -5.9h0M27.5 -15.4h0M42.3 -26.4h0M42.4 -38.1h0M34.8 -25.2h0M38.9 -29.4h0M35.6 -28.8h0M28.6 -14.4h0M7.3 -54.9h0M29.7 -11.8h0M26.5 -3.1h0M5.1 -35.1h0M43.3 -6.2h0M28.3 -5.8h0M44.1 -28.5h0M42.2 -24.1h0M12.4 -61.2h0M8.3 -61.7h0M39.5 -26.6h0M57.9 -57.5h0M8 -62.6h0M50.3 -11.4h0M4.7 -28.6h0M31.6 -22.1h0M21.1 -69.2h0M12.3 -50.3h0M47.7 -24.8h0M7.1 -57h0M6.3 -3.1h0M3.5 -8.3h0M13.7 -66h0M6.3 -55.3h0M19.1 -20.6h0M17.2 -30.2h0M19 -22.5h0M34.6 -29h0M25.6 -19.3h0M15.4 -18.5h0M33.7 -30.4h0M2.8 -23.1h0M8 -58.9h0M3.8 -13.9h0M14.7 -33.5h0M24.1 -21.4h0M6.2 -49.6h0M2.8 -25.4h0M31.9 -16.5h0M21 -18.9h0M46.5 -32.2h0M53.9 -18.2h0M4.8 -34.5h0M17.1 -3.9h0M32.7 -3.4h0M10.3 -64.9h0M16.1 -57.2h0M20.3 -18.1h0M15.5 -32.9h0M6.2 -58.6h0M22.6 -66.1h0M11.5 -2.1h0M44.8 -21h0M28.5 -12.4h0M23.5 -13.7h0M5.2 -63.1h0M3.5 -60.9h0M3.1 -25.9h0M16.1 -29.7h0M17.1 -3.6h0M28.5 -12.6h0M45.2 -6.2h0M7 -60.6h0M38.1 -26.7h0M14.1 -63.8h0M5.1 -35h0M38.7 -38.2h0M39.9 -53.7h0M52.7 -14.4h0M19.6 -11.1h0M8.1 -67.6h0M42.2 -38.8h0M25.5 -14.6h0M36.7 -28.5h0M7.9 -57.8h0M20.6 -4.3h0M41.7 -33.3h0M33.8 -60.6h0M21.5 -5.9h0M33.3 -39.6h0M3.2 -39.4h0M3.4 -56.2h0M21.2 -53.9h0M48.7 -7.4h0M21.5 -28.9h0M29.2 -4h0M42.4 -23h0M1 -15.5h0M16.1 -16.5h0M50.8 -10.2h0M30.1 -3.9h0M41.2 -37.6h0M15.1 -41.5h0M14.4 -2.8h0M34.3 -32.7h0M30 -13.2h0M11.9 -65.7h0M33.7 -32.9h0M40.7 -29h0M27.5 -45.9h0M15.2 -28.2h0M20.1 -48h0M33.5 -25.1h0M25.5 -27.9h0M24.7 -11.5h0M36 -26.5h0M39.5 -52.1h0M26.8 -10.3h0M21.8 -40.6h0M27.4 -15.7h0M30.7 -13.9h0M47.2 -12.7h0M12.2 -55.9h0M8.4 -66.4h0M32.4 -47.6h0M26.5 -32.8h0M17.4 -39.8h0M16.7 -23.4h0M37 -31.4h0M46.4 -14.9h0M19.8 -14.4h0M21.6 -30h0M25.3 -10.8h0M32.1 -41.4h0M.7 -26.6h0M29.5 -53.9h0M28.9 -47.8h0M3.4 -18h0M12.4 -68.2h0M13.1 -62.9h0M43.7 -38.7h0M13.8 -34h0M20.6 -30.7h0M13.3 -43.3h0M35.3 -26.6h0M17.1 -2.6h0M30.3 -13.8h0M16.5 -14.5h0M37.3 -39.5h0M32.8 -3.1h0M28.8 -5h0M46.6 -32.9h0M48.2 -41.5h0M16.5 -41.5h0M44.6 -22.5h0M26.2 -44.1h0M32.1 -37.6h0M40.7 -29h0M17.6 -52.7h0M36.9 -52h0M3.7 -15.2h0M16.2 -44.4h0M14.7 -25.8h0M5.8 -3.1h0M24.7 -28.4h0M30.9 -16.8h0M29 -16.5h0M38.4 -26.3h0M20.1 -25.6h0M25.7 -13.7h0M8.2 -67h0M13.3 -68.5h0M4.9 -4.8h0M14.1 -30.7h0M45.8 -21.4h0M25.2 -27.8h0M28.1 -4.1h0M57.3 -22.7h0M43.9 -42h0M13.6 -48.8h0M21.2 -13.1h0M22.2 -4.6h0M3.8 -27.2h0M13.8 -68.7h0M30.5 -12.8h0M20.3 -16.5h0M45.9 -1.6h0M7.1 -66.4h0M44 -42.8h0M31.3 -31.4h0"/><path stroke="#5060dc" stroke-opacity=".6" d="M14.5 -7.4h0M36.7 -24.8h0M42.5 -8.6h0M39.1 -18.5h0M5.3 -28.2h0M43.4 -10.1h0M7.5 -27.8h0M11.9 -43.3h0M20.4 -7.8h0M24 -7.1h0M39.7 -19.9h0M39.1 -25.4h0M42.5 -19.5h0M9 -52.8h0M4.7 -8.9h0M29.3 -9.6h0M6.9 -31.3h0M12 -29.2h0M10.1 -30.5h0M34.8 -5.5h0M9.4 -51.4h0M41.1 -12.7h0M40.2 -7.3h0M43 -14.3h0M6.8 -34.7h0M7.6 -44.2h0M41.4 -22h0M42.4 -9.1h0M15.4 -12.3h0M42.3 -15.7h0M13.9 -30.5h0M11.5 -44.4h0M35.8 -17.9h0M5.5 -9.8h0M34 -8.1h0M10.8 -40.3h0M11.7 -28.7h0M14.4 -10.2h0M41 -22.1h0M11.9 -25h0M36.7 -24.1h0M37 -4.6h0M27.9 -10.4h0M8 -50.6h0M37.7 -18.8h0M13.7 -19.8h0M12.4 -24.4h0M41.1 -17.7h0M10.9 -31.1h0M9.4 -47.3h0M40.5 -6.6h0M41.4 -20.1h0M5.9 -24.5h0M10.8 -41.5h0M26 -6.4h0M34.7 -17.6h0M8.6 -42h0M13.5 -7.2h0M8.2 -33.6h0M6.2 -4.6h0M37.1 -19.1h0M13.4 -19.4h0M4.8 -15.8h0M11.6 -37.8h0M41.6 -14.3h0M9.3 -45.6h0M9.9 -33.7h0M7.4 -37.1h0M42.8 -7.2h0M41.3 -17.4h0M5.8 -20.5h0M42.2 -16h0M32 -5.3h0M9.1 -46.4h0M8.4 -29.5h0M38.8 -21.2h0M8.3 -33.1h0M4.6 -15.7h0M41.9 -19.3h0M30.2 -9h0M34.1 -13h0M8.7 -4.2h0M8.6 -49.2h0M6.1 -27.3h0M36.1 -7.4h0M39.4 -16.1h0M40.5 -22.5h0M13.3 -25.9h0M7.5 -5.2h0M19 -6.3h0M11.3 -33.1h0M6.1 -32.2h0M22.5 -7h0M15.5 -9.2h0M37.8 -3.2h0M8.5 -51.2h0M34.8 -10.6h0M6.3 -26.8h0M10.7 -40.6h0M42.1 -16.4h0M10.2 -47.1h0M5.3 -11.5h0M41.3 -17.6h0M15.2 -4.4h0M38.2 -25.8h0M8.1 -38.1h0M8.2 -4.9h0M5.5 -7.4h0M9.8 -56.8h0M10.1 -34.4h0M35.1 -8.1h0M10.6 -29h0M9 -44.5h0M11.1 -6.2h0M33.8 -15.5h0M20.4 -7.9h0M6.5 -17.2h0M9.9 -3h0M14.4 -7.8h0M4.8 -11.3h0M36.1 -7.4h0M11.4 -3.3h0M15 -10.4h0M10.3 -32.5h0M4.7 -17.7h0M39.3 -5.1h0M12.3 -22.6h0M15.1 -11.2h0M39 -2h0M15 -6.1h0M40.9 -6.2h0M32.8 -12.9h0M10.2 -46.1h0M8.1 -52.7h0M41.1 -3.2h0M6.6 -38.5h0M39.4 -16.6h0M23.6 -9.4h0M7.8 -31.7h0M7.1 -31.8h0M33.2 -12.7h0M40.9 -18.3h0M9.3 -59.2h0M38.2 -18.7h0M14.2 -6.5h0M10.5 -33.9h0M22.9 -6.8h0M11.9 -42.4h0M13.5 -3.9h0M12.4 -31.6h0M41.2 -8.3h0M31.5 -6h0M44 -11.8h0M38.4 -21.8h0M19.8 -7.2h0M43.3 -12.6h0M5.8 -15.9h0M6.9 -41.7h0M43.6 -11.8h0M42.8 -11.3h0M43 -13.6h0M19.3 -9.3h0M12.9 -34.9h0M32.8 -11.2h0M13.6 -16.5h0M11 -56.2h0M11.8 -39.8h0M6.3 -7.6h0M42.2 -16h0M5.6 -18.3h0M9.9 -48.5h0M13.1 -13.9h0M34.2 -5.5h0M9.1 -55.3h0M5.9 -16h0M14.6 -15.2h0M41.1 -17.2h0M7.4 -34.4h0M7.6 -26.8h0M9.4 -36.3h0M34 -4.5h0M35.2 -5.8h0M41.8 -12h0M40.5 -12.7h0M33.3 -11.3h0M19.2 -9.6h0M42.1 -14.1h0M33.7 -16.7h0M13.1 -16.3h0M42.3 -10.7h0M37.8 -25.7h0M12.2 -41.2h0M43 -17.2h0M36 -19.2h0M42.8 -10.8h0M9.5 -37.6h0M9.2 -32.7h0M7.8 -28.9h0M11.9 -24.7h0M39.2 -4h0M10.6 -29.8h0M12.8 -22.7h0M12.6 -36.4h0M14.3 -5h0M16.5 -6.1h0M33.2 -7.6h0M9.5 -50h0M37.6 -16.5h0M5.1 -5.8h0M9.4 -51h0M37.7 -2.4h0M5.3 -21.4h0M9.2 -54.5h0M33.1 -9.7h0M5.2 -20.8h0M15.8 -10.1h0M13.3 -5.5h0M10.3 -57.5h0M27 -6.1h0M15.1 -4.3h0M5.1 -16.1h0M7.1 -44h0M37.1 -25.1h0M11.8 -26.4h0M27.8 -6.9h0M8.2 -40.3h0M6.1 -27h0M6.6 -36.9h0M6.6 -3.8h0M18.7 -9.4h0M10.1 -47.2h0M10.8 -53.6h0M34.6 -22.1h0M7.7 -4.1h0M13.8 -25.3h0M37.1 -21.5h0M17.6 -9.7h0M34.9 -22h0M7.4 -46h0M35.5 -3.9h0M9.5 -48.6h0M14.3 -19.9h0M32.5 -16.6h0M19.5 -8.8h0M8.8 -45.7h0M37.6 -6.8h0M5.7 -9.4h0M42.8 -10.9h0M11.5 -5h0M13.3 -3.8h0M10.9 -39.6h0M9.3 -53.2h0M8.6 -34h0M8 -45.5h0M40.2 -5.1h0M33.7 -9.4h0M36.8 -19h0M35.8 -16.7h0M7 -34.2h0M40.7 -17.1h0M34.9 -5.9h0M6.6 -40.7h0M28.6 -7.9h0M10.7 -55.3h0M41.9 -16.5h0M26.7 -6.2h0M14.3 -25.8h0M35.6 -22.1h0M8.2 -39.2h0M36.8 -20.6h0M24.1 -9.5h0M13.2 -29.4h0M11.8 -39.4h0M8.1 -39.6h0M9.7 -42h0M6.1 -15.7h0M9.7 -41.6h0M10.4 -40.5h0M10.3 -37.7h0M5.8 -12.6h0M11.7 -25.6h0M11.5 -28.2h0M9 -46.1h0M36.2 -20h0M4.8 -12.2h0M12.2 -20.5h0M34.7 -5.3h0M8.2 -32.2h0M5.6 -10.3h0M9 -5.9h0M18.1 -7.6h0M38.9 -16.6h0M8.6 -51.5h0M10.1 -32.7h0M12.9 -17.1h0M13 -5.7h0M26.8 -6.8h0M40.5 -23.3h0M18.2 -9.4h0M17.7 -7.5h0M8 -5.9h0M34.7 -7.8h0M35.5 -3.3h0M37.8 -18h0M42.2 -14.7h0M9.6 -44.2h0M15.9 -7.1h0M34.7 -16h0M8.5 -42.9h0M7.4 -5.4h0M39.4 -17.6h0M6.8 -41.4h0M14.1 -12.3h0M33.9 -8.8h0M33.2 -13.5h0M21 -7.2h0M23.6 -9.4h0M9.2 -3.8h0M6.3 -25.6h0M37.2 -7.3h0M20.6 -6.2h0M7.6 -26.5h0M42.3 -8.3h0M41.5 -7.4h0M4.1 -11.2h0M8.7 -43.2h0M42 -7.8h0M10.5 -46.2h0M42.2 -12.8h0M10.3 -44h0M8.8 -41.4h0M36.8 -22.3h0M12.2 -30.9h0M23.1 -7.5h0M10.3 -45.9h0M35.6 -17.9h0M5.4 -20.9h0M35.1 -14.5h0M34.5 -19.8h0M6.6 -29.8h0M39.5 -19.7h0M35.6 -13.4h0M6.5 -5.4h0M34.8 -3h0M14.2 -15.3h0M17.5 -8h0M13.6 -21.5h0M6.2 -15h0M34.7 -13.7h0M7.6 -48.6h0M5.5 -17.9h0M6.1 -33.3h0M24.2 -7.3h0M27.6 -6.7h0M42.6 -18.6h0M7.5 -22.9h0M7.3 -36.8h0M13.4 -4.7h0M15.7 -10.9h0M5 -26.6h0M10.1 -41.6h0M6 -30.5h0M33.2 -8.1h0M39.2 -19.9h0M22.9 -7.5h0M13.6 -31.8h0M14.7 -6.2h0M7 -34.3h0M38.4 -18.7h0M31 -11.3h0M41.8 -4.1h0M7.2 -47.7h0M4.6 -12.9h0M10.9 -43h0M10.2 -34.4h0M41.5 -10.6h0M9.4 -4.9h0M5 -21.4h0M8.7 -42.3h0M34.4 -13.8h0M39.5 -22.1h0M12 -34.2h0M34.8 -15h0M37.8 -3.6h0M8.7 -41.8h0M15.1 -9.9h0M12.4 -37.2h0M40.9 -6h0M14 -8.6h0M7.4 -44.5h0M36.9 -5.5h0M8.5 -52.8h0M17.1 -9h0M4.4 -14h0M6.4 -7.5h0M11.5 -32.9h0M10.8 -5.5h0M9.7 -40h0M12.4 -26.7h0M10 -42.5h0M7.5 -43.8h0M8.3 -4.4h0M11.8 -39.6h0M37.3 -21.8h0M8.5 -36.6h0M5.5 -17.3h0M8.5 -45.2h0M40.6 -5.9h0M5.4 -14.5h0M4.9 -13.4h0M42.2 -5.1h0M11.7 -6.3h0M5.9 -11.7h0M38.1 -5.4h0M9.6 -33h0M12.6 -33.3h0M37.3 -25.2h0M7.6 -4.7h0M15 -11.4h0M37.9 -19.4h0M31.9 -11.5h0M7.2 -34h0M11.6 -39.6h0M5.6 -29.4h0M33.9 -12.1h0M9.1 -50.1h0M25.3 -6.7h0M42.3 -8.2h0M33.6 -11.1h0M11.4 -33.7h0M10.2 -38.1h0M11.2 -41.6h0M7.2 -27.3h0M14.3 -22h0M11.3 -36.7h0M34.7 -9.3h0M41.6 -5.2h0M5.6 -28h0M26.3 -8.5h0M30.7 -11.8h0M13.4 -35.2h0M30 -7.1h0M40.4 -7.4h0M8.6 -47.2h0M12.8 -21.2h0M6.5 -20.4h0M12 -31.7h0"/></g></g><g id="c5" filter="url(#bl)"><path fill="#d4d5f9" d="M9.8 -52.4L9.2 -51.9L8.8 -50.5L7.4 -43.8L6 -32.2L4.5 -17.2L4.1 -10.2L4.6 -7.2L5.5 -5.2L7.8 -3L8.8 -2.5L10.2 -2.3L11.8 -2.6L16.2 -4.4L21.2 -5.9L24.2 -6.3L27.2 -6.3L29.8 -5.9L31.8 -5.3L36.2 -2.4L37.8 -1.7L39.8 -1.6L41.2 -2.2L43.1 -4.2L44.2 -6.8L44.9 -10.2L45 -13.8L44.5 -17.8L43.4 -21.2L41.8 -24.2L40.2 -25.5L39.2 -25.7L38.2 -25.5L36.8 -24.1L35 -20.8L32.8 -13.5L31.8 -11.9L30.2 -10.7L26.8 -9.9L22.2 -10.2L18.8 -11.5L17.8 -12.3L16.8 -13.6L15.9 -15.8L15.5 -18.2L13.5 -35.2L11.8 -46.2L10.8 -51.1L10.2 -52.1L9.8 -52.4Z"/><path fill="#a0a5f2" d="M9.8 -41.9L9.2 -41.4L8.8 -40.1L7.6 -34.2L4.9 -11.8L5.4 -8.2L6.4 -5.8L8.2 -4L10.2 -3.6L12.2 -4.2L14.2 -5.8L15.3 -7.2L15.6 -9.2L11.9 -35.8L10.8 -40.6L10.2 -41.6L9.8 -41.9ZM39.8 -20.8L38.8 -20.8L37.8 -20.2L36.2 -18.3L34.9 -14.8L34.2 -10.2L34.4 -7.8L35.5 -5.8L37.1 -4.2L38.8 -3.6L39.8 -3.6L40.8 -4.1L42.2 -5.7L43.3 -8.2L43.8 -11.2L43.6 -14.8L42.8 -17.7L41.2 -20L39.8 -20.8Z"/><path fill="#5f70e8" d="M10.2 -33.9L9.8 -34.2L9.2 -33.7L8.2 -30.5L7 -23.2L5.6 -11.8L6 -8.8L6.8 -6.8L8.2 -5.2L9.8 -4.7L11.8 -5.2L13.2 -6.6L14 -8.2L14.4 -10.8L12 -27.8L11.2 -31.2L10.2 -33.9ZM39.8 -18.3L38.2 -18L37.1 -16.8L36.1 -14.2L35.6 -11.2L35.7 -9.2L36.4 -7.2L37.8 -5.8L39.2 -5.4L40.8 -6L41.7 -7.2L42.5 -9.2L42.8 -11.2L42.6 -13.8L42.1 -15.8L41.2 -17.3L39.8 -18.3Z"/><path fill="#265cda" d="M10.2 -26.4L9.8 -26.7L9.2 -26.2L8.2 -23.2L6.4 -11.8L6.7 -9.8L7.4 -7.8L8.2 -6.7L9.8 -6L11.2 -6.4L12.2 -7.3L13.1 -9.2L13.4 -11.2L11.8 -21.6L11 -24.8L10.2 -26.4ZM40.2 -15.3L39.2 -15.6L38.2 -15L37.5 -13.8L37.2 -12.2L37.1 -10.8L37.5 -9.2L38.2 -8.1L39.2 -7.7L40.2 -8.2L40.7 -8.8L41.4 -10.8L41.2 -13.4L40.2 -15.3Z"/><path fill="#1496d7" d="M10.2 -21.8L9.8 -22.1L9.2 -21.7L8.8 -20.5L7.8 -16.4L7 -11.8L7.8 -8.6L8.8 -7.4L9.8 -7L10.8 -7.2L11.8 -8.1L12.5 -9.8L12.7 -11.2L11.5 -18.2L10.2 -21.8ZM39.2 -12L39.2 -11.2L39.2 -12Z"/><path fill="#1ec3a0" d="M10.2 -18.4L9.8 -18.6L9.2 -18.2L8.8 -17.1L7.6 -11.8L8.2 -9.1L8.8 -8.4L9.8 -7.9L10.8 -8.2L11.3 -8.8L12 -10.2L12.2 -11.8L11.2 -16L10.2 -18.4Z"/><path fill="#46d246" d="M9.8 -16.3L9.2 -15.8L8.8 -14.8L8 -11.8L8.5 -9.8L9.2 -8.9L9.8 -8.7L10.8 -9.1L11.2 -9.8L11.7 -11.8L10.8 -15.2L10.2 -16L9.8 -16.3Z"/><path fill="#96d723" d="M9.8 -14.3L9.2 -13.8L8.5 -11.8L8.9 -10.2L9.8 -9.6L10.8 -10.2L11.2 -11.8L10.8 -13.2L10.2 -14L9.8 -14.3Z"/><path fill="#e1c80f" d="M10.2 -12.5L9.8 -12.7L9.2 -12.2L9.2 -11.2L9.8 -10.7L10.4 -11.2L10.2 -12.5Z"/><g stroke-width="1" stroke-linecap="round"><path stroke="#7070e0" stroke-opacity=".42" d="M40.5 -32.1h0M16.1 -59.6h0M20.7 -28.1h0M28.5 -5.9h0M45.6 -12.4h0M27 -45.6h0M19.6 -54.7h0M34.9 -2h0M25.2 -29.8h0M18.1 -27.1h0M43.2 -27.9h0M31.9 -27.1h0M18.2 -23h0M35 -26.2h0M45.4 -44.9h0M20.5 -13.1h0M25.2 -27.4h0M34.8 -41.6h0M29.4 -1.8h0M18 -16.4h0M38.3 -31.3h0M3.3 -9.3h0M14.1 -2h0M17.5 -13.9h0M6.6 -53.7h0M51.2 -53.1h0M46.6 -52h0M47.3 -24.3h0M34.6 -22.1h0M45 -33.2h0M38.1 -26.8h0M43.4 -32.8h0M5 -32.4h0M16.6 -29.7h0M41.9 -25.1h0M22.5 -29.4h0M47.5 -50h0M25.8 -4.2h0M23.1 -21.2h0M32.2 -13.4h0M41.6 -1.9h0M5.2 -63.6h0M16.7 -42.9h0M33.4 -20.6h0M15 -65.1h0M44.3 -5.8h0M38 -34.8h0M3.4 -14h0M2.5 -21.6h0M17.8 -46.3h0M31.5 -4.9h0M11.9 -63.4h0M5.2 -42.3h0M14.2 -37.4h0M21.5 -37.1h0M29.1 -10.7h0M21 -3.8h0M45.6 -4h0M17.2 -66.3h0M15.3 -22.2h0M11.4 -64.5h0M19 -48.4h0M34.5 -29.3h0M29.1 -24.5h0M29.5 -3.3h0M17.4 -68.9h0M37.1 -1h0M45.9 -12.9h0M12.2 -2.9h0M48.3 -54.5h0M4.9 -21.3h0M41.2 -29.8h0M21.6 -44.1h0M10.4 -69h0M3.8 -46.2h0M27.1 -5.5h0M33.9 -21.2h0M45.9 -6.9h0M4.8 -21.3h0M7.4 -68.1h0M40.4 -25.7h0M40.1 -30.4h0M51.5 -59.6h0M7.3 -64.2h0M17.6 -45.3h0M25.9 -23h0M28 -4.9h0M16.8 -52.4h0M23.1 -58.3h0M20.7 -25.4h0M51.5 -3.4h0M1.7 -47.1h0M2.3 -30.9h0M14.5 -29.6h0M9.4 -60.8h0M16.4 -20.1h0M44.8 -37.2h0M13.4 -54.1h0M5.2 -35.2h0M47 -15.2h0M11.9 -63.1h0M51 -63.3h0M16.4 -1.8h0M12.6 -52.7h0M16.3 -30.5h0M21.5 -41h0M27.9 -44.6h0M3 -23.3h0M3.6 -22.4h0M25.9 -53.9h0M18.5 -33h0M54.9 -41.3h0M3.9 -15.1h0M44.3 -21.1h0M14.1 -36h0M35.9 -28.1h0M6 -67.8h0M25.5 -6.1h0M58.5 -14.8h0M1.3 -39.1h0M48.7 -34.5h0M42.1 -33.6h0M5 -35.4h0M42.8 -23.5h0M45.3 -17h0M25.2 -34.3h0M21.2 -14.4h0M37.4 -25.5h0M37.9 -32.3h0M1.1 -14.3h0M17.6 -4.4h0M24.7 -4.9h0M19.8 -12.7h0M13.5 -42.4h0M46.9 -3h0M10.1 -61.1h0M16.7 -16.4h0M20.8 -23.1h0M21.8 -34.2h0M38.1 -31.4h0M5.1 -61.6h0M15.6 -67.2h0M39.9 -37h0M5 -32.3h0M34.8 -23h0M31.7 -27.8h0M32 -54.6h0M16.5 -30.4h0M18.8 -19.9h0M1.2 -14.3h0M35.4 -49h0M29 -16.1h0M19.3 -46.4h0M28.7 -5.1h0M10.6 -59.4h0M17.8 -28.1h0M30.4 -5.9h0M43.9 -4.7h0M42.7 -26.7h0M15 -52.2h0M23.8 -11.8h0M44.4 -5.8h0M3.6 -44.9h0M2.3 -14.9h0M15.4 -25.5h0M28.2 -23h0M5 -5h0M17 -27.9h0M5.4 -26h0M18.3 -30.8h0M30.8 -23.1h0M44.5 -26.6h0M33.3 -24.7h0M19 -14h0M25.3 -59.1h0M24.4 -17.9h0M20.5 -63.7h0M37.6 -25.2h0M19.1 -4.1h0M31.2 -31.2h0M8.6 -67.2h0M12.5 -46.7h0M11.9 -51.8h0M16.9 -3.5h0M40 -27.3h0M49 -5.8h0M51.6 -36.3h0M15.2 -24.9h0M12.7 -43.2h0M28.8 -45.2h0M31.4 -4.7h0M37.5 -33.2h0M41.4 -37.2h0M37 -36.9h0M6.2 -36h0M35.4 -24.2h0M2.7 -56.9h0M59.5 -27h0M12.2 -46.8h0M3.4 -9.2h0M3.8 -16.8h0M17.7 -37.6h0M21 -28.4h0M36 -23.7h0M29.9 -3.1h0M10.4 -66.7h0M33.9 -39.2h0M7.6 -47.8h0M21.2 -50.7h0M15.8 -39.6h0M39.7 -32.2h0M21.6 -10.9h0M35.3 -33.1h0M39.1 -25.7h0M22.3 -11.4h0M47.4 -36h0M5.1 -25.5h0M19.2 -33.4h0M20.6 -20.7h0M23.7 -1.8h0M30.2 -3.9h0M26 -25.4h0M5.4 -41.6h0M45.9 -38h0M41 -37.3h0M21.5 -31.4h0M12.8 -42.5h0M2 -60h0M3.1 -29.6h0M16.6 -14.5h0M25 -48.5h0M26.2 -36.1h0M27.5 -4.8h0M5.5 -36.9h0M45.5 -15.4h0M24.9 -37.4h0M13.4 -37.3h0M26 -43.7h0M12.9 -44.7h0M15.8 -24.8h0M3.6 -26.9h0M48.9 -26.6h0M5.6 -43.9h0M45 -19.1h0M28.5 -12.9h0M33.8 -31.5h0M5.2 -31.6h0M18.5 -32.1h0M19.1 -37.4h0M52.6 -26h0M12.6 -62.3h0M14.4 -49.2h0M24.4 -5h0M29.8 -17.4h0M36.5 -32.3h0M34.9 -29.9h0M2.3 -12h0M2.2 -52.1h0M2 -65h0M20.4 -4.3h0M20.6 -47.3h0M27.7 -11h0M9.1 -65.2h0M14.3 -49.8h0M27.4 -28.8h0M12.9 -2.7h0M3.1 -28.7h0M56.4 -26.6h0M38.6 -34.6h0M10.6 -55.4h0M15.3 -42.1h0M23.9 -12h0M13.9 -40.1h0M16.6 -46.4h0M24.4 -68.6h0M44.5 -23.6h0M63.7 -39.5h0M5 -43.7h0M4 -8.6h0M33.2 -35.3h0M64.5 -39.6h0M27.3 -27h0M40.7 -31.4h0M8.9 -57.6h0M8.4 -55.6h0M2.6 -41.4h0M32.3 -24.1h0M12.2 -53.4h0M1.3 -27.2h0M6.3 -57.2h0M7.5 -56.2h0M44.2 -22.4h0M15.2 -21.3h0M42.7 -3.7h0M45.1 -28h0M22.7 -10.6h0M7.2 -48.4h0M5.1 -35.3h0M17.2 -17.9h0M28.3 -34.3h0M45.1 -33.5h0M35.3 -25.7h0M34.1 -3.7h0M18.7 -59.4h0M62 -14.1h0M4.4 -20.3h0M46.5 -25.9h0M5.8 -55.4h0M36.6 -50.9h0M9.2 -53.4h0M35 -1.4h0M36.3 -27.7h0M34.9 -25.2h0M40.2 -27.1h0M14.6 -34.9h0M2.2 -8.1h0M6.1 -68h0M17.2 -24.4h0M31.8 -13.4h0M42.4 -24.4h0M19.8 -18h0M43.8 -25h0M39.6 -28.4h0M26.8 -5.6h0M18.3 -27.8h0M19.8 -21h0M25.6 -4h0M48 -25.1h0M49.5 -27.6h0M30.1 -4.2h0M25.3 -19.4h0M6.6 -65.8h0M32.3 -22.1h0M44.1 -1.7h0M43.4 -30h0M14.1 -29.3h0"/><path stroke="#5060dc" stroke-opacity=".6" d="M39 -16.3h0M16.3 -11.3h0M11.1 -4.6h0M41.2 -23.9h0M11.5 -24.9h0M14.8 -20h0M8.6 -34h0M11.3 -48.1h0M12.5 -33.8h0M37.6 -5.8h0M6.6 -37.1h0M9.5 -50.2h0M5.4 -6.4h0M35.4 -15.4h0M13.5 -23.2h0M38.3 -16h0M33.6 -16.1h0M11.1 -44.2h0M20 -5.5h0M25.6 -7.4h0M8.4 -33.3h0M36.3 -6h0M35.2 -8h0M6.6 -31.5h0M18 -9h0M9.8 -3.6h0M16.2 -6.5h0M9.4 -34.9h0M4.4 -14.4h0M42.3 -13.9h0M15.5 -9.8h0M8.2 -32.9h0M11.8 -28.5h0M36.4 -16.9h0M12.4 -31.4h0M10.7 -35h0M14.8 -20.3h0M12.2 -35h0M28.8 -6.6h0M5.1 -10.4h0M6.6 -30.6h0M12.9 -30h0M40.3 -3.1h0M8.1 -3.4h0M34.1 -10.2h0M11.2 -4.9h0M13.2 -33h0M5.7 -28.5h0M44.3 -13.5h0M12.3 -24.8h0M7.5 -29.8h0M43.7 -8.5h0M13.7 -9.6h0M10.6 -38.2h0M33.5 -12.9h0M16.3 -5h0M13.5 -29h0M34 -15.3h0M18.1 -12h0M13 -22.9h0M8 -28.8h0M6.5 -17h0M29.8 -8.5h0M10.2 -40.9h0M10 -3.5h0M39.8 -21.9h0M12.6 -29.6h0M43.5 -6.4h0M12.6 -3h0M36.4 -16.7h0M6.3 -28.6h0M20.1 -9.5h0M13 -6.5h0M36.7 -12.9h0M7 -5.7h0M20.6 -6.9h0M18 -9.7h0M37.4 -7.2h0M38.4 -21h0M13.5 -18.8h0M40.5 -18.5h0M11.7 -6.5h0M43.2 -11.1h0M39.6 -18.9h0M40.1 -22.1h0M30.3 -9.8h0M5 -12.7h0M14 -11h0M6.1 -22.1h0M11.1 -35h0M22.9 -6.8h0M7.7 -42h0M37.7 -18.9h0M17.5 -8h0M6 -24.9h0M35.5 -13.9h0M40.3 -3.7h0M9.2 -38.2h0M38.1 -17.1h0M6.6 -7.2h0M33.2 -11.8h0M7 -25h0M36.6 -8.4h0M44.1 -14.4h0M10.2 -32.8h0M37.9 -24.1h0M10.1 -48.7h0M7.9 -32.1h0M10.2 -41.5h0M44 -8.3h0M16.6 -12.8h0M23 -9.7h0M13.6 -27.5h0M14.2 -24.4h0M40.7 -5.3h0M34.9 -12.7h0M8 -41.6h0M13.3 -33.6h0M43.1 -15.6h0M22.1 -9h0M8.3 -4.4h0M11.6 -28.2h0M13.1 -5h0M14.9 -7h0M34.8 -6.7h0M10.4 -51.7h0M6.1 -13.1h0M34.5 -10.3h0M43.7 -19.4h0M31.9 -8.6h0M42.5 -8.3h0M12.7 -20.2h0M10.4 -34.4h0M6.3 -17.9h0M31.4 -8.2h0M12.3 -29.5h0M44.3 -17.4h0M7.3 -34.6h0M38.9 -6.3h0M36.3 -21.1h0M13.9 -13.7h0M4.7 -9.1h0M39.5 -24.8h0M39.3 -20.9h0M39.4 -20.2h0M11.5 -36.6h0M7.7 -6.9h0M32.8 -11.9h0M38.9 -6.6h0M30.2 -8.9h0M38.5 -6.7h0M7.8 -25.1h0M8.4 -44.6h0M8.2 -41.6h0M35.2 -8h0M6.4 -5.6h0M10.2 -37.3h0M7.2 -27.7h0M26 -6.7h0M13.8 -28h0M41 -21.6h0M16.3 -7.2h0M36.1 -4.4h0M16.1 -8.3h0M7.7 -34.6h0M43.7 -7.6h0M41.9 -21.8h0M44.9 -14.7h0M14.2 -20h0M39.9 -23.4h0M36.1 -6.2h0M8.6 -39.1h0M36 -15.1h0M33.4 -10.2h0M13.8 -20h0M15.1 -7.6h0M12.9 -33.1h0M7.5 -33.8h0M35.5 -20.4h0M12.9 -26.9h0M41.5 -12.6h0M5.8 -10.2h0M5.4 -9.4h0M5.1 -12.5h0M11.6 -40.7h0M11.9 -41.3h0M20 -5.7h0M18.1 -9.2h0M42.1 -10.7h0M41.7 -13.5h0M39.3 -25.3h0M42.6 -21.2h0M36.3 -15h0M36.1 -3.1h0M42.6 -11.2h0M41.5 -22.4h0M12.5 -41.9h0M5 -13.8h0M11.5 -33.7h0M10.4 -3.3h0M13.7 -7.3h0M31.8 -7h0M7.4 -30.6h0M8.8 -32.1h0M9.7 -35.7h0M34.4 -8.3h0M32.6 -12h0M38.8 -24.1h0M45 -9.9h0M12.8 -18.4h0M7.4 -19.5h0M14.4 -28.5h0M9.6 -45.6h0M39 -4.4h0M13.8 -32.1h0M24.9 -6.7h0M13.8 -24.7h0M44 -13.6h0M7.4 -29.8h0M16.2 -8.3h0M9.2 -36.3h0M5.1 -5.5h0M9 -33.8h0M10.1 -31.2h0M39.6 -22.7h0M36.7 -4.6h0M14.4 -4.6h0M28.1 -8.1h0M6.9 -8.9h0M12.5 -4.5h0M11.6 -29.6h0M37.4 -14.9h0M40.2 -1.5h0M13.8 -23.3h0M8.2 -35.4h0M15.8 -7h0M16.3 -12.9h0M12.3 -30.1h0M13.1 -20.6h0M10 -40.3h0M14.1 -8.4h0M9.9 -32.4h0M9.4 -5.8h0M18.1 -9.4h0M12.5 -35.3h0M35.4 -17.6h0M40.3 -17.2h0M35.9 -16.8h0M43.1 -20.8h0M13.6 -9.6h0M12.5 -32.7h0M41.5 -14h0M19.1 -7.3h0M5.9 -20.7h0M34.9 -8.7h0M5 -24.2h0M42.5 -6.2h0M25.3 -8.9h0M10.9 -28.3h0M6.1 -8.1h0M6.9 -30.6h0M17.3 -6.7h0M13.8 -5.5h0M8.2 -46.7h0M17.2 -11.4h0M43 -11.4h0M12.5 -35.7h0M34.8 -10.9h0M7.2 -41h0M42.7 -7.5h0M21.4 -8.2h0M43.8 -16.9h0M5.9 -16.3h0M41.4 -4.6h0M36.3 -9.1h0M7.1 -4.8h0M11.3 -5.4h0M35.8 -9.8h0M40.9 -24.3h0M43.4 -20.3h0M10.4 -47.3h0M33.1 -9.6h0M5.5 -15.9h0M8 -33.7h0M7.6 -25h0M14.5 -11h0M43.3 -14.4h0M39.5 -23.6h0M40.8 -3.5h0M8.2 -30.8h0M26.8 -7.4h0M38.1 -5.4h0M32.2 -7.4h0M32.8 -10.3h0M35.2 -9.4h0M38.7 -6.4h0M42.6 -10.6h0M9.7 -28.1h0M42.4 -9.3h0M31.8 -6.4h0M9.1 -40.1h0M10.7 -46.1h0M5.2 -24h0M10 -40.7h0M7.3 -34h0M4.4 -9.4h0M41.4 -4.8h0M15.1 -11.4h0M11.2 -47.9h0M42.6 -15h0M13.6 -5.5h0M6 -7.6h0M7 -30.5h0M37.9 -5.1h0M11.8 -29.2h0M10.7 -32.7h0M6.5 -31.8h0M44.2 -14h0M5.6 -14.3h0M9.4 -42h0M43.1 -6.5h0M10.4 -41.7h0M38.5 -17h0M34.8 -10.6h0M11.4 -42.8h0M30.6 -8h0M41.5 -4.6h0M37.9 -19.8h0M18.7 -8.9h0M26.6 -8.8h0M36.9 -5.5h0M11.8 -29.6h0M39.2 -6.7h0M40.5 -3.1h0M42 -11.4h0M6.1 -33.1h0M6.3 -31h0M17.5 -12.9h0M4.4 -12.9h0M13.9 -18.8h0M35.9 -4.1h0M39.7 -4.5h0M7.9 -4.1h0M40.5 -1.8h0M16.6 -7.4h0M35.4 -13.5h0M22.9 -9.8h0M38 -23.6h0M9.9 -45.2h0M33.8 -16.1h0M12.8 -5.3h0M6.7 -5.7h0M6.1 -13.4h0M11 -29.6h0M41.3 -19.1h0M37.4 -8.6h0M10.4 -42h0M11.2 -38.4h0M9.8 -51.1h0M9.5 -47.4h0M7.2 -37.9h0M42.3 -6.1h0M39.6 -18.5h0M15.3 -4.3h0M12.3 -37.3h0M15.1 -15.4h0M9.3 -42h0M9.4 -40h0M35.7 -15.8h0M10.1 -39.7h0M32.1 -10.7h0M9.1 -41.1h0M34.6 -3.8h0M15.2 -14.2h0M10.5 -30.3h0M42.5 -3.3h0M11.3 -38.4h0M35.5 -15h0M38.9 -4.2h0M13.6 -19.9h0M13.8 -19.9h0M7.7 -36.1h0M13.6 -15.9h0M6.1 -16.3h0M9.8 -31.9h0M41.8 -20.3h0M25.5 -8.9h0M10.7 -30.1h0M22.7 -6.3h0M10.7 -48.2h0M18.4 -8.5h0M42.5 -6.1h0M13.5 -30.8h0M8.8 -31.6h0M37 -20.8h0M31 -7.8h0M6.9 -16.4h0M6.3 -29.7h0M43.5 -13.2h0M6.5 -24h0M39.4 -1.8h0M35.8 -16h0M32.7 -10.8h0M10.3 -40.5h0M9.1 -43.5h0M13.2 -36.1h0M17.6 -11.1h0M8.4 -36.4h0M36.7 -4.9h0M13.4 -25h0M6.7 -23.4h0M36.9 -6.5h0M5.5 -11.8h0M43.1 -18.9h0M10.9 -38.5h0M9.1 -39.4h0M40.6 -15.5h0M38.8 -5.8h0M42.2 -15.3h0M42.3 -20.4h0M11.1 -44.5h0M35.1 -15.2h0M8.5 -26.4h0M6.6 -4.5h0M14.9 -17.5h0M27.1 -9.1h0M14.9 -22.9h0M13.5 -10.4h0M40.6 -22.3h0M13.1 -26.9h0M6.1 -10.9h0M43 -16.9h0M7 -16.7h0M10.4 -4.8h0M7.8 -33h0M36.1 -17.9h0M10.3 -42h0M37.7 -20.8h0M39.6 -7.3h0M33.8 -13.5h0M41.4 -2.8h0M34 -8.2h0M39.4 -3.8h0M43.1 -13.9h0M11 -28.6h0M44.2 -13.4h0M12.5 -21.8h0M6.6 -4.8h0M42.7 -13.9h0M36.4 -16.4h0M13.4 -33.1h0M7.6 -4.7h0"/></g></g></defs>
<text x="1.6" y="14.6" font-size="23" stroke="#111" stroke-width=".28">a</text><text x="153" y="10.5" font-size="9" text-anchor="middle" stroke="#111" stroke-width=".28">Control</text><text x="240" y="10.5" font-size="9" text-anchor="middle" stroke="#111" stroke-width=".28">DAC-0.5μM</text><text x="331" y="10.5" font-size="9" text-anchor="middle" stroke="#111" stroke-width=".28">DAC-1μM</text><text x="153.3" y="415" font-size="9" text-anchor="middle" stroke="#111" stroke-width=".28">Control</text><text x="238.8" y="415" font-size="9" text-anchor="middle" stroke="#111" stroke-width=".28">DAC-0.5μM</text><text x="330.5" y="415" font-size="9" text-anchor="middle" stroke="#111" stroke-width=".28">DAC-1μM</text><text x="2.2" y="414.3" font-size="22.5" stroke="#111" stroke-width=".28">b</text><path d="M90.6 378L90.6 35" stroke="#2a2a2a" stroke-width="1.2"/><path d="M88.1 36.6L93 36.6L90.6 26Z" fill="#1a1a1a"/><path d="M90 378L355 378" stroke="#2a2a2a" stroke-width="1.2"/><path d="M353.5 375.8L353.5 380.2L364 378Z" fill="#1a1a1a"/><path d="M90.6 784L90.6 439.4" stroke="#2a2a2a" stroke-width="1.2"/><path d="M88.1 441L93 441L90.6 430.4Z" fill="#1a1a1a"/><path d="M90 784L356.6 784" stroke="#2a2a2a" stroke-width="1.2"/><path d="M355.1 781.8L355.1 786.2L365.6 784Z" fill="#1a1a1a"/><text x="230.2" y="393" font-size="9.6" text-anchor="middle" textLength="8.2" lengthAdjust="spacingAndGlyphs" stroke="#111" stroke-width=".28">PI</text><text x="230.8" y="799" font-size="9.6" text-anchor="middle" textLength="8.2" lengthAdjust="spacingAndGlyphs" stroke="#111" stroke-width=".28">PI</text><text transform="translate(83 191.5) rotate(-90)" font-size="10" text-anchor="middle" textLength="15.6" lengthAdjust="spacingAndGlyphs" stroke="#111" stroke-width=".32">SSC</text><text transform="translate(82.6 596.4) rotate(-90)" font-size="10" text-anchor="middle" textLength="16" lengthAdjust="spacingAndGlyphs" stroke="#111" stroke-width=".32">SSC</text><path d="M60.7 39.5L60.7 171.7" stroke="#8a8a8a" stroke-width=".9"/><text transform="translate(46.5 109.6) rotate(-90)" font-size="10" text-anchor="middle" textLength="29.6" lengthAdjust="spacingAndGlyphs" stroke="#111" stroke-width=".32">MKN45</text><path d="M60.7 216L60.7 347.7" stroke="#8a8a8a" stroke-width=".9"/><text transform="translate(46.1 276.8) rotate(-90)" font-size="10" text-anchor="middle" textLength="29.6" lengthAdjust="spacingAndGlyphs" stroke="#111" stroke-width=".32">NUGC4</text><path d="M60.7 443.9L60.7 576.8" stroke="#8a8a8a" stroke-width=".9"/><text transform="translate(46.5 514.8) rotate(-90)" font-size="10" text-anchor="middle" textLength="29.6" lengthAdjust="spacingAndGlyphs" stroke="#111" stroke-width=".32">MKN45</text><path d="M60.7 621.7L60.7 753.4" stroke="#8a8a8a" stroke-width=".9"/><text transform="translate(46.5 682.2) rotate(-90)" font-size="10" text-anchor="middle" textLength="29.6" lengthAdjust="spacingAndGlyphs" stroke="#111" stroke-width=".32">NUGC4</text><path d="M376.3 38.4L376.3 163.3" stroke="#8a8a8a" stroke-width=".9"/><path d="M384.1 60.3A3.3 2.9 0 0 1 390.5 60.3M384.1 69.7A3.3 2.9 0 0 0 390.5 69.7" stroke="#444" stroke-width=".95" fill="none"/><path d="M386.5 62.1L386.5 67.7" stroke="#333" stroke-width="1.1"/><path d="M384.1 140.3A3.3 2.9 0 0 1 390.5 140.3M384.1 149.7A3.3 2.9 0 0 0 390.5 149.7" stroke="#444" stroke-width=".95" fill="none"/><path d="M386.5 142.1L386.5 147.9" stroke="#333" stroke-width="1.1"/><path d="M383.6 145L389.4 145" stroke="#333" stroke-width="1.1"/><text transform="translate(405.2 103.5) rotate(90)" font-size="10" text-anchor="middle" textLength="92.5" lengthAdjust="spacingAndGlyphs" stroke="#111" stroke-width=".32">Cell culture supernatant</text><path d="M376.3 215.8L376.3 346.8" stroke="#8a8a8a" stroke-width=".9"/><path d="M384.1 238.6A3.3 2.9 0 0 1 390.5 238.6M384.1 248A3.3 2.9 0 0 0 390.5 248" stroke="#444" stroke-width=".95" fill="none"/><path d="M386.5 240.4L386.5 246" stroke="#333" stroke-width="1.1"/><path d="M384.1 317.5A3.3 2.9 0 0 1 390.5 317.5M384.1 326.9A3.3 2.9 0 0 0 390.5 326.9" stroke="#444" stroke-width=".95" fill="none"/><path d="M386.5 319.3L386.5 325.1" stroke="#333" stroke-width="1.1"/><path d="M383.6 322.2L389.4 322.2" stroke="#333" stroke-width="1.1"/><text transform="translate(404.8 283.3) rotate(90)" font-size="10" text-anchor="middle" textLength="91" lengthAdjust="spacingAndGlyphs" stroke="#111" stroke-width=".32">Cell culture supernatant</text><path d="M378 443.1L378 575.4" stroke="#8a8a8a" stroke-width=".9"/><path d="M385.8 474.9A3.3 2.9 0 0 1 392.2 474.9M385.8 484.3A3.3 2.9 0 0 0 392.2 484.3" stroke="#444" stroke-width=".95" fill="none"/><path d="M388.2 476.7L388.2 482.3" stroke="#333" stroke-width="1.1"/><path d="M385.8 548.9A3.3 2.9 0 0 1 392.2 548.9M385.8 558.3A3.3 2.9 0 0 0 392.2 558.3" stroke="#444" stroke-width=".95" fill="none"/><path d="M388.2 550.7L388.2 556.5" stroke="#333" stroke-width="1.1"/><path d="M385.3 553.6L391.1 553.6" stroke="#333" stroke-width="1.1"/><text transform="translate(406.6 509.8) rotate(90)" font-size="10" text-anchor="middle" textLength="45.5" lengthAdjust="spacingAndGlyphs" stroke="#111" stroke-width=".32">Anti-TNF-α</text><path d="M377.7 621.7L377.7 753.6" stroke="#8a8a8a" stroke-width=".9"/><path d="M385.5 639A3.3 2.9 0 0 1 391.9 639M385.5 648.4A3.3 2.9 0 0 0 391.9 648.4" stroke="#444" stroke-width=".95" fill="none"/><path d="M387.9 640.8L387.9 646.4" stroke="#333" stroke-width="1.1"/><path d="M385.5 712.8A3.3 2.9 0 0 1 391.9 712.8M385.5 722.2A3.3 2.9 0 0 0 391.9 722.2" stroke="#444" stroke-width=".95" fill="none"/><path d="M387.9 714.6L387.9 720.4" stroke="#333" stroke-width="1.1"/><path d="M385 717.5L390.8 717.5" stroke="#333" stroke-width="1.1"/><text transform="translate(406.6 687.8) rotate(90)" font-size="10" text-anchor="middle" textLength="45.8" lengthAdjust="spacingAndGlyphs" stroke="#111" stroke-width=".32">Anti-TNF-α</text><use href="#a0" x="114.6" y="101"/><rect x="114.6" y="30.3" width="71.4" height="70.7" fill="none" stroke="#b8b8b8" stroke-width=".9"/><path d="M114.6 30.3L114.6 101.5" stroke="#808080" stroke-width=".8"/><path d="M114.2 101L186 101" stroke="#808080" stroke-width=".8"/><path d="M114.6 101h-.9M114.6 99h-.9M114.6 97h-.9M114.6 95h-.9M114.6 93h-.9M114.6 91h-.9M114.6 89h-.9M114.6 87h-.9M114.6 85h-.9M114.6 83h-.9M114.6 81h-.9M114.6 79h-.9M114.6 77h-.9M114.6 75h-.9M114.6 73h-.9M114.6 71h-.9M114.6 69h-.9M114.6 67h-.9M114.6 65h-.9M114.6 63h-.9M114.6 61h-.9M114.6 59h-.9M114.6 57h-.9M114.6 55h-.9M114.6 53h-.9M114.6 51h-.9M114.6 49h-.9M114.6 47h-.9M114.6 45h-.9M114.6 43h-.9M114.6 41h-.9M114.6 39h-.9M114.6 37h-.9M114.6 35h-.9M114.6 33h-.9M116.6 101v.9M118.6 101v.9M120.6 101v.9M122.6 101v.9M124.6 101v.9M126.6 101v.9M128.6 101v.9M130.6 101v.9M132.6 101v.9M134.6 101v.9M136.6 101v.9M138.6 101v.9M140.6 101v.9M142.6 101v.9M144.6 101v.9M146.6 101v.9M148.6 101v.9M150.6 101v.9M152.6 101v.9M154.6 101v.9M156.6 101v.9M158.6 101v.9M160.6 101v.9M162.6 101v.9M164.6 101v.9M166.6 101v.9M168.6 101v.9M170.6 101v.9M172.6 101v.9M174.6 101v.9M176.6 101v.9M178.6 101v.9M180.6 101v.9M182.6 101v.9M184.6 101v.9" stroke="#999" stroke-width=".45"/><text x="112.3" y="101.2" font-size="2.9" font-weight="normal" text-anchor="end" fill="#555" font-family="Liberation Sans">0</text><text x="112.3" y="79.3" font-size="2.9" font-weight="normal" text-anchor="end" fill="#555" font-family="Liberation Sans">500K</text><text x="112.3" y="55.5" font-size="2.9" font-weight="normal" text-anchor="end" fill="#555" font-family="Liberation Sans">1.0M</text><text x="112.3" y="32.9" font-size="2.9" font-weight="normal" text-anchor="end" fill="#555" font-family="Liberation Sans">1.5M</text><text x="129" y="106.6" font-size="2.9" font-weight="normal" text-anchor="middle" fill="#666" font-family="Liberation Sans">0</text><text x="153.5" y="106.6" font-size="2.9" font-weight="normal" text-anchor="middle" fill="#666" font-family="Liberation Sans">10⁴</text><text x="166.4" y="106.6" font-size="2.9" font-weight="normal" text-anchor="middle" fill="#666" font-family="Liberation Sans">10⁵</text><text x="178.8" y="106.6" font-size="2.9" font-weight="normal" text-anchor="middle" fill="#666" font-family="Liberation Sans">10⁶</text><path d="M114.6 99.7h-1.8M114.6 77.8h-1.8M114.6 54h-1.8M114.6 31.4h-1.8M128.6 101v1.8M153.1 101v1.8M166 101v1.8M178.4 101v1.8" stroke="#333" stroke-width=".7"/><rect x="121.6" y="100.8" width="2.2" height="1.6" fill="#222" stroke="none" stroke-width="1"/><rect x="142.2" y="42.4" width="38.2" height="57.4" fill="none" stroke="#505050" stroke-width=".8"/><text x="162.1" y="68.8" font-size="2.8" font-weight="normal" text-anchor="middle" fill="#555" font-family="Liberation Sans">PI</text><text x="162.1" y="73.4" font-size="2.8" font-weight="normal" text-anchor="middle" fill="#555" font-family="Liberation Sans">20.2</text><use href="#a1" x="203.6" y="101"/><rect x="203.6" y="30.4" width="71.9" height="70.6" fill="none" stroke="#b8b8b8" stroke-width=".9"/><path d="M203.6 30.4L203.6 101.5" stroke="#808080" stroke-width=".8"/><path d="M203.2 101L275.5 101" stroke="#808080" stroke-width=".8"/><path d="M203.6 101h-.9M203.6 99h-.9M203.6 97h-.9M203.6 95h-.9M203.6 93h-.9M203.6 91h-.9M203.6 89h-.9M203.6 87h-.9M203.6 85h-.9M203.6 83h-.9M203.6 81h-.9M203.6 79h-.9M203.6 77h-.9M203.6 75h-.9M203.6 73h-.9M203.6 71h-.9M203.6 69h-.9M203.6 67h-.9M203.6 65h-.9M203.6 63h-.9M203.6 61h-.9M203.6 59h-.9M203.6 57h-.9M203.6 55h-.9M203.6 53h-.9M203.6 51h-.9M203.6 49h-.9M203.6 47h-.9M203.6 45h-.9M203.6 43h-.9M203.6 41h-.9M203.6 39h-.9M203.6 37h-.9M203.6 35h-.9M203.6 33h-.9M205.6 101v.9M207.6 101v.9M209.6 101v.9M211.6 101v.9M213.6 101v.9M215.6 101v.9M217.6 101v.9M219.6 101v.9M221.6 101v.9M223.6 101v.9M225.6 101v.9M227.6 101v.9M229.6 101v.9M231.6 101v.9M233.6 101v.9M235.6 101v.9M237.6 101v.9M239.6 101v.9M241.6 101v.9M243.6 101v.9M245.6 101v.9M247.6 101v.9M249.6 101v.9M251.6 101v.9M253.6 101v.9M255.6 101v.9M257.6 101v.9M259.6 101v.9M261.6 101v.9M263.6 101v.9M265.6 101v.9M267.6 101v.9M269.6 101v.9M271.6 101v.9M273.6 101v.9" stroke="#999" stroke-width=".45"/><text x="201.3" y="101.2" font-size="2.9" font-weight="normal" text-anchor="end" fill="#555" font-family="Liberation Sans">0</text><text x="201.3" y="79.3" font-size="2.9" font-weight="normal" text-anchor="end" fill="#555" font-family="Liberation Sans">500K</text><text x="201.3" y="55.5" font-size="2.9" font-weight="normal" text-anchor="end" fill="#555" font-family="Liberation Sans">1.0M</text><text x="201.3" y="32.9" font-size="2.9" font-weight="normal" text-anchor="end" fill="#555" font-family="Liberation Sans">1.5M</text><text x="218" y="106.6" font-size="2.9" font-weight="normal" text-anchor="middle" fill="#666" font-family="Liberation Sans">0</text><text x="242.5" y="106.6" font-size="2.9" font-weight="normal" text-anchor="middle" fill="#666" font-family="Liberation Sans">10⁴</text><text x="255.4" y="106.6" font-size="2.9" font-weight="normal" text-anchor="middle" fill="#666" font-family="Liberation Sans">10⁵</text><text x="267.8" y="106.6" font-size="2.9" font-weight="normal" text-anchor="middle" fill="#666" font-family="Liberation Sans">10⁶</text><path d="M203.6 99.7h-1.8M203.6 77.8h-1.8M203.6 54h-1.8M203.6 31.4h-1.8M217.6 101v1.8M242.1 101v1.8M255 101v1.8M267.4 101v1.8" stroke="#333" stroke-width=".7"/><rect x="210.6" y="100.8" width="2.2" height="1.6" fill="#222" stroke="none" stroke-width="1"/><rect x="231.3" y="42.4" width="38.4" height="57.4" fill="none" stroke="#505050" stroke-width=".8"/><text x="251.3" y="68.8" font-size="2.8" font-weight="normal" text-anchor="middle" fill="#555" font-family="Liberation Sans">PI</text><text x="251.3" y="73.4" font-size="2.8" font-weight="normal" text-anchor="middle" fill="#555" font-family="Liberation Sans">24.8</text><use href="#a2" x="293.2" y="101"/><rect x="293.2" y="30.4" width="72.1" height="70.6" fill="none" stroke="#b8b8b8" stroke-width=".9"/><path d="M293.2 30.4L293.2 101.5" stroke="#808080" stroke-width=".8"/><path d="M292.8 101L365.3 101" stroke="#808080" stroke-width=".8"/><path d="M293.2 101h-.9M293.2 99h-.9M293.2 97h-.9M293.2 95h-.9M293.2 93h-.9M293.2 91h-.9M293.2 89h-.9M293.2 87h-.9M293.2 85h-.9M293.2 83h-.9M293.2 81h-.9M293.2 79h-.9M293.2 77h-.9M293.2 75h-.9M293.2 73h-.9M293.2 71h-.9M293.2 69h-.9M293.2 67h-.9M293.2 65h-.9M293.2 63h-.9M293.2 61h-.9M293.2 59h-.9M293.2 57h-.9M293.2 55h-.9M293.2 53h-.9M293.2 51h-.9M293.2 49h-.9M293.2 47h-.9M293.2 45h-.9M293.2 43h-.9M293.2 41h-.9M293.2 39h-.9M293.2 37h-.9M293.2 35h-.9M293.2 33h-.9M295.2 101v.9M297.2 101v.9M299.2 101v.9M301.2 101v.9M303.2 101v.9M305.2 101v.9M307.2 101v.9M309.2 101v.9M311.2 101v.9M313.2 101v.9M315.2 101v.9M317.2 101v.9M319.2 101v.9M321.2 101v.9M323.2 101v.9M325.2 101v.9M327.2 101v.9M329.2 101v.9M331.2 101v.9M333.2 101v.9M335.2 101v.9M337.2 101v.9M339.2 101v.9M341.2 101v.9M343.2 101v.9M345.2 101v.9M347.2 101v.9M349.2 101v.9M351.2 101v.9M353.2 101v.9M355.2 101v.9M357.2 101v.9M359.2 101v.9M361.2 101v.9M363.2 101v.9" stroke="#999" stroke-width=".45"/><text x="290.9" y="101.2" font-size="2.9" font-weight="normal" text-anchor="end" fill="#555" font-family="Liberation Sans">0</text><text x="290.9" y="79.3" font-size="2.9" font-weight="normal" text-anchor="end" fill="#555" font-family="Liberation Sans">500K</text><text x="290.9" y="55.5" font-size="2.9" font-weight="normal" text-anchor="end" fill="#555" font-family="Liberation Sans">1.0M</text><text x="290.9" y="32.9" font-size="2.9" font-weight="normal" text-anchor="end" fill="#555" font-family="Liberation Sans">1.5M</text><text x="307.6" y="106.6" font-size="2.9" font-weight="normal" text-anchor="middle" fill="#666" font-family="Liberation Sans">0</text><text x="332.1" y="106.6" font-size="2.9" font-weight="normal" text-anchor="middle" fill="#666" font-family="Liberation Sans">10⁴</text><text x="345" y="106.6" font-size="2.9" font-weight="normal" text-anchor="middle" fill="#666" font-family="Liberation Sans">10⁵</text><text x="357.4" y="106.6" font-size="2.9" font-weight="normal" text-anchor="middle" fill="#666" font-family="Liberation Sans">10⁶</text><path d="M293.2 99.7h-1.8M293.2 77.8h-1.8M293.2 54h-1.8M293.2 31.4h-1.8M307.2 101v1.8M331.7 101v1.8M344.6 101v1.8M357 101v1.8" stroke="#333" stroke-width=".7"/><rect x="300.2" y="100.8" width="2.2" height="1.6" fill="#222" stroke="none" stroke-width="1"/><rect x="321.5" y="42.4" width="38.2" height="57.4" fill="none" stroke="#505050" stroke-width=".8"/><text x="341.4" y="68.8" font-size="2.8" font-weight="normal" text-anchor="middle" fill="#555" font-family="Liberation Sans">PI</text><text x="341.4" y="73.4" font-size="2.8" font-weight="normal" text-anchor="middle" fill="#555" font-family="Liberation Sans">32.4</text><use href="#a3" x="114.6" y="184.7"/><rect x="114.6" y="113.9" width="71.4" height="70.8" fill="none" stroke="#b8b8b8" stroke-width=".9"/><path d="M114.6 113.9L114.6 185.2" stroke="#808080" stroke-width=".8"/><path d="M114.2 184.7L186 184.7" stroke="#808080" stroke-width=".8"/><path d="M114.6 184.7h-.9M114.6 182.7h-.9M114.6 180.7h-.9M114.6 178.7h-.9M114.6 176.7h-.9M114.6 174.7h-.9M114.6 172.7h-.9M114.6 170.7h-.9M114.6 168.7h-.9M114.6 166.7h-.9M114.6 164.7h-.9M114.6 162.7h-.9M114.6 160.7h-.9M114.6 158.7h-.9M114.6 156.7h-.9M114.6 154.7h-.9M114.6 152.7h-.9M114.6 150.7h-.9M114.6 148.7h-.9M114.6 146.7h-.9M114.6 144.7h-.9M114.6 142.7h-.9M114.6 140.7h-.9M114.6 138.7h-.9M114.6 136.7h-.9M114.6 134.7h-.9M114.6 132.7h-.9M114.6 130.7h-.9M114.6 128.7h-.9M114.6 126.7h-.9M114.6 124.7h-.9M114.6 122.7h-.9M114.6 120.7h-.9M114.6 118.7h-.9M114.6 116.7h-.9M116.6 184.7v.9M118.6 184.7v.9M120.6 184.7v.9M122.6 184.7v.9M124.6 184.7v.9M126.6 184.7v.9M128.6 184.7v.9M130.6 184.7v.9M132.6 184.7v.9M134.6 184.7v.9M136.6 184.7v.9M138.6 184.7v.9M140.6 184.7v.9M142.6 184.7v.9M144.6 184.7v.9M146.6 184.7v.9M148.6 184.7v.9M150.6 184.7v.9M152.6 184.7v.9M154.6 184.7v.9M156.6 184.7v.9M158.6 184.7v.9M160.6 184.7v.9M162.6 184.7v.9M164.6 184.7v.9M166.6 184.7v.9M168.6 184.7v.9M170.6 184.7v.9M172.6 184.7v.9M174.6 184.7v.9M176.6 184.7v.9M178.6 184.7v.9M180.6 184.7v.9M182.6 184.7v.9M184.6 184.7v.9" stroke="#999" stroke-width=".45"/><text x="112.3" y="184.9" font-size="2.9" font-weight="normal" text-anchor="end" fill="#555" font-family="Liberation Sans">0</text><text x="112.3" y="163" font-size="2.9" font-weight="normal" text-anchor="end" fill="#555" font-family="Liberation Sans">500K</text><text x="112.3" y="139.2" font-size="2.9" font-weight="normal" text-anchor="end" fill="#555" font-family="Liberation Sans">1.0M</text><text x="112.3" y="116.6" font-size="2.9" font-weight="normal" text-anchor="end" fill="#555" font-family="Liberation Sans">1.5M</text><text x="129" y="190.3" font-size="2.9" font-weight="normal" text-anchor="middle" fill="#666" font-family="Liberation Sans">0</text><text x="153.5" y="190.3" font-size="2.9" font-weight="normal" text-anchor="middle" fill="#666" font-family="Liberation Sans">10⁴</text><text x="166.4" y="190.3" font-size="2.9" font-weight="normal" text-anchor="middle" fill="#666" font-family="Liberation Sans">10⁵</text><text x="178.8" y="190.3" font-size="2.9" font-weight="normal" text-anchor="middle" fill="#666" font-family="Liberation Sans">10⁶</text><path d="M114.6 183.4h-1.8M114.6 161.5h-1.8M114.6 137.7h-1.8M114.6 115.1h-1.8M128.6 184.7v1.8M153.1 184.7v1.8M166 184.7v1.8M178.4 184.7v1.8" stroke="#333" stroke-width=".7"/><rect x="121.6" y="184.5" width="2.2" height="1.6" fill="#222" stroke="none" stroke-width="1"/><rect x="142.2" y="126.5" width="38.2" height="56.9" fill="none" stroke="#505050" stroke-width=".8"/><text x="162.1" y="152.7" font-size="2.8" font-weight="normal" text-anchor="middle" fill="#555" font-family="Liberation Sans">PI</text><text x="162.1" y="157.3" font-size="2.8" font-weight="normal" text-anchor="middle" fill="#555" font-family="Liberation Sans">28.7</text><use href="#a4" x="203.6" y="184.7"/><rect x="203.6" y="113.9" width="71.9" height="70.8" fill="none" stroke="#b8b8b8" stroke-width=".9"/><path d="M203.6 113.9L203.6 185.2" stroke="#808080" stroke-width=".8"/><path d="M203.2 184.7L275.5 184.7" stroke="#808080" stroke-width=".8"/><path d="M203.6 184.7h-.9M203.6 182.7h-.9M203.6 180.7h-.9M203.6 178.7h-.9M203.6 176.7h-.9M203.6 174.7h-.9M203.6 172.7h-.9M203.6 170.7h-.9M203.6 168.7h-.9M203.6 166.7h-.9M203.6 164.7h-.9M203.6 162.7h-.9M203.6 160.7h-.9M203.6 158.7h-.9M203.6 156.7h-.9M203.6 154.7h-.9M203.6 152.7h-.9M203.6 150.7h-.9M203.6 148.7h-.9M203.6 146.7h-.9M203.6 144.7h-.9M203.6 142.7h-.9M203.6 140.7h-.9M203.6 138.7h-.9M203.6 136.7h-.9M203.6 134.7h-.9M203.6 132.7h-.9M203.6 130.7h-.9M203.6 128.7h-.9M203.6 126.7h-.9M203.6 124.7h-.9M203.6 122.7h-.9M203.6 120.7h-.9M203.6 118.7h-.9M203.6 116.7h-.9M205.6 184.7v.9M207.6 184.7v.9M209.6 184.7v.9M211.6 184.7v.9M213.6 184.7v.9M215.6 184.7v.9M217.6 184.7v.9M219.6 184.7v.9M221.6 184.7v.9M223.6 184.7v.9M225.6 184.7v.9M227.6 184.7v.9M229.6 184.7v.9M231.6 184.7v.9M233.6 184.7v.9M235.6 184.7v.9M237.6 184.7v.9M239.6 184.7v.9M241.6 184.7v.9M243.6 184.7v.9M245.6 184.7v.9M247.6 184.7v.9M249.6 184.7v.9M251.6 184.7v.9M253.6 184.7v.9M255.6 184.7v.9M257.6 184.7v.9M259.6 184.7v.9M261.6 184.7v.9M263.6 184.7v.9M265.6 184.7v.9M267.6 184.7v.9M269.6 184.7v.9M271.6 184.7v.9M273.6 184.7v.9" stroke="#999" stroke-width=".45"/><text x="201.3" y="184.9" font-size="2.9" font-weight="normal" text-anchor="end" fill="#555" font-family="Liberation Sans">0</text><text x="201.3" y="163" font-size="2.9" font-weight="normal" text-anchor="end" fill="#555" font-family="Liberation Sans">500K</text><text x="201.3" y="139.2" font-size="2.9" font-weight="normal" text-anchor="end" fill="#555" font-family="Liberation Sans">1.0M</text><text x="201.3" y="116.6" font-size="2.9" font-weight="normal" text-anchor="end" fill="#555" font-family="Liberation Sans">1.5M</text><text x="218" y="190.3" font-size="2.9" font-weight="normal" text-anchor="middle" fill="#666" font-family="Liberation Sans">0</text><text x="242.5" y="190.3" font-size="2.9" font-weight="normal" text-anchor="middle" fill="#666" font-family="Liberation Sans">10⁴</text><text x="255.4" y="190.3" font-size="2.9" font-weight="normal" text-anchor="middle" fill="#666" font-family="Liberation Sans">10⁵</text><text x="267.8" y="190.3" font-size="2.9" font-weight="normal" text-anchor="middle" fill="#666" font-family="Liberation Sans">10⁶</text><path d="M203.6 183.4h-1.8M203.6 161.5h-1.8M203.6 137.7h-1.8M203.6 115.1h-1.8M217.6 184.7v1.8M242.1 184.7v1.8M255 184.7v1.8M267.4 184.7v1.8" stroke="#333" stroke-width=".7"/><rect x="210.6" y="184.5" width="2.2" height="1.6" fill="#222" stroke="none" stroke-width="1"/><rect x="231.3" y="126.5" width="38.4" height="56.9" fill="none" stroke="#505050" stroke-width=".8"/><text x="251.3" y="152.7" font-size="2.8" font-weight="normal" text-anchor="middle" fill="#555" font-family="Liberation Sans">PI</text><text x="251.3" y="157.3" font-size="2.8" font-weight="normal" text-anchor="middle" fill="#555" font-family="Liberation Sans">28.5</text><use href="#a5" x="293.2" y="184.7"/><rect x="293.2" y="113.9" width="72.1" height="70.8" fill="none" stroke="#b8b8b8" stroke-width=".9"/><path d="M293.2 113.9L293.2 185.2" stroke="#808080" stroke-width=".8"/><path d="M292.8 184.7L365.3 184.7" stroke="#808080" stroke-width=".8"/><path d="M293.2 184.7h-.9M293.2 182.7h-.9M293.2 180.7h-.9M293.2 178.7h-.9M293.2 176.7h-.9M293.2 174.7h-.9M293.2 172.7h-.9M293.2 170.7h-.9M293.2 168.7h-.9M293.2 166.7h-.9M293.2 164.7h-.9M293.2 162.7h-.9M293.2 160.7h-.9M293.2 158.7h-.9M293.2 156.7h-.9M293.2 154.7h-.9M293.2 152.7h-.9M293.2 150.7h-.9M293.2 148.7h-.9M293.2 146.7h-.9M293.2 144.7h-.9M293.2 142.7h-.9M293.2 140.7h-.9M293.2 138.7h-.9M293.2 136.7h-.9M293.2 134.7h-.9M293.2 132.7h-.9M293.2 130.7h-.9M293.2 128.7h-.9M293.2 126.7h-.9M293.2 124.7h-.9M293.2 122.7h-.9M293.2 120.7h-.9M293.2 118.7h-.9M293.2 116.7h-.9M295.2 184.7v.9M297.2 184.7v.9M299.2 184.7v.9M301.2 184.7v.9M303.2 184.7v.9M305.2 184.7v.9M307.2 184.7v.9M309.2 184.7v.9M311.2 184.7v.9M313.2 184.7v.9M315.2 184.7v.9M317.2 184.7v.9M319.2 184.7v.9M321.2 184.7v.9M323.2 184.7v.9M325.2 184.7v.9M327.2 184.7v.9M329.2 184.7v.9M331.2 184.7v.9M333.2 184.7v.9M335.2 184.7v.9M337.2 184.7v.9M339.2 184.7v.9M341.2 184.7v.9M343.2 184.7v.9M345.2 184.7v.9M347.2 184.7v.9M349.2 184.7v.9M351.2 184.7v.9M353.2 184.7v.9M355.2 184.7v.9M357.2 184.7v.9M359.2 184.7v.9M361.2 184.7v.9M363.2 184.7v.9" stroke="#999" stroke-width=".45"/><text x="290.9" y="184.9" font-size="2.9" font-weight="normal" text-anchor="end" fill="#555" font-family="Liberation Sans">0</text><text x="290.9" y="163" font-size="2.9" font-weight="normal" text-anchor="end" fill="#555" font-family="Liberation Sans">500K</text><text x="290.9" y="139.2" font-size="2.9" font-weight="normal" text-anchor="end" fill="#555" font-family="Liberation Sans">1.0M</text><text x="290.9" y="116.6" font-size="2.9" font-weight="normal" text-anchor="end" fill="#555" font-family="Liberation Sans">1.5M</text><text x="307.6" y="190.3" font-size="2.9" font-weight="normal" text-anchor="middle" fill="#666" font-family="Liberation Sans">0</text><text x="332.1" y="190.3" font-size="2.9" font-weight="normal" text-anchor="middle" fill="#666" font-family="Liberation Sans">10⁴</text><text x="345" y="190.3" font-size="2.9" font-weight="normal" text-anchor="middle" fill="#666" font-family="Liberation Sans">10⁵</text><text x="357.4" y="190.3" font-size="2.9" font-weight="normal" text-anchor="middle" fill="#666" font-family="Liberation Sans">10⁶</text><path d="M293.2 183.4h-1.8M293.2 161.5h-1.8M293.2 137.7h-1.8M293.2 115.1h-1.8M307.2 184.7v1.8M331.7 184.7v1.8M344.6 184.7v1.8M357 184.7v1.8" stroke="#333" stroke-width=".7"/><rect x="300.2" y="184.5" width="2.2" height="1.6" fill="#222" stroke="none" stroke-width="1"/><rect x="321.5" y="126.5" width="38.2" height="56.9" fill="none" stroke="#505050" stroke-width=".8"/><text x="341.4" y="152.7" font-size="2.8" font-weight="normal" text-anchor="middle" fill="#555" font-family="Liberation Sans">PI</text><text x="341.4" y="157.3" font-size="2.8" font-weight="normal" text-anchor="middle" fill="#555" font-family="Liberation Sans">32.9</text><use href="#b0" x="112.4" y="274"/><rect x="112.4" y="202.6" width="71.3" height="71.4" fill="none" stroke="#b8b8b8" stroke-width=".9"/><path d="M112.4 202.6L112.4 274.5" stroke="#808080" stroke-width=".8"/><path d="M112 274L183.7 274" stroke="#808080" stroke-width=".8"/><path d="M112.4 274h-.9M112.4 272h-.9M112.4 270h-.9M112.4 268h-.9M112.4 266h-.9M112.4 264h-.9M112.4 262h-.9M112.4 260h-.9M112.4 258h-.9M112.4 256h-.9M112.4 254h-.9M112.4 252h-.9M112.4 250h-.9M112.4 248h-.9M112.4 246h-.9M112.4 244h-.9M112.4 242h-.9M112.4 240h-.9M112.4 238h-.9M112.4 236h-.9M112.4 234h-.9M112.4 232h-.9M112.4 230h-.9M112.4 228h-.9M112.4 226h-.9M112.4 224h-.9M112.4 222h-.9M112.4 220h-.9M112.4 218h-.9M112.4 216h-.9M112.4 214h-.9M112.4 212h-.9M112.4 210h-.9M112.4 208h-.9M112.4 206h-.9M114.4 274v.9M116.4 274v.9M118.4 274v.9M120.4 274v.9M122.4 274v.9M124.4 274v.9M126.4 274v.9M128.4 274v.9M130.4 274v.9M132.4 274v.9M134.4 274v.9M136.4 274v.9M138.4 274v.9M140.4 274v.9M142.4 274v.9M144.4 274v.9M146.4 274v.9M148.4 274v.9M150.4 274v.9M152.4 274v.9M154.4 274v.9M156.4 274v.9M158.4 274v.9M160.4 274v.9M162.4 274v.9M164.4 274v.9M166.4 274v.9M168.4 274v.9M170.4 274v.9M172.4 274v.9M174.4 274v.9M176.4 274v.9M178.4 274v.9M180.4 274v.9M182.4 274v.9" stroke="#999" stroke-width=".45"/><text x="110.1" y="273.5" font-size="2.9" font-weight="normal" text-anchor="end" fill="#555" font-family="Liberation Sans">0</text><text x="110.1" y="262.7" font-size="2.9" font-weight="normal" text-anchor="end" fill="#555" font-family="Liberation Sans">100K</text><text x="110.1" y="250.5" font-size="2.9" font-weight="normal" text-anchor="end" fill="#555" font-family="Liberation Sans">200K</text><text x="110.1" y="238.2" font-size="2.9" font-weight="normal" text-anchor="end" fill="#555" font-family="Liberation Sans">300K</text><text x="110.1" y="225.9" font-size="2.9" font-weight="normal" text-anchor="end" fill="#555" font-family="Liberation Sans">400K</text><text x="110.1" y="214" font-size="2.9" font-weight="normal" text-anchor="end" fill="#555" font-family="Liberation Sans">500K</text><text x="125.9" y="279.6" font-size="2.9" font-weight="normal" text-anchor="middle" fill="#666" font-family="Liberation Sans">0</text><text x="148.4" y="279.6" font-size="2.9" font-weight="normal" text-anchor="middle" fill="#666" font-family="Liberation Sans">10⁴</text><text x="160.1" y="279.6" font-size="2.9" font-weight="normal" text-anchor="middle" fill="#666" font-family="Liberation Sans">10⁵</text><text x="171.4" y="279.6" font-size="2.9" font-weight="normal" text-anchor="middle" fill="#666" font-family="Liberation Sans">10⁶</text><text x="181.7" y="279.6" font-size="2.9" font-weight="normal" text-anchor="middle" fill="#666" font-family="Liberation Sans">10⁷</text><path d="M112.4 272h-1.8M112.4 261.2h-1.8M112.4 249h-1.8M112.4 236.7h-1.8M112.4 224.4h-1.8M112.4 212.5h-1.8M125.5 274v1.8M148 274v1.8M159.7 274v1.8M171 274v1.8M181.3 274v1.8" stroke="#333" stroke-width=".7"/><rect x="123.3" y="273.8" width="2.2" height="1.6" fill="#222" stroke="none" stroke-width="1"/><rect x="134.7" y="209.9" width="41.1" height="61.1" fill="none" stroke="#505050" stroke-width=".8"/><text x="156.1" y="238.7" font-size="2.8" font-weight="normal" text-anchor="middle" fill="#555" font-family="Liberation Sans">PI</text><text x="156.1" y="243.3" font-size="2.8" font-weight="normal" text-anchor="middle" fill="#555" font-family="Liberation Sans">9.88</text><use href="#b1" x="202.4" y="274.7"/><rect x="202.4" y="203.5" width="71" height="71.2" fill="none" stroke="#b8b8b8" stroke-width=".9"/><path d="M202.4 203.5L202.4 275.2" stroke="#808080" stroke-width=".8"/><path d="M202 274.7L273.4 274.7" stroke="#808080" stroke-width=".8"/><path d="M202.4 274.7h-.9M202.4 272.7h-.9M202.4 270.7h-.9M202.4 268.7h-.9M202.4 266.7h-.9M202.4 264.7h-.9M202.4 262.7h-.9M202.4 260.7h-.9M202.4 258.7h-.9M202.4 256.7h-.9M202.4 254.7h-.9M202.4 252.7h-.9M202.4 250.7h-.9M202.4 248.7h-.9M202.4 246.7h-.9M202.4 244.7h-.9M202.4 242.7h-.9M202.4 240.7h-.9M202.4 238.7h-.9M202.4 236.7h-.9M202.4 234.7h-.9M202.4 232.7h-.9M202.4 230.7h-.9M202.4 228.7h-.9M202.4 226.7h-.9M202.4 224.7h-.9M202.4 222.7h-.9M202.4 220.7h-.9M202.4 218.7h-.9M202.4 216.7h-.9M202.4 214.7h-.9M202.4 212.7h-.9M202.4 210.7h-.9M202.4 208.7h-.9M202.4 206.7h-.9M204.4 274.7v.9M206.4 274.7v.9M208.4 274.7v.9M210.4 274.7v.9M212.4 274.7v.9M214.4 274.7v.9M216.4 274.7v.9M218.4 274.7v.9M220.4 274.7v.9M222.4 274.7v.9M224.4 274.7v.9M226.4 274.7v.9M228.4 274.7v.9M230.4 274.7v.9M232.4 274.7v.9M234.4 274.7v.9M236.4 274.7v.9M238.4 274.7v.9M240.4 274.7v.9M242.4 274.7v.9M244.4 274.7v.9M246.4 274.7v.9M248.4 274.7v.9M250.4 274.7v.9M252.4 274.7v.9M254.4 274.7v.9M256.4 274.7v.9M258.4 274.7v.9M260.4 274.7v.9M262.4 274.7v.9M264.4 274.7v.9M266.4 274.7v.9M268.4 274.7v.9M270.4 274.7v.9M272.4 274.7v.9" stroke="#999" stroke-width=".45"/><text x="200.1" y="274.2" font-size="2.9" font-weight="normal" text-anchor="end" fill="#555" font-family="Liberation Sans">0</text><text x="200.1" y="263.4" font-size="2.9" font-weight="normal" text-anchor="end" fill="#555" font-family="Liberation Sans">100K</text><text x="200.1" y="251.2" font-size="2.9" font-weight="normal" text-anchor="end" fill="#555" font-family="Liberation Sans">200K</text><text x="200.1" y="238.9" font-size="2.9" font-weight="normal" text-anchor="end" fill="#555" font-family="Liberation Sans">300K</text><text x="200.1" y="226.6" font-size="2.9" font-weight="normal" text-anchor="end" fill="#555" font-family="Liberation Sans">400K</text><text x="200.1" y="214.7" font-size="2.9" font-weight="normal" text-anchor="end" fill="#555" font-family="Liberation Sans">500K</text><text x="215.9" y="280.3" font-size="2.9" font-weight="normal" text-anchor="middle" fill="#666" font-family="Liberation Sans">0</text><text x="238.4" y="280.3" font-size="2.9" font-weight="normal" text-anchor="middle" fill="#666" font-family="Liberation Sans">10⁴</text><text x="250.1" y="280.3" font-size="2.9" font-weight="normal" text-anchor="middle" fill="#666" font-family="Liberation Sans">10⁵</text><text x="261.4" y="280.3" font-size="2.9" font-weight="normal" text-anchor="middle" fill="#666" font-family="Liberation Sans">10⁶</text><text x="271.7" y="280.3" font-size="2.9" font-weight="normal" text-anchor="middle" fill="#666" font-family="Liberation Sans">10⁷</text><path d="M202.4 272.7h-1.8M202.4 261.9h-1.8M202.4 249.7h-1.8M202.4 237.4h-1.8M202.4 225.1h-1.8M202.4 213.2h-1.8M215.5 274.7v1.8M238 274.7v1.8M249.7 274.7v1.8M261 274.7v1.8M271.3 274.7v1.8" stroke="#333" stroke-width=".7"/><rect x="213.3" y="274.5" width="2.2" height="1.6" fill="#222" stroke="none" stroke-width="1"/><rect x="224.1" y="211.6" width="41.4" height="60.5" fill="none" stroke="#505050" stroke-width=".8"/><text x="245.6" y="240" font-size="2.8" font-weight="normal" text-anchor="middle" fill="#555" font-family="Liberation Sans">PI</text><text x="245.6" y="244.6" font-size="2.8" font-weight="normal" text-anchor="middle" fill="#555" font-family="Liberation Sans">11.2</text><use href="#b2" x="293.1" y="275"/><rect x="293.1" y="203.5" width="71.9" height="71.5" fill="none" stroke="#b8b8b8" stroke-width=".9"/><path d="M293.1 203.5L293.1 275.5" stroke="#808080" stroke-width=".8"/><path d="M292.7 275L365 275" stroke="#808080" stroke-width=".8"/><path d="M293.1 275h-.9M293.1 273h-.9M293.1 271h-.9M293.1 269h-.9M293.1 267h-.9M293.1 265h-.9M293.1 263h-.9M293.1 261h-.9M293.1 259h-.9M293.1 257h-.9M293.1 255h-.9M293.1 253h-.9M293.1 251h-.9M293.1 249h-.9M293.1 247h-.9M293.1 245h-.9M293.1 243h-.9M293.1 241h-.9M293.1 239h-.9M293.1 237h-.9M293.1 235h-.9M293.1 233h-.9M293.1 231h-.9M293.1 229h-.9M293.1 227h-.9M293.1 225h-.9M293.1 223h-.9M293.1 221h-.9M293.1 219h-.9M293.1 217h-.9M293.1 215h-.9M293.1 213h-.9M293.1 211h-.9M293.1 209h-.9M293.1 207h-.9M295.1 275v.9M297.1 275v.9M299.1 275v.9M301.1 275v.9M303.1 275v.9M305.1 275v.9M307.1 275v.9M309.1 275v.9M311.1 275v.9M313.1 275v.9M315.1 275v.9M317.1 275v.9M319.1 275v.9M321.1 275v.9M323.1 275v.9M325.1 275v.9M327.1 275v.9M329.1 275v.9M331.1 275v.9M333.1 275v.9M335.1 275v.9M337.1 275v.9M339.1 275v.9M341.1 275v.9M343.1 275v.9M345.1 275v.9M347.1 275v.9M349.1 275v.9M351.1 275v.9M353.1 275v.9M355.1 275v.9M357.1 275v.9M359.1 275v.9M361.1 275v.9M363.1 275v.9" stroke="#999" stroke-width=".45"/><text x="290.8" y="274.5" font-size="2.9" font-weight="normal" text-anchor="end" fill="#555" font-family="Liberation Sans">0</text><text x="290.8" y="263.7" font-size="2.9" font-weight="normal" text-anchor="end" fill="#555" font-family="Liberation Sans">100K</text><text x="290.8" y="251.5" font-size="2.9" font-weight="normal" text-anchor="end" fill="#555" font-family="Liberation Sans">200K</text><text x="290.8" y="239.2" font-size="2.9" font-weight="normal" text-anchor="end" fill="#555" font-family="Liberation Sans">300K</text><text x="290.8" y="226.9" font-size="2.9" font-weight="normal" text-anchor="end" fill="#555" font-family="Liberation Sans">400K</text><text x="290.8" y="215" font-size="2.9" font-weight="normal" text-anchor="end" fill="#555" font-family="Liberation Sans">500K</text><text x="306.6" y="280.6" font-size="2.9" font-weight="normal" text-anchor="middle" fill="#666" font-family="Liberation Sans">0</text><text x="329.1" y="280.6" font-size="2.9" font-weight="normal" text-anchor="middle" fill="#666" font-family="Liberation Sans">10⁴</text><text x="340.8" y="280.6" font-size="2.9" font-weight="normal" text-anchor="middle" fill="#666" font-family="Liberation Sans">10⁵</text><text x="352.1" y="280.6" font-size="2.9" font-weight="normal" text-anchor="middle" fill="#666" font-family="Liberation Sans">10⁶</text><text x="362.4" y="280.6" font-size="2.9" font-weight="normal" text-anchor="middle" fill="#666" font-family="Liberation Sans">10⁷</text><path d="M293.1 273h-1.8M293.1 262.2h-1.8M293.1 250h-1.8M293.1 237.7h-1.8M293.1 225.4h-1.8M293.1 213.5h-1.8M306.2 275v1.8M328.7 275v1.8M340.4 275v1.8M351.7 275v1.8M362 275v1.8" stroke="#333" stroke-width=".7"/><rect x="304" y="274.8" width="2.2" height="1.6" fill="#222" stroke="none" stroke-width="1"/><rect x="315.9" y="211.6" width="40.7" height="60.7" fill="none" stroke="#505050" stroke-width=".8"/><text x="337.1" y="240.1" font-size="2.8" font-weight="normal" text-anchor="middle" fill="#555" font-family="Liberation Sans">PI</text><text x="337.1" y="244.7" font-size="2.8" font-weight="normal" text-anchor="middle" fill="#555" font-family="Liberation Sans">10.7</text><use href="#b3" x="111.6" y="357.1"/><rect x="111.6" y="286.6" width="71.8" height="70.5" fill="none" stroke="#b8b8b8" stroke-width=".9"/><path d="M111.6 286.6L111.6 357.6" stroke="#808080" stroke-width=".8"/><path d="M111.2 357.1L183.4 357.1" stroke="#808080" stroke-width=".8"/><path d="M111.6 357.1h-.9M111.6 355.1h-.9M111.6 353.1h-.9M111.6 351.1h-.9M111.6 349.1h-.9M111.6 347.1h-.9M111.6 345.1h-.9M111.6 343.1h-.9M111.6 341.1h-.9M111.6 339.1h-.9M111.6 337.1h-.9M111.6 335.1h-.9M111.6 333.1h-.9M111.6 331.1h-.9M111.6 329.1h-.9M111.6 327.1h-.9M111.6 325.1h-.9M111.6 323.1h-.9M111.6 321.1h-.9M111.6 319.1h-.9M111.6 317.1h-.9M111.6 315.1h-.9M111.6 313.1h-.9M111.6 311.1h-.9M111.6 309.1h-.9M111.6 307.1h-.9M111.6 305.1h-.9M111.6 303.1h-.9M111.6 301.1h-.9M111.6 299.1h-.9M111.6 297.1h-.9M111.6 295.1h-.9M111.6 293.1h-.9M111.6 291.1h-.9M111.6 289.1h-.9M113.6 357.1v.9M115.6 357.1v.9M117.6 357.1v.9M119.6 357.1v.9M121.6 357.1v.9M123.6 357.1v.9M125.6 357.1v.9M127.6 357.1v.9M129.6 357.1v.9M131.6 357.1v.9M133.6 357.1v.9M135.6 357.1v.9M137.6 357.1v.9M139.6 357.1v.9M141.6 357.1v.9M143.6 357.1v.9M145.6 357.1v.9M147.6 357.1v.9M149.6 357.1v.9M151.6 357.1v.9M153.6 357.1v.9M155.6 357.1v.9M157.6 357.1v.9M159.6 357.1v.9M161.6 357.1v.9M163.6 357.1v.9M165.6 357.1v.9M167.6 357.1v.9M169.6 357.1v.9M171.6 357.1v.9M173.6 357.1v.9M175.6 357.1v.9M177.6 357.1v.9M179.6 357.1v.9M181.6 357.1v.9" stroke="#999" stroke-width=".45"/><text x="109.3" y="356.6" font-size="2.9" font-weight="normal" text-anchor="end" fill="#555" font-family="Liberation Sans">0</text><text x="109.3" y="345.8" font-size="2.9" font-weight="normal" text-anchor="end" fill="#555" font-family="Liberation Sans">100K</text><text x="109.3" y="333.6" font-size="2.9" font-weight="normal" text-anchor="end" fill="#555" font-family="Liberation Sans">200K</text><text x="109.3" y="321.3" font-size="2.9" font-weight="normal" text-anchor="end" fill="#555" font-family="Liberation Sans">300K</text><text x="109.3" y="309" font-size="2.9" font-weight="normal" text-anchor="end" fill="#555" font-family="Liberation Sans">400K</text><text x="109.3" y="297.1" font-size="2.9" font-weight="normal" text-anchor="end" fill="#555" font-family="Liberation Sans">500K</text><text x="125.1" y="362.7" font-size="2.9" font-weight="normal" text-anchor="middle" fill="#666" font-family="Liberation Sans">0</text><text x="147.6" y="362.7" font-size="2.9" font-weight="normal" text-anchor="middle" fill="#666" font-family="Liberation Sans">10⁴</text><text x="159.3" y="362.7" font-size="2.9" font-weight="normal" text-anchor="middle" fill="#666" font-family="Liberation Sans">10⁵</text><text x="170.6" y="362.7" font-size="2.9" font-weight="normal" text-anchor="middle" fill="#666" font-family="Liberation Sans">10⁶</text><text x="180.9" y="362.7" font-size="2.9" font-weight="normal" text-anchor="middle" fill="#666" font-family="Liberation Sans">10⁷</text><path d="M111.6 355.1h-1.8M111.6 344.3h-1.8M111.6 332.1h-1.8M111.6 319.8h-1.8M111.6 307.5h-1.8M111.6 295.6h-1.8M124.7 357.1v1.8M147.2 357.1v1.8M158.9 357.1v1.8M170.2 357.1v1.8M180.5 357.1v1.8" stroke="#333" stroke-width=".7"/><rect x="122.5" y="356.9" width="2.2" height="1.6" fill="#222" stroke="none" stroke-width="1"/><rect x="134.3" y="293.5" width="41.2" height="61" fill="none" stroke="#505050" stroke-width=".8"/><text x="155.7" y="322.1" font-size="2.8" font-weight="normal" text-anchor="middle" fill="#555" font-family="Liberation Sans">PI</text><text x="155.7" y="326.7" font-size="2.8" font-weight="normal" text-anchor="middle" fill="#555" font-family="Liberation Sans">11.6</text><use href="#b4" x="201.4" y="357.1"/><rect x="201.4" y="286.2" width="72" height="70.9" fill="none" stroke="#b8b8b8" stroke-width=".9"/><path d="M201.4 286.2L201.4 357.6" stroke="#808080" stroke-width=".8"/><path d="M201 357.1L273.4 357.1" stroke="#808080" stroke-width=".8"/><path d="M201.4 357.1h-.9M201.4 355.1h-.9M201.4 353.1h-.9M201.4 351.1h-.9M201.4 349.1h-.9M201.4 347.1h-.9M201.4 345.1h-.9M201.4 343.1h-.9M201.4 341.1h-.9M201.4 339.1h-.9M201.4 337.1h-.9M201.4 335.1h-.9M201.4 333.1h-.9M201.4 331.1h-.9M201.4 329.1h-.9M201.4 327.1h-.9M201.4 325.1h-.9M201.4 323.1h-.9M201.4 321.1h-.9M201.4 319.1h-.9M201.4 317.1h-.9M201.4 315.1h-.9M201.4 313.1h-.9M201.4 311.1h-.9M201.4 309.1h-.9M201.4 307.1h-.9M201.4 305.1h-.9M201.4 303.1h-.9M201.4 301.1h-.9M201.4 299.1h-.9M201.4 297.1h-.9M201.4 295.1h-.9M201.4 293.1h-.9M201.4 291.1h-.9M201.4 289.1h-.9M203.4 357.1v.9M205.4 357.1v.9M207.4 357.1v.9M209.4 357.1v.9M211.4 357.1v.9M213.4 357.1v.9M215.4 357.1v.9M217.4 357.1v.9M219.4 357.1v.9M221.4 357.1v.9M223.4 357.1v.9M225.4 357.1v.9M227.4 357.1v.9M229.4 357.1v.9M231.4 357.1v.9M233.4 357.1v.9M235.4 357.1v.9M237.4 357.1v.9M239.4 357.1v.9M241.4 357.1v.9M243.4 357.1v.9M245.4 357.1v.9M247.4 357.1v.9M249.4 357.1v.9M251.4 357.1v.9M253.4 357.1v.9M255.4 357.1v.9M257.4 357.1v.9M259.4 357.1v.9M261.4 357.1v.9M263.4 357.1v.9M265.4 357.1v.9M267.4 357.1v.9M269.4 357.1v.9M271.4 357.1v.9" stroke="#999" stroke-width=".45"/><text x="199.1" y="356.6" font-size="2.9" font-weight="normal" text-anchor="end" fill="#555" font-family="Liberation Sans">0</text><text x="199.1" y="345.8" font-size="2.9" font-weight="normal" text-anchor="end" fill="#555" font-family="Liberation Sans">100K</text><text x="199.1" y="333.6" font-size="2.9" font-weight="normal" text-anchor="end" fill="#555" font-family="Liberation Sans">200K</text><text x="199.1" y="321.3" font-size="2.9" font-weight="normal" text-anchor="end" fill="#555" font-family="Liberation Sans">300K</text><text x="199.1" y="309" font-size="2.9" font-weight="normal" text-anchor="end" fill="#555" font-family="Liberation Sans">400K</text><text x="199.1" y="297.1" font-size="2.9" font-weight="normal" text-anchor="end" fill="#555" font-family="Liberation Sans">500K</text><text x="214.9" y="362.7" font-size="2.9" font-weight="normal" text-anchor="middle" fill="#666" font-family="Liberation Sans">0</text><text x="237.4" y="362.7" font-size="2.9" font-weight="normal" text-anchor="middle" fill="#666" font-family="Liberation Sans">10⁴</text><text x="249.1" y="362.7" font-size="2.9" font-weight="normal" text-anchor="middle" fill="#666" font-family="Liberation Sans">10⁵</text><text x="260.4" y="362.7" font-size="2.9" font-weight="normal" text-anchor="middle" fill="#666" font-family="Liberation Sans">10⁶</text><text x="270.7" y="362.7" font-size="2.9" font-weight="normal" text-anchor="middle" fill="#666" font-family="Liberation Sans">10⁷</text><path d="M201.4 355.1h-1.8M201.4 344.3h-1.8M201.4 332.1h-1.8M201.4 319.8h-1.8M201.4 307.5h-1.8M201.4 295.6h-1.8M214.5 357.1v1.8M237 357.1v1.8M248.7 357.1v1.8M260 357.1v1.8M270.3 357.1v1.8" stroke="#333" stroke-width=".7"/><rect x="212.3" y="356.9" width="2.2" height="1.6" fill="#222" stroke="none" stroke-width="1"/><rect x="223.8" y="293.6" width="41.7" height="60.9" fill="none" stroke="#505050" stroke-width=".8"/><text x="245.5" y="322.2" font-size="2.8" font-weight="normal" text-anchor="middle" fill="#555" font-family="Liberation Sans">PI</text><text x="245.5" y="326.8" font-size="2.8" font-weight="normal" text-anchor="middle" fill="#555" font-family="Liberation Sans">12.8</text><use href="#b5" x="292.3" y="357.1"/><rect x="292.3" y="286.6" width="71.3" height="70.5" fill="none" stroke="#b8b8b8" stroke-width=".9"/><path d="M292.3 286.6L292.3 357.6" stroke="#808080" stroke-width=".8"/><path d="M291.9 357.1L363.6 357.1" stroke="#808080" stroke-width=".8"/><path d="M292.3 357.1h-.9M292.3 355.1h-.9M292.3 353.1h-.9M292.3 351.1h-.9M292.3 349.1h-.9M292.3 347.1h-.9M292.3 345.1h-.9M292.3 343.1h-.9M292.3 341.1h-.9M292.3 339.1h-.9M292.3 337.1h-.9M292.3 335.1h-.9M292.3 333.1h-.9M292.3 331.1h-.9M292.3 329.1h-.9M292.3 327.1h-.9M292.3 325.1h-.9M292.3 323.1h-.9M292.3 321.1h-.9M292.3 319.1h-.9M292.3 317.1h-.9M292.3 315.1h-.9M292.3 313.1h-.9M292.3 311.1h-.9M292.3 309.1h-.9M292.3 307.1h-.9M292.3 305.1h-.9M292.3 303.1h-.9M292.3 301.1h-.9M292.3 299.1h-.9M292.3 297.1h-.9M292.3 295.1h-.9M292.3 293.1h-.9M292.3 291.1h-.9M292.3 289.1h-.9M294.3 357.1v.9M296.3 357.1v.9M298.3 357.1v.9M300.3 357.1v.9M302.3 357.1v.9M304.3 357.1v.9M306.3 357.1v.9M308.3 357.1v.9M310.3 357.1v.9M312.3 357.1v.9M314.3 357.1v.9M316.3 357.1v.9M318.3 357.1v.9M320.3 357.1v.9M322.3 357.1v.9M324.3 357.1v.9M326.3 357.1v.9M328.3 357.1v.9M330.3 357.1v.9M332.3 357.1v.9M334.3 357.1v.9M336.3 357.1v.9M338.3 357.1v.9M340.3 357.1v.9M342.3 357.1v.9M344.3 357.1v.9M346.3 357.1v.9M348.3 357.1v.9M350.3 357.1v.9M352.3 357.1v.9M354.3 357.1v.9M356.3 357.1v.9M358.3 357.1v.9M360.3 357.1v.9M362.3 357.1v.9" stroke="#999" stroke-width=".45"/><text x="290" y="356.6" font-size="2.9" font-weight="normal" text-anchor="end" fill="#555" font-family="Liberation Sans">0</text><text x="290" y="345.8" font-size="2.9" font-weight="normal" text-anchor="end" fill="#555" font-family="Liberation Sans">100K</text><text x="290" y="333.6" font-size="2.9" font-weight="normal" text-anchor="end" fill="#555" font-family="Liberation Sans">200K</text><text x="290" y="321.3" font-size="2.9" font-weight="normal" text-anchor="end" fill="#555" font-family="Liberation Sans">300K</text><text x="290" y="309" font-size="2.9" font-weight="normal" text-anchor="end" fill="#555" font-family="Liberation Sans">400K</text><text x="290" y="297.1" font-size="2.9" font-weight="normal" text-anchor="end" fill="#555" font-family="Liberation Sans">500K</text><text x="305.8" y="362.7" font-size="2.9" font-weight="normal" text-anchor="middle" fill="#666" font-family="Liberation Sans">0</text><text x="328.3" y="362.7" font-size="2.9" font-weight="normal" text-anchor="middle" fill="#666" font-family="Liberation Sans">10⁴</text><text x="340" y="362.7" font-size="2.9" font-weight="normal" text-anchor="middle" fill="#666" font-family="Liberation Sans">10⁵</text><text x="351.3" y="362.7" font-size="2.9" font-weight="normal" text-anchor="middle" fill="#666" font-family="Liberation Sans">10⁶</text><text x="361.6" y="362.7" font-size="2.9" font-weight="normal" text-anchor="middle" fill="#666" font-family="Liberation Sans">10⁷</text><path d="M292.3 355.1h-1.8M292.3 344.3h-1.8M292.3 332.1h-1.8M292.3 319.8h-1.8M292.3 307.5h-1.8M292.3 295.6h-1.8M305.4 357.1v1.8M327.9 357.1v1.8M339.6 357.1v1.8M350.9 357.1v1.8M361.2 357.1v1.8" stroke="#333" stroke-width=".7"/><rect x="303.2" y="356.9" width="2.2" height="1.6" fill="#222" stroke="none" stroke-width="1"/><rect x="314.5" y="293.5" width="41.2" height="61" fill="none" stroke="#505050" stroke-width=".8"/><text x="335.9" y="322.1" font-size="2.8" font-weight="normal" text-anchor="middle" fill="#555" font-family="Liberation Sans">PI</text><text x="335.9" y="326.7" font-size="2.8" font-weight="normal" text-anchor="middle" fill="#555" font-family="Liberation Sans">13.5</text><use href="#c0" x="115.9" y="506.1"/><rect x="115.9" y="435.2" width="71.3" height="70.9" fill="none" stroke="#b8b8b8" stroke-width=".9"/><path d="M115.9 435.2L115.9 506.6" stroke="#808080" stroke-width=".8"/><path d="M115.5 506.1L187.2 506.1" stroke="#808080" stroke-width=".8"/><path d="M115.9 506.1h-.9M115.9 504.1h-.9M115.9 502.1h-.9M115.9 500.1h-.9M115.9 498.1h-.9M115.9 496.1h-.9M115.9 494.1h-.9M115.9 492.1h-.9M115.9 490.1h-.9M115.9 488.1h-.9M115.9 486.1h-.9M115.9 484.1h-.9M115.9 482.1h-.9M115.9 480.1h-.9M115.9 478.1h-.9M115.9 476.1h-.9M115.9 474.1h-.9M115.9 472.1h-.9M115.9 470.1h-.9M115.9 468.1h-.9M115.9 466.1h-.9M115.9 464.1h-.9M115.9 462.1h-.9M115.9 460.1h-.9M115.9 458.1h-.9M115.9 456.1h-.9M115.9 454.1h-.9M115.9 452.1h-.9M115.9 450.1h-.9M115.9 448.1h-.9M115.9 446.1h-.9M115.9 444.1h-.9M115.9 442.1h-.9M115.9 440.1h-.9M115.9 438.1h-.9M117.9 506.1v.9M119.9 506.1v.9M121.9 506.1v.9M123.9 506.1v.9M125.9 506.1v.9M127.9 506.1v.9M129.9 506.1v.9M131.9 506.1v.9M133.9 506.1v.9M135.9 506.1v.9M137.9 506.1v.9M139.9 506.1v.9M141.9 506.1v.9M143.9 506.1v.9M145.9 506.1v.9M147.9 506.1v.9M149.9 506.1v.9M151.9 506.1v.9M153.9 506.1v.9M155.9 506.1v.9M157.9 506.1v.9M159.9 506.1v.9M161.9 506.1v.9M163.9 506.1v.9M165.9 506.1v.9M167.9 506.1v.9M169.9 506.1v.9M171.9 506.1v.9M173.9 506.1v.9M175.9 506.1v.9M177.9 506.1v.9M179.9 506.1v.9M181.9 506.1v.9M183.9 506.1v.9M185.9 506.1v.9" stroke="#999" stroke-width=".45"/><text x="113.6" y="507.1" font-size="2.9" font-weight="normal" text-anchor="end" fill="#555" font-family="Liberation Sans">0</text><text x="113.6" y="489.6" font-size="2.9" font-weight="normal" text-anchor="end" fill="#555" font-family="Liberation Sans">200K</text><text x="113.6" y="471.1" font-size="2.9" font-weight="normal" text-anchor="end" fill="#555" font-family="Liberation Sans">400K</text><text x="113.6" y="452.6" font-size="2.9" font-weight="normal" text-anchor="end" fill="#555" font-family="Liberation Sans">600K</text><text x="128.6" y="511.7" font-size="2.9" font-weight="normal" text-anchor="middle" fill="#666" font-family="Liberation Sans">0</text><text x="151.9" y="511.7" font-size="2.9" font-weight="normal" text-anchor="middle" fill="#666" font-family="Liberation Sans">10⁴</text><text x="162.7" y="511.7" font-size="2.9" font-weight="normal" text-anchor="middle" fill="#666" font-family="Liberation Sans">10⁵</text><text x="175" y="511.7" font-size="2.9" font-weight="normal" text-anchor="middle" fill="#666" font-family="Liberation Sans">10⁶</text><text x="185.2" y="511.7" font-size="2.9" font-weight="normal" text-anchor="middle" fill="#666" font-family="Liberation Sans">10⁷</text><path d="M115.9 505.6h-1.8M115.9 488.1h-1.8M115.9 469.6h-1.8M115.9 451.1h-1.8M128.2 506.1v1.8M151.5 506.1v1.8M162.3 506.1v1.8M174.6 506.1v1.8M184.8 506.1v1.8" stroke="#333" stroke-width=".7"/><rect x="125.8" y="505.9" width="2.2" height="1.6" fill="#222" stroke="none" stroke-width="1"/><rect x="138.7" y="442.4" width="37.7" height="61" fill="none" stroke="#505050" stroke-width=".8"/><text x="158.3" y="471.1" font-size="2.8" font-weight="normal" text-anchor="middle" fill="#555" font-family="Liberation Sans">PI</text><text x="158.3" y="475.7" font-size="2.8" font-weight="normal" text-anchor="middle" fill="#555" font-family="Liberation Sans">22.3</text><use href="#c1" x="204.9" y="505.8"/><rect x="204.9" y="435" width="71.5" height="70.8" fill="none" stroke="#b8b8b8" stroke-width=".9"/><path d="M204.9 435L204.9 506.3" stroke="#808080" stroke-width=".8"/><path d="M204.5 505.8L276.4 505.8" stroke="#808080" stroke-width=".8"/><path d="M204.9 505.8h-.9M204.9 503.8h-.9M204.9 501.8h-.9M204.9 499.8h-.9M204.9 497.8h-.9M204.9 495.8h-.9M204.9 493.8h-.9M204.9 491.8h-.9M204.9 489.8h-.9M204.9 487.8h-.9M204.9 485.8h-.9M204.9 483.8h-.9M204.9 481.8h-.9M204.9 479.8h-.9M204.9 477.8h-.9M204.9 475.8h-.9M204.9 473.8h-.9M204.9 471.8h-.9M204.9 469.8h-.9M204.9 467.8h-.9M204.9 465.8h-.9M204.9 463.8h-.9M204.9 461.8h-.9M204.9 459.8h-.9M204.9 457.8h-.9M204.9 455.8h-.9M204.9 453.8h-.9M204.9 451.8h-.9M204.9 449.8h-.9M204.9 447.8h-.9M204.9 445.8h-.9M204.9 443.8h-.9M204.9 441.8h-.9M204.9 439.8h-.9M204.9 437.8h-.9M206.9 505.8v.9M208.9 505.8v.9M210.9 505.8v.9M212.9 505.8v.9M214.9 505.8v.9M216.9 505.8v.9M218.9 505.8v.9M220.9 505.8v.9M222.9 505.8v.9M224.9 505.8v.9M226.9 505.8v.9M228.9 505.8v.9M230.9 505.8v.9M232.9 505.8v.9M234.9 505.8v.9M236.9 505.8v.9M238.9 505.8v.9M240.9 505.8v.9M242.9 505.8v.9M244.9 505.8v.9M246.9 505.8v.9M248.9 505.8v.9M250.9 505.8v.9M252.9 505.8v.9M254.9 505.8v.9M256.9 505.8v.9M258.9 505.8v.9M260.9 505.8v.9M262.9 505.8v.9M264.9 505.8v.9M266.9 505.8v.9M268.9 505.8v.9M270.9 505.8v.9M272.9 505.8v.9M274.9 505.8v.9" stroke="#999" stroke-width=".45"/><text x="202.6" y="506.8" font-size="2.9" font-weight="normal" text-anchor="end" fill="#555" font-family="Liberation Sans">0</text><text x="202.6" y="489.3" font-size="2.9" font-weight="normal" text-anchor="end" fill="#555" font-family="Liberation Sans">200K</text><text x="202.6" y="470.8" font-size="2.9" font-weight="normal" text-anchor="end" fill="#555" font-family="Liberation Sans">400K</text><text x="202.6" y="452.3" font-size="2.9" font-weight="normal" text-anchor="end" fill="#555" font-family="Liberation Sans">600K</text><text x="217.6" y="511.4" font-size="2.9" font-weight="normal" text-anchor="middle" fill="#666" font-family="Liberation Sans">0</text><text x="240.9" y="511.4" font-size="2.9" font-weight="normal" text-anchor="middle" fill="#666" font-family="Liberation Sans">10⁴</text><text x="251.7" y="511.4" font-size="2.9" font-weight="normal" text-anchor="middle" fill="#666" font-family="Liberation Sans">10⁵</text><text x="264" y="511.4" font-size="2.9" font-weight="normal" text-anchor="middle" fill="#666" font-family="Liberation Sans">10⁶</text><text x="274.2" y="511.4" font-size="2.9" font-weight="normal" text-anchor="middle" fill="#666" font-family="Liberation Sans">10⁷</text><path d="M204.9 505.3h-1.8M204.9 487.8h-1.8M204.9 469.3h-1.8M204.9 450.8h-1.8M217.2 505.8v1.8M240.5 505.8v1.8M251.3 505.8v1.8M263.6 505.8v1.8M273.8 505.8v1.8" stroke="#333" stroke-width=".7"/><rect x="214.8" y="505.6" width="2.2" height="1.6" fill="#222" stroke="none" stroke-width="1"/><rect x="228.2" y="441.9" width="37.6" height="61.3" fill="none" stroke="#505050" stroke-width=".8"/><text x="247.8" y="470.7" font-size="2.8" font-weight="normal" text-anchor="middle" fill="#555" font-family="Liberation Sans">PI</text><text x="247.8" y="475.3" font-size="2.8" font-weight="normal" text-anchor="middle" fill="#555" font-family="Liberation Sans">23.7</text><use href="#c2" x="294.9" y="505.8"/><rect x="294.9" y="435" width="71.5" height="70.8" fill="none" stroke="#b8b8b8" stroke-width=".9"/><path d="M294.9 435L294.9 506.3" stroke="#808080" stroke-width=".8"/><path d="M294.5 505.8L366.4 505.8" stroke="#808080" stroke-width=".8"/><path d="M294.9 505.8h-.9M294.9 503.8h-.9M294.9 501.8h-.9M294.9 499.8h-.9M294.9 497.8h-.9M294.9 495.8h-.9M294.9 493.8h-.9M294.9 491.8h-.9M294.9 489.8h-.9M294.9 487.8h-.9M294.9 485.8h-.9M294.9 483.8h-.9M294.9 481.8h-.9M294.9 479.8h-.9M294.9 477.8h-.9M294.9 475.8h-.9M294.9 473.8h-.9M294.9 471.8h-.9M294.9 469.8h-.9M294.9 467.8h-.9M294.9 465.8h-.9M294.9 463.8h-.9M294.9 461.8h-.9M294.9 459.8h-.9M294.9 457.8h-.9M294.9 455.8h-.9M294.9 453.8h-.9M294.9 451.8h-.9M294.9 449.8h-.9M294.9 447.8h-.9M294.9 445.8h-.9M294.9 443.8h-.9M294.9 441.8h-.9M294.9 439.8h-.9M294.9 437.8h-.9M296.9 505.8v.9M298.9 505.8v.9M300.9 505.8v.9M302.9 505.8v.9M304.9 505.8v.9M306.9 505.8v.9M308.9 505.8v.9M310.9 505.8v.9M312.9 505.8v.9M314.9 505.8v.9M316.9 505.8v.9M318.9 505.8v.9M320.9 505.8v.9M322.9 505.8v.9M324.9 505.8v.9M326.9 505.8v.9M328.9 505.8v.9M330.9 505.8v.9M332.9 505.8v.9M334.9 505.8v.9M336.9 505.8v.9M338.9 505.8v.9M340.9 505.8v.9M342.9 505.8v.9M344.9 505.8v.9M346.9 505.8v.9M348.9 505.8v.9M350.9 505.8v.9M352.9 505.8v.9M354.9 505.8v.9M356.9 505.8v.9M358.9 505.8v.9M360.9 505.8v.9M362.9 505.8v.9M364.9 505.8v.9" stroke="#999" stroke-width=".45"/><text x="292.6" y="506.8" font-size="2.9" font-weight="normal" text-anchor="end" fill="#555" font-family="Liberation Sans">0</text><text x="292.6" y="489.3" font-size="2.9" font-weight="normal" text-anchor="end" fill="#555" font-family="Liberation Sans">200K</text><text x="292.6" y="470.8" font-size="2.9" font-weight="normal" text-anchor="end" fill="#555" font-family="Liberation Sans">400K</text><text x="292.6" y="452.3" font-size="2.9" font-weight="normal" text-anchor="end" fill="#555" font-family="Liberation Sans">600K</text><text x="307.6" y="511.4" font-size="2.9" font-weight="normal" text-anchor="middle" fill="#666" font-family="Liberation Sans">0</text><text x="330.9" y="511.4" font-size="2.9" font-weight="normal" text-anchor="middle" fill="#666" font-family="Liberation Sans">10⁴</text><text x="341.7" y="511.4" font-size="2.9" font-weight="normal" text-anchor="middle" fill="#666" font-family="Liberation Sans">10⁵</text><text x="354" y="511.4" font-size="2.9" font-weight="normal" text-anchor="middle" fill="#666" font-family="Liberation Sans">10⁶</text><text x="364.2" y="511.4" font-size="2.9" font-weight="normal" text-anchor="middle" fill="#666" font-family="Liberation Sans">10⁷</text><path d="M294.9 505.3h-1.8M294.9 487.8h-1.8M294.9 469.3h-1.8M294.9 450.8h-1.8M307.2 505.8v1.8M330.5 505.8v1.8M341.3 505.8v1.8M353.6 505.8v1.8M363.8 505.8v1.8" stroke="#333" stroke-width=".7"/><rect x="304.8" y="505.6" width="2.2" height="1.6" fill="#222" stroke="none" stroke-width="1"/><rect x="318.5" y="441.9" width="37.4" height="61.3" fill="none" stroke="#505050" stroke-width=".8"/><text x="337.9" y="470.7" font-size="2.8" font-weight="normal" text-anchor="middle" fill="#555" font-family="Liberation Sans">PI</text><text x="337.9" y="475.3" font-size="2.8" font-weight="normal" text-anchor="middle" fill="#555" font-family="Liberation Sans">20.5</text><use href="#c3" x="113.6" y="589.7"/><rect x="113.6" y="518.3" width="72" height="71.4" fill="none" stroke="#b8b8b8" stroke-width=".9"/><path d="M113.6 518.3L113.6 590.2" stroke="#808080" stroke-width=".8"/><path d="M113.2 589.7L185.6 589.7" stroke="#808080" stroke-width=".8"/><path d="M113.6 589.7h-.9M113.6 587.7h-.9M113.6 585.7h-.9M113.6 583.7h-.9M113.6 581.7h-.9M113.6 579.7h-.9M113.6 577.7h-.9M113.6 575.7h-.9M113.6 573.7h-.9M113.6 571.7h-.9M113.6 569.7h-.9M113.6 567.7h-.9M113.6 565.7h-.9M113.6 563.7h-.9M113.6 561.7h-.9M113.6 559.7h-.9M113.6 557.7h-.9M113.6 555.7h-.9M113.6 553.7h-.9M113.6 551.7h-.9M113.6 549.7h-.9M113.6 547.7h-.9M113.6 545.7h-.9M113.6 543.7h-.9M113.6 541.7h-.9M113.6 539.7h-.9M113.6 537.7h-.9M113.6 535.7h-.9M113.6 533.7h-.9M113.6 531.7h-.9M113.6 529.7h-.9M113.6 527.7h-.9M113.6 525.7h-.9M113.6 523.7h-.9M113.6 521.7h-.9M115.6 589.7v.9M117.6 589.7v.9M119.6 589.7v.9M121.6 589.7v.9M123.6 589.7v.9M125.6 589.7v.9M127.6 589.7v.9M129.6 589.7v.9M131.6 589.7v.9M133.6 589.7v.9M135.6 589.7v.9M137.6 589.7v.9M139.6 589.7v.9M141.6 589.7v.9M143.6 589.7v.9M145.6 589.7v.9M147.6 589.7v.9M149.6 589.7v.9M151.6 589.7v.9M153.6 589.7v.9M155.6 589.7v.9M157.6 589.7v.9M159.6 589.7v.9M161.6 589.7v.9M163.6 589.7v.9M165.6 589.7v.9M167.6 589.7v.9M169.6 589.7v.9M171.6 589.7v.9M173.6 589.7v.9M175.6 589.7v.9M177.6 589.7v.9M179.6 589.7v.9M181.6 589.7v.9M183.6 589.7v.9" stroke="#999" stroke-width=".45"/><text x="111.3" y="590.7" font-size="2.9" font-weight="normal" text-anchor="end" fill="#555" font-family="Liberation Sans">0</text><text x="111.3" y="573.2" font-size="2.9" font-weight="normal" text-anchor="end" fill="#555" font-family="Liberation Sans">200K</text><text x="111.3" y="554.7" font-size="2.9" font-weight="normal" text-anchor="end" fill="#555" font-family="Liberation Sans">400K</text><text x="111.3" y="536.2" font-size="2.9" font-weight="normal" text-anchor="end" fill="#555" font-family="Liberation Sans">600K</text><text x="126.3" y="595.3" font-size="2.9" font-weight="normal" text-anchor="middle" fill="#666" font-family="Liberation Sans">0</text><text x="149.6" y="595.3" font-size="2.9" font-weight="normal" text-anchor="middle" fill="#666" font-family="Liberation Sans">10⁴</text><text x="160.4" y="595.3" font-size="2.9" font-weight="normal" text-anchor="middle" fill="#666" font-family="Liberation Sans">10⁵</text><text x="172.7" y="595.3" font-size="2.9" font-weight="normal" text-anchor="middle" fill="#666" font-family="Liberation Sans">10⁶</text><text x="182.9" y="595.3" font-size="2.9" font-weight="normal" text-anchor="middle" fill="#666" font-family="Liberation Sans">10⁷</text><path d="M113.6 589.2h-1.8M113.6 571.7h-1.8M113.6 553.2h-1.8M113.6 534.7h-1.8M125.9 589.7v1.8M149.2 589.7v1.8M160 589.7v1.8M172.3 589.7v1.8M182.5 589.7v1.8" stroke="#333" stroke-width=".7"/><rect x="123.5" y="589.5" width="2.2" height="1.6" fill="#222" stroke="none" stroke-width="1"/><rect x="136.9" y="525.4" width="38.2" height="61.7" fill="none" stroke="#505050" stroke-width=".8"/><text x="156.8" y="554.3" font-size="2.8" font-weight="normal" text-anchor="middle" fill="#555" font-family="Liberation Sans">PI</text><text x="156.8" y="558.9" font-size="2.8" font-weight="normal" text-anchor="middle" fill="#555" font-family="Liberation Sans">22.3</text><use href="#c4" x="203.7" y="589.5"/><rect x="203.7" y="518.3" width="71.8" height="71.2" fill="none" stroke="#b8b8b8" stroke-width=".9"/><path d="M203.7 518.3L203.7 590" stroke="#808080" stroke-width=".8"/><path d="M203.3 589.5L275.5 589.5" stroke="#808080" stroke-width=".8"/><path d="M203.7 589.5h-.9M203.7 587.5h-.9M203.7 585.5h-.9M203.7 583.5h-.9M203.7 581.5h-.9M203.7 579.5h-.9M203.7 577.5h-.9M203.7 575.5h-.9M203.7 573.5h-.9M203.7 571.5h-.9M203.7 569.5h-.9M203.7 567.5h-.9M203.7 565.5h-.9M203.7 563.5h-.9M203.7 561.5h-.9M203.7 559.5h-.9M203.7 557.5h-.9M203.7 555.5h-.9M203.7 553.5h-.9M203.7 551.5h-.9M203.7 549.5h-.9M203.7 547.5h-.9M203.7 545.5h-.9M203.7 543.5h-.9M203.7 541.5h-.9M203.7 539.5h-.9M203.7 537.5h-.9M203.7 535.5h-.9M203.7 533.5h-.9M203.7 531.5h-.9M203.7 529.5h-.9M203.7 527.5h-.9M203.7 525.5h-.9M203.7 523.5h-.9M203.7 521.5h-.9M205.7 589.5v.9M207.7 589.5v.9M209.7 589.5v.9M211.7 589.5v.9M213.7 589.5v.9M215.7 589.5v.9M217.7 589.5v.9M219.7 589.5v.9M221.7 589.5v.9M223.7 589.5v.9M225.7 589.5v.9M227.7 589.5v.9M229.7 589.5v.9M231.7 589.5v.9M233.7 589.5v.9M235.7 589.5v.9M237.7 589.5v.9M239.7 589.5v.9M241.7 589.5v.9M243.7 589.5v.9M245.7 589.5v.9M247.7 589.5v.9M249.7 589.5v.9M251.7 589.5v.9M253.7 589.5v.9M255.7 589.5v.9M257.7 589.5v.9M259.7 589.5v.9M261.7 589.5v.9M263.7 589.5v.9M265.7 589.5v.9M267.7 589.5v.9M269.7 589.5v.9M271.7 589.5v.9M273.7 589.5v.9" stroke="#999" stroke-width=".45"/><text x="201.4" y="590.5" font-size="2.9" font-weight="normal" text-anchor="end" fill="#555" font-family="Liberation Sans">0</text><text x="201.4" y="573" font-size="2.9" font-weight="normal" text-anchor="end" fill="#555" font-family="Liberation Sans">200K</text><text x="201.4" y="554.5" font-size="2.9" font-weight="normal" text-anchor="end" fill="#555" font-family="Liberation Sans">400K</text><text x="201.4" y="536" font-size="2.9" font-weight="normal" text-anchor="end" fill="#555" font-family="Liberation Sans">600K</text><text x="216.4" y="595.1" font-size="2.9" font-weight="normal" text-anchor="middle" fill="#666" font-family="Liberation Sans">0</text><text x="239.7" y="595.1" font-size="2.9" font-weight="normal" text-anchor="middle" fill="#666" font-family="Liberation Sans">10⁴</text><text x="250.5" y="595.1" font-size="2.9" font-weight="normal" text-anchor="middle" fill="#666" font-family="Liberation Sans">10⁵</text><text x="262.8" y="595.1" font-size="2.9" font-weight="normal" text-anchor="middle" fill="#666" font-family="Liberation Sans">10⁶</text><text x="273" y="595.1" font-size="2.9" font-weight="normal" text-anchor="middle" fill="#666" font-family="Liberation Sans">10⁷</text><path d="M203.7 589h-1.8M203.7 571.5h-1.8M203.7 553h-1.8M203.7 534.5h-1.8M216 589.5v1.8M239.3 589.5v1.8M250.1 589.5v1.8M262.4 589.5v1.8M272.6 589.5v1.8" stroke="#333" stroke-width=".7"/><rect x="213.6" y="589.3" width="2.2" height="1.6" fill="#222" stroke="none" stroke-width="1"/><rect x="226.4" y="525.3" width="38.9" height="61.7" fill="none" stroke="#505050" stroke-width=".8"/><text x="246.6" y="554.2" font-size="2.8" font-weight="normal" text-anchor="middle" fill="#555" font-family="Liberation Sans">PI</text><text x="246.6" y="558.8" font-size="2.8" font-weight="normal" text-anchor="middle" fill="#555" font-family="Liberation Sans">20.6</text><use href="#c5" x="294.5" y="589.5"/><rect x="294.5" y="518.3" width="71.3" height="71.2" fill="none" stroke="#b8b8b8" stroke-width=".9"/><path d="M294.5 518.3L294.5 590" stroke="#808080" stroke-width=".8"/><path d="M294.1 589.5L365.8 589.5" stroke="#808080" stroke-width=".8"/><path d="M294.5 589.5h-.9M294.5 587.5h-.9M294.5 585.5h-.9M294.5 583.5h-.9M294.5 581.5h-.9M294.5 579.5h-.9M294.5 577.5h-.9M294.5 575.5h-.9M294.5 573.5h-.9M294.5 571.5h-.9M294.5 569.5h-.9M294.5 567.5h-.9M294.5 565.5h-.9M294.5 563.5h-.9M294.5 561.5h-.9M294.5 559.5h-.9M294.5 557.5h-.9M294.5 555.5h-.9M294.5 553.5h-.9M294.5 551.5h-.9M294.5 549.5h-.9M294.5 547.5h-.9M294.5 545.5h-.9M294.5 543.5h-.9M294.5 541.5h-.9M294.5 539.5h-.9M294.5 537.5h-.9M294.5 535.5h-.9M294.5 533.5h-.9M294.5 531.5h-.9M294.5 529.5h-.9M294.5 527.5h-.9M294.5 525.5h-.9M294.5 523.5h-.9M294.5 521.5h-.9M296.5 589.5v.9M298.5 589.5v.9M300.5 589.5v.9M302.5 589.5v.9M304.5 589.5v.9M306.5 589.5v.9M308.5 589.5v.9M310.5 589.5v.9M312.5 589.5v.9M314.5 589.5v.9M316.5 589.5v.9M318.5 589.5v.9M320.5 589.5v.9M322.5 589.5v.9M324.5 589.5v.9M326.5 589.5v.9M328.5 589.5v.9M330.5 589.5v.9M332.5 589.5v.9M334.5 589.5v.9M336.5 589.5v.9M338.5 589.5v.9M340.5 589.5v.9M342.5 589.5v.9M344.5 589.5v.9M346.5 589.5v.9M348.5 589.5v.9M350.5 589.5v.9M352.5 589.5v.9M354.5 589.5v.9M356.5 589.5v.9M358.5 589.5v.9M360.5 589.5v.9M362.5 589.5v.9M364.5 589.5v.9" stroke="#999" stroke-width=".45"/><text x="292.2" y="590.5" font-size="2.9" font-weight="normal" text-anchor="end" fill="#555" font-family="Liberation Sans">0</text><text x="292.2" y="573" font-size="2.9" font-weight="normal" text-anchor="end" fill="#555" font-family="Liberation Sans">200K</text><text x="292.2" y="554.5" font-size="2.9" font-weight="normal" text-anchor="end" fill="#555" font-family="Liberation Sans">400K</text><text x="292.2" y="536" font-size="2.9" font-weight="normal" text-anchor="end" fill="#555" font-family="Liberation Sans">600K</text><text x="307.2" y="595.1" font-size="2.9" font-weight="normal" text-anchor="middle" fill="#666" font-family="Liberation Sans">0</text><text x="330.5" y="595.1" font-size="2.9" font-weight="normal" text-anchor="middle" fill="#666" font-family="Liberation Sans">10⁴</text><text x="341.3" y="595.1" font-size="2.9" font-weight="normal" text-anchor="middle" fill="#666" font-family="Liberation Sans">10⁵</text><text x="353.6" y="595.1" font-size="2.9" font-weight="normal" text-anchor="middle" fill="#666" font-family="Liberation Sans">10⁶</text><text x="363.8" y="595.1" font-size="2.9" font-weight="normal" text-anchor="middle" fill="#666" font-family="Liberation Sans">10⁷</text><path d="M294.5 589h-1.8M294.5 571.5h-1.8M294.5 553h-1.8M294.5 534.5h-1.8M306.8 589.5v1.8M330.1 589.5v1.8M340.9 589.5v1.8M353.2 589.5v1.8M363.4 589.5v1.8" stroke="#333" stroke-width=".7"/><rect x="304.4" y="589.3" width="2.2" height="1.6" fill="#222" stroke="none" stroke-width="1"/><rect x="317.7" y="525.3" width="38" height="61.7" fill="none" stroke="#505050" stroke-width=".8"/><text x="337.5" y="554.2" font-size="2.8" font-weight="normal" text-anchor="middle" fill="#555" font-family="Liberation Sans">PI</text><text x="337.5" y="558.8" font-size="2.8" font-weight="normal" text-anchor="middle" fill="#555" font-family="Liberation Sans">20.5</text><use href="#b0" x="112.8" y="681.1"/><rect x="112.8" y="609.4" width="72" height="71.7" fill="none" stroke="#b8b8b8" stroke-width=".9"/><path d="M112.8 609.4L112.8 681.6" stroke="#808080" stroke-width=".8"/><path d="M112.4 681.1L184.8 681.1" stroke="#808080" stroke-width=".8"/><path d="M112.8 681.1h-.9M112.8 679.1h-.9M112.8 677.1h-.9M112.8 675.1h-.9M112.8 673.1h-.9M112.8 671.1h-.9M112.8 669.1h-.9M112.8 667.1h-.9M112.8 665.1h-.9M112.8 663.1h-.9M112.8 661.1h-.9M112.8 659.1h-.9M112.8 657.1h-.9M112.8 655.1h-.9M112.8 653.1h-.9M112.8 651.1h-.9M112.8 649.1h-.9M112.8 647.1h-.9M112.8 645.1h-.9M112.8 643.1h-.9M112.8 641.1h-.9M112.8 639.1h-.9M112.8 637.1h-.9M112.8 635.1h-.9M112.8 633.1h-.9M112.8 631.1h-.9M112.8 629.1h-.9M112.8 627.1h-.9M112.8 625.1h-.9M112.8 623.1h-.9M112.8 621.1h-.9M112.8 619.1h-.9M112.8 617.1h-.9M112.8 615.1h-.9M112.8 613.1h-.9M114.8 681.1v.9M116.8 681.1v.9M118.8 681.1v.9M120.8 681.1v.9M122.8 681.1v.9M124.8 681.1v.9M126.8 681.1v.9M128.8 681.1v.9M130.8 681.1v.9M132.8 681.1v.9M134.8 681.1v.9M136.8 681.1v.9M138.8 681.1v.9M140.8 681.1v.9M142.8 681.1v.9M144.8 681.1v.9M146.8 681.1v.9M148.8 681.1v.9M150.8 681.1v.9M152.8 681.1v.9M154.8 681.1v.9M156.8 681.1v.9M158.8 681.1v.9M160.8 681.1v.9M162.8 681.1v.9M164.8 681.1v.9M166.8 681.1v.9M168.8 681.1v.9M170.8 681.1v.9M172.8 681.1v.9M174.8 681.1v.9M176.8 681.1v.9M178.8 681.1v.9M180.8 681.1v.9M182.8 681.1v.9" stroke="#999" stroke-width=".45"/><text x="110.5" y="680.6" font-size="2.9" font-weight="normal" text-anchor="end" fill="#555" font-family="Liberation Sans">0</text><text x="110.5" y="669.8" font-size="2.9" font-weight="normal" text-anchor="end" fill="#555" font-family="Liberation Sans">100K</text><text x="110.5" y="657.6" font-size="2.9" font-weight="normal" text-anchor="end" fill="#555" font-family="Liberation Sans">200K</text><text x="110.5" y="645.3" font-size="2.9" font-weight="normal" text-anchor="end" fill="#555" font-family="Liberation Sans">300K</text><text x="110.5" y="633" font-size="2.9" font-weight="normal" text-anchor="end" fill="#555" font-family="Liberation Sans">400K</text><text x="110.5" y="621.1" font-size="2.9" font-weight="normal" text-anchor="end" fill="#555" font-family="Liberation Sans">500K</text><text x="126.3" y="686.7" font-size="2.9" font-weight="normal" text-anchor="middle" fill="#666" font-family="Liberation Sans">0</text><text x="148.8" y="686.7" font-size="2.9" font-weight="normal" text-anchor="middle" fill="#666" font-family="Liberation Sans">10⁴</text><text x="160.5" y="686.7" font-size="2.9" font-weight="normal" text-anchor="middle" fill="#666" font-family="Liberation Sans">10⁵</text><text x="171.8" y="686.7" font-size="2.9" font-weight="normal" text-anchor="middle" fill="#666" font-family="Liberation Sans">10⁶</text><text x="182.1" y="686.7" font-size="2.9" font-weight="normal" text-anchor="middle" fill="#666" font-family="Liberation Sans">10⁷</text><path d="M112.8 679.1h-1.8M112.8 668.3h-1.8M112.8 656.1h-1.8M112.8 643.8h-1.8M112.8 631.5h-1.8M112.8 619.6h-1.8M125.9 681.1v1.8M148.4 681.1v1.8M160.1 681.1v1.8M171.4 681.1v1.8M181.7 681.1v1.8" stroke="#333" stroke-width=".7"/><rect x="123.7" y="680.9" width="2.2" height="1.6" fill="#222" stroke="none" stroke-width="1"/><rect x="135.4" y="616.6" width="41" height="61.4" fill="none" stroke="#505050" stroke-width=".8"/><text x="156.7" y="645.6" font-size="2.8" font-weight="normal" text-anchor="middle" fill="#555" font-family="Liberation Sans">PI</text><text x="156.7" y="650.2" font-size="2.8" font-weight="normal" text-anchor="middle" fill="#555" font-family="Liberation Sans">9.88</text><use href="#b1" x="203.4" y="680.3"/><rect x="203.4" y="610.2" width="70.9" height="70.1" fill="none" stroke="#b8b8b8" stroke-width=".9"/><path d="M203.4 610.2L203.4 680.8" stroke="#808080" stroke-width=".8"/><path d="M203 680.3L274.3 680.3" stroke="#808080" stroke-width=".8"/><path d="M203.4 680.3h-.9M203.4 678.3h-.9M203.4 676.3h-.9M203.4 674.3h-.9M203.4 672.3h-.9M203.4 670.3h-.9M203.4 668.3h-.9M203.4 666.3h-.9M203.4 664.3h-.9M203.4 662.3h-.9M203.4 660.3h-.9M203.4 658.3h-.9M203.4 656.3h-.9M203.4 654.3h-.9M203.4 652.3h-.9M203.4 650.3h-.9M203.4 648.3h-.9M203.4 646.3h-.9M203.4 644.3h-.9M203.4 642.3h-.9M203.4 640.3h-.9M203.4 638.3h-.9M203.4 636.3h-.9M203.4 634.3h-.9M203.4 632.3h-.9M203.4 630.3h-.9M203.4 628.3h-.9M203.4 626.3h-.9M203.4 624.3h-.9M203.4 622.3h-.9M203.4 620.3h-.9M203.4 618.3h-.9M203.4 616.3h-.9M203.4 614.3h-.9M203.4 612.3h-.9M205.4 680.3v.9M207.4 680.3v.9M209.4 680.3v.9M211.4 680.3v.9M213.4 680.3v.9M215.4 680.3v.9M217.4 680.3v.9M219.4 680.3v.9M221.4 680.3v.9M223.4 680.3v.9M225.4 680.3v.9M227.4 680.3v.9M229.4 680.3v.9M231.4 680.3v.9M233.4 680.3v.9M235.4 680.3v.9M237.4 680.3v.9M239.4 680.3v.9M241.4 680.3v.9M243.4 680.3v.9M245.4 680.3v.9M247.4 680.3v.9M249.4 680.3v.9M251.4 680.3v.9M253.4 680.3v.9M255.4 680.3v.9M257.4 680.3v.9M259.4 680.3v.9M261.4 680.3v.9M263.4 680.3v.9M265.4 680.3v.9M267.4 680.3v.9M269.4 680.3v.9M271.4 680.3v.9" stroke="#999" stroke-width=".45"/><text x="201.1" y="679.8" font-size="2.9" font-weight="normal" text-anchor="end" fill="#555" font-family="Liberation Sans">0</text><text x="201.1" y="669" font-size="2.9" font-weight="normal" text-anchor="end" fill="#555" font-family="Liberation Sans">100K</text><text x="201.1" y="656.8" font-size="2.9" font-weight="normal" text-anchor="end" fill="#555" font-family="Liberation Sans">200K</text><text x="201.1" y="644.5" font-size="2.9" font-weight="normal" text-anchor="end" fill="#555" font-family="Liberation Sans">300K</text><text x="201.1" y="632.2" font-size="2.9" font-weight="normal" text-anchor="end" fill="#555" font-family="Liberation Sans">400K</text><text x="201.1" y="620.3" font-size="2.9" font-weight="normal" text-anchor="end" fill="#555" font-family="Liberation Sans">500K</text><text x="216.9" y="685.9" font-size="2.9" font-weight="normal" text-anchor="middle" fill="#666" font-family="Liberation Sans">0</text><text x="239.4" y="685.9" font-size="2.9" font-weight="normal" text-anchor="middle" fill="#666" font-family="Liberation Sans">10⁴</text><text x="251.1" y="685.9" font-size="2.9" font-weight="normal" text-anchor="middle" fill="#666" font-family="Liberation Sans">10⁵</text><text x="262.4" y="685.9" font-size="2.9" font-weight="normal" text-anchor="middle" fill="#666" font-family="Liberation Sans">10⁶</text><text x="272.7" y="685.9" font-size="2.9" font-weight="normal" text-anchor="middle" fill="#666" font-family="Liberation Sans">10⁷</text><path d="M203.4 678.3h-1.8M203.4 667.5h-1.8M203.4 655.3h-1.8M203.4 643h-1.8M203.4 630.7h-1.8M203.4 618.8h-1.8M216.5 680.3v1.8M239 680.3v1.8M250.7 680.3v1.8M262 680.3v1.8M272.3 680.3v1.8" stroke="#333" stroke-width=".7"/><rect x="214.3" y="680.1" width="2.2" height="1.6" fill="#222" stroke="none" stroke-width="1"/><rect x="225.3" y="617.5" width="41.4" height="60.7" fill="none" stroke="#505050" stroke-width=".8"/><text x="246.8" y="645.8" font-size="2.8" font-weight="normal" text-anchor="middle" fill="#555" font-family="Liberation Sans">PI</text><text x="246.8" y="650.4" font-size="2.8" font-weight="normal" text-anchor="middle" fill="#555" font-family="Liberation Sans">11.2</text><use href="#b2" x="293.9" y="680.3"/><rect x="293.9" y="610.2" width="71.5" height="70.1" fill="none" stroke="#b8b8b8" stroke-width=".9"/><path d="M293.9 610.2L293.9 680.8" stroke="#808080" stroke-width=".8"/><path d="M293.5 680.3L365.4 680.3" stroke="#808080" stroke-width=".8"/><path d="M293.9 680.3h-.9M293.9 678.3h-.9M293.9 676.3h-.9M293.9 674.3h-.9M293.9 672.3h-.9M293.9 670.3h-.9M293.9 668.3h-.9M293.9 666.3h-.9M293.9 664.3h-.9M293.9 662.3h-.9M293.9 660.3h-.9M293.9 658.3h-.9M293.9 656.3h-.9M293.9 654.3h-.9M293.9 652.3h-.9M293.9 650.3h-.9M293.9 648.3h-.9M293.9 646.3h-.9M293.9 644.3h-.9M293.9 642.3h-.9M293.9 640.3h-.9M293.9 638.3h-.9M293.9 636.3h-.9M293.9 634.3h-.9M293.9 632.3h-.9M293.9 630.3h-.9M293.9 628.3h-.9M293.9 626.3h-.9M293.9 624.3h-.9M293.9 622.3h-.9M293.9 620.3h-.9M293.9 618.3h-.9M293.9 616.3h-.9M293.9 614.3h-.9M293.9 612.3h-.9M295.9 680.3v.9M297.9 680.3v.9M299.9 680.3v.9M301.9 680.3v.9M303.9 680.3v.9M305.9 680.3v.9M307.9 680.3v.9M309.9 680.3v.9M311.9 680.3v.9M313.9 680.3v.9M315.9 680.3v.9M317.9 680.3v.9M319.9 680.3v.9M321.9 680.3v.9M323.9 680.3v.9M325.9 680.3v.9M327.9 680.3v.9M329.9 680.3v.9M331.9 680.3v.9M333.9 680.3v.9M335.9 680.3v.9M337.9 680.3v.9M339.9 680.3v.9M341.9 680.3v.9M343.9 680.3v.9M345.9 680.3v.9M347.9 680.3v.9M349.9 680.3v.9M351.9 680.3v.9M353.9 680.3v.9M355.9 680.3v.9M357.9 680.3v.9M359.9 680.3v.9M361.9 680.3v.9M363.9 680.3v.9" stroke="#999" stroke-width=".45"/><text x="291.6" y="679.8" font-size="2.9" font-weight="normal" text-anchor="end" fill="#555" font-family="Liberation Sans">0</text><text x="291.6" y="669" font-size="2.9" font-weight="normal" text-anchor="end" fill="#555" font-family="Liberation Sans">100K</text><text x="291.6" y="656.8" font-size="2.9" font-weight="normal" text-anchor="end" fill="#555" font-family="Liberation Sans">200K</text><text x="291.6" y="644.5" font-size="2.9" font-weight="normal" text-anchor="end" fill="#555" font-family="Liberation Sans">300K</text><text x="291.6" y="632.2" font-size="2.9" font-weight="normal" text-anchor="end" fill="#555" font-family="Liberation Sans">400K</text><text x="291.6" y="620.3" font-size="2.9" font-weight="normal" text-anchor="end" fill="#555" font-family="Liberation Sans">500K</text><text x="307.4" y="685.9" font-size="2.9" font-weight="normal" text-anchor="middle" fill="#666" font-family="Liberation Sans">0</text><text x="329.9" y="685.9" font-size="2.9" font-weight="normal" text-anchor="middle" fill="#666" font-family="Liberation Sans">10⁴</text><text x="341.6" y="685.9" font-size="2.9" font-weight="normal" text-anchor="middle" fill="#666" font-family="Liberation Sans">10⁵</text><text x="352.9" y="685.9" font-size="2.9" font-weight="normal" text-anchor="middle" fill="#666" font-family="Liberation Sans">10⁶</text><text x="363.2" y="685.9" font-size="2.9" font-weight="normal" text-anchor="middle" fill="#666" font-family="Liberation Sans">10⁷</text><path d="M293.9 678.3h-1.8M293.9 667.5h-1.8M293.9 655.3h-1.8M293.9 643h-1.8M293.9 630.7h-1.8M293.9 618.8h-1.8M307 680.3v1.8M329.5 680.3v1.8M341.2 680.3v1.8M352.5 680.3v1.8M362.8 680.3v1.8" stroke="#333" stroke-width=".7"/><rect x="304.8" y="680.1" width="2.2" height="1.6" fill="#222" stroke="none" stroke-width="1"/><rect x="316.6" y="617.5" width="41.5" height="60.7" fill="none" stroke="#505050" stroke-width=".8"/><text x="338.2" y="645.8" font-size="2.8" font-weight="normal" text-anchor="middle" fill="#555" font-family="Liberation Sans">PI</text><text x="338.2" y="650.4" font-size="2.8" font-weight="normal" text-anchor="middle" fill="#555" font-family="Liberation Sans">10.7</text><use href="#b3" x="111.5" y="763.7"/><rect x="111.5" y="692.3" width="71" height="71.4" fill="none" stroke="#b8b8b8" stroke-width=".9"/><path d="M111.5 692.3L111.5 764.2" stroke="#808080" stroke-width=".8"/><path d="M111.1 763.7L182.5 763.7" stroke="#808080" stroke-width=".8"/><path d="M111.5 763.7h-.9M111.5 761.7h-.9M111.5 759.7h-.9M111.5 757.7h-.9M111.5 755.7h-.9M111.5 753.7h-.9M111.5 751.7h-.9M111.5 749.7h-.9M111.5 747.7h-.9M111.5 745.7h-.9M111.5 743.7h-.9M111.5 741.7h-.9M111.5 739.7h-.9M111.5 737.7h-.9M111.5 735.7h-.9M111.5 733.7h-.9M111.5 731.7h-.9M111.5 729.7h-.9M111.5 727.7h-.9M111.5 725.7h-.9M111.5 723.7h-.9M111.5 721.7h-.9M111.5 719.7h-.9M111.5 717.7h-.9M111.5 715.7h-.9M111.5 713.7h-.9M111.5 711.7h-.9M111.5 709.7h-.9M111.5 707.7h-.9M111.5 705.7h-.9M111.5 703.7h-.9M111.5 701.7h-.9M111.5 699.7h-.9M111.5 697.7h-.9M111.5 695.7h-.9M113.5 763.7v.9M115.5 763.7v.9M117.5 763.7v.9M119.5 763.7v.9M121.5 763.7v.9M123.5 763.7v.9M125.5 763.7v.9M127.5 763.7v.9M129.5 763.7v.9M131.5 763.7v.9M133.5 763.7v.9M135.5 763.7v.9M137.5 763.7v.9M139.5 763.7v.9M141.5 763.7v.9M143.5 763.7v.9M145.5 763.7v.9M147.5 763.7v.9M149.5 763.7v.9M151.5 763.7v.9M153.5 763.7v.9M155.5 763.7v.9M157.5 763.7v.9M159.5 763.7v.9M161.5 763.7v.9M163.5 763.7v.9M165.5 763.7v.9M167.5 763.7v.9M169.5 763.7v.9M171.5 763.7v.9M173.5 763.7v.9M175.5 763.7v.9M177.5 763.7v.9M179.5 763.7v.9M181.5 763.7v.9" stroke="#999" stroke-width=".45"/><text x="109.2" y="763.2" font-size="2.9" font-weight="normal" text-anchor="end" fill="#555" font-family="Liberation Sans">0</text><text x="109.2" y="752.4" font-size="2.9" font-weight="normal" text-anchor="end" fill="#555" font-family="Liberation Sans">100K</text><text x="109.2" y="740.2" font-size="2.9" font-weight="normal" text-anchor="end" fill="#555" font-family="Liberation Sans">200K</text><text x="109.2" y="727.9" font-size="2.9" font-weight="normal" text-anchor="end" fill="#555" font-family="Liberation Sans">300K</text><text x="109.2" y="715.6" font-size="2.9" font-weight="normal" text-anchor="end" fill="#555" font-family="Liberation Sans">400K</text><text x="109.2" y="703.7" font-size="2.9" font-weight="normal" text-anchor="end" fill="#555" font-family="Liberation Sans">500K</text><text x="125" y="769.3" font-size="2.9" font-weight="normal" text-anchor="middle" fill="#666" font-family="Liberation Sans">0</text><text x="147.5" y="769.3" font-size="2.9" font-weight="normal" text-anchor="middle" fill="#666" font-family="Liberation Sans">10⁴</text><text x="159.2" y="769.3" font-size="2.9" font-weight="normal" text-anchor="middle" fill="#666" font-family="Liberation Sans">10⁵</text><text x="170.5" y="769.3" font-size="2.9" font-weight="normal" text-anchor="middle" fill="#666" font-family="Liberation Sans">10⁶</text><text x="180.8" y="769.3" font-size="2.9" font-weight="normal" text-anchor="middle" fill="#666" font-family="Liberation Sans">10⁷</text><path d="M111.5 761.7h-1.8M111.5 750.9h-1.8M111.5 738.7h-1.8M111.5 726.4h-1.8M111.5 714.1h-1.8M111.5 702.2h-1.8M124.6 763.7v1.8M147.1 763.7v1.8M158.8 763.7v1.8M170.1 763.7v1.8M180.4 763.7v1.8" stroke="#333" stroke-width=".7"/><rect x="122.4" y="763.5" width="2.2" height="1.6" fill="#222" stroke="none" stroke-width="1"/><rect x="133.4" y="699.4" width="41.2" height="61.2" fill="none" stroke="#505050" stroke-width=".8"/><text x="154.8" y="728.3" font-size="2.8" font-weight="normal" text-anchor="middle" fill="#555" font-family="Liberation Sans">PI</text><text x="154.8" y="732.9" font-size="2.8" font-weight="normal" text-anchor="middle" fill="#555" font-family="Liberation Sans">12.6</text><use href="#b4" x="199.2" y="763.5"/><rect x="199.2" y="693.4" width="72.2" height="70.1" fill="none" stroke="#b8b8b8" stroke-width=".9"/><path d="M199.2 693.4L199.2 764" stroke="#808080" stroke-width=".8"/><path d="M198.8 763.5L271.4 763.5" stroke="#808080" stroke-width=".8"/><path d="M199.2 763.5h-.9M199.2 761.5h-.9M199.2 759.5h-.9M199.2 757.5h-.9M199.2 755.5h-.9M199.2 753.5h-.9M199.2 751.5h-.9M199.2 749.5h-.9M199.2 747.5h-.9M199.2 745.5h-.9M199.2 743.5h-.9M199.2 741.5h-.9M199.2 739.5h-.9M199.2 737.5h-.9M199.2 735.5h-.9M199.2 733.5h-.9M199.2 731.5h-.9M199.2 729.5h-.9M199.2 727.5h-.9M199.2 725.5h-.9M199.2 723.5h-.9M199.2 721.5h-.9M199.2 719.5h-.9M199.2 717.5h-.9M199.2 715.5h-.9M199.2 713.5h-.9M199.2 711.5h-.9M199.2 709.5h-.9M199.2 707.5h-.9M199.2 705.5h-.9M199.2 703.5h-.9M199.2 701.5h-.9M199.2 699.5h-.9M199.2 697.5h-.9M199.2 695.5h-.9M201.2 763.5v.9M203.2 763.5v.9M205.2 763.5v.9M207.2 763.5v.9M209.2 763.5v.9M211.2 763.5v.9M213.2 763.5v.9M215.2 763.5v.9M217.2 763.5v.9M219.2 763.5v.9M221.2 763.5v.9M223.2 763.5v.9M225.2 763.5v.9M227.2 763.5v.9M229.2 763.5v.9M231.2 763.5v.9M233.2 763.5v.9M235.2 763.5v.9M237.2 763.5v.9M239.2 763.5v.9M241.2 763.5v.9M243.2 763.5v.9M245.2 763.5v.9M247.2 763.5v.9M249.2 763.5v.9M251.2 763.5v.9M253.2 763.5v.9M255.2 763.5v.9M257.2 763.5v.9M259.2 763.5v.9M261.2 763.5v.9M263.2 763.5v.9M265.2 763.5v.9M267.2 763.5v.9M269.2 763.5v.9" stroke="#999" stroke-width=".45"/><text x="196.9" y="763" font-size="2.9" font-weight="normal" text-anchor="end" fill="#555" font-family="Liberation Sans">0</text><text x="196.9" y="752.2" font-size="2.9" font-weight="normal" text-anchor="end" fill="#555" font-family="Liberation Sans">100K</text><text x="196.9" y="740" font-size="2.9" font-weight="normal" text-anchor="end" fill="#555" font-family="Liberation Sans">200K</text><text x="196.9" y="727.7" font-size="2.9" font-weight="normal" text-anchor="end" fill="#555" font-family="Liberation Sans">300K</text><text x="196.9" y="715.4" font-size="2.9" font-weight="normal" text-anchor="end" fill="#555" font-family="Liberation Sans">400K</text><text x="196.9" y="703.5" font-size="2.9" font-weight="normal" text-anchor="end" fill="#555" font-family="Liberation Sans">500K</text><text x="212.7" y="769.1" font-size="2.9" font-weight="normal" text-anchor="middle" fill="#666" font-family="Liberation Sans">0</text><text x="235.2" y="769.1" font-size="2.9" font-weight="normal" text-anchor="middle" fill="#666" font-family="Liberation Sans">10⁴</text><text x="246.9" y="769.1" font-size="2.9" font-weight="normal" text-anchor="middle" fill="#666" font-family="Liberation Sans">10⁵</text><text x="258.2" y="769.1" font-size="2.9" font-weight="normal" text-anchor="middle" fill="#666" font-family="Liberation Sans">10⁶</text><text x="268.5" y="769.1" font-size="2.9" font-weight="normal" text-anchor="middle" fill="#666" font-family="Liberation Sans">10⁷</text><path d="M199.2 761.5h-1.8M199.2 750.7h-1.8M199.2 738.5h-1.8M199.2 726.2h-1.8M199.2 713.9h-1.8M199.2 702h-1.8M212.3 763.5v1.8M234.8 763.5v1.8M246.5 763.5v1.8M257.8 763.5v1.8M268.1 763.5v1.8" stroke="#333" stroke-width=".7"/><rect x="210.1" y="763.3" width="2.2" height="1.6" fill="#222" stroke="none" stroke-width="1"/><rect x="222.3" y="700.7" width="41.5" height="59.9" fill="none" stroke="#505050" stroke-width=".8"/><text x="243.9" y="729" font-size="2.8" font-weight="normal" text-anchor="middle" fill="#555" font-family="Liberation Sans">PI</text><text x="243.9" y="733.6" font-size="2.8" font-weight="normal" text-anchor="middle" fill="#555" font-family="Liberation Sans">12.1</text><use href="#b5" x="293.3" y="763.5"/><rect x="293.3" y="692.3" width="72.1" height="71.2" fill="none" stroke="#b8b8b8" stroke-width=".9"/><path d="M293.3 692.3L293.3 764" stroke="#808080" stroke-width=".8"/><path d="M292.9 763.5L365.4 763.5" stroke="#808080" stroke-width=".8"/><path d="M293.3 763.5h-.9M293.3 761.5h-.9M293.3 759.5h-.9M293.3 757.5h-.9M293.3 755.5h-.9M293.3 753.5h-.9M293.3 751.5h-.9M293.3 749.5h-.9M293.3 747.5h-.9M293.3 745.5h-.9M293.3 743.5h-.9M293.3 741.5h-.9M293.3 739.5h-.9M293.3 737.5h-.9M293.3 735.5h-.9M293.3 733.5h-.9M293.3 731.5h-.9M293.3 729.5h-.9M293.3 727.5h-.9M293.3 725.5h-.9M293.3 723.5h-.9M293.3 721.5h-.9M293.3 719.5h-.9M293.3 717.5h-.9M293.3 715.5h-.9M293.3 713.5h-.9M293.3 711.5h-.9M293.3 709.5h-.9M293.3 707.5h-.9M293.3 705.5h-.9M293.3 703.5h-.9M293.3 701.5h-.9M293.3 699.5h-.9M293.3 697.5h-.9M293.3 695.5h-.9M295.3 763.5v.9M297.3 763.5v.9M299.3 763.5v.9M301.3 763.5v.9M303.3 763.5v.9M305.3 763.5v.9M307.3 763.5v.9M309.3 763.5v.9M311.3 763.5v.9M313.3 763.5v.9M315.3 763.5v.9M317.3 763.5v.9M319.3 763.5v.9M321.3 763.5v.9M323.3 763.5v.9M325.3 763.5v.9M327.3 763.5v.9M329.3 763.5v.9M331.3 763.5v.9M333.3 763.5v.9M335.3 763.5v.9M337.3 763.5v.9M339.3 763.5v.9M341.3 763.5v.9M343.3 763.5v.9M345.3 763.5v.9M347.3 763.5v.9M349.3 763.5v.9M351.3 763.5v.9M353.3 763.5v.9M355.3 763.5v.9M357.3 763.5v.9M359.3 763.5v.9M361.3 763.5v.9M363.3 763.5v.9" stroke="#999" stroke-width=".45"/><text x="291" y="763" font-size="2.9" font-weight="normal" text-anchor="end" fill="#555" font-family="Liberation Sans">0</text><text x="291" y="752.2" font-size="2.9" font-weight="normal" text-anchor="end" fill="#555" font-family="Liberation Sans">100K</text><text x="291" y="740" font-size="2.9" font-weight="normal" text-anchor="end" fill="#555" font-family="Liberation Sans">200K</text><text x="291" y="727.7" font-size="2.9" font-weight="normal" text-anchor="end" fill="#555" font-family="Liberation Sans">300K</text><text x="291" y="715.4" font-size="2.9" font-weight="normal" text-anchor="end" fill="#555" font-family="Liberation Sans">400K</text><text x="291" y="703.5" font-size="2.9" font-weight="normal" text-anchor="end" fill="#555" font-family="Liberation Sans">500K</text><text x="306.8" y="769.1" font-size="2.9" font-weight="normal" text-anchor="middle" fill="#666" font-family="Liberation Sans">0</text><text x="329.3" y="769.1" font-size="2.9" font-weight="normal" text-anchor="middle" fill="#666" font-family="Liberation Sans">10⁴</text><text x="341" y="769.1" font-size="2.9" font-weight="normal" text-anchor="middle" fill="#666" font-family="Liberation Sans">10⁵</text><text x="352.3" y="769.1" font-size="2.9" font-weight="normal" text-anchor="middle" fill="#666" font-family="Liberation Sans">10⁶</text><text x="362.6" y="769.1" font-size="2.9" font-weight="normal" text-anchor="middle" fill="#666" font-family="Liberation Sans">10⁷</text><path d="M293.3 761.5h-1.8M293.3 750.7h-1.8M293.3 738.5h-1.8M293.3 726.2h-1.8M293.3 713.9h-1.8M293.3 702h-1.8M306.4 763.5v1.8M328.9 763.5v1.8M340.6 763.5v1.8M351.9 763.5v1.8M362.2 763.5v1.8" stroke="#333" stroke-width=".7"/><rect x="304.2" y="763.3" width="2.2" height="1.6" fill="#222" stroke="none" stroke-width="1"/><rect x="315.8" y="699.3" width="41.4" height="61.3" fill="none" stroke="#505050" stroke-width=".8"/><text x="337.3" y="728.2" font-size="2.8" font-weight="normal" text-anchor="middle" fill="#555" font-family="Liberation Sans">PI</text><text x="337.3" y="732.8" font-size="2.8" font-weight="normal" text-anchor="middle" fill="#555" font-family="Liberation Sans">11.5</text><text x="506.8" y="23.1" font-size="10.5" textLength="73.6" lengthAdjust="spacingAndGlyphs" stroke="#111" stroke-width=".28">MKN45 cell lysis</text><path d="M489.6 155.2L489.6 46.8" stroke="#111" stroke-width="1.3"/><path d="M485.6 154.6L489.6 154.6" stroke="#111" stroke-width="1.3"/><text x="483.1" y="157.5" font-size="8.2" text-anchor="end" stroke="#111" stroke-width=".28">0</text><path d="M485.6 118.7L489.6 118.7" stroke="#111" stroke-width="1.3"/><text x="483.1" y="121.6" font-size="8.2" text-anchor="end" stroke="#111" stroke-width=".28">50</text><path d="M485.6 82.7L489.6 82.7" stroke="#111" stroke-width="1.3"/><text x="483.1" y="85.6" font-size="8.2" text-anchor="end" stroke="#111" stroke-width=".28">100</text><path d="M485.6 46.8L489.6 46.8" stroke="#111" stroke-width="1.3"/><text x="483.1" y="49.7" font-size="8.2" text-anchor="end" stroke="#111" stroke-width=".28">150</text><path d="M485.1 154.6L597.7 154.6" stroke="#111" stroke-width="1.3"/><path d="M500 83.1L500 80" stroke="#333" stroke-width=".9"/><path d="M497.6 80L502.4 80" stroke="#333" stroke-width=".9"/><rect x="495.8" y="83.8" width="8.5" height="70.8" fill="#050505" stroke="#111" stroke-width="1.3"/><path d="M515.4 80L515.4 77.3" stroke="#333" stroke-width=".9"/><path d="M513 77.3L517.8 77.3" stroke="#333" stroke-width=".9"/><rect x="511.1" y="80.7" width="8.5" height="73.9" fill="#b0b0b0" stroke="#111" stroke-width="1.3"/><path d="M531 64.9L531 59" stroke="#333" stroke-width=".9"/><path d="M528.6 59L533.4 59" stroke="#333" stroke-width=".9"/><rect x="526.8" y="65.6" width="8.5" height="89" fill="#8e8e8e" stroke="#111" stroke-width="1.3"/><path d="M556.5 66L556.5 62.6" stroke="#333" stroke-width=".9"/><path d="M554.1 62.6L558.9 62.6" stroke="#333" stroke-width=".9"/><rect x="552.2" y="66.7" width="8.5" height="87.9" fill="#050505" stroke="#111" stroke-width="1.3"/><path d="M572.1 63.7L572.1 60.2" stroke="#333" stroke-width=".9"/><path d="M569.7 60.2L574.5 60.2" stroke="#333" stroke-width=".9"/><rect x="567.9" y="64.4" width="8.5" height="90.2" fill="#b0b0b0" stroke="#111" stroke-width="1.3"/><path d="M587.7 52.7L587.7 50.2" stroke="#333" stroke-width=".9"/><path d="M585.3 50.2L590.1 50.2" stroke="#333" stroke-width=".9"/><rect x="583.4" y="53.4" width="8.5" height="101.2" fill="#8e8e8e" stroke="#111" stroke-width="1.3"/><path d="M515.2 154.6L515.2 158.8" stroke="#111" stroke-width="1.2"/><text x="515.2" y="168.2" font-size="8.4" text-anchor="middle" stroke="#111" stroke-width=".28">-</text><path d="M571.8 154.6L571.8 158.8" stroke="#111" stroke-width="1.2"/><text x="571.8" y="168.2" font-size="8.4" text-anchor="middle" stroke="#111" stroke-width=".28">+</text><path d="M498 49.2L556.8 49.2" stroke="#111" stroke-width="1.6"/><path d="M514.7 37.6L573.1 37.6" stroke="#111" stroke-width="1.6"/><text x="528.8" y="49.1" font-size="7.5" text-anchor="middle" stroke="#111" stroke-width=".28">*</text><text x="544.4" y="37.2" font-size="7.5" text-anchor="middle" stroke="#111" stroke-width=".28">*</text><text x="530.6" y="58.9" font-size="7.5" text-anchor="middle" stroke="#111" stroke-width=".28">*</text><text x="587.4" y="50" font-size="7.5" text-anchor="middle" stroke="#111" stroke-width=".28">*</text><text transform="translate(465.9 153.4) rotate(-90)" font-size="9.6" textLength="79.2" lengthAdjust="spacingAndGlyphs" stroke="#111" stroke-width=".32">Percentage of control</text><text transform="translate(465.6 68.3) rotate(-90)" font-size="9.6" textLength="15.4" lengthAdjust="spacingAndGlyphs" stroke="#111" stroke-width=".32">(%)</text><text x="447" y="166" font-size="9.2" textLength="42.8" lengthAdjust="spacingAndGlyphs" stroke="#111" stroke-width=".28">Cell culture</text><text x="447" y="177" font-size="9.2" textLength="44" lengthAdjust="spacingAndGlyphs" stroke="#111" stroke-width=".28">supernatant</text><text x="528.8" y="188.7" font-size="8.8" textLength="29.2" lengthAdjust="spacingAndGlyphs" stroke="#111" stroke-width=".28">E:T=3:1</text><rect x="610.5" y="49.5" width="12.5" height="7" fill="#050505" stroke="#111" stroke-width="1.2"/><text x="629.8" y="56.3" font-size="9.4" textLength="28.5" lengthAdjust="spacingAndGlyphs" stroke="#111" stroke-width=".28">Control</text><rect x="610.5" y="64.8" width="12.5" height="7.1" fill="#b0b0b0" stroke="#111" stroke-width="1.2"/><text x="629.8" y="71.6" font-size="9.4" textLength="46" lengthAdjust="spacingAndGlyphs" stroke="#111" stroke-width=".28">DAC-0.5μM</text><rect x="610.5" y="80.6" width="12.5" height="6.6" fill="#8e8e8e" stroke="#111" stroke-width="1.2"/><text x="629.8" y="87.2" font-size="9.4" textLength="39" lengthAdjust="spacingAndGlyphs" stroke="#111" stroke-width=".28">DAC-1μM</text><text x="506.6" y="208.6" font-size="10.5" textLength="73.6" lengthAdjust="spacingAndGlyphs" stroke="#111" stroke-width=".28">NUGC4 cell lysis</text><path d="M489.6 340.2L489.6 233.1" stroke="#111" stroke-width="1.3"/><path d="M485.6 339.6L489.6 339.6" stroke="#111" stroke-width="1.3"/><text x="483.1" y="342.5" font-size="8.2" text-anchor="end" stroke="#111" stroke-width=".28">0</text><path d="M485.6 313L489.6 313" stroke="#111" stroke-width="1.3"/><text x="483.1" y="315.9" font-size="8.2" text-anchor="end" stroke="#111" stroke-width=".28">50</text><path d="M485.6 286.4L489.6 286.4" stroke="#111" stroke-width="1.3"/><text x="483.1" y="289.2" font-size="8.2" text-anchor="end" stroke="#111" stroke-width=".28">100</text><path d="M485.6 259.7L489.6 259.7" stroke="#111" stroke-width="1.3"/><text x="483.1" y="262.6" font-size="8.2" text-anchor="end" stroke="#111" stroke-width=".28">150</text><path d="M485.6 233.1L489.6 233.1" stroke="#111" stroke-width="1.3"/><text x="483.1" y="236" font-size="8.2" text-anchor="end" stroke="#111" stroke-width=".28">200</text><path d="M485.1 339.6L596.2 339.6" stroke="#111" stroke-width="1.3"/><path d="M499.7 286.8L499.7 285.6" stroke="#333" stroke-width=".9"/><path d="M497.3 285.6L502.1 285.6" stroke="#333" stroke-width=".9"/><rect x="495.4" y="287.4" width="8.5" height="52.2" fill="#050505" stroke="#111" stroke-width="1.3"/><path d="M515.1 281.4L515.1 279.1" stroke="#333" stroke-width=".9"/><path d="M512.7 279.1L517.5 279.1" stroke="#333" stroke-width=".9"/><rect x="510.8" y="282" width="8.5" height="57.6" fill="#b0b0b0" stroke="#111" stroke-width="1.3"/><path d="M530.3 266.7L530.3 260.9" stroke="#333" stroke-width=".9"/><path d="M527.9 260.9L532.7 260.9" stroke="#333" stroke-width=".9"/><rect x="526" y="267.3" width="8.5" height="72.3" fill="#8e8e8e" stroke="#111" stroke-width="1.3"/><path d="M556 281L556 278.6" stroke="#333" stroke-width=".9"/><path d="M553.6 278.6L558.4 278.6" stroke="#333" stroke-width=".9"/><rect x="551.8" y="281.6" width="8.5" height="58" fill="#050505" stroke="#111" stroke-width="1.3"/><path d="M571.4 263.4L571.4 262" stroke="#333" stroke-width=".9"/><path d="M569 262L573.8 262" stroke="#333" stroke-width=".9"/><rect x="567.1" y="264" width="8.5" height="75.6" fill="#b0b0b0" stroke="#111" stroke-width="1.3"/><path d="M586.3 262.7L586.3 254.6" stroke="#333" stroke-width=".9"/><path d="M583.9 254.6L588.7 254.6" stroke="#333" stroke-width=".9"/><rect x="582" y="263.3" width="8.5" height="76.3" fill="#8e8e8e" stroke="#111" stroke-width="1.3"/><path d="M514.5 339.6L514.5 343.8" stroke="#111" stroke-width="1.2"/><text x="514.5" y="353.2" font-size="8.4" text-anchor="middle" stroke="#111" stroke-width=".28">-</text><path d="M570.5 339.6L570.5 343.8" stroke="#111" stroke-width="1.2"/><text x="570.5" y="353.2" font-size="8.4" text-anchor="middle" stroke="#111" stroke-width=".28">+</text><path d="M498 251L556.1 251" stroke="#111" stroke-width="1.6"/><path d="M514.7 237.7L572.4 237.7" stroke="#111" stroke-width="1.6"/><text x="528.8" y="249.3" font-size="7.5" text-anchor="middle" stroke="#111" stroke-width=".28">*</text><text x="542" y="235.7" font-size="7.5" text-anchor="middle" stroke="#111" stroke-width=".28">***</text><text x="530" y="259.8" font-size="7.5" text-anchor="middle" stroke="#111" stroke-width=".28">*</text><text x="514.7" y="277.8" font-size="7.5" text-anchor="middle" stroke="#111" stroke-width=".28">*</text><text x="570.1" y="261.4" font-size="7.5" text-anchor="middle" stroke="#111" stroke-width=".28">***</text><text transform="translate(465.7 338) rotate(-90)" font-size="9.6" textLength="79.5" lengthAdjust="spacingAndGlyphs" stroke="#111" stroke-width=".32">Percentage of control</text><text transform="translate(465.4 252.6) rotate(-90)" font-size="9.6" textLength="15.4" lengthAdjust="spacingAndGlyphs" stroke="#111" stroke-width=".32">(%)</text><text x="443.5" y="349.8" font-size="9.2" textLength="43.2" lengthAdjust="spacingAndGlyphs" stroke="#111" stroke-width=".28">Cell culture</text><text x="443.5" y="359.8" font-size="9.2" textLength="45" lengthAdjust="spacingAndGlyphs" stroke="#111" stroke-width=".28">supernatant</text><text x="527.6" y="373.1" font-size="8.8" textLength="29.2" lengthAdjust="spacingAndGlyphs" stroke="#111" stroke-width=".28">E:T=3:1</text><rect x="609.5" y="235.8" width="12.2" height="6.6" fill="#050505" stroke="#111" stroke-width="1.2"/><text x="628.3" y="242.4" font-size="9.4" textLength="28.5" lengthAdjust="spacingAndGlyphs" stroke="#111" stroke-width=".28">Control</text><rect x="609.5" y="251" width="12.2" height="6.7" fill="#b0b0b0" stroke="#111" stroke-width="1.2"/><text x="628.3" y="257.7" font-size="9.4" textLength="46" lengthAdjust="spacingAndGlyphs" stroke="#111" stroke-width=".28">DAC-0.5μM</text><rect x="609.5" y="265.9" width="12.2" height="6.6" fill="#8e8e8e" stroke="#111" stroke-width="1.2"/><text x="628.3" y="272.5" font-size="9.4" textLength="39" lengthAdjust="spacingAndGlyphs" stroke="#111" stroke-width=".28">DAC-1μM</text><text x="509.6" y="428.3" font-size="10.5" textLength="73.4" lengthAdjust="spacingAndGlyphs" stroke="#111" stroke-width=".28">MKN45 cell lysis</text><path d="M492.6 558.8L492.6 450.4" stroke="#111" stroke-width="1.3"/><path d="M488.6 558.2L492.6 558.2" stroke="#111" stroke-width="1.3"/><text x="486.1" y="561.1" font-size="8.2" text-anchor="end" stroke="#111" stroke-width=".28">0</text><path d="M488.6 522.3L492.6 522.3" stroke="#111" stroke-width="1.3"/><text x="486.1" y="525.2" font-size="8.2" text-anchor="end" stroke="#111" stroke-width=".28">50</text><path d="M488.6 486.3L492.6 486.3" stroke="#111" stroke-width="1.3"/><text x="486.1" y="489.2" font-size="8.2" text-anchor="end" stroke="#111" stroke-width=".28">100</text><path d="M488.6 450.4L492.6 450.4" stroke="#111" stroke-width="1.3"/><text x="486.1" y="453.3" font-size="8.2" text-anchor="end" stroke="#111" stroke-width=".28">150</text><path d="M488.1 558.2L600 558.2" stroke="#111" stroke-width="1.3"/><path d="M502.9 485.9L502.9 483.1" stroke="#333" stroke-width=".9"/><path d="M500.5 483.1L505.3 483.1" stroke="#333" stroke-width=".9"/><rect x="498.6" y="486.5" width="8.5" height="71.7" fill="#050505" stroke="#111" stroke-width="1.3"/><path d="M518.7 479.6L518.7 474.9" stroke="#333" stroke-width=".9"/><path d="M516.3 474.9L521.1 474.9" stroke="#333" stroke-width=".9"/><rect x="514.4" y="480.2" width="8.5" height="78" fill="#b0b0b0" stroke="#111" stroke-width="1.3"/><path d="M533.7 474.9L533.7 466" stroke="#333" stroke-width=".9"/><path d="M531.3 466L536.1 466" stroke="#333" stroke-width=".9"/><rect x="529.4" y="475.5" width="8.5" height="82.7" fill="#8e8e8e" stroke="#111" stroke-width="1.3"/><path d="M559.5 496L559.5 490.6" stroke="#333" stroke-width=".9"/><path d="M557.1 490.6L561.9 490.6" stroke="#333" stroke-width=".9"/><rect x="555.2" y="496.6" width="8.5" height="61.6" fill="#050505" stroke="#111" stroke-width="1.3"/><path d="M574.7 495.3L574.7 490.1" stroke="#333" stroke-width=".9"/><path d="M572.3 490.1L577.1 490.1" stroke="#333" stroke-width=".9"/><rect x="570.4" y="495.9" width="8.5" height="62.3" fill="#b0b0b0" stroke="#111" stroke-width="1.3"/><path d="M590 489L590 482.9" stroke="#333" stroke-width=".9"/><path d="M587.6 482.9L592.4 482.9" stroke="#333" stroke-width=".9"/><rect x="585.8" y="489.6" width="8.5" height="68.6" fill="#8e8e8e" stroke="#111" stroke-width="1.3"/><path d="M518.3 558.2L518.3 562.4" stroke="#111" stroke-width="1.2"/><text x="518.3" y="571.8" font-size="8.4" text-anchor="middle" stroke="#111" stroke-width=".28">-</text><path d="M574.3 558.2L574.3 562.4" stroke="#111" stroke-width="1.2"/><text x="574.3" y="571.8" font-size="8.4" text-anchor="middle" stroke="#111" stroke-width=".28">+</text><path d="M502.6 461.9L560.3 461.9" stroke="#111" stroke-width="1.6"/><path d="M517.1 451.6L575 451.6" stroke="#111" stroke-width="1.6"/><text x="531.1" y="460" font-size="7.5" text-anchor="middle" stroke="#111" stroke-width=".28">*</text><text x="545.6" y="449.5" font-size="7.5" text-anchor="middle" stroke="#111" stroke-width=".28">*</text><text transform="translate(468.5 556.4) rotate(-90)" font-size="9.6" textLength="80" lengthAdjust="spacingAndGlyphs" stroke="#111" stroke-width=".32">Percentage of control</text><text transform="translate(468.2 470.5) rotate(-90)" font-size="9.6" textLength="15.4" lengthAdjust="spacingAndGlyphs" stroke="#111" stroke-width=".32">(%)</text><text x="454.5" y="573" font-size="9.2" textLength="41.5" lengthAdjust="spacingAndGlyphs" stroke="#111" stroke-width=".28">Anti-TNFα</text><text x="525.3" y="593.5" font-size="8.8" textLength="30.3" lengthAdjust="spacingAndGlyphs" stroke="#111" stroke-width=".28">E:T=3:1</text><rect x="611.5" y="454.9" width="11.9" height="6.7" fill="#050505" stroke="#111" stroke-width="1.2"/><text x="630.4" y="461.6" font-size="9.4" textLength="28.5" lengthAdjust="spacingAndGlyphs" stroke="#111" stroke-width=".28">Control</text><rect x="611.5" y="470.1" width="11.9" height="6.6" fill="#b0b0b0" stroke="#111" stroke-width="1.2"/><text x="630.4" y="476.7" font-size="9.4" textLength="46" lengthAdjust="spacingAndGlyphs" stroke="#111" stroke-width=".28">DAC-0.5μM</text><rect x="611.5" y="485.7" width="11.9" height="6.7" fill="#8e8e8e" stroke="#111" stroke-width="1.2"/><text x="630.4" y="492.4" font-size="9.4" textLength="39" lengthAdjust="spacingAndGlyphs" stroke="#111" stroke-width=".28">DAC-1μM</text><text x="509.6" y="612.4" font-size="10.5" textLength="73.4" lengthAdjust="spacingAndGlyphs" stroke="#111" stroke-width=".28">NUGC4 cell lysis</text><path d="M492.9 743.8L492.9 636.2" stroke="#111" stroke-width="1.3"/><path d="M488.9 743.2L492.9 743.2" stroke="#111" stroke-width="1.3"/><text x="486.4" y="746.1" font-size="8.2" text-anchor="end" stroke="#111" stroke-width=".28">0</text><path d="M488.9 707.5L492.9 707.5" stroke="#111" stroke-width="1.3"/><text x="486.4" y="710.4" font-size="8.2" text-anchor="end" stroke="#111" stroke-width=".28">50</text><path d="M488.9 671.9L492.9 671.9" stroke="#111" stroke-width="1.3"/><text x="486.4" y="674.8" font-size="8.2" text-anchor="end" stroke="#111" stroke-width=".28">100</text><path d="M488.9 636.2L492.9 636.2" stroke="#111" stroke-width="1.3"/><text x="486.4" y="639.1" font-size="8.2" text-anchor="end" stroke="#111" stroke-width=".28">150</text><path d="M488.4 743.2L600.1 743.2" stroke="#111" stroke-width="1.3"/><path d="M502.9 671.9L502.9 670" stroke="#333" stroke-width=".9"/><path d="M500.5 670L505.3 670" stroke="#333" stroke-width=".9"/><rect x="498.6" y="672.5" width="8.5" height="70.7" fill="#050505" stroke="#111" stroke-width="1.3"/><path d="M518.7 664.7L518.7 661.9" stroke="#333" stroke-width=".9"/><path d="M516.3 661.9L521.1 661.9" stroke="#333" stroke-width=".9"/><rect x="514.4" y="665.4" width="8.5" height="77.8" fill="#b0b0b0" stroke="#111" stroke-width="1.3"/><path d="M533.7 645.1L533.7 637.4" stroke="#333" stroke-width=".9"/><path d="M531.3 637.4L536.1 637.4" stroke="#333" stroke-width=".9"/><rect x="529.4" y="645.8" width="8.5" height="97.5" fill="#8e8e8e" stroke="#111" stroke-width="1.3"/><path d="M559.5 657.5L559.5 649.8" stroke="#333" stroke-width=".9"/><path d="M557.1 649.8L561.9 649.8" stroke="#333" stroke-width=".9"/><rect x="555.2" y="658.1" width="8.5" height="85.1" fill="#050505" stroke="#111" stroke-width="1.3"/><path d="M574.7 661.2L574.7 654.2" stroke="#333" stroke-width=".9"/><path d="M572.3 654.2L577.1 654.2" stroke="#333" stroke-width=".9"/><rect x="570.4" y="661.9" width="8.5" height="81.3" fill="#b0b0b0" stroke="#111" stroke-width="1.3"/><path d="M590 668.9L590 668.4" stroke="#333" stroke-width=".9"/><path d="M587.6 668.4L592.4 668.4" stroke="#333" stroke-width=".9"/><rect x="585.8" y="669.5" width="8.5" height="73.7" fill="#8e8e8e" stroke="#111" stroke-width="1.3"/><path d="M518.2 743.2L518.2 747.4" stroke="#111" stroke-width="1.2"/><text x="518.2" y="756.8" font-size="8.4" text-anchor="middle" stroke="#111" stroke-width=".28">-</text><path d="M574.3 743.2L574.3 747.4" stroke="#111" stroke-width="1.2"/><text x="574.3" y="756.8" font-size="8.4" text-anchor="middle" stroke="#111" stroke-width=".28">+</text><path d="M533.4 626.9L590.7 626.9" stroke="#111" stroke-width="1.6"/><text x="561.5" y="624.8" font-size="7.5" text-anchor="middle" stroke="#111" stroke-width=".28">*</text><text x="518.3" y="661.7" font-size="7.5" text-anchor="middle" stroke="#111" stroke-width=".28">*</text><text x="533.4" y="637.2" font-size="7.5" text-anchor="middle" stroke="#111" stroke-width=".28">*</text><text transform="translate(468.5 741.5) rotate(-90)" font-size="9.6" textLength="80" lengthAdjust="spacingAndGlyphs" stroke="#111" stroke-width=".32">Percentage of control</text><text transform="translate(468.2 655.6) rotate(-90)" font-size="9.6" textLength="15.4" lengthAdjust="spacingAndGlyphs" stroke="#111" stroke-width=".32">(%)</text><text x="455.2" y="758.3" font-size="9.2" textLength="42" lengthAdjust="spacingAndGlyphs" stroke="#111" stroke-width=".28">Anti-TNFα</text><text x="531.1" y="777.2" font-size="8.8" textLength="30.4" lengthAdjust="spacingAndGlyphs" stroke="#111" stroke-width=".28">E:T=3:1</text><rect x="613.6" y="638.7" width="11.8" height="6.6" fill="#050505" stroke="#111" stroke-width="1.2"/><text x="632.5" y="645.3" font-size="9.4" textLength="28.5" lengthAdjust="spacingAndGlyphs" stroke="#111" stroke-width=".28">Control</text><rect x="613.6" y="653.6" width="11.8" height="6.8" fill="#b0b0b0" stroke="#111" stroke-width="1.2"/><text x="632.5" y="660.3" font-size="9.4" textLength="46" lengthAdjust="spacingAndGlyphs" stroke="#111" stroke-width=".28">DAC-0.5μM</text><rect x="613.6" y="669.1" width="11.8" height="7.2" fill="#8e8e8e" stroke="#111" stroke-width="1.2"/><text x="632.5" y="676" font-size="9.4" textLength="39" lengthAdjust="spacingAndGlyphs" stroke="#111" stroke-width=".28">DAC-1μM</text>
</svg>
</body></html>
